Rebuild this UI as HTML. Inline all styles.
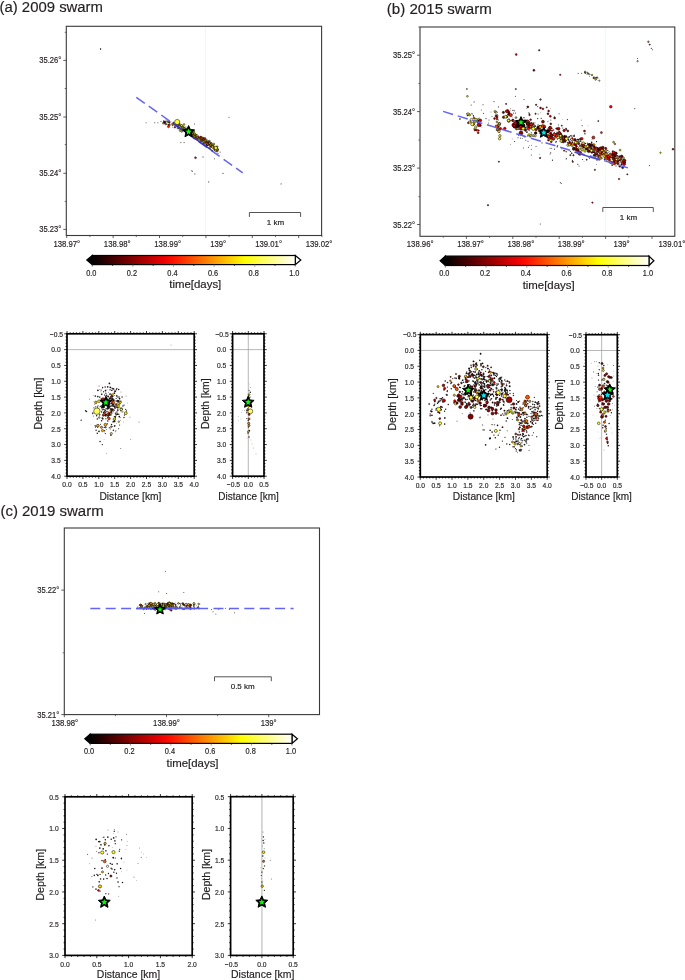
<!DOCTYPE html>
<html><head><meta charset="utf-8"><style>
html,body{margin:0;padding:0;background:#fff;}
svg{display:block;will-change:transform;}
text{font-family:"Liberation Sans",sans-serif;stroke:#231f20;stroke-width:0.18px;}
</style></head><body>
<svg width="685" height="980" viewBox="0 0 685 980" fill="#231f20">
<line x1="205.5" y1="26.3" x2="205.5" y2="235.5" stroke="#f1f6f6" stroke-width="1"/>
<line x1="605.6" y1="27" x2="605.6" y2="236.3" stroke="#f4f8f8" stroke-width="1"/>
<line x1="67" y1="349.62" x2="194.2" y2="349.62" stroke="#9a9a9a" stroke-width="0.7" />
<line x1="232.6" y1="349.62" x2="264" y2="349.62" stroke="#9a9a9a" stroke-width="0.7" />
<line x1="248.3" y1="333.8" x2="248.3" y2="476.2" stroke="#9a9a9a" stroke-width="0.7" />
<line x1="420.3" y1="350.42" x2="547.2" y2="350.42" stroke="#9a9a9a" stroke-width="0.7" />
<line x1="586" y1="350.51" x2="617.3" y2="350.51" stroke="#9a9a9a" stroke-width="0.7" />
<line x1="601.65" y1="334.7" x2="601.65" y2="477" stroke="#9a9a9a" stroke-width="0.7" />
<line x1="261.9" y1="796.7" x2="261.9" y2="955.4" stroke="#c8c8c8" stroke-width="1.4" />
<circle cx="167.08" cy="124.39" r="0.32" fill="#442"/>
<circle cx="163.68" cy="123.75" r="0.47" fill="#442"/>
<circle cx="165.53" cy="123.92" r="0.37" fill="#442"/>
<circle cx="168.66" cy="124.43" r="0.55" fill="#111"/>
<circle cx="176.75" cy="124.88" r="0.32" fill="#442"/>
<circle cx="169.07" cy="122.03" r="0.59" fill="#111"/>
<circle cx="170.42" cy="125.34" r="0.46" fill="#442"/>
<circle cx="166.90" cy="124.21" r="0.54" fill="#1a1a1a"/>
<circle cx="164.76" cy="121.14" r="0.33" fill="#555"/>
<circle cx="164.03" cy="121.39" r="0.32" fill="#1a1a1a"/>
<circle cx="170.86" cy="121.42" r="0.44" fill="#333"/>
<circle cx="168.25" cy="122.79" r="0.37" fill="#1a1a1a"/>
<circle cx="172.76" cy="125.07" r="0.46" fill="#222"/>
<circle cx="172.51" cy="127.12" r="0.39" fill="#111"/>
<circle cx="165.44" cy="119.88" r="0.35" fill="#333"/>
<circle cx="168.46" cy="124.86" r="0.59" fill="#111"/>
<circle cx="174.69" cy="122.57" r="0.39" fill="#555"/>
<circle cx="168.39" cy="121.89" r="0.45" fill="#888"/>
<circle cx="168.91" cy="125.12" r="0.69" fill="#ffa100" stroke="#000" stroke-width="0.5"/>
<circle cx="173.57" cy="122.9" r="0.76" fill="#b30000" stroke="#000" stroke-width="0.5"/>
<circle cx="167.4" cy="121.76" r="0.51" fill="#ffaf00" stroke="#000" stroke-width="0.5"/>
<circle cx="164.28" cy="123.1" r="0.52" fill="#ffaa00" stroke="#000" stroke-width="0.5"/>
<circle cx="167.05" cy="121.11" r="0.53" fill="#ffe300" stroke="#000" stroke-width="0.5"/>
<circle cx="174.89" cy="127.24" r="0.83" fill="#690000" stroke="#000" stroke-width="0.5"/>
<circle cx="169.3" cy="122.22" r="0.88" fill="#e30000" stroke="#000" stroke-width="0.5"/>
<circle cx="165.65" cy="124.33" r="0.59" fill="#ffe900" stroke="#000" stroke-width="0.5"/>
<circle cx="166.29" cy="123.89" r="0.65" fill="#ffff29" stroke="#000" stroke-width="0.5"/>
<circle cx="172.66" cy="124.98" r="0.71" fill="#fff400" stroke="#000" stroke-width="0.5"/>
<circle cx="163.24" cy="123.23" r="0.85" fill="#ffce00" stroke="#000" stroke-width="0.5"/>
<circle cx="168.97" cy="122.43" r="0.54" fill="#ffa100" stroke="#000" stroke-width="0.5"/>
<circle cx="163.89" cy="121.99" r="0.64" fill="#cc0000" stroke="#000" stroke-width="0.5"/>
<circle cx="164.9" cy="122.85" r="0.54" fill="#cf0000" stroke="#000" stroke-width="0.5"/>
<circle cx="175.4" cy="125.43" r="0.6" fill="#fd0000" stroke="#000" stroke-width="0.5"/>
<circle cx="164.86" cy="121.73" r="0.84" fill="#830000" stroke="#000" stroke-width="0.5"/>
<circle cx="169.63" cy="124.33" r="0.64" fill="#ff3d00" stroke="#000" stroke-width="0.5"/>
<circle cx="165.17" cy="122.55" r="0.51" fill="#8b0000" stroke="#000" stroke-width="0.5"/>
<circle cx="182.34" cy="127.43" r="0.46" fill="#555"/>
<circle cx="212.31" cy="145.93" r="0.51" fill="#222"/>
<circle cx="197.12" cy="138.29" r="0.37" fill="#442"/>
<circle cx="209.14" cy="143.17" r="0.40" fill="#1a1a1a"/>
<circle cx="201.42" cy="140.19" r="0.36" fill="#1a1a1a"/>
<circle cx="211.73" cy="142.63" r="0.52" fill="#1a1a1a"/>
<circle cx="185.74" cy="126.88" r="0.60" fill="#888"/>
<circle cx="187.67" cy="131.23" r="0.38" fill="#555"/>
<circle cx="202.26" cy="138.04" r="0.52" fill="#222"/>
<circle cx="214.86" cy="150.42" r="0.41" fill="#1a1a1a"/>
<circle cx="181.03" cy="125.39" r="0.44" fill="#442"/>
<circle cx="211.16" cy="145.66" r="0.44" fill="#555"/>
<circle cx="191.43" cy="131.16" r="0.34" fill="#333"/>
<circle cx="210.09" cy="141.92" r="0.53" fill="#333"/>
<circle cx="214.42" cy="144.89" r="0.33" fill="#555"/>
<circle cx="192.15" cy="134.88" r="0.42" fill="#111"/>
<circle cx="206.23" cy="142.83" r="0.35" fill="#333"/>
<circle cx="209.49" cy="145.19" r="0.34" fill="#888"/>
<circle cx="202.96" cy="136.02" r="0.35" fill="#442"/>
<circle cx="181.19" cy="127.86" r="0.30" fill="#555"/>
<circle cx="205.19" cy="137.43" r="0.43" fill="#888"/>
<circle cx="184.50" cy="128.44" r="0.56" fill="#111"/>
<circle cx="186.74" cy="130.15" r="0.48" fill="#222"/>
<circle cx="198.27" cy="138.86" r="0.55" fill="#111"/>
<circle cx="214.78" cy="146.29" r="0.48" fill="#442"/>
<circle cx="192.94" cy="135.93" r="0.58" fill="#442"/>
<circle cx="180.92" cy="128.28" r="0.56" fill="#888"/>
<circle cx="182.88" cy="130.00" r="0.30" fill="#888"/>
<circle cx="181.57" cy="129.02" r="0.34" fill="#111"/>
<circle cx="188.80" cy="133.79" r="0.46" fill="#442"/>
<circle cx="195.98" cy="136.77" r="0.32" fill="#1a1a1a"/>
<circle cx="189.33" cy="128.27" r="0.53" fill="#442"/>
<circle cx="193.26" cy="138.38" r="0.32" fill="#222"/>
<circle cx="201.42" cy="140.12" r="0.45" fill="#442"/>
<circle cx="184.54" cy="128.81" r="0.54" fill="#442"/>
<circle cx="214.57" cy="149.61" r="0.51" fill="#222"/>
<circle cx="214.32" cy="148.25" r="0.43" fill="#333"/>
<circle cx="181.46" cy="126.53" r="0.43" fill="#111"/>
<circle cx="204.71" cy="140.26" r="0.39" fill="#111"/>
<circle cx="213.43" cy="147.29" r="0.35" fill="#555"/>
<circle cx="203.45" cy="139.71" r="0.34" fill="#333"/>
<circle cx="184.75" cy="130.38" r="0.59" fill="#333"/>
<circle cx="212.52" cy="147.62" r="0.37" fill="#555"/>
<circle cx="193.07" cy="136.74" r="0.45" fill="#222"/>
<circle cx="193.92" cy="134.37" r="0.41" fill="#222"/>
<circle cx="198.98" cy="138.60" r="0.43" fill="#111"/>
<circle cx="192.83" cy="132.66" r="0.59" fill="#111"/>
<circle cx="217.45" cy="148.99" r="0.54" fill="#111"/>
<circle cx="179.78" cy="125.74" r="0.35" fill="#888"/>
<circle cx="179.65" cy="130.25" r="0.43" fill="#555"/>
<circle cx="210.42" cy="144.84" r="0.58" fill="#442"/>
<circle cx="196.30" cy="137.39" r="0.40" fill="#222"/>
<circle cx="178.75" cy="124.92" r="0.32" fill="#111"/>
<circle cx="203.46" cy="138.85" r="0.54" fill="#111"/>
<circle cx="201.43" cy="139.69" r="0.34" fill="#111"/>
<circle cx="189.60" cy="133.70" r="0.47" fill="#222"/>
<circle cx="200.85" cy="141.93" r="0.58" fill="#1a1a1a"/>
<circle cx="186.65" cy="131.25" r="0.35" fill="#222"/>
<circle cx="202.96" cy="139.12" r="0.43" fill="#555"/>
<circle cx="183.58" cy="128.36" r="0.40" fill="#111"/>
<circle cx="217.65" cy="149.55" r="0.83" fill="#de0000" stroke="#000" stroke-width="0.5"/>
<circle cx="186.29" cy="130.31" r="0.8" fill="#ffff37" stroke="#000" stroke-width="0.5"/>
<circle cx="204.82" cy="138.68" r="1.04" fill="#fff400" stroke="#000" stroke-width="0.5"/>
<circle cx="186.01" cy="129.24" r="0.69" fill="#ff8700" stroke="#000" stroke-width="0.5"/>
<circle cx="180.11" cy="130.46" r="0.98" fill="#ffff33" stroke="#000" stroke-width="0.5"/>
<circle cx="213.07" cy="146.24" r="0.79" fill="#ffff39" stroke="#000" stroke-width="0.5"/>
<circle cx="193.65" cy="130.99" r="0.87" fill="#ffe100" stroke="#000" stroke-width="0.5"/>
<circle cx="183.85" cy="128.62" r="0.72" fill="#ffff08" stroke="#000" stroke-width="0.5"/>
<circle cx="189.27" cy="133.29" r="0.62" fill="#ff4c00" stroke="#000" stroke-width="0.5"/>
<circle cx="183.74" cy="128.58" r="0.75" fill="#fffb00" stroke="#000" stroke-width="0.5"/>
<circle cx="203.54" cy="140.75" r="0.64" fill="#ff4300" stroke="#000" stroke-width="0.5"/>
<circle cx="199.57" cy="140.74" r="0.78" fill="#ffff33" stroke="#000" stroke-width="0.5"/>
<circle cx="178.37" cy="128.09" r="0.67" fill="#ff8d00" stroke="#000" stroke-width="0.5"/>
<circle cx="201.38" cy="138.68" r="0.94" fill="#ff6c00" stroke="#000" stroke-width="0.5"/>
<circle cx="188.19" cy="130.83" r="0.97" fill="#ff6e00" stroke="#000" stroke-width="0.5"/>
<circle cx="194.26" cy="134.56" r="0.92" fill="#ffff61" stroke="#000" stroke-width="0.5"/>
<circle cx="208.66" cy="141.49" r="0.61" fill="#ffff4f" stroke="#000" stroke-width="0.5"/>
<circle cx="206.35" cy="141.35" r="1.03" fill="#ffe600" stroke="#000" stroke-width="0.5"/>
<circle cx="178.79" cy="123.38" r="0.77" fill="#ffe200" stroke="#000" stroke-width="0.5"/>
<circle cx="177.99" cy="122.51" r="0.84" fill="#fff900" stroke="#000" stroke-width="0.5"/>
<circle cx="193.88" cy="137.81" r="1" fill="#ffff22" stroke="#000" stroke-width="0.5"/>
<circle cx="206.7" cy="144.03" r="0.81" fill="#ff9400" stroke="#000" stroke-width="0.5"/>
<circle cx="185.84" cy="130.02" r="0.89" fill="#ffff56" stroke="#000" stroke-width="0.5"/>
<circle cx="179.67" cy="125.21" r="1.01" fill="#ffe200" stroke="#000" stroke-width="0.5"/>
<circle cx="202.31" cy="140.58" r="0.75" fill="#ffff3e" stroke="#000" stroke-width="0.5"/>
<circle cx="201.29" cy="141.15" r="0.66" fill="#ffff1c" stroke="#000" stroke-width="0.5"/>
<circle cx="216.49" cy="149.38" r="0.82" fill="#ff5400" stroke="#000" stroke-width="0.5"/>
<circle cx="195.31" cy="136.3" r="0.95" fill="#e20000" stroke="#000" stroke-width="0.5"/>
<circle cx="188.49" cy="132.94" r="0.73" fill="#ffff1f" stroke="#000" stroke-width="0.5"/>
<circle cx="217.41" cy="149.96" r="1.05" fill="#ffff62" stroke="#000" stroke-width="0.5"/>
<circle cx="214.84" cy="148.13" r="0.94" fill="#ffff07" stroke="#000" stroke-width="0.5"/>
<circle cx="201.22" cy="139.59" r="0.88" fill="#ffe900" stroke="#000" stroke-width="0.5"/>
<circle cx="192.61" cy="131.22" r="0.78" fill="#ffff68" stroke="#000" stroke-width="0.5"/>
<circle cx="204.61" cy="141.41" r="0.78" fill="#ff6300" stroke="#000" stroke-width="0.5"/>
<circle cx="191.39" cy="134.26" r="0.75" fill="#ffff0d" stroke="#000" stroke-width="0.5"/>
<circle cx="215.09" cy="148.6" r="0.69" fill="#ffff45" stroke="#000" stroke-width="0.5"/>
<circle cx="186.07" cy="131.39" r="0.99" fill="#ffff64" stroke="#000" stroke-width="0.5"/>
<circle cx="207.49" cy="143.67" r="0.98" fill="#ffe200" stroke="#000" stroke-width="0.5"/>
<circle cx="204.04" cy="140.5" r="1.04" fill="#ffff00" stroke="#000" stroke-width="0.5"/>
<circle cx="208.74" cy="143.28" r="0.95" fill="#ffe000" stroke="#000" stroke-width="0.5"/>
<circle cx="209.02" cy="141.73" r="0.85" fill="#ffe500" stroke="#000" stroke-width="0.5"/>
<circle cx="214.46" cy="149.03" r="0.78" fill="#ffec00" stroke="#000" stroke-width="0.5"/>
<circle cx="213.89" cy="143.92" r="0.85" fill="#ffff10" stroke="#000" stroke-width="0.5"/>
<circle cx="187.71" cy="131.39" r="0.72" fill="#ff7e00" stroke="#000" stroke-width="0.5"/>
<circle cx="193.01" cy="134.44" r="0.9" fill="#ffff35" stroke="#000" stroke-width="0.5"/>
<circle cx="178.44" cy="127.09" r="0.83" fill="#ff7200" stroke="#000" stroke-width="0.5"/>
<circle cx="195.55" cy="134.69" r="0.79" fill="#fff700" stroke="#000" stroke-width="0.5"/>
<circle cx="182.43" cy="129.96" r="0.85" fill="#ffff09" stroke="#000" stroke-width="0.5"/>
<circle cx="209.96" cy="144.7" r="0.99" fill="#ffff46" stroke="#000" stroke-width="0.5"/>
<circle cx="184.7" cy="129.55" r="0.72" fill="#ff6c00" stroke="#000" stroke-width="0.5"/>
<circle cx="200.73" cy="137.65" r="0.84" fill="#ff9500" stroke="#000" stroke-width="0.5"/>
<circle cx="179.16" cy="127.56" r="1" fill="#ffff36" stroke="#000" stroke-width="0.5"/>
<circle cx="194.57" cy="134.3" r="1.04" fill="#ffff12" stroke="#000" stroke-width="0.5"/>
<circle cx="207.02" cy="145.22" r="0.96" fill="#db0000" stroke="#000" stroke-width="0.5"/>
<circle cx="177.78" cy="128" r="0.84" fill="#ffff16" stroke="#000" stroke-width="0.5"/>
<circle cx="209.5" cy="142.97" r="0.7" fill="#ffff6b" stroke="#000" stroke-width="0.5"/>
<circle cx="180.13" cy="127.5" r="0.98" fill="#ff3c00" stroke="#000" stroke-width="0.5"/>
<circle cx="209.49" cy="142.39" r="0.6" fill="#ffff29" stroke="#000" stroke-width="0.5"/>
<circle cx="177.93" cy="124.39" r="0.88" fill="#ffff14" stroke="#000" stroke-width="0.5"/>
<circle cx="209.64" cy="140.91" r="0.64" fill="#ffff66" stroke="#000" stroke-width="0.5"/>
<circle cx="184.13" cy="128.76" r="0.6" fill="#ffff6f" stroke="#000" stroke-width="0.5"/>
<circle cx="186.6" cy="132.91" r="0.74" fill="#ff4f00" stroke="#000" stroke-width="0.5"/>
<circle cx="198.25" cy="137.18" r="0.79" fill="#ffe300" stroke="#000" stroke-width="0.5"/>
<circle cx="184.2" cy="128.88" r="1" fill="#ffe500" stroke="#000" stroke-width="0.5"/>
<circle cx="186.1" cy="128.93" r="0.82" fill="#ffff42" stroke="#000" stroke-width="0.5"/>
<circle cx="190.94" cy="133.69" r="0.78" fill="#fffc00" stroke="#000" stroke-width="0.5"/>
<circle cx="210.83" cy="146.65" r="0.69" fill="#ff4900" stroke="#000" stroke-width="0.5"/>
<circle cx="195.24" cy="136.35" r="0.72" fill="#ff3f00" stroke="#000" stroke-width="0.5"/>
<circle cx="203.21" cy="138.22" r="0.82" fill="#af0000" stroke="#000" stroke-width="0.5"/>
<circle cx="201.83" cy="137.77" r="1.01" fill="#ffdf00" stroke="#000" stroke-width="0.5"/>
<circle cx="201.88" cy="137.81" r="0.68" fill="#ffff41" stroke="#000" stroke-width="0.5"/>
<circle cx="188.7" cy="132.83" r="0.65" fill="#ffef00" stroke="#000" stroke-width="0.5"/>
<circle cx="184.45" cy="128.14" r="0.81" fill="#ffff43" stroke="#000" stroke-width="0.5"/>
<circle cx="211.86" cy="144.37" r="1.04" fill="#ffe800" stroke="#000" stroke-width="0.5"/>
<circle cx="178.72" cy="126.93" r="1" fill="#ffff48" stroke="#000" stroke-width="0.5"/>
<circle cx="191.65" cy="134.21" r="0.95" fill="#ffff50" stroke="#000" stroke-width="0.5"/>
<circle cx="179.8" cy="126.05" r="0.84" fill="#ffff01" stroke="#000" stroke-width="0.5"/>
<circle cx="207.36" cy="142.15" r="0.81" fill="#fff700" stroke="#000" stroke-width="0.5"/>
<circle cx="202.77" cy="139.13" r="0.81" fill="#ff3a00" stroke="#000" stroke-width="0.5"/>
<circle cx="183.85" cy="129.53" r="0.63" fill="#ffff08" stroke="#000" stroke-width="0.5"/>
<circle cx="189.89" cy="132.84" r="0.94" fill="#ffff63" stroke="#000" stroke-width="0.5"/>
<circle cx="188.54" cy="131.5" r="0.92" fill="#ffff50" stroke="#000" stroke-width="0.5"/>
<circle cx="214.68" cy="149.89" r="0.65" fill="#ff6800" stroke="#000" stroke-width="0.5"/>
<circle cx="208.14" cy="144.56" r="0.96" fill="#fd0000" stroke="#000" stroke-width="0.5"/>
<circle cx="181.66" cy="127.25" r="1.02" fill="#ffff3d" stroke="#000" stroke-width="0.5"/>
<circle cx="182.35" cy="127.86" r="0.71" fill="#ff6800" stroke="#000" stroke-width="0.5"/>
<circle cx="209.54" cy="142.97" r="0.78" fill="#ffff0f" stroke="#000" stroke-width="0.5"/>
<circle cx="203.7" cy="139.87" r="0.82" fill="#ffee00" stroke="#000" stroke-width="0.5"/>
<circle cx="193.73" cy="135.19" r="0.88" fill="#ffff11" stroke="#000" stroke-width="0.5"/>
<circle cx="217.37" cy="149.45" r="1.04" fill="#ffeb00" stroke="#000" stroke-width="0.5"/>
<circle cx="195.01" cy="136.34" r="0.84" fill="#ff8a00" stroke="#000" stroke-width="0.5"/>
<circle cx="209.04" cy="143.41" r="0.73" fill="#fffa00" stroke="#000" stroke-width="0.5"/>
<circle cx="186.71" cy="130.41" r="0.68" fill="#fffb00" stroke="#000" stroke-width="0.5"/>
<circle cx="213.45" cy="148.24" r="0.68" fill="#fff800" stroke="#000" stroke-width="0.5"/>
<circle cx="187.22" cy="128.81" r="0.65" fill="#ffe100" stroke="#000" stroke-width="0.5"/>
<circle cx="176.34" cy="123.87" r="1" fill="#ffff16" stroke="#000" stroke-width="0.5"/>
<circle cx="191.38" cy="134.07" r="0.62" fill="#ffff54" stroke="#000" stroke-width="0.5"/>
<circle cx="184.47" cy="128.43" r="0.63" fill="#fff000" stroke="#000" stroke-width="0.5"/>
<circle cx="201.18" cy="139.61" r="0.6" fill="#ffff40" stroke="#000" stroke-width="0.5"/>
<circle cx="191.6" cy="131.42" r="0.62" fill="#ffe100" stroke="#000" stroke-width="0.5"/>
<circle cx="217.01" cy="151.11" r="1.01" fill="#ff9100" stroke="#000" stroke-width="0.5"/>
<circle cx="192.94" cy="134.83" r="0.77" fill="#ffe500" stroke="#000" stroke-width="0.5"/>
<circle cx="178.04" cy="123.62" r="0.78" fill="#ff7f00" stroke="#000" stroke-width="0.5"/>
<circle cx="182.47" cy="127.97" r="0.84" fill="#ffff0d" stroke="#000" stroke-width="0.5"/>
<circle cx="186.47" cy="132.43" r="0.79" fill="#ffff46" stroke="#000" stroke-width="0.5"/>
<circle cx="213.18" cy="146.42" r="0.79" fill="#ffff4a" stroke="#000" stroke-width="0.5"/>
<circle cx="210.07" cy="143.83" r="0.78" fill="#d60000" stroke="#000" stroke-width="0.5"/>
<circle cx="183.06" cy="127.19" r="0.65" fill="#ffff2b" stroke="#000" stroke-width="0.5"/>
<circle cx="191.27" cy="133.38" r="0.62" fill="#ffff50" stroke="#000" stroke-width="0.5"/>
<circle cx="192.99" cy="133.58" r="0.86" fill="#f50000" stroke="#000" stroke-width="0.5"/>
<circle cx="183.42" cy="128.03" r="0.68" fill="#ffff0b" stroke="#000" stroke-width="0.5"/>
<circle cx="207.35" cy="143.71" r="0.96" fill="#ff5500" stroke="#000" stroke-width="0.5"/>
<circle cx="209.84" cy="147.53" r="0.74" fill="#ffff34" stroke="#000" stroke-width="0.5"/>
<circle cx="179.25" cy="126.81" r="0.92" fill="#ffff5e" stroke="#000" stroke-width="0.5"/>
<circle cx="202.36" cy="141.22" r="0.88" fill="#ffff1a" stroke="#000" stroke-width="0.5"/>
<circle cx="200.43" cy="137.3" r="0.62" fill="#b90000" stroke="#000" stroke-width="0.5"/>
<circle cx="190.11" cy="134.77" r="0.97" fill="#ffff5d" stroke="#000" stroke-width="0.5"/>
<circle cx="210.05" cy="147.68" r="0.9" fill="#ffff01" stroke="#000" stroke-width="0.5"/>
<circle cx="193.54" cy="132.02" r="0.95" fill="#fffe00" stroke="#000" stroke-width="0.5"/>
<circle cx="186.14" cy="130.9" r="0.78" fill="#ffff1f" stroke="#000" stroke-width="0.5"/>
<circle cx="181.69" cy="131.56" r="0.81" fill="#ffff31" stroke="#000" stroke-width="0.5"/>
<circle cx="210.36" cy="144.95" r="0.98" fill="#ff6100" stroke="#000" stroke-width="0.5"/>
<circle cx="179.19" cy="125.09" r="0.96" fill="#ffff38" stroke="#000" stroke-width="0.5"/>
<circle cx="177.25" cy="125.8" r="0.66" fill="#ca0000" stroke="#000" stroke-width="0.5"/>
<circle cx="205.35" cy="143.87" r="1" fill="#ffff4c" stroke="#000" stroke-width="0.5"/>
<circle cx="176.59" cy="125.48" r="0.63" fill="#ffff3e" stroke="#000" stroke-width="0.5"/>
<circle cx="179.72" cy="128.24" r="0.73" fill="#ff8e00" stroke="#000" stroke-width="0.5"/>
<circle cx="203.86" cy="143.07" r="0.92" fill="#ffff54" stroke="#000" stroke-width="0.5"/>
<circle cx="201.65" cy="139.55" r="0.88" fill="#d80000" stroke="#000" stroke-width="0.5"/>
<circle cx="186.12" cy="131.39" r="1.03" fill="#ffff2d" stroke="#000" stroke-width="0.5"/>
<circle cx="201.82" cy="139.78" r="0.69" fill="#ffff34" stroke="#000" stroke-width="0.5"/>
<circle cx="187.09" cy="132.08" r="0.75" fill="#ffff4e" stroke="#000" stroke-width="0.5"/>
<circle cx="187.08" cy="130.78" r="0.99" fill="#d80000" stroke="#000" stroke-width="0.5"/>
<circle cx="198.1" cy="136.98" r="0.91" fill="#ff5000" stroke="#000" stroke-width="0.5"/>
<circle cx="197.87" cy="138.7" r="0.77" fill="#ffff09" stroke="#000" stroke-width="0.5"/>
<circle cx="182.94" cy="126.41" r="0.75" fill="#fff600" stroke="#000" stroke-width="0.5"/>
<circle cx="201.34" cy="140.52" r="0.83" fill="#ffff6a" stroke="#000" stroke-width="0.5"/>
<circle cx="212.69" cy="145.97" r="1.02" fill="#ff8700" stroke="#000" stroke-width="0.5"/>
<circle cx="207.29" cy="143.2" r="0.88" fill="#ffff08" stroke="#000" stroke-width="0.5"/>
<circle cx="177.5" cy="126.06" r="0.82" fill="#ffe100" stroke="#000" stroke-width="0.5"/>
<circle cx="178.77" cy="124.59" r="0.84" fill="#ffff10" stroke="#000" stroke-width="0.5"/>
<circle cx="188.87" cy="131.32" r="0.66" fill="#ffff54" stroke="#000" stroke-width="0.5"/>
<circle cx="181.55" cy="129.88" r="0.92" fill="#ffe300" stroke="#000" stroke-width="0.5"/>
<circle cx="181.98" cy="127.85" r="0.9" fill="#ffff51" stroke="#000" stroke-width="0.5"/>
<circle cx="215.54" cy="150.45" r="1" fill="#ffff2b" stroke="#000" stroke-width="0.5"/>
<circle cx="200.88" cy="140.01" r="0.83" fill="#ffee00" stroke="#000" stroke-width="0.5"/>
<circle cx="175.89" cy="124.22" r="0.68" fill="#ffff61" stroke="#000" stroke-width="0.5"/>
<circle cx="180.35" cy="126.76" r="0.88" fill="#fff200" stroke="#000" stroke-width="0.5"/>
<circle cx="194.24" cy="133.07" r="0.89" fill="#ffff31" stroke="#000" stroke-width="0.5"/>
<circle cx="197.46" cy="136.8" r="0.63" fill="#ffff6f" stroke="#000" stroke-width="0.5"/>
<circle cx="207.19" cy="141.21" r="0.77" fill="#ffff61" stroke="#000" stroke-width="0.5"/>
<circle cx="179.27" cy="126.23" r="0.89" fill="#ffff6f" stroke="#000" stroke-width="0.5"/>
<circle cx="187.18" cy="130.34" r="1" fill="#ff0b00" stroke="#000" stroke-width="0.5"/>
<circle cx="187.31" cy="130.3" r="0.62" fill="#ffff3b" stroke="#000" stroke-width="0.5"/>
<circle cx="203.36" cy="143.87" r="0.73" fill="#ff0600" stroke="#000" stroke-width="0.5"/>
<circle cx="180.41" cy="124.82" r="0.83" fill="#ffff60" stroke="#000" stroke-width="0.5"/>
<circle cx="211.25" cy="145.64" r="1.01" fill="#ffff0c" stroke="#000" stroke-width="0.5"/>
<circle cx="200.9" cy="139.91" r="0.77" fill="#ff9d00" stroke="#000" stroke-width="0.5"/>
<circle cx="216.81" cy="149.72" r="0.81" fill="#ffdd00" stroke="#000" stroke-width="0.5"/>
<circle cx="177.76" cy="123.61" r="1.03" fill="#ffff5d" stroke="#000" stroke-width="0.5"/>
<circle cx="209.79" cy="143.07" r="0.85" fill="#ffe000" stroke="#000" stroke-width="0.5"/>
<circle cx="180.18" cy="127.71" r="0.88" fill="#ffff6c" stroke="#000" stroke-width="0.5"/>
<circle cx="205.1" cy="142.42" r="0.89" fill="#ffe400" stroke="#000" stroke-width="0.5"/>
<circle cx="177.9" cy="125.3" r="0.99" fill="#ff4a00" stroke="#000" stroke-width="0.5"/>
<circle cx="216.99" cy="146.86" r="1" fill="#ff8500" stroke="#000" stroke-width="0.5"/>
<circle cx="192.32" cy="133.47" r="0.71" fill="#ffe000" stroke="#000" stroke-width="0.5"/>
<circle cx="214.98" cy="149.66" r="0.64" fill="#ff7c00" stroke="#000" stroke-width="0.5"/>
<circle cx="196.59" cy="135.26" r="0.66" fill="#ff7d00" stroke="#000" stroke-width="0.5"/>
<circle cx="188.62" cy="131.1" r="0.76" fill="#ae0000" stroke="#000" stroke-width="0.5"/>
<circle cx="207.5" cy="144.06" r="1.01" fill="#ff7800" stroke="#000" stroke-width="0.5"/>
<circle cx="203.35" cy="139.83" r="0.92" fill="#ff2300" stroke="#000" stroke-width="0.5"/>
<circle cx="195.61" cy="138.29" r="0.79" fill="#ff2800" stroke="#000" stroke-width="0.5"/>
<circle cx="206.74" cy="143.33" r="0.71" fill="#ffff1d" stroke="#000" stroke-width="0.5"/>
<circle cx="200.66" cy="137.09" r="0.9" fill="#ff1200" stroke="#000" stroke-width="0.5"/>
<circle cx="197.04" cy="135.75" r="0.99" fill="#ffff5f" stroke="#000" stroke-width="0.5"/>
<circle cx="204.92" cy="138.68" r="0.83" fill="#ff4200" stroke="#000" stroke-width="0.5"/>
<circle cx="210.9" cy="144.96" r="0.98" fill="#ffff18" stroke="#000" stroke-width="0.5"/>
<circle cx="211.45" cy="146.08" r="0.82" fill="#ff1000" stroke="#000" stroke-width="0.5"/>
<circle cx="195.37" cy="138.58" r="0.9" fill="#ffff2f" stroke="#000" stroke-width="0.5"/>
<circle cx="201.93" cy="138.19" r="0.72" fill="#ffff20" stroke="#000" stroke-width="0.5"/>
<circle cx="196.98" cy="138.78" r="0.98" fill="#ff2b00" stroke="#000" stroke-width="0.5"/>
<circle cx="206.82" cy="142.22" r="0.84" fill="#ff2a00" stroke="#000" stroke-width="0.5"/>
<circle cx="203.38" cy="141.55" r="0.82" fill="#ffff13" stroke="#000" stroke-width="0.5"/>
<circle cx="207.25" cy="141.49" r="0.7" fill="#ff1100" stroke="#000" stroke-width="0.5"/>
<circle cx="206.18" cy="141.49" r="0.71" fill="#ffff4b" stroke="#000" stroke-width="0.5"/>
<circle cx="206.24" cy="140.41" r="0.89" fill="#ffff3b" stroke="#000" stroke-width="0.5"/>
<circle cx="205.53" cy="141.05" r="0.98" fill="#ffff5f" stroke="#000" stroke-width="0.5"/>
<circle cx="211.52" cy="146.12" r="0.67" fill="#fff000" stroke="#000" stroke-width="0.5"/>
<circle cx="197.23" cy="137.58" r="0.72" fill="#ffe800" stroke="#000" stroke-width="0.5"/>
<circle cx="210.05" cy="145.38" r="0.71" fill="#ffff13" stroke="#000" stroke-width="0.5"/>
<circle cx="194.78" cy="136.36" r="0.69" fill="#fffb00" stroke="#000" stroke-width="0.5"/>
<circle cx="195.94" cy="134.77" r="0.7" fill="#ffdd00" stroke="#000" stroke-width="0.5"/>
<circle cx="198.5" cy="138.97" r="0.83" fill="#ffff4e" stroke="#000" stroke-width="0.5"/>
<circle cx="207.17" cy="140.79" r="0.86" fill="#ffff2f" stroke="#000" stroke-width="0.5"/>
<circle cx="204.87" cy="141.43" r="0.65" fill="#fff700" stroke="#000" stroke-width="0.5"/>
<circle cx="177.2" cy="122" r="2.6" fill="#ffff33" stroke="#000" stroke-width="0.5"/>
<circle cx="215.8" cy="148" r="1.7" fill="#fff800" stroke="#000" stroke-width="0.5"/>
<circle cx="212.5" cy="147" r="1.1" fill="#ffdc00" stroke="#000" stroke-width="0.5"/>
<circle cx="168.5" cy="126.6" r="1.1" fill="#ff1e00" stroke="#000" stroke-width="0.5"/>
<circle cx="172.5" cy="124" r="0.9" fill="#ff9900" stroke="#000" stroke-width="0.5"/>
<circle cx="195.5" cy="157.7" r="0.9" fill="#ff0300" stroke="#000" stroke-width="0.5"/>
<circle cx="100.6" cy="49" r="0.5" fill="#aa0000" stroke="#000" stroke-width="0.5"/>
<circle cx="200" cy="138" r="1" fill="#ff3300" stroke="#000" stroke-width="0.5"/>
<circle cx="206" cy="142" r="0.9" fill="#ff1100" stroke="#000" stroke-width="0.5"/>
<circle cx="181.5" cy="125.5" r="1" fill="#ffea00" stroke="#000" stroke-width="0.5"/>
<circle cx="184" cy="124.5" r="0.9" fill="#ffff00" stroke="#000" stroke-width="0.5"/>
<circle cx="146.10" cy="122.70" r="0.55" fill="#444"/>
<circle cx="154.70" cy="122.70" r="0.55" fill="#444"/>
<circle cx="157.90" cy="122.70" r="0.55" fill="#444"/>
<circle cx="229.00" cy="117.20" r="0.55" fill="#444"/>
<circle cx="194.50" cy="124.00" r="0.55" fill="#444"/>
<circle cx="180.90" cy="142.60" r="0.55" fill="#444"/>
<circle cx="184.10" cy="142.60" r="0.55" fill="#444"/>
<circle cx="203.00" cy="156.90" r="0.55" fill="#444"/>
<circle cx="191.70" cy="170.70" r="0.55" fill="#444"/>
<circle cx="194.90" cy="173.90" r="0.55" fill="#444"/>
<circle cx="208.70" cy="181.90" r="0.55" fill="#444"/>
<circle cx="223.00" cy="173.40" r="0.55" fill="#444"/>
<circle cx="220.10" cy="152.10" r="0.55" fill="#444"/>
<circle cx="214.40" cy="158.70" r="0.55" fill="#444"/>
<circle cx="281.10" cy="183.90" r="0.55" fill="#444"/>
<circle cx="192.40" cy="171.30" r="0.55" fill="#444"/>
<circle cx="161.00" cy="121.50" r="0.55" fill="#444"/>
<circle cx="163.50" cy="120.80" r="0.55" fill="#444"/>
<circle cx="216.50" cy="151.50" r="0.55" fill="#444"/>
<circle cx="218.00" cy="153.50" r="0.55" fill="#444"/>
<line x1="136.3" y1="97.3" x2="242.7" y2="172.8" stroke="#6464f5" stroke-width="1.5" stroke-dasharray="10.4 4.9" stroke-dashoffset="0"/>
<line x1="173.5" y1="123.6" x2="213" y2="151.2" stroke="#3030c8" stroke-width="1.4" />
<polygon points="188.6,125.6 190.31,129.44 194.5,129.88 191.37,132.7 192.24,136.82 188.6,134.71 184.96,136.82 185.83,132.7 182.7,129.88 186.89,129.44" fill="#000" stroke="#000" stroke-width="1" stroke-linejoin="miter"/>
<polygon points="188.6,128.58 189.49,130.57 191.67,130.8 190.04,132.27 190.5,134.41 188.6,133.32 186.7,134.41 187.16,132.27 185.53,130.8 187.71,130.57" fill="#00ff00"/>
<circle cx="477.21" cy="131.68" r="0.42" fill="#2a1010"/>
<circle cx="477.41" cy="125.85" r="0.43" fill="#2a1010"/>
<circle cx="479.74" cy="123.40" r="0.55" fill="#777"/>
<circle cx="478.45" cy="120.55" r="0.50" fill="#111"/>
<circle cx="481.05" cy="123.42" r="0.38" fill="#331111"/>
<circle cx="473.31" cy="116.51" r="0.49" fill="#111"/>
<circle cx="476.23" cy="130.24" r="0.51" fill="#2a1010"/>
<circle cx="477.87" cy="122.05" r="0.65" fill="#1a1a1a"/>
<circle cx="471.69" cy="113.25" r="0.43" fill="#2a1010"/>
<circle cx="466.98" cy="113.65" r="0.62" fill="#444"/>
<circle cx="477.17" cy="119.75" r="0.43" fill="#1a1a1a"/>
<circle cx="470.86" cy="120.81" r="0.64" fill="#1a1a1a"/>
<circle cx="473.39" cy="115.62" r="0.63" fill="#111"/>
<circle cx="478.95" cy="125.95" r="0.49" fill="#331111"/>
<circle cx="477.53" cy="129.92" r="0.39" fill="#444"/>
<circle cx="476.22" cy="130.01" r="0.59" fill="#2a1010"/>
<circle cx="476.39" cy="129.16" r="0.49" fill="#777"/>
<circle cx="479.61" cy="117.88" r="0.46" fill="#222"/>
<circle cx="481.73" cy="126.93" r="0.49" fill="#777"/>
<circle cx="477.55" cy="118.19" r="0.42" fill="#222"/>
<circle cx="471.13" cy="122.67" r="0.54" fill="#111"/>
<circle cx="476.55" cy="119.97" r="0.63" fill="#777"/>
<circle cx="472.16" cy="113.88" r="0.52" fill="#222"/>
<circle cx="479.30" cy="125.93" r="0.35" fill="#111"/>
<circle cx="469.36" cy="113.58" r="0.44" fill="#331111"/>
<circle cx="467.62" cy="115.14" r="0.74" fill="#a00000" stroke="#000" stroke-width="0.5"/>
<circle cx="480.26" cy="125.38" r="1.07" fill="#fd0000" stroke="#000" stroke-width="0.5"/>
<circle cx="478.61" cy="130.45" r="0.72" fill="#c00000" stroke="#000" stroke-width="0.5"/>
<circle cx="477.87" cy="121.65" r="1.13" fill="#920000" stroke="#000" stroke-width="0.5"/>
<circle cx="469.75" cy="115.07" r="0.9" fill="#fffb00" stroke="#000" stroke-width="0.5"/>
<circle cx="468.31" cy="122.81" r="0.9" fill="#f80000" stroke="#000" stroke-width="0.5"/>
<circle cx="473.49" cy="124.38" r="1" fill="#a50000" stroke="#000" stroke-width="0.5"/>
<circle cx="475.75" cy="127.02" r="1.16" fill="#ffff44" stroke="#000" stroke-width="0.5"/>
<circle cx="474.17" cy="122.66" r="1.14" fill="#ffff1f" stroke="#000" stroke-width="0.5"/>
<circle cx="476" cy="119.45" r="1.12" fill="#fffc00" stroke="#000" stroke-width="0.5"/>
<circle cx="474.41" cy="128.95" r="0.73" fill="#fff700" stroke="#000" stroke-width="0.5"/>
<circle cx="474.86" cy="130.19" r="0.78" fill="#aa0000" stroke="#000" stroke-width="0.5"/>
<circle cx="474.06" cy="117.98" r="0.9" fill="#ff7500" stroke="#000" stroke-width="0.5"/>
<circle cx="478.67" cy="119.28" r="0.79" fill="#ffff0c" stroke="#000" stroke-width="0.5"/>
<circle cx="472.3" cy="124.1" r="1.6" fill="#ffff33" stroke="#000" stroke-width="0.5"/>
<circle cx="471.6" cy="119.7" r="1.4" fill="#ffff1e" stroke="#000" stroke-width="0.5"/>
<circle cx="468" cy="113.9" r="1.2" fill="#ffff00" stroke="#000" stroke-width="0.5"/>
<circle cx="469.5" cy="122" r="1.1" fill="#ffff1e" stroke="#000" stroke-width="0.5"/>
<circle cx="474.5" cy="121.5" r="1" fill="#ffea00" stroke="#000" stroke-width="0.5"/>
<circle cx="478.9" cy="124.8" r="1.8" fill="#cb0000" stroke="#000" stroke-width="0.5"/>
<circle cx="480.4" cy="120.4" r="1.3" fill="#cb0000" stroke="#000" stroke-width="0.5"/>
<circle cx="476.5" cy="130" r="1" fill="#ed0000" stroke="#000" stroke-width="0.5"/>
<circle cx="478.2" cy="132.8" r="0.9" fill="#aa0000" stroke="#000" stroke-width="0.5"/>
<circle cx="466.9" cy="89" r="0.6" fill="#ffdc00" stroke="#000" stroke-width="0.5"/>
<circle cx="467.4" cy="96.3" r="0.9" fill="#ffff0a" stroke="#000" stroke-width="0.5"/>
<circle cx="459.9" cy="119" r="0.6" fill="#ffbb00" stroke="#000" stroke-width="0.5"/>
<circle cx="497.98" cy="125.72" r="0.54" fill="#111"/>
<circle cx="498.50" cy="119.99" r="0.47" fill="#333"/>
<circle cx="497.46" cy="117.85" r="0.30" fill="#1a1a1a"/>
<circle cx="501.07" cy="129.59" r="0.32" fill="#442"/>
<circle cx="499.54" cy="131.98" r="0.48" fill="#442"/>
<circle cx="497.14" cy="114.25" r="0.56" fill="#111"/>
<circle cx="498.07" cy="115.63" r="0.50" fill="#333"/>
<circle cx="497.88" cy="125.51" r="0.56" fill="#333"/>
<circle cx="497.92" cy="129.06" r="0.57" fill="#555"/>
<circle cx="495.49" cy="111.38" r="0.39" fill="#555"/>
<circle cx="497.32" cy="116.86" r="0.39" fill="#333"/>
<circle cx="494.69" cy="112.03" r="0.47" fill="#111"/>
<circle cx="497.83" cy="122.48" r="0.46" fill="#888"/>
<circle cx="495.85" cy="113.82" r="0.58" fill="#333"/>
<circle cx="497.29" cy="112.32" r="0.50" fill="#442"/>
<circle cx="495.85" cy="125.10" r="0.44" fill="#333"/>
<circle cx="499.06" cy="123.46" r="0.74" fill="#ff6d00" stroke="#000" stroke-width="0.5"/>
<circle cx="498.65" cy="125.4" r="1.03" fill="#fff200" stroke="#000" stroke-width="0.5"/>
<circle cx="496.71" cy="116.03" r="0.76" fill="#ff3600" stroke="#000" stroke-width="0.5"/>
<circle cx="499.54" cy="123.85" r="1.16" fill="#ff6000" stroke="#000" stroke-width="0.5"/>
<circle cx="498.46" cy="127.06" r="0.77" fill="#c30000" stroke="#000" stroke-width="0.5"/>
<circle cx="499.42" cy="123.6" r="1.15" fill="#ffab00" stroke="#000" stroke-width="0.5"/>
<circle cx="495.93" cy="111.74" r="0.73" fill="#ffe300" stroke="#000" stroke-width="0.5"/>
<circle cx="499.04" cy="125.12" r="1" fill="#fff000" stroke="#000" stroke-width="0.5"/>
<circle cx="498.04" cy="125.09" r="0.86" fill="#ffe600" stroke="#000" stroke-width="0.5"/>
<circle cx="496.84" cy="122" r="0.76" fill="#ffb500" stroke="#000" stroke-width="0.5"/>
<circle cx="497.56" cy="129.78" r="0.94" fill="#d20000" stroke="#000" stroke-width="0.5"/>
<circle cx="496.98" cy="117.26" r="0.84" fill="#e30000" stroke="#000" stroke-width="0.5"/>
<circle cx="500.04" cy="129.31" r="1" fill="#ffe600" stroke="#000" stroke-width="0.5"/>
<circle cx="495" cy="111.52" r="0.99" fill="#ffbc00" stroke="#000" stroke-width="0.5"/>
<circle cx="499.6" cy="138.7" r="1.2" fill="#ffff1e" stroke="#000" stroke-width="0.5"/>
<circle cx="499.9" cy="135.8" r="1.2" fill="#ffff0a" stroke="#000" stroke-width="0.5"/>
<circle cx="496.5" cy="126.5" r="1.4" fill="#ff4700" stroke="#000" stroke-width="0.5"/>
<circle cx="497.5" cy="129.5" r="1.3" fill="#ff5500" stroke="#000" stroke-width="0.5"/>
<circle cx="499" cy="131.5" r="1.2" fill="#ffea00" stroke="#000" stroke-width="0.5"/>
<circle cx="496" cy="116" r="1" fill="#cb0000" stroke="#000" stroke-width="0.5"/>
<circle cx="497" cy="119" r="1" fill="#ff3300" stroke="#000" stroke-width="0.5"/>
<circle cx="494.5" cy="118.5" r="0.9" fill="#950000" stroke="#000" stroke-width="0.5"/>
<circle cx="500.5" cy="128.5" r="1.1" fill="#cb0000" stroke="#000" stroke-width="0.5"/>
<circle cx="481.30" cy="110.00" r="0.55" fill="#555"/>
<circle cx="483.50" cy="113.30" r="0.60" fill="#444"/>
<circle cx="486.00" cy="118.50" r="0.65" fill="#555"/>
<circle cx="489.00" cy="120.00" r="0.62" fill="#555"/>
<circle cx="492.00" cy="116.50" r="0.52" fill="#555"/>
<circle cx="491.00" cy="112.00" r="0.49" fill="#444"/>
<circle cx="488.50" cy="123.00" r="0.52" fill="#444"/>
<circle cx="511.12" cy="120.41" r="0.52" fill="#222"/>
<circle cx="512.75" cy="119.57" r="0.51" fill="#777"/>
<circle cx="512.14" cy="114.16" r="0.38" fill="#331111"/>
<circle cx="507.85" cy="114.58" r="0.59" fill="#444"/>
<circle cx="509.07" cy="118.13" r="0.49" fill="#1a1a1a"/>
<circle cx="512.26" cy="117.04" r="0.35" fill="#2a1010"/>
<circle cx="507.6" cy="111.05" r="1.48" fill="#e30000" stroke="#000" stroke-width="0.5"/>
<circle cx="508.8" cy="120.76" r="1.53" fill="#8b0000" stroke="#000" stroke-width="0.5"/>
<circle cx="508.89" cy="112.27" r="1.12" fill="#a70000" stroke="#000" stroke-width="0.5"/>
<circle cx="506.63" cy="116.77" r="1.24" fill="#630000" stroke="#000" stroke-width="0.5"/>
<circle cx="506.74" cy="111.27" r="1.38" fill="#db0000" stroke="#000" stroke-width="0.5"/>
<circle cx="508.97" cy="114.14" r="1.31" fill="#550000" stroke="#000" stroke-width="0.5"/>
<circle cx="512.9" cy="120.39" r="1.29" fill="#710000" stroke="#000" stroke-width="0.5"/>
<circle cx="510.79" cy="115.11" r="1.57" fill="#ff2000" stroke="#000" stroke-width="0.5"/>
<circle cx="503.38" cy="112.41" r="1.11" fill="#570000" stroke="#000" stroke-width="0.5"/>
<circle cx="508.57" cy="120.45" r="1.27" fill="#ffff4f" stroke="#000" stroke-width="0.5"/>
<circle cx="503.64" cy="117.18" r="1.24" fill="#c70000" stroke="#000" stroke-width="0.5"/>
<circle cx="505.57" cy="116.77" r="1.38" fill="#ffff11" stroke="#000" stroke-width="0.5"/>
<circle cx="504.8" cy="128.5" r="1.3" fill="#cb0000" stroke="#000" stroke-width="0.5"/>
<circle cx="556.17" cy="141.43" r="0.66" fill="#1a1a1a"/>
<circle cx="555.51" cy="135.31" r="0.56" fill="#222"/>
<circle cx="615.99" cy="165.89" r="0.52" fill="#331111"/>
<circle cx="614.40" cy="158.89" r="0.78" fill="#444"/>
<circle cx="596.98" cy="149.65" r="0.77" fill="#2a1010"/>
<circle cx="518.82" cy="129.21" r="0.83" fill="#444"/>
<circle cx="595.58" cy="155.93" r="0.71" fill="#2a1010"/>
<circle cx="597.58" cy="154.04" r="0.59" fill="#111"/>
<circle cx="555.45" cy="136.96" r="0.63" fill="#2a1010"/>
<circle cx="539.77" cy="133.48" r="0.50" fill="#444"/>
<circle cx="613.58" cy="162.99" r="0.78" fill="#1a1a1a"/>
<circle cx="616.46" cy="161.00" r="0.80" fill="#444"/>
<circle cx="527.78" cy="135.92" r="0.66" fill="#111"/>
<circle cx="617.24" cy="158.78" r="0.53" fill="#222"/>
<circle cx="550.10" cy="133.37" r="0.58" fill="#111"/>
<circle cx="583.63" cy="147.35" r="0.52" fill="#444"/>
<circle cx="564.02" cy="140.00" r="0.81" fill="#2a1010"/>
<circle cx="611.13" cy="156.31" r="0.55" fill="#222"/>
<circle cx="576.44" cy="146.99" r="0.60" fill="#777"/>
<circle cx="533.51" cy="124.32" r="0.82" fill="#111"/>
<circle cx="530.90" cy="127.45" r="0.68" fill="#444"/>
<circle cx="614.16" cy="156.60" r="0.67" fill="#222"/>
<circle cx="527.38" cy="124.10" r="0.76" fill="#222"/>
<circle cx="562.65" cy="136.95" r="0.58" fill="#2a1010"/>
<circle cx="545.59" cy="134.33" r="0.81" fill="#111"/>
<circle cx="605.90" cy="156.93" r="0.72" fill="#2a1010"/>
<circle cx="604.12" cy="153.44" r="0.62" fill="#1a1a1a"/>
<circle cx="563.03" cy="139.81" r="0.60" fill="#222"/>
<circle cx="566.01" cy="128.50" r="0.82" fill="#1a1a1a"/>
<circle cx="544.07" cy="134.12" r="0.68" fill="#1a1a1a"/>
<circle cx="590.91" cy="155.88" r="0.57" fill="#111"/>
<circle cx="604.44" cy="159.32" r="0.77" fill="#1a1a1a"/>
<circle cx="538.08" cy="124.86" r="0.71" fill="#444"/>
<circle cx="583.86" cy="146.86" r="0.50" fill="#444"/>
<circle cx="594.64" cy="153.31" r="0.64" fill="#444"/>
<circle cx="617.45" cy="155.53" r="0.60" fill="#444"/>
<circle cx="610.46" cy="156.02" r="0.67" fill="#111"/>
<circle cx="559.99" cy="136.43" r="0.73" fill="#1a1a1a"/>
<circle cx="535.26" cy="126.20" r="0.79" fill="#222"/>
<circle cx="517.57" cy="123.24" r="0.80" fill="#222"/>
<circle cx="574.17" cy="136.28" r="0.66" fill="#331111"/>
<circle cx="521.68" cy="123.64" r="0.79" fill="#222"/>
<circle cx="600.02" cy="154.57" r="0.80" fill="#331111"/>
<circle cx="595.09" cy="158.15" r="0.83" fill="#2a1010"/>
<circle cx="563.19" cy="140.59" r="0.51" fill="#777"/>
<circle cx="570.39" cy="151.34" r="0.58" fill="#1a1a1a"/>
<circle cx="532.27" cy="129.01" r="0.61" fill="#331111"/>
<circle cx="604.41" cy="155.82" r="0.74" fill="#1a1a1a"/>
<circle cx="543.29" cy="130.89" r="0.79" fill="#444"/>
<circle cx="580.86" cy="137.70" r="0.54" fill="#777"/>
<circle cx="524.16" cy="125.06" r="0.56" fill="#222"/>
<circle cx="528.24" cy="121.91" r="0.60" fill="#111"/>
<circle cx="527.21" cy="126.70" r="0.81" fill="#331111"/>
<circle cx="579.73" cy="145.45" r="0.70" fill="#444"/>
<circle cx="559.17" cy="134.13" r="0.83" fill="#111"/>
<circle cx="619.56" cy="157.02" r="0.79" fill="#331111"/>
<circle cx="516.78" cy="127.40" r="0.84" fill="#111"/>
<circle cx="601.32" cy="150.86" r="0.62" fill="#2a1010"/>
<circle cx="606.95" cy="157.72" r="0.70" fill="#222"/>
<circle cx="604.58" cy="154.79" r="0.68" fill="#444"/>
<circle cx="618.34" cy="158.78" r="0.59" fill="#2a1010"/>
<circle cx="587.43" cy="149.04" r="0.57" fill="#222"/>
<circle cx="562.64" cy="137.32" r="0.68" fill="#111"/>
<circle cx="540.15" cy="126.05" r="0.85" fill="#2a1010"/>
<circle cx="584.13" cy="147.72" r="0.78" fill="#111"/>
<circle cx="517.37" cy="122.76" r="0.74" fill="#222"/>
<circle cx="585.20" cy="143.45" r="0.78" fill="#111"/>
<circle cx="583.53" cy="145.39" r="0.65" fill="#111"/>
<circle cx="544.74" cy="136.05" r="0.61" fill="#444"/>
<circle cx="530.10" cy="136.75" r="0.82" fill="#222"/>
<circle cx="522.25" cy="129.43" r="0.71" fill="#1a1a1a"/>
<circle cx="566.21" cy="129.63" r="0.82" fill="#331111"/>
<circle cx="546.63" cy="130.93" r="0.59" fill="#111"/>
<circle cx="597.06" cy="149.73" r="0.74" fill="#1a1a1a"/>
<circle cx="585.14" cy="150.67" r="0.57" fill="#444"/>
<circle cx="554.38" cy="137.09" r="0.67" fill="#777"/>
<circle cx="549.63" cy="130.35" r="0.58" fill="#1a1a1a"/>
<circle cx="537.64" cy="118.55" r="0.64" fill="#222"/>
<circle cx="532.75" cy="124.62" r="0.83" fill="#222"/>
<circle cx="577.60" cy="139.52" r="0.85" fill="#222"/>
<circle cx="519.64" cy="125.35" r="0.51" fill="#331111"/>
<circle cx="520.31" cy="128.31" r="0.52" fill="#2a1010"/>
<circle cx="608.21" cy="152.13" r="0.62" fill="#777"/>
<circle cx="525.53" cy="127.81" r="0.76" fill="#1a1a1a"/>
<circle cx="557.55" cy="145.99" r="0.73" fill="#1a1a1a"/>
<circle cx="591.65" cy="142.41" r="0.79" fill="#331111"/>
<circle cx="525.04" cy="120.84" r="0.80" fill="#777"/>
<circle cx="624.80" cy="162.18" r="0.72" fill="#444"/>
<circle cx="526.94" cy="132.15" r="0.80" fill="#111"/>
<circle cx="560.77" cy="134.51" r="0.64" fill="#331111"/>
<circle cx="530.68" cy="126.54" r="0.80" fill="#222"/>
<circle cx="612.39" cy="153.99" r="0.66" fill="#2a1010"/>
<circle cx="547.21" cy="129.19" r="0.62" fill="#222"/>
<circle cx="559.15" cy="132.03" r="0.61" fill="#777"/>
<circle cx="597.77" cy="149.66" r="0.85" fill="#2a1010"/>
<circle cx="563.47" cy="138.91" r="0.55" fill="#331111"/>
<circle cx="555.36" cy="137.93" r="0.58" fill="#777"/>
<circle cx="617.78" cy="155.93" r="0.79" fill="#222"/>
<circle cx="535.03" cy="135.47" r="0.65" fill="#111"/>
<circle cx="516.06" cy="124.18" r="0.60" fill="#331111"/>
<circle cx="596.98" cy="159.96" r="0.69" fill="#2a1010"/>
<circle cx="574.30" cy="135.21" r="0.64" fill="#222"/>
<circle cx="517.88" cy="124.19" r="0.74" fill="#2a1010"/>
<circle cx="620.26" cy="158.45" r="0.53" fill="#222"/>
<circle cx="571.85" cy="136.03" r="0.73" fill="#331111"/>
<circle cx="530.64" cy="128.81" r="0.64" fill="#777"/>
<circle cx="582.45" cy="149.15" r="0.85" fill="#222"/>
<circle cx="591.30" cy="148.48" r="0.63" fill="#222"/>
<circle cx="623.39" cy="160.34" r="0.79" fill="#331111"/>
<circle cx="533.99" cy="126.13" r="0.62" fill="#331111"/>
<circle cx="613.97" cy="154.96" r="0.65" fill="#1a1a1a"/>
<circle cx="572.37" cy="142.14" r="0.81" fill="#2a1010"/>
<circle cx="534.94" cy="125.73" r="0.72" fill="#331111"/>
<circle cx="526.38" cy="121.17" r="0.75" fill="#444"/>
<circle cx="561.05" cy="134.07" r="0.78" fill="#222"/>
<circle cx="596.53" cy="141.52" r="0.64" fill="#111"/>
<circle cx="580.73" cy="141.15" r="0.73" fill="#1a1a1a"/>
<circle cx="533.30" cy="128.52" r="0.80" fill="#331111"/>
<circle cx="573.61" cy="135.91" r="0.55" fill="#1a1a1a"/>
<circle cx="559.67" cy="137.92" r="0.77" fill="#111"/>
<circle cx="516.12" cy="126.19" r="0.53" fill="#331111"/>
<circle cx="570.61" cy="135.77" r="0.78" fill="#444"/>
<circle cx="514.31" cy="125.11" r="0.77" fill="#222"/>
<circle cx="529.82" cy="127.21" r="0.51" fill="#444"/>
<circle cx="524.10" cy="129.21" r="0.82" fill="#331111"/>
<circle cx="520.04" cy="127.28" r="0.51" fill="#1a1a1a"/>
<circle cx="611.08" cy="162.43" r="0.70" fill="#111"/>
<circle cx="564.16" cy="135.37" r="0.52" fill="#331111"/>
<circle cx="610.03" cy="154.04" r="0.61" fill="#777"/>
<circle cx="605.68" cy="152.48" r="0.84" fill="#2a1010"/>
<circle cx="620.66" cy="166.66" r="0.52" fill="#444"/>
<circle cx="558.01" cy="134.96" r="0.61" fill="#444"/>
<circle cx="569.43" cy="136.78" r="0.78" fill="#1a1a1a"/>
<circle cx="522.92" cy="127.66" r="0.50" fill="#222"/>
<circle cx="557.40" cy="138.96" r="0.63" fill="#222"/>
<circle cx="574.99" cy="138.70" r="0.52" fill="#111"/>
<circle cx="560.59" cy="139.29" r="0.82" fill="#331111"/>
<circle cx="541.18" cy="131.20" r="0.58" fill="#111"/>
<circle cx="544.40" cy="134.02" r="0.51" fill="#777"/>
<circle cx="531.37" cy="126.87" r="0.59" fill="#777"/>
<circle cx="602.53" cy="151.24" r="0.69" fill="#2a1010"/>
<circle cx="606.89" cy="155.82" r="0.62" fill="#444"/>
<circle cx="560.29" cy="134.00" r="0.72" fill="#331111"/>
<circle cx="536.08" cy="133.30" r="0.58" fill="#2a1010"/>
<circle cx="590.02" cy="146.46" r="0.83" fill="#222"/>
<circle cx="584.92" cy="133.80" r="0.69" fill="#2a1010"/>
<circle cx="580.43" cy="148.96" r="0.57" fill="#777"/>
<circle cx="598.10" cy="150.41" r="0.80" fill="#444"/>
<circle cx="600.76" cy="150.61" r="0.63" fill="#444"/>
<circle cx="594.07" cy="150.09" r="0.75" fill="#444"/>
<circle cx="533.53" cy="128.51" r="0.80" fill="#222"/>
<circle cx="534.67" cy="129.45" r="0.82" fill="#777"/>
<circle cx="570.51" cy="139.19" r="0.60" fill="#111"/>
<circle cx="593.24" cy="152.32" r="0.79" fill="#2a1010"/>
<circle cx="545.19" cy="132.90" r="0.64" fill="#2a1010"/>
<circle cx="598.18" cy="157.63" r="0.55" fill="#222"/>
<circle cx="534.98" cy="122.80" r="0.63" fill="#777"/>
<circle cx="589.11" cy="145.00" r="0.73" fill="#444"/>
<circle cx="564.76" cy="141.47" r="0.85" fill="#2a1010"/>
<circle cx="554.18" cy="132.36" r="0.54" fill="#331111"/>
<circle cx="596.66" cy="148.69" r="0.75" fill="#111"/>
<circle cx="560.59" cy="132.96" r="0.76" fill="#1a1a1a"/>
<circle cx="557.70" cy="132.61" r="0.51" fill="#222"/>
<circle cx="582.64" cy="150.24" r="0.58" fill="#2a1010"/>
<circle cx="594.74" cy="147.90" r="0.59" fill="#2a1010"/>
<circle cx="592.02" cy="139.82" r="0.54" fill="#777"/>
<circle cx="602.34" cy="148.36" r="0.60" fill="#111"/>
<circle cx="613.54" cy="152.02" r="0.84" fill="#444"/>
<circle cx="526.58" cy="123.20" r="0.78" fill="#1a1a1a"/>
<circle cx="602.70" cy="147.71" r="0.65" fill="#444"/>
<circle cx="555.85" cy="142.53" r="0.76" fill="#777"/>
<circle cx="539.65" cy="125.79" r="0.83" fill="#2a1010"/>
<circle cx="617.70" cy="158.99" r="0.74" fill="#444"/>
<circle cx="589.83" cy="151.14" r="0.68" fill="#444"/>
<circle cx="593.79" cy="144.39" r="0.65" fill="#331111"/>
<circle cx="608.00" cy="156.32" r="0.57" fill="#444"/>
<circle cx="607.78" cy="150.37" r="0.70" fill="#1a1a1a"/>
<circle cx="573.17" cy="147.29" r="0.69" fill="#1a1a1a"/>
<circle cx="621.51" cy="160.22" r="0.56" fill="#222"/>
<circle cx="559.94" cy="137.33" r="0.55" fill="#444"/>
<circle cx="567.40" cy="142.50" r="0.67" fill="#444"/>
<circle cx="542.22" cy="125.79" r="0.83" fill="#222"/>
<circle cx="592.16" cy="148.41" r="0.55" fill="#444"/>
<circle cx="530.20" cy="123.66" r="0.79" fill="#331111"/>
<circle cx="562.20" cy="135.54" r="0.83" fill="#444"/>
<circle cx="589.87" cy="144.05" r="0.77" fill="#777"/>
<circle cx="537.71" cy="126.38" r="0.74" fill="#111"/>
<circle cx="554.41" cy="134.70" r="0.60" fill="#1a1a1a"/>
<circle cx="525.72" cy="127.62" r="0.61" fill="#111"/>
<circle cx="533.13" cy="122.78" r="0.60" fill="#331111"/>
<circle cx="521.11" cy="127.21" r="0.50" fill="#777"/>
<circle cx="568.55" cy="139.35" r="0.76" fill="#222"/>
<circle cx="526.37" cy="122.71" r="0.67" fill="#2a1010"/>
<circle cx="568.56" cy="140.23" r="0.63" fill="#111"/>
<circle cx="587.37" cy="143.24" r="0.72" fill="#444"/>
<circle cx="586.99" cy="146.77" r="0.55" fill="#111"/>
<circle cx="515.44" cy="127.48" r="0.64" fill="#1a1a1a"/>
<circle cx="546.59" cy="133.93" r="0.80" fill="#444"/>
<circle cx="531.34" cy="132.78" r="0.77" fill="#777"/>
<circle cx="549.87" cy="129.63" r="0.73" fill="#222"/>
<circle cx="550.87" cy="130.28" r="0.63" fill="#331111"/>
<circle cx="615.64" cy="160.51" r="0.52" fill="#111"/>
<circle cx="578.48" cy="140.59" r="0.72" fill="#777"/>
<circle cx="625.43" cy="162.03" r="0.58" fill="#2a1010"/>
<circle cx="569.80" cy="140.71" r="0.56" fill="#222"/>
<circle cx="582.04" cy="143.14" r="0.58" fill="#1a1a1a"/>
<circle cx="564.35" cy="136.10" r="0.84" fill="#111"/>
<circle cx="621.61" cy="164.43" r="0.58" fill="#222"/>
<circle cx="513.97" cy="120.43" r="0.79" fill="#777"/>
<circle cx="607.77" cy="152.92" r="0.53" fill="#111"/>
<circle cx="571.80" cy="140.55" r="0.65" fill="#222"/>
<circle cx="518.61" cy="135.13" r="0.56" fill="#444"/>
<circle cx="532.09" cy="128.13" r="0.60" fill="#2a1010"/>
<circle cx="604.61" cy="151.43" r="0.66" fill="#331111"/>
<circle cx="551.93" cy="128.53" r="0.66" fill="#331111"/>
<circle cx="612.14" cy="165.04" r="0.84" fill="#331111"/>
<circle cx="523.95" cy="117.70" r="0.78" fill="#444"/>
<circle cx="590.58" cy="145.43" r="0.70" fill="#222"/>
<circle cx="568.78" cy="137.22" r="0.73" fill="#222"/>
<circle cx="612.56" cy="151.33" r="0.80" fill="#1a1a1a"/>
<circle cx="590.26" cy="146.95" r="0.66" fill="#111"/>
<circle cx="531.36" cy="122.73" r="0.83" fill="#222"/>
<circle cx="574.34" cy="139.12" r="0.70" fill="#2a1010"/>
<circle cx="542.95" cy="132.00" r="0.57" fill="#444"/>
<circle cx="524.35" cy="136.58" r="0.80" fill="#222"/>
<circle cx="585.81" cy="148.78" r="0.75" fill="#1a1a1a"/>
<circle cx="574.05" cy="147.55" r="0.58" fill="#331111"/>
<circle cx="592.15" cy="148.01" r="0.70" fill="#777"/>
<circle cx="562.76" cy="127.97" r="0.53" fill="#2a1010"/>
<circle cx="529.56" cy="122.09" r="0.79" fill="#111"/>
<circle cx="584.14" cy="145.56" r="0.84" fill="#331111"/>
<circle cx="524.63" cy="128.01" r="0.56" fill="#1a1a1a"/>
<circle cx="578.38" cy="139.59" r="0.77" fill="#1a1a1a"/>
<circle cx="556.97" cy="132.02" r="0.52" fill="#111"/>
<circle cx="515.26" cy="121.59" r="0.71" fill="#1a1a1a"/>
<circle cx="565.09" cy="139.73" r="0.82" fill="#111"/>
<circle cx="582.96" cy="146.78" r="0.81" fill="#331111"/>
<circle cx="526.53" cy="125.87" r="0.63" fill="#777"/>
<circle cx="553.62" cy="130.09" r="0.77" fill="#444"/>
<circle cx="514.38" cy="124.14" r="0.68" fill="#331111"/>
<circle cx="618.15" cy="163.13" r="0.75" fill="#111"/>
<circle cx="605.94" cy="152.07" r="0.61" fill="#331111"/>
<circle cx="525.72" cy="129.28" r="0.82" fill="#444"/>
<circle cx="542.16" cy="126.36" r="0.51" fill="#331111"/>
<circle cx="561.84" cy="142.06" r="0.78" fill="#2a1010"/>
<circle cx="525.80" cy="127.07" r="0.69" fill="#222"/>
<circle cx="612.26" cy="154.61" r="0.73" fill="#777"/>
<circle cx="529.29" cy="130.46" r="0.74" fill="#777"/>
<circle cx="545.12" cy="127.40" r="0.66" fill="#111"/>
<circle cx="551.59" cy="136.22" r="0.81" fill="#777"/>
<circle cx="605.79" cy="158.65" r="0.53" fill="#331111"/>
<circle cx="605.91" cy="152.67" r="0.67" fill="#1a1a1a"/>
<circle cx="592.78" cy="145.22" r="0.66" fill="#1a1a1a"/>
<circle cx="611.70" cy="155.69" r="0.62" fill="#1a1a1a"/>
<circle cx="549.35" cy="131.44" r="0.55" fill="#331111"/>
<circle cx="517.80" cy="126.70" r="0.66" fill="#331111"/>
<circle cx="565.40" cy="141.73" r="0.83" fill="#222"/>
<circle cx="514.25" cy="121.00" r="0.51" fill="#2a1010"/>
<circle cx="612.25" cy="155.38" r="0.71" fill="#444"/>
<circle cx="530.48" cy="125.55" r="0.60" fill="#331111"/>
<circle cx="624.99" cy="160.53" r="1.02" fill="#990000" stroke="#000" stroke-width="0.5"/>
<circle cx="529.69" cy="124.66" r="1.51" fill="#690000" stroke="#000" stroke-width="0.5"/>
<circle cx="564.15" cy="130.56" r="1.21" fill="#b20000" stroke="#000" stroke-width="0.5"/>
<circle cx="602.3" cy="153.45" r="0.83" fill="#c70000" stroke="#000" stroke-width="0.5"/>
<circle cx="550.53" cy="138.97" r="1.03" fill="#e50000" stroke="#000" stroke-width="0.5"/>
<circle cx="611.44" cy="156.23" r="1.33" fill="#ff2700" stroke="#000" stroke-width="0.5"/>
<circle cx="602.44" cy="149.98" r="1.15" fill="#ffff35" stroke="#000" stroke-width="0.5"/>
<circle cx="624.11" cy="163.99" r="1.5" fill="#f50000" stroke="#000" stroke-width="0.5"/>
<circle cx="557.95" cy="137.4" r="1.4" fill="#fffc00" stroke="#000" stroke-width="0.5"/>
<circle cx="529.93" cy="126.52" r="1.21" fill="#c70000" stroke="#000" stroke-width="0.5"/>
<circle cx="522.03" cy="123.16" r="0.87" fill="#fffc00" stroke="#000" stroke-width="0.5"/>
<circle cx="548.94" cy="130.07" r="1.57" fill="#ff1600" stroke="#000" stroke-width="0.5"/>
<circle cx="615.36" cy="161.76" r="1.45" fill="#670000" stroke="#000" stroke-width="0.5"/>
<circle cx="615.96" cy="153.22" r="1.26" fill="#540000" stroke="#000" stroke-width="0.5"/>
<circle cx="518.86" cy="123.46" r="1.1" fill="#ffc900" stroke="#000" stroke-width="0.5"/>
<circle cx="569.62" cy="141.93" r="0.75" fill="#570000" stroke="#000" stroke-width="0.5"/>
<circle cx="521.36" cy="126.89" r="1.43" fill="#a90000" stroke="#000" stroke-width="0.5"/>
<circle cx="513.69" cy="123.52" r="0.71" fill="#540000" stroke="#000" stroke-width="0.5"/>
<circle cx="548.66" cy="137.1" r="1.48" fill="#8d0000" stroke="#000" stroke-width="0.5"/>
<circle cx="582.02" cy="145.47" r="1.48" fill="#d40000" stroke="#000" stroke-width="0.5"/>
<circle cx="583.28" cy="143.28" r="1.4" fill="#ffdc00" stroke="#000" stroke-width="0.5"/>
<circle cx="618.32" cy="160.52" r="0.99" fill="#770000" stroke="#000" stroke-width="0.5"/>
<circle cx="560.85" cy="135.99" r="1.34" fill="#db0000" stroke="#000" stroke-width="0.5"/>
<circle cx="515.01" cy="125.34" r="1.46" fill="#7d0000" stroke="#000" stroke-width="0.5"/>
<circle cx="551.44" cy="137.29" r="1.31" fill="#db0000" stroke="#000" stroke-width="0.5"/>
<circle cx="623.84" cy="160.21" r="1.26" fill="#fc0000" stroke="#000" stroke-width="0.5"/>
<circle cx="516.89" cy="123.62" r="1.28" fill="#940000" stroke="#000" stroke-width="0.5"/>
<circle cx="593.97" cy="146.55" r="1.18" fill="#700000" stroke="#000" stroke-width="0.5"/>
<circle cx="576.95" cy="141.59" r="0.79" fill="#ff3000" stroke="#000" stroke-width="0.5"/>
<circle cx="531.21" cy="125.01" r="1.58" fill="#ffff06" stroke="#000" stroke-width="0.5"/>
<circle cx="527.73" cy="124.22" r="1.19" fill="#b00000" stroke="#000" stroke-width="0.5"/>
<circle cx="544.17" cy="126.52" r="1.51" fill="#ff2400" stroke="#000" stroke-width="0.5"/>
<circle cx="602.22" cy="149.43" r="1.18" fill="#a80000" stroke="#000" stroke-width="0.5"/>
<circle cx="563.18" cy="138.86" r="1.52" fill="#ffdb00" stroke="#000" stroke-width="0.5"/>
<circle cx="538.14" cy="127.4" r="1.41" fill="#a20000" stroke="#000" stroke-width="0.5"/>
<circle cx="514.38" cy="126.75" r="1.31" fill="#6d0000" stroke="#000" stroke-width="0.5"/>
<circle cx="558.47" cy="128.68" r="1.52" fill="#a20000" stroke="#000" stroke-width="0.5"/>
<circle cx="609.58" cy="156.8" r="1.34" fill="#7c0000" stroke="#000" stroke-width="0.5"/>
<circle cx="550.63" cy="133.1" r="1.08" fill="#bd0000" stroke="#000" stroke-width="0.5"/>
<circle cx="567.88" cy="145.21" r="1.13" fill="#ffff2b" stroke="#000" stroke-width="0.5"/>
<circle cx="620.32" cy="160.15" r="0.82" fill="#5c0000" stroke="#000" stroke-width="0.5"/>
<circle cx="513.17" cy="125.74" r="0.99" fill="#c60000" stroke="#000" stroke-width="0.5"/>
<circle cx="538.15" cy="127.37" r="0.75" fill="#ff2300" stroke="#000" stroke-width="0.5"/>
<circle cx="594.18" cy="155.37" r="1.1" fill="#620000" stroke="#000" stroke-width="0.5"/>
<circle cx="617.44" cy="161.3" r="1.32" fill="#db0000" stroke="#000" stroke-width="0.5"/>
<circle cx="614.79" cy="160.36" r="1.15" fill="#ad0000" stroke="#000" stroke-width="0.5"/>
<circle cx="565.45" cy="140.35" r="1.06" fill="#a00000" stroke="#000" stroke-width="0.5"/>
<circle cx="589.25" cy="145.22" r="1.51" fill="#6a0000" stroke="#000" stroke-width="0.5"/>
<circle cx="583.54" cy="147.3" r="0.71" fill="#9a0000" stroke="#000" stroke-width="0.5"/>
<circle cx="579" cy="141.83" r="0.74" fill="#ffa300" stroke="#000" stroke-width="0.5"/>
<circle cx="526.78" cy="121.46" r="1.56" fill="#fff200" stroke="#000" stroke-width="0.5"/>
<circle cx="513.19" cy="124.69" r="1.27" fill="#cb0000" stroke="#000" stroke-width="0.5"/>
<circle cx="571.97" cy="145.03" r="1.46" fill="#ffa600" stroke="#000" stroke-width="0.5"/>
<circle cx="619.66" cy="166.25" r="0.9" fill="#a70000" stroke="#000" stroke-width="0.5"/>
<circle cx="515.97" cy="117.59" r="0.94" fill="#ffba00" stroke="#000" stroke-width="0.5"/>
<circle cx="518.27" cy="126.9" r="0.94" fill="#560000" stroke="#000" stroke-width="0.5"/>
<circle cx="567.85" cy="130.91" r="0.95" fill="#830000" stroke="#000" stroke-width="0.5"/>
<circle cx="624.31" cy="162.6" r="1.08" fill="#800000" stroke="#000" stroke-width="0.5"/>
<circle cx="531.36" cy="124.74" r="1.38" fill="#ff1e00" stroke="#000" stroke-width="0.5"/>
<circle cx="614.58" cy="156.55" r="1.15" fill="#ffff17" stroke="#000" stroke-width="0.5"/>
<circle cx="596.19" cy="148.57" r="1.59" fill="#ff1000" stroke="#000" stroke-width="0.5"/>
<circle cx="523.28" cy="125.2" r="1.34" fill="#950000" stroke="#000" stroke-width="0.5"/>
<circle cx="590.76" cy="147.68" r="1.1" fill="#fa0000" stroke="#000" stroke-width="0.5"/>
<circle cx="580.4" cy="139.25" r="1.12" fill="#940000" stroke="#000" stroke-width="0.5"/>
<circle cx="556.47" cy="135.82" r="1.44" fill="#ff2500" stroke="#000" stroke-width="0.5"/>
<circle cx="551.29" cy="141.72" r="0.94" fill="#b60000" stroke="#000" stroke-width="0.5"/>
<circle cx="520.84" cy="128.86" r="1.42" fill="#c20000" stroke="#000" stroke-width="0.5"/>
<circle cx="599.62" cy="151.34" r="1.47" fill="#990000" stroke="#000" stroke-width="0.5"/>
<circle cx="575.66" cy="148.85" r="1.6" fill="#ae0000" stroke="#000" stroke-width="0.5"/>
<circle cx="554.76" cy="135" r="1.03" fill="#db0000" stroke="#000" stroke-width="0.5"/>
<circle cx="587.3" cy="148.94" r="0.86" fill="#ffff41" stroke="#000" stroke-width="0.5"/>
<circle cx="586.04" cy="148.99" r="1.03" fill="#f70000" stroke="#000" stroke-width="0.5"/>
<circle cx="560.6" cy="134.87" r="1.33" fill="#7e0000" stroke="#000" stroke-width="0.5"/>
<circle cx="589.13" cy="144.76" r="1.3" fill="#750000" stroke="#000" stroke-width="0.5"/>
<circle cx="564.29" cy="137.35" r="0.8" fill="#ab0000" stroke="#000" stroke-width="0.5"/>
<circle cx="533.47" cy="127.57" r="0.82" fill="#a20000" stroke="#000" stroke-width="0.5"/>
<circle cx="583.7" cy="145.44" r="1.17" fill="#e50000" stroke="#000" stroke-width="0.5"/>
<circle cx="575.41" cy="144.84" r="1.23" fill="#940000" stroke="#000" stroke-width="0.5"/>
<circle cx="616" cy="158.92" r="0.93" fill="#870000" stroke="#000" stroke-width="0.5"/>
<circle cx="573.42" cy="139.88" r="0.82" fill="#ffca00" stroke="#000" stroke-width="0.5"/>
<circle cx="601.14" cy="152.55" r="1.53" fill="#f20000" stroke="#000" stroke-width="0.5"/>
<circle cx="517.86" cy="125.03" r="1.09" fill="#710000" stroke="#000" stroke-width="0.5"/>
<circle cx="542.94" cy="121.69" r="1.46" fill="#9d0000" stroke="#000" stroke-width="0.5"/>
<circle cx="621.54" cy="164.19" r="0.76" fill="#ba0000" stroke="#000" stroke-width="0.5"/>
<circle cx="522.96" cy="122.32" r="1.1" fill="#840000" stroke="#000" stroke-width="0.5"/>
<circle cx="619.5" cy="156.62" r="0.8" fill="#c40000" stroke="#000" stroke-width="0.5"/>
<circle cx="593.97" cy="144.81" r="1.09" fill="#ffb600" stroke="#000" stroke-width="0.5"/>
<circle cx="520.87" cy="123.99" r="1.38" fill="#6e0000" stroke="#000" stroke-width="0.5"/>
<circle cx="536.08" cy="129.69" r="1.19" fill="#ffca00" stroke="#000" stroke-width="0.5"/>
<circle cx="552.02" cy="130.6" r="0.78" fill="#ff0700" stroke="#000" stroke-width="0.5"/>
<circle cx="514.41" cy="126.59" r="1.15" fill="#e10000" stroke="#000" stroke-width="0.5"/>
<circle cx="564.72" cy="138.92" r="1" fill="#ff0500" stroke="#000" stroke-width="0.5"/>
<circle cx="598.22" cy="149.23" r="1.46" fill="#830000" stroke="#000" stroke-width="0.5"/>
<circle cx="519.21" cy="123.1" r="0.87" fill="#ffb800" stroke="#000" stroke-width="0.5"/>
<circle cx="575.16" cy="139.9" r="1.17" fill="#800000" stroke="#000" stroke-width="0.5"/>
<circle cx="588.6" cy="146.4" r="1.5" fill="#eb0000" stroke="#000" stroke-width="0.5"/>
<circle cx="541.1" cy="133.13" r="1.04" fill="#930000" stroke="#000" stroke-width="0.5"/>
<circle cx="547.82" cy="133.55" r="1.29" fill="#ffff0e" stroke="#000" stroke-width="0.5"/>
<circle cx="592.71" cy="150.82" r="0.83" fill="#ffd300" stroke="#000" stroke-width="0.5"/>
<circle cx="565.78" cy="136.95" r="1.36" fill="#590000" stroke="#000" stroke-width="0.5"/>
<circle cx="621.62" cy="156.46" r="1.44" fill="#6c0000" stroke="#000" stroke-width="0.5"/>
<circle cx="563.15" cy="138.06" r="1.58" fill="#830000" stroke="#000" stroke-width="0.5"/>
<circle cx="594.51" cy="152.06" r="0.88" fill="#670000" stroke="#000" stroke-width="0.5"/>
<circle cx="609.1" cy="157.24" r="1.49" fill="#fe0000" stroke="#000" stroke-width="0.5"/>
<circle cx="514.45" cy="125.5" r="1.35" fill="#dc0000" stroke="#000" stroke-width="0.5"/>
<circle cx="538.96" cy="128.37" r="1.42" fill="#650000" stroke="#000" stroke-width="0.5"/>
<circle cx="602.84" cy="147.53" r="1.34" fill="#8a0000" stroke="#000" stroke-width="0.5"/>
<circle cx="536.28" cy="129.57" r="0.9" fill="#ff1500" stroke="#000" stroke-width="0.5"/>
<circle cx="563.55" cy="138.09" r="1.08" fill="#ff2b00" stroke="#000" stroke-width="0.5"/>
<circle cx="528.31" cy="128.59" r="1.38" fill="#ff1e00" stroke="#000" stroke-width="0.5"/>
<circle cx="591.89" cy="151.92" r="1.35" fill="#710000" stroke="#000" stroke-width="0.5"/>
<circle cx="574.87" cy="143.78" r="1.3" fill="#c80000" stroke="#000" stroke-width="0.5"/>
<circle cx="548.36" cy="140.15" r="0.84" fill="#a10000" stroke="#000" stroke-width="0.5"/>
<circle cx="591.36" cy="149.17" r="0.87" fill="#820000" stroke="#000" stroke-width="0.5"/>
<circle cx="517.25" cy="126.5" r="1.02" fill="#6b0000" stroke="#000" stroke-width="0.5"/>
<circle cx="587.83" cy="145.81" r="1.14" fill="#b10000" stroke="#000" stroke-width="0.5"/>
<circle cx="613.08" cy="157.4" r="1.52" fill="#730000" stroke="#000" stroke-width="0.5"/>
<circle cx="549.61" cy="127.69" r="0.88" fill="#af0000" stroke="#000" stroke-width="0.5"/>
<circle cx="600.41" cy="149.25" r="1.51" fill="#760000" stroke="#000" stroke-width="0.5"/>
<circle cx="578.92" cy="143.71" r="0.87" fill="#760000" stroke="#000" stroke-width="0.5"/>
<circle cx="533.07" cy="127.92" r="1.02" fill="#790000" stroke="#000" stroke-width="0.5"/>
<circle cx="553.4" cy="138.88" r="1.43" fill="#fa0000" stroke="#000" stroke-width="0.5"/>
<circle cx="595.98" cy="154.53" r="0.8" fill="#810000" stroke="#000" stroke-width="0.5"/>
<circle cx="516.5" cy="128.76" r="1.07" fill="#f60000" stroke="#000" stroke-width="0.5"/>
<circle cx="606.89" cy="156.08" r="0.77" fill="#ff1700" stroke="#000" stroke-width="0.5"/>
<circle cx="554.66" cy="133.61" r="0.7" fill="#b80000" stroke="#000" stroke-width="0.5"/>
<circle cx="548.52" cy="130.97" r="0.94" fill="#6e0000" stroke="#000" stroke-width="0.5"/>
<circle cx="531.05" cy="126.75" r="0.99" fill="#970000" stroke="#000" stroke-width="0.5"/>
<circle cx="517.24" cy="128.77" r="0.93" fill="#ffc900" stroke="#000" stroke-width="0.5"/>
<circle cx="573.64" cy="148.97" r="1.35" fill="#6e0000" stroke="#000" stroke-width="0.5"/>
<circle cx="524.22" cy="125.45" r="0.8" fill="#b20000" stroke="#000" stroke-width="0.5"/>
<circle cx="591.9" cy="150.14" r="0.78" fill="#b80000" stroke="#000" stroke-width="0.5"/>
<circle cx="622.68" cy="167.57" r="1.08" fill="#5f0000" stroke="#000" stroke-width="0.5"/>
<circle cx="576.56" cy="146.32" r="0.9" fill="#b00000" stroke="#000" stroke-width="0.5"/>
<circle cx="570.35" cy="143.64" r="1.44" fill="#d30000" stroke="#000" stroke-width="0.5"/>
<circle cx="551.33" cy="135.14" r="1.4" fill="#760000" stroke="#000" stroke-width="0.5"/>
<circle cx="522.62" cy="127" r="1.38" fill="#670000" stroke="#000" stroke-width="0.5"/>
<circle cx="548.02" cy="137.47" r="0.73" fill="#db0000" stroke="#000" stroke-width="0.5"/>
<circle cx="572.25" cy="138.37" r="0.85" fill="#ff1b00" stroke="#000" stroke-width="0.5"/>
<circle cx="535.63" cy="132.99" r="1.34" fill="#510000" stroke="#000" stroke-width="0.5"/>
<circle cx="612.93" cy="155.13" r="0.73" fill="#790000" stroke="#000" stroke-width="0.5"/>
<circle cx="521.25" cy="124.53" r="1.48" fill="#7e0000" stroke="#000" stroke-width="0.5"/>
<circle cx="560.48" cy="135.68" r="1.29" fill="#fffc00" stroke="#000" stroke-width="0.5"/>
<circle cx="605.76" cy="148.49" r="1.15" fill="#a60000" stroke="#000" stroke-width="0.5"/>
<circle cx="547.99" cy="132.32" r="0.75" fill="#b20000" stroke="#000" stroke-width="0.5"/>
<circle cx="589.42" cy="149.51" r="1.28" fill="#fff000" stroke="#000" stroke-width="0.5"/>
<circle cx="596.51" cy="153.53" r="1.23" fill="#9f0000" stroke="#000" stroke-width="0.5"/>
<circle cx="520.76" cy="126.58" r="1.38" fill="#e40000" stroke="#000" stroke-width="0.5"/>
<circle cx="581.9" cy="138.69" r="1.21" fill="#ff0700" stroke="#000" stroke-width="0.5"/>
<circle cx="617.44" cy="160.43" r="1.3" fill="#9e0000" stroke="#000" stroke-width="0.5"/>
<circle cx="600.64" cy="151.56" r="1.01" fill="#c50000" stroke="#000" stroke-width="0.5"/>
<circle cx="540.26" cy="126.97" r="1.3" fill="#ffe100" stroke="#000" stroke-width="0.5"/>
<circle cx="549.93" cy="127.43" r="0.97" fill="#c60000" stroke="#000" stroke-width="0.5"/>
<circle cx="613.07" cy="154.06" r="0.97" fill="#940000" stroke="#000" stroke-width="0.5"/>
<circle cx="522.65" cy="126.22" r="1.05" fill="#550000" stroke="#000" stroke-width="0.5"/>
<circle cx="551.09" cy="135.31" r="1.5" fill="#930000" stroke="#000" stroke-width="0.5"/>
<circle cx="541.14" cy="129.87" r="0.89" fill="#7f0000" stroke="#000" stroke-width="0.5"/>
<circle cx="614.66" cy="155.87" r="0.84" fill="#7c0000" stroke="#000" stroke-width="0.5"/>
<circle cx="604.24" cy="155.82" r="1.49" fill="#ffcd00" stroke="#000" stroke-width="0.5"/>
<circle cx="548.49" cy="136.49" r="1.25" fill="#ff2f00" stroke="#000" stroke-width="0.5"/>
<circle cx="559.27" cy="131.79" r="0.71" fill="#d60000" stroke="#000" stroke-width="0.5"/>
<circle cx="542.69" cy="125.94" r="1.36" fill="#ff3100" stroke="#000" stroke-width="0.5"/>
<circle cx="596.73" cy="148.68" r="1.38" fill="#620000" stroke="#000" stroke-width="0.5"/>
<circle cx="598.14" cy="151.18" r="1.16" fill="#720000" stroke="#000" stroke-width="0.5"/>
<circle cx="546.18" cy="134.93" r="0.97" fill="#ff1300" stroke="#000" stroke-width="0.5"/>
<circle cx="618.1" cy="160.31" r="1.29" fill="#a60000" stroke="#000" stroke-width="0.5"/>
<circle cx="515.29" cy="123.34" r="1.49" fill="#d80000" stroke="#000" stroke-width="0.5"/>
<circle cx="556.89" cy="133.64" r="0.84" fill="#890000" stroke="#000" stroke-width="0.5"/>
<circle cx="617.92" cy="163.69" r="1.13" fill="#c40000" stroke="#000" stroke-width="0.5"/>
<circle cx="543.83" cy="133.51" r="1.16" fill="#ffb600" stroke="#000" stroke-width="0.5"/>
<circle cx="577.56" cy="150.15" r="1.58" fill="#6f0000" stroke="#000" stroke-width="0.5"/>
<circle cx="598.7" cy="155.77" r="1.07" fill="#c50000" stroke="#000" stroke-width="0.5"/>
<circle cx="585.29" cy="146.82" r="1.14" fill="#ffd600" stroke="#000" stroke-width="0.5"/>
<circle cx="615.6" cy="155.74" r="1.15" fill="#920000" stroke="#000" stroke-width="0.5"/>
<circle cx="611.35" cy="162.75" r="0.88" fill="#d20000" stroke="#000" stroke-width="0.5"/>
<circle cx="550.23" cy="127.75" r="1.52" fill="#c80000" stroke="#000" stroke-width="0.5"/>
<circle cx="600.97" cy="151.74" r="1.02" fill="#e70000" stroke="#000" stroke-width="0.5"/>
<circle cx="614.94" cy="153.62" r="1.54" fill="#a50000" stroke="#000" stroke-width="0.5"/>
<circle cx="554.45" cy="135.05" r="0.99" fill="#fc0000" stroke="#000" stroke-width="0.5"/>
<circle cx="525.49" cy="130.26" r="1.15" fill="#650000" stroke="#000" stroke-width="0.5"/>
<circle cx="614.13" cy="155.87" r="0.74" fill="#930000" stroke="#000" stroke-width="0.5"/>
<circle cx="587.24" cy="148.95" r="0.77" fill="#a90000" stroke="#000" stroke-width="0.5"/>
<circle cx="559.36" cy="133.18" r="1.43" fill="#d80000" stroke="#000" stroke-width="0.5"/>
<circle cx="563.25" cy="141.56" r="1.33" fill="#9b0000" stroke="#000" stroke-width="0.5"/>
<circle cx="554.37" cy="134.59" r="1.58" fill="#ff2600" stroke="#000" stroke-width="0.5"/>
<circle cx="525.13" cy="121.27" r="1.45" fill="#ff2b00" stroke="#000" stroke-width="0.5"/>
<circle cx="533.33" cy="124.15" r="0.86" fill="#ff1800" stroke="#000" stroke-width="0.5"/>
<circle cx="527.69" cy="121.46" r="1.41" fill="#f40000" stroke="#000" stroke-width="0.5"/>
<circle cx="568.81" cy="143.28" r="1" fill="#ff1500" stroke="#000" stroke-width="0.5"/>
<circle cx="529.86" cy="126.67" r="1.53" fill="#6b0000" stroke="#000" stroke-width="0.5"/>
<circle cx="591.44" cy="145.03" r="1.53" fill="#510000" stroke="#000" stroke-width="0.5"/>
<circle cx="578.17" cy="143.6" r="0.89" fill="#ff1d00" stroke="#000" stroke-width="0.5"/>
<circle cx="588.7" cy="151.13" r="1.47" fill="#6c0000" stroke="#000" stroke-width="0.5"/>
<circle cx="608.62" cy="155.82" r="0.95" fill="#c80000" stroke="#000" stroke-width="0.5"/>
<circle cx="616.76" cy="161.07" r="1.04" fill="#a00000" stroke="#000" stroke-width="0.5"/>
<circle cx="613.5" cy="152.25" r="1.34" fill="#ff0a00" stroke="#000" stroke-width="0.5"/>
<circle cx="569.44" cy="144.65" r="1.25" fill="#ffcd00" stroke="#000" stroke-width="0.5"/>
<circle cx="556.46" cy="128.57" r="0.77" fill="#900000" stroke="#000" stroke-width="0.5"/>
<circle cx="527.77" cy="123.75" r="1.56" fill="#890000" stroke="#000" stroke-width="0.5"/>
<circle cx="600.62" cy="148.39" r="1.58" fill="#9a0000" stroke="#000" stroke-width="0.5"/>
<circle cx="608.50" cy="156.71" r="0.44" fill="#222"/>
<circle cx="601.14" cy="158.02" r="0.60" fill="#222"/>
<circle cx="620.02" cy="162.56" r="0.51" fill="#111"/>
<circle cx="600.91" cy="151.11" r="0.59" fill="#222"/>
<circle cx="613.53" cy="161.04" r="0.53" fill="#2a1010"/>
<circle cx="606.68" cy="160.00" r="0.61" fill="#111"/>
<circle cx="596.21" cy="156.60" r="0.39" fill="#2a1010"/>
<circle cx="624.04" cy="163.85" r="0.54" fill="#1a1a1a"/>
<circle cx="604.59" cy="151.42" r="0.47" fill="#222"/>
<circle cx="618.10" cy="162.22" r="0.57" fill="#777"/>
<circle cx="602.23" cy="158.08" r="0.56" fill="#222"/>
<circle cx="622.52" cy="161.01" r="0.57" fill="#111"/>
<circle cx="604.97" cy="155.52" r="0.60" fill="#444"/>
<circle cx="616.38" cy="159.34" r="0.43" fill="#222"/>
<circle cx="613.45" cy="158.18" r="0.44" fill="#222"/>
<circle cx="599.43" cy="154.39" r="0.62" fill="#777"/>
<circle cx="616.11" cy="161.91" r="0.45" fill="#777"/>
<circle cx="622.26" cy="162.31" r="0.49" fill="#777"/>
<circle cx="624.26" cy="163.30" r="0.51" fill="#222"/>
<circle cx="609.75" cy="151.77" r="0.43" fill="#111"/>
<circle cx="610.09" cy="161.94" r="1.24" fill="#ff8c00" stroke="#000" stroke-width="0.5"/>
<circle cx="600.32" cy="158.31" r="1.35" fill="#ffdd00" stroke="#000" stroke-width="0.5"/>
<circle cx="611.35" cy="156.31" r="1.26" fill="#ffbb00" stroke="#000" stroke-width="0.5"/>
<circle cx="600.34" cy="154.38" r="1.33" fill="#ff8a00" stroke="#000" stroke-width="0.5"/>
<circle cx="617.61" cy="158.26" r="1.23" fill="#ffcc00" stroke="#000" stroke-width="0.5"/>
<circle cx="614.21" cy="163.51" r="1.39" fill="#f20000" stroke="#000" stroke-width="0.5"/>
<circle cx="621.3" cy="158.91" r="0.87" fill="#ff4d00" stroke="#000" stroke-width="0.5"/>
<circle cx="615.69" cy="162.4" r="1.33" fill="#ff6300" stroke="#000" stroke-width="0.5"/>
<circle cx="616.89" cy="159.66" r="0.95" fill="#ffcf00" stroke="#000" stroke-width="0.5"/>
<circle cx="623.74" cy="161.96" r="0.83" fill="#fb0000" stroke="#000" stroke-width="0.5"/>
<circle cx="608.51" cy="156.62" r="1.37" fill="#ff1400" stroke="#000" stroke-width="0.5"/>
<circle cx="596.99" cy="150.58" r="1.12" fill="#e60000" stroke="#000" stroke-width="0.5"/>
<circle cx="596.24" cy="148.53" r="1.19" fill="#ff6300" stroke="#000" stroke-width="0.5"/>
<circle cx="613" cy="162.25" r="1.12" fill="#ff0200" stroke="#000" stroke-width="0.5"/>
<circle cx="613.07" cy="156.23" r="1.2" fill="#dd0000" stroke="#000" stroke-width="0.5"/>
<circle cx="599.81" cy="157.13" r="1.3" fill="#ff7500" stroke="#000" stroke-width="0.5"/>
<circle cx="616.8" cy="160.09" r="1.39" fill="#d30000" stroke="#000" stroke-width="0.5"/>
<circle cx="610.11" cy="160.2" r="0.85" fill="#ff8a00" stroke="#000" stroke-width="0.5"/>
<circle cx="602.49" cy="153.57" r="0.98" fill="#ff6500" stroke="#000" stroke-width="0.5"/>
<circle cx="604.38" cy="151.46" r="0.85" fill="#ff7200" stroke="#000" stroke-width="0.5"/>
<circle cx="594.67" cy="149.06" r="1.24" fill="#d70000" stroke="#000" stroke-width="0.5"/>
<circle cx="622.25" cy="162.42" r="0.83" fill="#e30000" stroke="#000" stroke-width="0.5"/>
<circle cx="601.92" cy="150.41" r="1.27" fill="#ffbd00" stroke="#000" stroke-width="0.5"/>
<circle cx="605.85" cy="150.92" r="0.9" fill="#fffd00" stroke="#000" stroke-width="0.5"/>
<circle cx="608.67" cy="159.21" r="1.25" fill="#e60000" stroke="#000" stroke-width="0.5"/>
<circle cx="610.67" cy="154.13" r="1.13" fill="#ff8200" stroke="#000" stroke-width="0.5"/>
<circle cx="601.4" cy="154.17" r="0.85" fill="#ff2200" stroke="#000" stroke-width="0.5"/>
<circle cx="597.78" cy="156.24" r="0.93" fill="#ff6f00" stroke="#000" stroke-width="0.5"/>
<circle cx="618.07" cy="159.37" r="1.19" fill="#ff7b00" stroke="#000" stroke-width="0.5"/>
<circle cx="621.46" cy="160.86" r="1.06" fill="#ff9200" stroke="#000" stroke-width="0.5"/>
<circle cx="612.93" cy="159.06" r="0.9" fill="#ffd700" stroke="#000" stroke-width="0.5"/>
<circle cx="606.12" cy="154.15" r="1.38" fill="#ff8800" stroke="#000" stroke-width="0.5"/>
<circle cx="613.88" cy="159.13" r="1.19" fill="#d70000" stroke="#000" stroke-width="0.5"/>
<circle cx="596.15" cy="149.22" r="1.03" fill="#ff7700" stroke="#000" stroke-width="0.5"/>
<circle cx="616.4" cy="159.67" r="1.11" fill="#ffff26" stroke="#000" stroke-width="0.5"/>
<circle cx="523.2" cy="128.5" r="1.5" fill="#ffff33" stroke="#000" stroke-width="0.5"/>
<circle cx="533.3" cy="128.7" r="1.7" fill="#ffff33" stroke="#000" stroke-width="0.5"/>
<circle cx="530.6" cy="126.7" r="1.2" fill="#ff5500" stroke="#000" stroke-width="0.5"/>
<circle cx="529" cy="134.8" r="1.1" fill="#ffff0a" stroke="#000" stroke-width="0.5"/>
<circle cx="531" cy="135.3" r="1.1" fill="#ffff0a" stroke="#000" stroke-width="0.5"/>
<circle cx="533.2" cy="135.6" r="1.1" fill="#ffff1e" stroke="#000" stroke-width="0.5"/>
<circle cx="535.2" cy="135.8" r="1.1" fill="#ffff0a" stroke="#000" stroke-width="0.5"/>
<circle cx="550.8" cy="140.3" r="1.2" fill="#ffff0a" stroke="#000" stroke-width="0.5"/>
<circle cx="521" cy="133.1" r="2" fill="#950000" stroke="#000" stroke-width="0.5"/>
<circle cx="561.1" cy="141" r="1.3" fill="#ffff1e" stroke="#000" stroke-width="0.5"/>
<circle cx="566.4" cy="138.7" r="1.5" fill="#ffff33" stroke="#000" stroke-width="0.5"/>
<circle cx="575.7" cy="142.5" r="1.3" fill="#ffff0a" stroke="#000" stroke-width="0.5"/>
<circle cx="579.8" cy="147.7" r="1.3" fill="#ffff1e" stroke="#000" stroke-width="0.5"/>
<circle cx="582.1" cy="149.8" r="1.2" fill="#ffff0a" stroke="#000" stroke-width="0.5"/>
<circle cx="585" cy="151" r="1.2" fill="#ffff0a" stroke="#000" stroke-width="0.5"/>
<circle cx="591.5" cy="150.6" r="1.3" fill="#ffff1e" stroke="#000" stroke-width="0.5"/>
<circle cx="587.4" cy="146.3" r="1.2" fill="#fff800" stroke="#000" stroke-width="0.5"/>
<circle cx="579.8" cy="153.3" r="2" fill="#7a0000" stroke="#000" stroke-width="0.5"/>
<circle cx="600" cy="152" r="1.4" fill="#ff5500" stroke="#000" stroke-width="0.5"/>
<circle cx="606" cy="158" r="1.4" fill="#ff4700" stroke="#000" stroke-width="0.5"/>
<circle cx="610" cy="155" r="1.3" fill="#ff6200" stroke="#000" stroke-width="0.5"/>
<circle cx="616" cy="162" r="1.2" fill="#ff5500" stroke="#000" stroke-width="0.5"/>
<circle cx="529.22" cy="113.47" r="0.56" fill="#1a1a1a"/>
<circle cx="547.27" cy="121.48" r="0.38" fill="#2a1010"/>
<circle cx="581.27" cy="120.10" r="0.43" fill="#111"/>
<circle cx="510.44" cy="110.09" r="0.38" fill="#331111"/>
<circle cx="528.91" cy="112.79" r="0.51" fill="#111"/>
<circle cx="587.88" cy="125.82" r="0.40" fill="#777"/>
<circle cx="526.28" cy="108.65" r="0.42" fill="#2a1010"/>
<circle cx="540.85" cy="112.86" r="0.43" fill="#2a1010"/>
<circle cx="548.70" cy="121.08" r="0.38" fill="#111"/>
<circle cx="510.77" cy="108.58" r="0.43" fill="#2a1010"/>
<circle cx="558.47" cy="124.89" r="0.64" fill="#777"/>
<circle cx="554.55" cy="116.25" r="0.44" fill="#111"/>
<circle cx="512.89" cy="110.37" r="0.63" fill="#2a1010"/>
<circle cx="514.30" cy="110.74" r="0.59" fill="#111"/>
<circle cx="550.75" cy="108.32" r="0.35" fill="#444"/>
<circle cx="582.10" cy="125.66" r="0.54" fill="#444"/>
<circle cx="562.47" cy="119.63" r="0.39" fill="#777"/>
<circle cx="567.36" cy="119.62" r="0.56" fill="#111"/>
<circle cx="561.81" cy="125.64" r="0.54" fill="#550000" stroke="#000" stroke-width="0.5"/>
<circle cx="546.71" cy="107.37" r="0.6" fill="#ff0800" stroke="#000" stroke-width="0.5"/>
<circle cx="550.32" cy="116.28" r="0.97" fill="#cb0000" stroke="#000" stroke-width="0.5"/>
<circle cx="535.57" cy="113.77" r="0.67" fill="#ce0000" stroke="#000" stroke-width="0.5"/>
<circle cx="540.52" cy="107.89" r="0.91" fill="#9b0000" stroke="#000" stroke-width="0.5"/>
<circle cx="529.5" cy="114.9" r="0.78" fill="#da0000" stroke="#000" stroke-width="0.5"/>
<circle cx="527.84" cy="106.89" r="0.98" fill="#620000" stroke="#000" stroke-width="0.5"/>
<circle cx="554.61" cy="117.95" r="0.94" fill="#6e0000" stroke="#000" stroke-width="0.5"/>
<circle cx="547.98" cy="113.81" r="0.94" fill="#ba0000" stroke="#000" stroke-width="0.5"/>
<circle cx="536.07" cy="146.40" r="0.64" fill="#777"/>
<circle cx="522.45" cy="138.64" r="0.46" fill="#222"/>
<circle cx="582.63" cy="159.52" r="0.50" fill="#111"/>
<circle cx="550.16" cy="153.99" r="0.51" fill="#444"/>
<circle cx="531.29" cy="149.19" r="0.51" fill="#444"/>
<circle cx="583.99" cy="161.24" r="0.37" fill="#444"/>
<circle cx="552.45" cy="160.20" r="0.59" fill="#111"/>
<circle cx="550.04" cy="148.24" r="0.58" fill="#444"/>
<circle cx="554.49" cy="149.14" r="0.65" fill="#444"/>
<circle cx="529.34" cy="145.58" r="0.36" fill="#1a1a1a"/>
<circle cx="589.61" cy="158.18" r="0.54" fill="#2a1010"/>
<circle cx="561.93" cy="148.80" r="0.56" fill="#2a1010"/>
<circle cx="572.38" cy="160.35" r="0.58" fill="#2a1010"/>
<circle cx="579.01" cy="166.08" r="0.54" fill="#444"/>
<circle cx="586.53" cy="159.35" r="0.40" fill="#111"/>
<circle cx="588.76" cy="157.20" r="0.41" fill="#111"/>
<circle cx="563.60" cy="150.84" r="0.52" fill="#111"/>
<circle cx="510.35" cy="144.28" r="0.43" fill="#444"/>
<circle cx="512.15" cy="138.97" r="0.38" fill="#1a1a1a"/>
<circle cx="523.38" cy="148.07" r="0.51" fill="#222"/>
<circle cx="539.58" cy="154.06" r="0.39" fill="#331111"/>
<circle cx="514.61" cy="141.54" r="0.56" fill="#2a1010"/>
<circle cx="550.69" cy="152.86" r="0.59" fill="#331111"/>
<circle cx="531.68" cy="145.31" r="0.48" fill="#331111"/>
<circle cx="574.61" cy="152.35" r="0.41" fill="#1a1a1a"/>
<circle cx="528.42" cy="147.20" r="0.55" fill="#222"/>
<circle cx="551.66" cy="148.20" r="0.56" fill="#444"/>
<circle cx="596.28" cy="164.60" r="0.44" fill="#222"/>
<circle cx="557.06" cy="147.03" r="0.58" fill="#222"/>
<circle cx="518.02" cy="137.77" r="0.50" fill="#1a1a1a"/>
<circle cx="571.72" cy="153.15" r="0.52" fill="#a20000" stroke="#000" stroke-width="0.5"/>
<circle cx="566.14" cy="151.74" r="0.43" fill="#ff0100" stroke="#000" stroke-width="0.5"/>
<circle cx="573.46" cy="155.26" r="0.71" fill="#ec0000" stroke="#000" stroke-width="0.5"/>
<circle cx="586.72" cy="159.78" r="0.54" fill="#630000" stroke="#000" stroke-width="0.5"/>
<circle cx="572.77" cy="161.77" r="0.69" fill="#c00000" stroke="#000" stroke-width="0.5"/>
<circle cx="570.33" cy="155.08" r="0.68" fill="#b50000" stroke="#000" stroke-width="0.5"/>
<circle cx="564.33" cy="150.63" r="0.5" fill="#b40000" stroke="#000" stroke-width="0.5"/>
<circle cx="594.87" cy="169.83" r="0.69" fill="#6d0000" stroke="#000" stroke-width="0.5"/>
<circle cx="587.12" cy="73.84" r="0.54" fill="#888"/>
<circle cx="591.61" cy="75.71" r="0.34" fill="#1a1a1a"/>
<circle cx="598.86" cy="78.67" r="0.45" fill="#888"/>
<circle cx="596.86" cy="78.64" r="0.38" fill="#333"/>
<circle cx="596.46" cy="79.37" r="0.51" fill="#888"/>
<circle cx="593.98" cy="76.79" r="0.55" fill="#555"/>
<circle cx="586.73" cy="74.63" r="0.43" fill="#888"/>
<circle cx="584.46" cy="72.07" r="0.54" fill="#222"/>
<circle cx="593.24" cy="77.79" r="0.57" fill="#222"/>
<circle cx="588.26" cy="73.34" r="0.58" fill="#222"/>
<circle cx="589.38" cy="76.49" r="0.41" fill="#333"/>
<circle cx="588.70" cy="74.52" r="0.50" fill="#888"/>
<circle cx="594.06" cy="77.37" r="0.57" fill="#888"/>
<circle cx="597.95" cy="80.16" r="0.32" fill="#555"/>
<circle cx="587.52" cy="72.66" r="0.5" fill="#ffeb00" stroke="#000" stroke-width="0.5"/>
<circle cx="589.66" cy="74.29" r="0.53" fill="#ffff04" stroke="#000" stroke-width="0.5"/>
<circle cx="585.21" cy="72.67" r="0.76" fill="#ffd200" stroke="#000" stroke-width="0.5"/>
<circle cx="595.58" cy="79.53" r="0.76" fill="#ffff35" stroke="#000" stroke-width="0.5"/>
<circle cx="597.07" cy="77.56" r="0.74" fill="#ff7100" stroke="#000" stroke-width="0.5"/>
<circle cx="592.11" cy="75.01" r="0.74" fill="#ffd700" stroke="#000" stroke-width="0.5"/>
<circle cx="585.32" cy="72.78" r="0.49" fill="#ff6d00" stroke="#000" stroke-width="0.5"/>
<circle cx="585.21" cy="71.64" r="0.62" fill="#ffff2a" stroke="#000" stroke-width="0.5"/>
<circle cx="593.75" cy="78.05" r="0.56" fill="#ffda00" stroke="#000" stroke-width="0.5"/>
<circle cx="593.74" cy="78.03" r="0.56" fill="#ffff26" stroke="#000" stroke-width="0.5"/>
<circle cx="595.88" cy="77.76" r="0.57" fill="#ff4e00" stroke="#000" stroke-width="0.5"/>
<circle cx="599.36" cy="80.66" r="0.61" fill="#ffff3e" stroke="#000" stroke-width="0.5"/>
<circle cx="587.99" cy="73.79" r="0.52" fill="#ffff38" stroke="#000" stroke-width="0.5"/>
<circle cx="594.05" cy="78.18" r="0.65" fill="#fff400" stroke="#000" stroke-width="0.5"/>
<circle cx="516.2" cy="54.5" r="0.9" fill="#d90000" stroke="#000" stroke-width="0.5"/>
<circle cx="539.2" cy="50.3" r="0.7" fill="#510000" stroke="#000" stroke-width="0.5"/>
<circle cx="533.9" cy="70.3" r="1" fill="#880000" stroke="#000" stroke-width="0.5"/>
<circle cx="515.8" cy="89" r="0.6" fill="#880000" stroke="#000" stroke-width="0.5"/>
<circle cx="540.5" cy="99.5" r="0.8" fill="#ed0000" stroke="#000" stroke-width="0.5"/>
<circle cx="536.1" cy="104.8" r="0.7" fill="#650000" stroke="#000" stroke-width="0.5"/>
<circle cx="506.1" cy="103.9" r="0.6" fill="#440000" stroke="#000" stroke-width="0.5"/>
<circle cx="560.2" cy="74.8" r="0.7" fill="#aa0000" stroke="#000" stroke-width="0.5"/>
<circle cx="648.4" cy="41.8" r="0.8" fill="#ff7700" stroke="#000" stroke-width="0.5"/>
<circle cx="649.7" cy="44.6" r="0.6" fill="#880000" stroke="#000" stroke-width="0.5"/>
<circle cx="637.6" cy="61.2" r="0.7" fill="#ffff1e" stroke="#000" stroke-width="0.5"/>
<circle cx="610.8" cy="106.7" r="1.3" fill="#f40000" stroke="#000" stroke-width="0.5"/>
<circle cx="593.4" cy="137.5" r="1.5" fill="#ff1e00" stroke="#000" stroke-width="0.5"/>
<circle cx="601.4" cy="132.6" r="1" fill="#ff3300" stroke="#000" stroke-width="0.5"/>
<circle cx="584.5" cy="131.1" r="1" fill="#cb0000" stroke="#000" stroke-width="0.5"/>
<circle cx="598.3" cy="121" r="0.6" fill="#aa0000" stroke="#000" stroke-width="0.5"/>
<circle cx="613.6" cy="142.2" r="0.9" fill="#ffdc00" stroke="#000" stroke-width="0.5"/>
<circle cx="615" cy="144" r="0.8" fill="#ff9900" stroke="#000" stroke-width="0.5"/>
<circle cx="620.1" cy="150.1" r="0.9" fill="#ffea00" stroke="#000" stroke-width="0.5"/>
<circle cx="623.6" cy="158" r="0.9" fill="#ffff0a" stroke="#000" stroke-width="0.5"/>
<circle cx="627.3" cy="174.3" r="0.6" fill="#880000" stroke="#000" stroke-width="0.5"/>
<circle cx="619.1" cy="179" r="0.8" fill="#ff5500" stroke="#000" stroke-width="0.5"/>
<circle cx="673" cy="149.2" r="0.9" fill="#cb0000" stroke="#000" stroke-width="0.5"/>
<circle cx="660.5" cy="152.7" r="0.7" fill="#ffea00" stroke="#000" stroke-width="0.5"/>
<circle cx="488" cy="205.2" r="0.7" fill="#aa0000" stroke="#000" stroke-width="0.5"/>
<circle cx="592.4" cy="202.6" r="0.7" fill="#aa0000" stroke="#000" stroke-width="0.5"/>
<circle cx="540.1" cy="158" r="0.7" fill="#aa0000" stroke="#000" stroke-width="0.5"/>
<circle cx="498.9" cy="161.7" r="0.6" fill="#650000" stroke="#000" stroke-width="0.5"/>
<circle cx="542.9" cy="108.8" r="0.9" fill="#cb0000" stroke="#000" stroke-width="0.5"/>
<circle cx="548.6" cy="111" r="0.9" fill="#cb0000" stroke="#000" stroke-width="0.5"/>
<circle cx="530.6" cy="119.7" r="0.9" fill="#cb0000" stroke="#000" stroke-width="0.5"/>
<circle cx="550.8" cy="123.8" r="0.9" fill="#880000" stroke="#000" stroke-width="0.5"/>
<circle cx="515.40" cy="96.30" r="0.55" fill="#333"/>
<circle cx="524.00" cy="99.50" r="0.55" fill="#333"/>
<circle cx="494.00" cy="101.60" r="0.55" fill="#333"/>
<circle cx="474.10" cy="101.90" r="0.55" fill="#333"/>
<circle cx="483.00" cy="104.80" r="0.55" fill="#333"/>
<circle cx="471.20" cy="105.00" r="0.55" fill="#333"/>
<circle cx="498.40" cy="106.90" r="0.55" fill="#333"/>
<circle cx="651.30" cy="48.40" r="0.55" fill="#333"/>
<circle cx="652.60" cy="49.80" r="0.55" fill="#333"/>
<circle cx="578.20" cy="73.30" r="0.55" fill="#333"/>
<circle cx="581.60" cy="73.30" r="0.55" fill="#333"/>
<circle cx="634.80" cy="108.60" r="0.55" fill="#333"/>
<circle cx="540.30" cy="224.00" r="0.55" fill="#333"/>
<circle cx="560.30" cy="182.50" r="0.55" fill="#333"/>
<circle cx="561.20" cy="183.50" r="0.55" fill="#333"/>
<circle cx="566.10" cy="159.00" r="0.55" fill="#333"/>
<circle cx="531.40" cy="155.00" r="0.55" fill="#333"/>
<circle cx="649.40" cy="165.60" r="0.55" fill="#333"/>
<circle cx="637.40" cy="58.50" r="0.55" fill="#333"/>
<circle cx="537.70" cy="106.60" r="0.55" fill="#333"/>
<circle cx="538.10" cy="114.00" r="0.55" fill="#333"/>
<circle cx="541.20" cy="118.40" r="0.55" fill="#333"/>
<circle cx="550.80" cy="120.00" r="0.55" fill="#333"/>
<circle cx="559.10" cy="113.80" r="0.55" fill="#333"/>
<circle cx="513.60" cy="113.10" r="0.55" fill="#333"/>
<circle cx="515.60" cy="113.10" r="0.55" fill="#333"/>
<circle cx="520.60" cy="138.10" r="0.55" fill="#333"/>
<circle cx="525.80" cy="140.30" r="0.55" fill="#333"/>
<circle cx="528.00" cy="141.20" r="0.55" fill="#333"/>
<circle cx="542.00" cy="142.90" r="0.55" fill="#333"/>
<circle cx="566.40" cy="158.50" r="0.55" fill="#333"/>
<circle cx="577.80" cy="164.40" r="0.55" fill="#333"/>
<line x1="443.1" y1="111.4" x2="627.9" y2="167.9" stroke="#6464f5" stroke-width="1.5" stroke-dasharray="10.4 4.9" stroke-dashoffset="0"/>
<line x1="575" y1="152.4" x2="600" y2="160" stroke="#4848d8" stroke-width="1.5" />
<polygon points="521,116.6 522.6,120.19 526.52,120.61 523.59,123.24 524.41,127.09 521,125.13 517.59,127.09 518.41,123.24 515.48,120.61 519.4,120.19" fill="#000" stroke="#000" stroke-width="1" stroke-linejoin="miter"/>
<polygon points="521,119.38 521.83,121.25 523.87,121.47 522.35,122.84 522.77,124.84 521,123.82 519.23,124.84 519.65,122.84 518.13,121.47 520.17,121.25" fill="#00ff00"/>
<polygon points="543.8,126.8 545.4,130.39 549.32,130.81 546.39,133.44 547.21,137.29 543.8,135.33 540.39,137.29 541.21,133.44 538.28,130.81 542.2,130.39" fill="#000" stroke="#000" stroke-width="1" stroke-linejoin="miter"/>
<polygon points="543.8,129.58 544.63,131.45 546.67,131.67 545.15,133.04 545.57,135.04 543.8,134.02 542.03,135.04 542.45,133.04 540.93,131.67 542.97,131.45" fill="#00e5ee"/>
<circle cx="199.92" cy="603.88" r="0.44" fill="#442"/>
<circle cx="186.91" cy="605.17" r="0.42" fill="#555"/>
<circle cx="175.43" cy="602.93" r="0.46" fill="#555"/>
<circle cx="164.88" cy="605.35" r="0.56" fill="#333"/>
<circle cx="150.51" cy="604.76" r="0.45" fill="#555"/>
<circle cx="198.29" cy="606.18" r="0.58" fill="#111"/>
<circle cx="179.44" cy="603.57" r="0.64" fill="#442"/>
<circle cx="193.80" cy="603.73" r="0.36" fill="#555"/>
<circle cx="172.19" cy="608.20" r="0.61" fill="#222"/>
<circle cx="169.30" cy="609.26" r="0.61" fill="#555"/>
<circle cx="169.67" cy="609.49" r="0.52" fill="#1a1a1a"/>
<circle cx="147.50" cy="605.79" r="0.36" fill="#1a1a1a"/>
<circle cx="175.33" cy="604.44" r="0.43" fill="#333"/>
<circle cx="151.42" cy="607.21" r="0.37" fill="#111"/>
<circle cx="148.26" cy="608.37" r="0.51" fill="#1a1a1a"/>
<circle cx="170.03" cy="603.82" r="0.53" fill="#1a1a1a"/>
<circle cx="198.51" cy="607.91" r="0.38" fill="#333"/>
<circle cx="182.15" cy="607.83" r="0.43" fill="#333"/>
<circle cx="196.54" cy="605.82" r="0.38" fill="#111"/>
<circle cx="193.66" cy="606.69" r="0.47" fill="#222"/>
<circle cx="166.52" cy="607.29" r="0.65" fill="#222"/>
<circle cx="163.31" cy="607.91" r="0.65" fill="#1a1a1a"/>
<circle cx="148.00" cy="605.58" r="0.54" fill="#222"/>
<circle cx="157.22" cy="607.26" r="0.48" fill="#1a1a1a"/>
<circle cx="149.97" cy="604.87" r="0.50" fill="#1a1a1a"/>
<circle cx="163.89" cy="608.80" r="0.58" fill="#442"/>
<circle cx="168.15" cy="609.59" r="0.49" fill="#1a1a1a"/>
<circle cx="167.25" cy="606.32" r="0.50" fill="#1a1a1a"/>
<circle cx="142.54" cy="607.76" r="0.64" fill="#333"/>
<circle cx="144.23" cy="608.01" r="0.45" fill="#555"/>
<circle cx="180.82" cy="605.44" r="0.40" fill="#442"/>
<circle cx="171.97" cy="602.81" r="0.59" fill="#333"/>
<circle cx="159.98" cy="607.22" r="0.63" fill="#333"/>
<circle cx="197.03" cy="607.15" r="0.40" fill="#555"/>
<circle cx="179.09" cy="608.01" r="0.63" fill="#1a1a1a"/>
<circle cx="176.85" cy="607.58" r="0.47" fill="#222"/>
<circle cx="174.58" cy="607.58" r="0.45" fill="#1a1a1a"/>
<circle cx="172.06" cy="605.52" r="0.40" fill="#111"/>
<circle cx="146.43" cy="609.28" r="0.64" fill="#442"/>
<circle cx="158.04" cy="606.10" r="0.50" fill="#222"/>
<circle cx="170.33" cy="602.65" r="0.51" fill="#222"/>
<circle cx="177.63" cy="606.08" r="0.45" fill="#333"/>
<circle cx="175.80" cy="606.74" r="0.61" fill="#111"/>
<circle cx="160.97" cy="605.41" r="0.46" fill="#555"/>
<circle cx="171.41" cy="604.57" r="0.45" fill="#333"/>
<circle cx="147.93" cy="607.67" r="0.36" fill="#1a1a1a"/>
<circle cx="151.00" cy="608.03" r="0.39" fill="#222"/>
<circle cx="152.14" cy="602.93" r="0.43" fill="#555"/>
<circle cx="185.92" cy="603.61" r="0.60" fill="#111"/>
<circle cx="184.38" cy="608.94" r="0.47" fill="#111"/>
<circle cx="177.03" cy="607.82" r="0.40" fill="#1a1a1a"/>
<circle cx="139.35" cy="607.81" r="0.54" fill="#111"/>
<circle cx="166.73" cy="603.30" r="0.41" fill="#222"/>
<circle cx="164.94" cy="605.43" r="0.43" fill="#1a1a1a"/>
<circle cx="167.95" cy="602.68" r="0.55" fill="#1a1a1a"/>
<circle cx="148.26" cy="609.20" r="0.59" fill="#555"/>
<circle cx="183.70" cy="602.94" r="0.51" fill="#555"/>
<circle cx="194.14" cy="608.37" r="0.51" fill="#442"/>
<circle cx="138.86" cy="605.79" r="0.36" fill="#555"/>
<circle cx="158.89" cy="605.47" r="0.63" fill="#111"/>
<circle cx="194.72" cy="606.71" r="0.39" fill="#1a1a1a"/>
<circle cx="180.68" cy="603.67" r="0.54" fill="#442"/>
<circle cx="187.73" cy="608.39" r="0.50" fill="#111"/>
<circle cx="190.36" cy="605.21" r="0.56" fill="#1a1a1a"/>
<circle cx="173.33" cy="607.96" r="0.47" fill="#333"/>
<circle cx="176.14" cy="604.87" r="0.46" fill="#222"/>
<circle cx="199.60" cy="604.08" r="0.55" fill="#442"/>
<circle cx="180.66" cy="604.89" r="0.58" fill="#222"/>
<circle cx="187.67" cy="605.03" r="0.52" fill="#442"/>
<circle cx="168.30" cy="604.56" r="0.63" fill="#111"/>
<circle cx="168.51" cy="608.71" r="0.36" fill="#333"/>
<circle cx="185.19" cy="606.80" r="0.62" fill="#442"/>
<circle cx="169.47" cy="607.79" r="0.35" fill="#442"/>
<circle cx="186.18" cy="603.27" r="0.43" fill="#111"/>
<circle cx="175.58" cy="605.77" r="0.61" fill="#222"/>
<circle cx="143.04" cy="605.87" r="0.46" fill="#111"/>
<circle cx="168.62" cy="607.91" r="0.41" fill="#555"/>
<circle cx="154.00" cy="608.37" r="0.41" fill="#442"/>
<circle cx="164.46" cy="606.79" r="0.59" fill="#222"/>
<circle cx="166.29" cy="608.98" r="0.47" fill="#555"/>
<circle cx="167.31" cy="603.39" r="0.57" fill="#1a1a1a"/>
<circle cx="188.30" cy="604.71" r="0.53" fill="#442"/>
<circle cx="159.80" cy="608.88" r="0.61" fill="#222"/>
<circle cx="167.63" cy="603.15" r="0.61" fill="#111"/>
<circle cx="151.36" cy="607.01" r="0.61" fill="#111"/>
<circle cx="183.21" cy="605.07" r="0.63" fill="#1a1a1a"/>
<circle cx="197.32" cy="607.34" r="0.58" fill="#555"/>
<circle cx="149.53" cy="606.25" r="0.45" fill="#1a1a1a"/>
<circle cx="194.20" cy="604.17" r="0.61" fill="#1a1a1a"/>
<circle cx="153.51" cy="609.34" r="0.42" fill="#442"/>
<circle cx="141.91" cy="605.37" r="0.54" fill="#333"/>
<circle cx="151.16" cy="605.62" r="0.49" fill="#222"/>
<circle cx="180.28" cy="608.09" r="0.42" fill="#333"/>
<circle cx="167.81" cy="606.48" r="0.41" fill="#222"/>
<circle cx="147.95" cy="607.63" r="0.52" fill="#333"/>
<circle cx="193.73" cy="606.02" r="0.63" fill="#442"/>
<circle cx="160.79" cy="606.66" r="0.58" fill="#442"/>
<circle cx="158.37" cy="605.07" r="0.38" fill="#333"/>
<circle cx="146.70" cy="606.87" r="0.64" fill="#333"/>
<circle cx="173.82" cy="603.84" r="0.58" fill="#222"/>
<circle cx="150.68" cy="603.43" r="0.44" fill="#555"/>
<circle cx="160.91" cy="608.33" r="0.63" fill="#555"/>
<circle cx="160.46" cy="609.62" r="0.54" fill="#442"/>
<circle cx="197.40" cy="607.49" r="0.40" fill="#1a1a1a"/>
<circle cx="175.50" cy="604.75" r="0.64" fill="#1a1a1a"/>
<circle cx="181.98" cy="606.90" r="0.48" fill="#1a1a1a"/>
<circle cx="172.30" cy="604.04" r="0.50" fill="#111"/>
<circle cx="184.70" cy="604.28" r="0.38" fill="#222"/>
<circle cx="180.05" cy="607.85" r="0.35" fill="#111"/>
<circle cx="155.39" cy="609.21" r="0.56" fill="#442"/>
<circle cx="163.78" cy="609.27" r="0.82" fill="#ff3400" stroke="#000" stroke-width="0.5"/>
<circle cx="150.57" cy="603.84" r="0.92" fill="#ffff26" stroke="#000" stroke-width="0.5"/>
<circle cx="154.58" cy="609.1" r="0.78" fill="#ffff2c" stroke="#000" stroke-width="0.5"/>
<circle cx="163.11" cy="607.73" r="0.58" fill="#ff9700" stroke="#000" stroke-width="0.5"/>
<circle cx="144.85" cy="608.1" r="0.67" fill="#ffd300" stroke="#000" stroke-width="0.5"/>
<circle cx="176.64" cy="607.4" r="0.62" fill="#ff6b00" stroke="#000" stroke-width="0.5"/>
<circle cx="160.26" cy="609.25" r="0.66" fill="#ffb900" stroke="#000" stroke-width="0.5"/>
<circle cx="147.26" cy="606.91" r="0.91" fill="#ffe400" stroke="#000" stroke-width="0.5"/>
<circle cx="173.61" cy="606.7" r="0.74" fill="#ffa800" stroke="#000" stroke-width="0.5"/>
<circle cx="141.6" cy="605.67" r="0.66" fill="#ff4b00" stroke="#000" stroke-width="0.5"/>
<circle cx="189.09" cy="604.31" r="0.59" fill="#ffd600" stroke="#000" stroke-width="0.5"/>
<circle cx="158.8" cy="608.24" r="0.65" fill="#ff8800" stroke="#000" stroke-width="0.5"/>
<circle cx="166.06" cy="606.27" r="0.97" fill="#ff4500" stroke="#000" stroke-width="0.5"/>
<circle cx="158.56" cy="603.17" r="0.84" fill="#ffcc00" stroke="#000" stroke-width="0.5"/>
<circle cx="169.75" cy="609.52" r="0.66" fill="#ffcb00" stroke="#000" stroke-width="0.5"/>
<circle cx="158.11" cy="609.32" r="0.87" fill="#ffba00" stroke="#000" stroke-width="0.5"/>
<circle cx="190.54" cy="607.36" r="0.62" fill="#ff3800" stroke="#000" stroke-width="0.5"/>
<circle cx="169.43" cy="605.02" r="0.6" fill="#ff7c00" stroke="#000" stroke-width="0.5"/>
<circle cx="169.66" cy="603.76" r="0.85" fill="#fff700" stroke="#000" stroke-width="0.5"/>
<circle cx="143.67" cy="609.27" r="0.55" fill="#ffd700" stroke="#000" stroke-width="0.5"/>
<circle cx="150.3" cy="603.16" r="0.86" fill="#aa0000" stroke="#000" stroke-width="0.5"/>
<circle cx="154.51" cy="607.53" r="0.65" fill="#fffa00" stroke="#000" stroke-width="0.5"/>
<circle cx="164.7" cy="603.67" r="0.58" fill="#ffff31" stroke="#000" stroke-width="0.5"/>
<circle cx="169.14" cy="606.16" r="0.64" fill="#ff6500" stroke="#000" stroke-width="0.5"/>
<circle cx="188.14" cy="604.69" r="0.97" fill="#ff6300" stroke="#000" stroke-width="0.5"/>
<circle cx="146.76" cy="606.13" r="0.61" fill="#ff7a00" stroke="#000" stroke-width="0.5"/>
<circle cx="140.8" cy="607.86" r="0.91" fill="#ffce00" stroke="#000" stroke-width="0.5"/>
<circle cx="141.33" cy="606.87" r="0.88" fill="#fffb00" stroke="#000" stroke-width="0.5"/>
<circle cx="160.74" cy="607.84" r="0.67" fill="#b40000" stroke="#000" stroke-width="0.5"/>
<circle cx="183.02" cy="608.99" r="0.84" fill="#ffff1b" stroke="#000" stroke-width="0.5"/>
<circle cx="182.44" cy="603.36" r="0.72" fill="#ff3300" stroke="#000" stroke-width="0.5"/>
<circle cx="140.62" cy="605.15" r="0.94" fill="#a80000" stroke="#000" stroke-width="0.5"/>
<circle cx="194.35" cy="608.4" r="0.94" fill="#ffff2d" stroke="#000" stroke-width="0.5"/>
<circle cx="173.08" cy="603.97" r="0.78" fill="#ffcf00" stroke="#000" stroke-width="0.5"/>
<circle cx="161.17" cy="606.33" r="0.81" fill="#ffc800" stroke="#000" stroke-width="0.5"/>
<circle cx="169.18" cy="606.28" r="0.74" fill="#ff4500" stroke="#000" stroke-width="0.5"/>
<circle cx="170.97" cy="604.57" r="0.9" fill="#ff8200" stroke="#000" stroke-width="0.5"/>
<circle cx="170.08" cy="604.37" r="0.97" fill="#ffd400" stroke="#000" stroke-width="0.5"/>
<circle cx="156" cy="605.52" r="0.87" fill="#ff6400" stroke="#000" stroke-width="0.5"/>
<circle cx="183.33" cy="604.1" r="0.75" fill="#ffcc00" stroke="#000" stroke-width="0.5"/>
<circle cx="160.29" cy="608.16" r="0.88" fill="#ffc300" stroke="#000" stroke-width="0.5"/>
<circle cx="186.63" cy="607.41" r="0.85" fill="#ff7900" stroke="#000" stroke-width="0.5"/>
<circle cx="154.91" cy="602.96" r="0.71" fill="#ffff2c" stroke="#000" stroke-width="0.5"/>
<circle cx="170.54" cy="607.53" r="0.98" fill="#ff4a00" stroke="#000" stroke-width="0.5"/>
<circle cx="158.89" cy="603.31" r="0.91" fill="#ff6400" stroke="#000" stroke-width="0.5"/>
<circle cx="160.89" cy="604.52" r="0.77" fill="#ff8e00" stroke="#000" stroke-width="0.5"/>
<circle cx="190.63" cy="609.01" r="0.75" fill="#ffcd00" stroke="#000" stroke-width="0.5"/>
<circle cx="198.4" cy="603.88" r="0.62" fill="#ffff24" stroke="#000" stroke-width="0.5"/>
<circle cx="190.87" cy="604.99" r="0.93" fill="#ff5e00" stroke="#000" stroke-width="0.5"/>
<circle cx="149.92" cy="608.3" r="0.72" fill="#ffff21" stroke="#000" stroke-width="0.5"/>
<circle cx="165.25" cy="605.48" r="0.82" fill="#ffa900" stroke="#000" stroke-width="0.5"/>
<circle cx="162.18" cy="605.34" r="0.55" fill="#ffff07" stroke="#000" stroke-width="0.5"/>
<circle cx="158.64" cy="607.6" r="0.83" fill="#ffa900" stroke="#000" stroke-width="0.5"/>
<circle cx="179.81" cy="607.08" r="0.68" fill="#ffff18" stroke="#000" stroke-width="0.5"/>
<circle cx="194.37" cy="604.25" r="0.81" fill="#ffce00" stroke="#000" stroke-width="0.5"/>
<circle cx="140.26" cy="604.94" r="0.84" fill="#ff6700" stroke="#000" stroke-width="0.5"/>
<circle cx="145.59" cy="604.1" r="0.69" fill="#ffd300" stroke="#000" stroke-width="0.5"/>
<circle cx="193.94" cy="603.37" r="0.99" fill="#ffff18" stroke="#000" stroke-width="0.5"/>
<circle cx="153.1" cy="606.9" r="0.72" fill="#ffff0d" stroke="#000" stroke-width="0.5"/>
<circle cx="188.25" cy="604.52" r="0.9" fill="#ffff30" stroke="#000" stroke-width="0.5"/>
<circle cx="141.37" cy="605.35" r="0.65" fill="#ff8200" stroke="#000" stroke-width="0.5"/>
<circle cx="190.21" cy="606.61" r="0.72" fill="#ff3d00" stroke="#000" stroke-width="0.5"/>
<circle cx="154.12" cy="608.15" r="0.75" fill="#910000" stroke="#000" stroke-width="0.5"/>
<circle cx="166.64" cy="604.09" r="0.55" fill="#ffb100" stroke="#000" stroke-width="0.5"/>
<circle cx="160.87" cy="605.74" r="0.78" fill="#fffc00" stroke="#000" stroke-width="0.5"/>
<circle cx="148.49" cy="606.33" r="0.77" fill="#ffff19" stroke="#000" stroke-width="0.5"/>
<circle cx="150.99" cy="609.08" r="0.71" fill="#fff100" stroke="#000" stroke-width="0.5"/>
<circle cx="172.93" cy="604.63" r="0.59" fill="#ad0000" stroke="#000" stroke-width="0.5"/>
<circle cx="145.09" cy="607.42" r="0.79" fill="#ffce00" stroke="#000" stroke-width="0.5"/>
<circle cx="190.39" cy="605.04" r="0.74" fill="#ac0000" stroke="#000" stroke-width="0.5"/>
<circle cx="162.93" cy="603.71" r="0.85" fill="#ff6000" stroke="#000" stroke-width="0.5"/>
<circle cx="163.17" cy="604.25" r="0.91" fill="#ffff14" stroke="#000" stroke-width="0.5"/>
<circle cx="161.25" cy="608" r="0.56" fill="#ffff2b" stroke="#000" stroke-width="0.5"/>
<circle cx="180.3" cy="607.57" r="0.77" fill="#ffbe00" stroke="#000" stroke-width="0.5"/>
<circle cx="148.73" cy="607.34" r="0.86" fill="#fff500" stroke="#000" stroke-width="0.5"/>
<circle cx="146.44" cy="607.1" r="0.63" fill="#ffcd00" stroke="#000" stroke-width="0.5"/>
<circle cx="172.14" cy="603.51" r="0.77" fill="#ff4000" stroke="#000" stroke-width="0.5"/>
<circle cx="157.14" cy="607.59" r="0.8" fill="#ff8200" stroke="#000" stroke-width="0.5"/>
<circle cx="173.43" cy="604.17" r="0.75" fill="#ff6c00" stroke="#000" stroke-width="0.5"/>
<circle cx="184.69" cy="605.23" r="0.75" fill="#db0000" stroke="#000" stroke-width="0.5"/>
<circle cx="178.48" cy="603.3" r="0.83" fill="#ffff26" stroke="#000" stroke-width="0.5"/>
<circle cx="198.27" cy="607.96" r="0.67" fill="#ff4500" stroke="#000" stroke-width="0.5"/>
<circle cx="189.33" cy="606.41" r="0.56" fill="#ff5f00" stroke="#000" stroke-width="0.5"/>
<circle cx="189.47" cy="607.66" r="0.79" fill="#ff4700" stroke="#000" stroke-width="0.5"/>
<circle cx="193.71" cy="605.04" r="0.56" fill="#ffae00" stroke="#000" stroke-width="0.5"/>
<circle cx="142.47" cy="607.18" r="0.6" fill="#ffca00" stroke="#000" stroke-width="0.5"/>
<circle cx="155.28" cy="609.4" r="0.96" fill="#ff9700" stroke="#000" stroke-width="0.5"/>
<circle cx="165.29" cy="608.47" r="0.68" fill="#da0000" stroke="#000" stroke-width="0.5"/>
<circle cx="183.39" cy="604.21" r="0.59" fill="#c00000" stroke="#000" stroke-width="0.5"/>
<circle cx="175.96" cy="608.96" r="0.61" fill="#ff6200" stroke="#000" stroke-width="0.5"/>
<circle cx="186.74" cy="605.92" r="0.64" fill="#a40000" stroke="#000" stroke-width="0.5"/>
<circle cx="184.18" cy="608.73" r="0.66" fill="#ff5b00" stroke="#000" stroke-width="0.5"/>
<circle cx="151.89" cy="604.13" r="0.98" fill="#ffe500" stroke="#000" stroke-width="0.5"/>
<circle cx="169.08" cy="602.7" r="0.89" fill="#ff8c00" stroke="#000" stroke-width="0.5"/>
<circle cx="160.13" cy="604.07" r="0.71" fill="#ff7600" stroke="#000" stroke-width="0.5"/>
<circle cx="160.18" cy="605.62" r="0.40" fill="#111"/>
<circle cx="162.16" cy="605.53" r="0.59" fill="#111"/>
<circle cx="167.61" cy="604.24" r="0.52" fill="#111"/>
<circle cx="155.91" cy="604.74" r="0.39" fill="#222"/>
<circle cx="159.31" cy="605.89" r="0.42" fill="#222"/>
<circle cx="172.22" cy="607.36" r="0.44" fill="#111"/>
<circle cx="164.56" cy="606.01" r="0.54" fill="#111"/>
<circle cx="169.02" cy="603.85" r="0.55" fill="#111"/>
<circle cx="171.59" cy="606.39" r="0.59" fill="#222"/>
<circle cx="173.03" cy="606.57" r="0.48" fill="#111"/>
<circle cx="152.68" cy="603.86" r="0.62" fill="#222"/>
<circle cx="154.64" cy="607.33" r="0.47" fill="#111"/>
<circle cx="150.99" cy="606.61" r="0.60" fill="#111"/>
<circle cx="162.25" cy="605.69" r="0.48" fill="#332"/>
<circle cx="162.58" cy="603.50" r="0.64" fill="#111"/>
<circle cx="161.33" cy="607.45" r="0.54" fill="#111"/>
<circle cx="164.14" cy="604.09" r="0.58" fill="#222"/>
<circle cx="166.91" cy="605.97" r="0.63" fill="#111"/>
<circle cx="167.45" cy="604.86" r="0.49" fill="#111"/>
<circle cx="177.43" cy="603.79" r="0.44" fill="#222"/>
<circle cx="164.52" cy="606.67" r="0.38" fill="#332"/>
<circle cx="174.11" cy="603.25" r="0.42" fill="#111"/>
<circle cx="155.67" cy="607.17" r="0.43" fill="#111"/>
<circle cx="155.51" cy="604.50" r="0.49" fill="#222"/>
<circle cx="155.28" cy="607.39" r="0.47" fill="#111"/>
<circle cx="173.90" cy="603.57" r="0.57" fill="#222"/>
<circle cx="168.91" cy="606.90" r="0.65" fill="#111"/>
<circle cx="158.52" cy="604.57" r="0.47" fill="#332"/>
<circle cx="175.93" cy="604.96" r="0.44" fill="#111"/>
<circle cx="166.56" cy="607.04" r="0.57" fill="#332"/>
<circle cx="161.11" cy="606.84" r="1.03" fill="#ffae00" stroke="#000" stroke-width="0.5"/>
<circle cx="160.19" cy="607.46" r="0.86" fill="#ffdd00" stroke="#000" stroke-width="0.5"/>
<circle cx="161.84" cy="605.87" r="0.8" fill="#ffff05" stroke="#000" stroke-width="0.5"/>
<circle cx="150.4" cy="604.84" r="1.05" fill="#ff3300" stroke="#000" stroke-width="0.5"/>
<circle cx="166.81" cy="606.16" r="1.04" fill="#ffa900" stroke="#000" stroke-width="0.5"/>
<circle cx="157.01" cy="606.56" r="0.99" fill="#ffe700" stroke="#000" stroke-width="0.5"/>
<circle cx="167.7" cy="606.29" r="0.71" fill="#ffc000" stroke="#000" stroke-width="0.5"/>
<circle cx="165.92" cy="604.68" r="0.75" fill="#ffbc00" stroke="#000" stroke-width="0.5"/>
<circle cx="171.72" cy="604.53" r="0.92" fill="#ff3a00" stroke="#000" stroke-width="0.5"/>
<circle cx="169.93" cy="603.34" r="1.07" fill="#fff100" stroke="#000" stroke-width="0.5"/>
<circle cx="159.06" cy="603.9" r="0.86" fill="#ffcb00" stroke="#000" stroke-width="0.5"/>
<circle cx="151.67" cy="605.61" r="0.82" fill="#ff4d00" stroke="#000" stroke-width="0.5"/>
<circle cx="161.06" cy="604.14" r="1.09" fill="#ffe800" stroke="#000" stroke-width="0.5"/>
<circle cx="172.98" cy="604.97" r="1" fill="#ffa600" stroke="#000" stroke-width="0.5"/>
<circle cx="149.27" cy="605.24" r="1.05" fill="#ffce00" stroke="#000" stroke-width="0.5"/>
<circle cx="170.88" cy="604.38" r="0.76" fill="#ffcd00" stroke="#000" stroke-width="0.5"/>
<circle cx="176.15" cy="607.49" r="0.8" fill="#ffcb00" stroke="#000" stroke-width="0.5"/>
<circle cx="149.02" cy="605.22" r="1.07" fill="#ffe000" stroke="#000" stroke-width="0.5"/>
<circle cx="169.31" cy="603.32" r="1.07" fill="#ffbd00" stroke="#000" stroke-width="0.5"/>
<circle cx="169.48" cy="603.1" r="0.85" fill="#ffd200" stroke="#000" stroke-width="0.5"/>
<circle cx="148.47" cy="603.76" r="0.79" fill="#ffa400" stroke="#000" stroke-width="0.5"/>
<circle cx="153.83" cy="605.59" r="0.75" fill="#ff4f00" stroke="#000" stroke-width="0.5"/>
<circle cx="155.56" cy="604.2" r="1.04" fill="#fff300" stroke="#000" stroke-width="0.5"/>
<circle cx="150.93" cy="607.72" r="0.86" fill="#ffff05" stroke="#000" stroke-width="0.5"/>
<circle cx="151.01" cy="603.32" r="0.98" fill="#fff100" stroke="#000" stroke-width="0.5"/>
<circle cx="156.33" cy="605.48" r="0.77" fill="#ffbb00" stroke="#000" stroke-width="0.5"/>
<circle cx="165.57" cy="604.5" r="0.81" fill="#ffa300" stroke="#000" stroke-width="0.5"/>
<circle cx="172.04" cy="605.48" r="0.79" fill="#ffd700" stroke="#000" stroke-width="0.5"/>
<circle cx="163.12" cy="606.6" r="0.85" fill="#ffff0a" stroke="#000" stroke-width="0.5"/>
<circle cx="156.21" cy="607.91" r="1.06" fill="#ff7300" stroke="#000" stroke-width="0.5"/>
<circle cx="155.72" cy="607.07" r="0.94" fill="#ffff1e" stroke="#000" stroke-width="0.5"/>
<circle cx="167.43" cy="607.05" r="0.92" fill="#ffff05" stroke="#000" stroke-width="0.5"/>
<circle cx="153.26" cy="604.3" r="0.95" fill="#ffd100" stroke="#000" stroke-width="0.5"/>
<circle cx="169.41" cy="603.48" r="0.96" fill="#ffd300" stroke="#000" stroke-width="0.5"/>
<circle cx="167.48" cy="606.44" r="0.72" fill="#ffff17" stroke="#000" stroke-width="0.5"/>
<circle cx="165.50" cy="571.20" r="0.50" fill="#444"/>
<circle cx="158.70" cy="591.70" r="0.50" fill="#444"/>
<circle cx="166.60" cy="593.60" r="0.50" fill="#444"/>
<circle cx="183.80" cy="592.40" r="0.50" fill="#444"/>
<circle cx="211.50" cy="609.60" r="0.50" fill="#444"/>
<circle cx="215.90" cy="614.00" r="0.50" fill="#444"/>
<circle cx="218.80" cy="609.60" r="0.50" fill="#444"/>
<circle cx="225.40" cy="608.20" r="0.50" fill="#444"/>
<circle cx="229.30" cy="609.60" r="0.50" fill="#444"/>
<circle cx="234.60" cy="612.80" r="0.50" fill="#444"/>
<circle cx="213.00" cy="611.80" r="0.50" fill="#444"/>
<circle cx="137.50" cy="607.00" r="0.50" fill="#444"/>
<circle cx="141.00" cy="606.50" r="0.50" fill="#444"/>
<circle cx="144.50" cy="613.50" r="0.50" fill="#444"/>
<circle cx="171.2" cy="610.3" r="0.9" fill="#cb0000" stroke="#000" stroke-width="0.5"/>
<line x1="90.3" y1="608.5" x2="293.6" y2="608.5" stroke="#6464f5" stroke-width="1.5" stroke-dasharray="10 5.4" stroke-dashoffset="0"/>
<line x1="136" y1="608.5" x2="200" y2="608.5" stroke="#5a5af0" stroke-width="1.5" />
<line x1="152" y1="608.5" x2="166" y2="608.5" stroke="#2828b0" stroke-width="1.6" />
<polygon points="160,603.9 161.55,607.37 165.33,607.77 162.5,610.31 163.29,614.03 160,612.13 156.71,614.03 157.5,610.31 154.67,607.77 158.45,607.37" fill="#000" stroke="#000" stroke-width="1" stroke-linejoin="miter"/>
<polygon points="160,606.59 160.8,608.39 162.77,608.6 161.3,609.92 161.71,611.86 160,610.87 158.29,611.86 158.7,609.92 157.23,608.6 159.2,608.39" fill="#00ff00"/>
<circle cx="106.26" cy="408.52" r="0.46" fill="#301010"/>
<circle cx="111.85" cy="411.45" r="0.47" fill="#301010"/>
<circle cx="106.40" cy="408.14" r="0.47" fill="#1a1a1a"/>
<circle cx="113.43" cy="406.13" r="0.57" fill="#301010"/>
<circle cx="114.07" cy="406.48" r="0.59" fill="#2a2a10"/>
<circle cx="105.32" cy="410.82" r="0.65" fill="#1a1a1a"/>
<circle cx="113.51" cy="411.70" r="0.40" fill="#1a1a1a"/>
<circle cx="114.27" cy="409.89" r="0.49" fill="#111"/>
<circle cx="108.39" cy="404.87" r="0.52" fill="#222"/>
<circle cx="101.31" cy="405.68" r="0.63" fill="#2a2a10"/>
<circle cx="103.52" cy="409.06" r="0.48" fill="#2a2a10"/>
<circle cx="112.58" cy="404.22" r="0.63" fill="#2a2a10"/>
<circle cx="101.59" cy="412.23" r="0.52" fill="#301010"/>
<circle cx="101.44" cy="408.83" r="0.41" fill="#111"/>
<circle cx="105.96" cy="415.86" r="0.62" fill="#111"/>
<circle cx="112.23" cy="410.68" r="0.54" fill="#301010"/>
<circle cx="112.95" cy="412.04" r="0.51" fill="#2a2a10"/>
<circle cx="102.47" cy="410.02" r="0.43" fill="#2a2a10"/>
<circle cx="102.57" cy="404.17" r="0.65" fill="#222"/>
<circle cx="109.59" cy="414.98" r="0.59" fill="#301010"/>
<circle cx="110.93" cy="403.62" r="0.50" fill="#301010"/>
<circle cx="101.63" cy="407.33" r="0.56" fill="#222"/>
<circle cx="110.60" cy="415.19" r="0.58" fill="#2a2a10"/>
<circle cx="107.19" cy="409.07" r="0.52" fill="#111"/>
<circle cx="111.02" cy="405.28" r="0.38" fill="#1a1a1a"/>
<circle cx="103.35" cy="405.72" r="0.55" fill="#1a1a1a"/>
<circle cx="107.13" cy="413.31" r="0.54" fill="#1a1a1a"/>
<circle cx="113.02" cy="403.75" r="0.48" fill="#111"/>
<circle cx="107.69" cy="408.36" r="0.64" fill="#2a2a10"/>
<circle cx="103.71" cy="404.80" r="0.37" fill="#2a2a10"/>
<circle cx="103.80" cy="406.96" r="0.50" fill="#2a2a10"/>
<circle cx="112.61" cy="408.61" r="0.42" fill="#111"/>
<circle cx="107.84" cy="409.41" r="0.46" fill="#111"/>
<circle cx="109.37" cy="410.55" r="0.35" fill="#2a2a10"/>
<circle cx="110.05" cy="408.32" r="0.64" fill="#2a2a10"/>
<circle cx="108.68" cy="407.88" r="0.50" fill="#2a2a10"/>
<circle cx="110.54" cy="409.47" r="0.48" fill="#301010"/>
<circle cx="109.57" cy="404.51" r="0.53" fill="#222"/>
<circle cx="110.64" cy="406.60" r="0.63" fill="#2a2a10"/>
<circle cx="114.32" cy="406.22" r="0.52" fill="#2a2a10"/>
<circle cx="101.66" cy="411.17" r="0.53" fill="#111"/>
<circle cx="105.31" cy="410.06" r="0.63" fill="#301010"/>
<circle cx="106.39" cy="414.53" r="0.59" fill="#111"/>
<circle cx="106.89" cy="414.48" r="0.54" fill="#301010"/>
<circle cx="107.65" cy="411.25" r="0.51" fill="#222"/>
<circle cx="105.13" cy="414.39" r="0.82" fill="#480000" stroke="#000" stroke-width="0.5"/>
<circle cx="110.37" cy="413.4" r="0.9" fill="#ff2800" stroke="#000" stroke-width="0.5"/>
<circle cx="111.28" cy="409.87" r="1.04" fill="#ff4c00" stroke="#000" stroke-width="0.5"/>
<circle cx="108.26" cy="408.01" r="0.94" fill="#5b0000" stroke="#000" stroke-width="0.5"/>
<circle cx="108.94" cy="413.06" r="1.17" fill="#ff2c00" stroke="#000" stroke-width="0.5"/>
<circle cx="107.89" cy="415.17" r="0.87" fill="#7a0000" stroke="#000" stroke-width="0.5"/>
<circle cx="108.77" cy="415.06" r="0.83" fill="#ff2000" stroke="#000" stroke-width="0.5"/>
<circle cx="102.14" cy="406.95" r="1.08" fill="#ff1d00" stroke="#000" stroke-width="0.5"/>
<circle cx="112.82" cy="409.59" r="0.86" fill="#b30000" stroke="#000" stroke-width="0.5"/>
<circle cx="103.47" cy="415.21" r="1.12" fill="#ff1100" stroke="#000" stroke-width="0.5"/>
<circle cx="95.42" cy="427.19" r="0.58" fill="#444"/>
<circle cx="110.26" cy="428.89" r="0.64" fill="#666"/>
<circle cx="96.53" cy="402.78" r="0.56" fill="#2a2a10"/>
<circle cx="115.95" cy="430.65" r="0.52" fill="#222"/>
<circle cx="120.20" cy="420.40" r="0.41" fill="#301010"/>
<circle cx="100.48" cy="424.28" r="0.55" fill="#111"/>
<circle cx="99.06" cy="407.86" r="0.35" fill="#222"/>
<circle cx="95.44" cy="406.84" r="0.58" fill="#2a2a10"/>
<circle cx="120.22" cy="417.70" r="0.48" fill="#111"/>
<circle cx="104.22" cy="431.95" r="0.40" fill="#111"/>
<circle cx="123.81" cy="411.85" r="0.39" fill="#2a2a10"/>
<circle cx="115.23" cy="431.69" r="0.47" fill="#2a2a10"/>
<circle cx="96.08" cy="411.67" r="0.41" fill="#301010"/>
<circle cx="119.60" cy="425.00" r="0.59" fill="#301010"/>
<circle cx="104.67" cy="430.73" r="0.61" fill="#111"/>
<circle cx="102.25" cy="406.85" r="0.57" fill="#1a1a1a"/>
<circle cx="107.29" cy="413.66" r="0.41" fill="#444"/>
<circle cx="119.84" cy="407.75" r="0.54" fill="#111"/>
<circle cx="124.88" cy="413.89" r="0.52" fill="#666"/>
<circle cx="106.97" cy="415.77" r="0.47" fill="#1a1a1a"/>
<circle cx="109.57" cy="427.28" r="0.40" fill="#2a2a10"/>
<circle cx="125.75" cy="409.40" r="0.54" fill="#301010"/>
<circle cx="114.28" cy="426.10" r="0.63" fill="#444"/>
<circle cx="97.46" cy="412.23" r="0.39" fill="#222"/>
<circle cx="107.61" cy="414.66" r="0.62" fill="#666"/>
<circle cx="124.42" cy="415.08" r="0.64" fill="#1a1a1a"/>
<circle cx="98.06" cy="405.67" r="0.50" fill="#111"/>
<circle cx="120.68" cy="410.72" r="0.60" fill="#1a1a1a"/>
<circle cx="116.43" cy="423.66" r="0.38" fill="#444"/>
<circle cx="105.13" cy="412.42" r="0.52" fill="#444"/>
<circle cx="104.79" cy="399.51" r="0.37" fill="#301010"/>
<circle cx="96.02" cy="426.47" r="0.58" fill="#2a2a10"/>
<circle cx="115.14" cy="418.96" r="0.54" fill="#1a1a1a"/>
<circle cx="111.00" cy="412.88" r="0.43" fill="#222"/>
<circle cx="93.30" cy="415.98" r="0.50" fill="#444"/>
<circle cx="93.88" cy="401.69" r="0.45" fill="#666"/>
<circle cx="94.75" cy="404.05" r="0.50" fill="#222"/>
<circle cx="107.46" cy="417.58" r="0.51" fill="#111"/>
<circle cx="117.62" cy="402.26" r="0.41" fill="#111"/>
<circle cx="105.31" cy="433.60" r="0.60" fill="#222"/>
<circle cx="104.65" cy="400.95" r="0.45" fill="#2a2a10"/>
<circle cx="99.85" cy="396.84" r="0.50" fill="#111"/>
<circle cx="122.14" cy="411.93" r="0.57" fill="#222"/>
<circle cx="107.60" cy="404.78" r="0.41" fill="#1a1a1a"/>
<circle cx="97.58" cy="427.03" r="0.63" fill="#222"/>
<circle cx="118.57" cy="400.64" r="0.56" fill="#666"/>
<circle cx="105.75" cy="418.60" r="0.41" fill="#222"/>
<circle cx="115.53" cy="417.36" r="0.54" fill="#111"/>
<circle cx="111.42" cy="411.12" r="0.54" fill="#222"/>
<circle cx="92.45" cy="413.67" r="0.61" fill="#666"/>
<circle cx="114.14" cy="410.62" r="0.50" fill="#301010"/>
<circle cx="116.65" cy="407.54" r="0.57" fill="#222"/>
<circle cx="111.64" cy="415.06" r="0.46" fill="#444"/>
<circle cx="126.50" cy="410.90" r="0.65" fill="#111"/>
<circle cx="112.14" cy="426.60" r="0.53" fill="#444"/>
<circle cx="105.59" cy="427.33" r="0.73" fill="#ff8200" stroke="#000" stroke-width="0.5"/>
<circle cx="111.26" cy="426.74" r="0.8" fill="#ff8100" stroke="#000" stroke-width="0.5"/>
<circle cx="99.63" cy="414.82" r="0.6" fill="#ff7600" stroke="#000" stroke-width="0.5"/>
<circle cx="118.75" cy="421.73" r="0.78" fill="#ffff00" stroke="#000" stroke-width="0.5"/>
<circle cx="99.21" cy="417.48" r="0.84" fill="#ffcf00" stroke="#000" stroke-width="0.5"/>
<circle cx="102.88" cy="409.4" r="0.64" fill="#ff7d00" stroke="#000" stroke-width="0.5"/>
<circle cx="102.82" cy="399.64" r="0.91" fill="#111"/>
<circle cx="108.12" cy="396.53" r="0.99" fill="#222"/>
<circle cx="116.19" cy="403.90" r="0.74" fill="#2a1a10"/>
<circle cx="117.82" cy="410.05" r="0.91" fill="#222"/>
<circle cx="108.00" cy="403.40" r="0.98" fill="#111"/>
<circle cx="114.62" cy="406.63" r="0.74" fill="#222"/>
<circle cx="111.85" cy="403.52" r="0.96" fill="#222"/>
<circle cx="111.00" cy="408.96" r="0.87" fill="#222"/>
<circle cx="114.71" cy="407.68" r="0.74" fill="#2a1a10"/>
<circle cx="112.79" cy="396.36" r="0.83" fill="#111"/>
<circle cx="110.05" cy="394.08" r="0.93" fill="#1a1a1a"/>
<circle cx="122.10" cy="396.93" r="0.70" fill="#222"/>
<circle cx="110.89" cy="401.17" r="0.97" fill="#1a1a1a"/>
<circle cx="108.14" cy="416.15" r="0.73" fill="#2a1a10"/>
<circle cx="112.12" cy="398.45" r="0.88" fill="#1a1a1a"/>
<circle cx="116.16" cy="401.05" r="0.83" fill="#2a1a10"/>
<circle cx="105.95" cy="408.81" r="0.66" fill="#222"/>
<circle cx="119.47" cy="398.61" r="0.83" fill="#1a1a1a"/>
<circle cx="116.08" cy="414.83" r="0.83" fill="#1a1a1a"/>
<circle cx="107.36" cy="406.67" r="0.73" fill="#222"/>
<circle cx="112.80" cy="399.77" r="0.99" fill="#222"/>
<circle cx="115.57" cy="413.23" r="0.82" fill="#1a1a1a"/>
<circle cx="105.61" cy="415.51" r="0.92" fill="#1a1a1a"/>
<circle cx="118.50" cy="401.04" r="0.99" fill="#111"/>
<circle cx="108.23" cy="407.74" r="0.87" fill="#222"/>
<circle cx="117.74" cy="400.72" r="0.91" fill="#111"/>
<circle cx="103.87" cy="400.73" r="0.93" fill="#2a1a10"/>
<circle cx="118.71" cy="389.60" r="0.76" fill="#111"/>
<circle cx="112.11" cy="405.91" r="0.72" fill="#222"/>
<circle cx="113.76" cy="400.29" r="0.99" fill="#111"/>
<circle cx="103.86" cy="407.20" r="0.90" fill="#111"/>
<circle cx="109.28" cy="402.88" r="0.97" fill="#2a1a10"/>
<circle cx="109.28" cy="414.97" r="0.74" fill="#111"/>
<circle cx="106.55" cy="395.26" r="0.83" fill="#222"/>
<circle cx="114.48" cy="420.96" r="0.91" fill="#1a1a1a"/>
<circle cx="111.54" cy="396.12" r="0.74" fill="#2a1a10"/>
<circle cx="102.66" cy="387.44" r="0.65" fill="#2a1a10"/>
<circle cx="118.15" cy="400.92" r="1.00" fill="#2a1a10"/>
<circle cx="102.70" cy="418.70" r="0.91" fill="#111"/>
<circle cx="106.42" cy="400.42" r="0.92" fill="#1a1a1a"/>
<circle cx="111.97" cy="409.87" r="0.93" fill="#1a1a1a"/>
<circle cx="109.66" cy="403.41" r="0.69" fill="#222"/>
<circle cx="112.70" cy="388.78" r="0.83" fill="#1a1a1a"/>
<circle cx="104.20" cy="409.56" r="0.66" fill="#222"/>
<circle cx="109.68" cy="404.67" r="0.67" fill="#1a1a1a"/>
<circle cx="114.65" cy="421.59" r="0.82" fill="#1a1a1a"/>
<circle cx="113.16" cy="404.36" r="0.91" fill="#1a1a1a"/>
<circle cx="104.50" cy="411.52" r="0.81" fill="#2a1a10"/>
<circle cx="117.70" cy="407.63" r="0.94" fill="#222"/>
<circle cx="115.19" cy="407.98" r="0.72" fill="#111"/>
<circle cx="109.55" cy="413.83" r="0.77" fill="#1a1a1a"/>
<circle cx="117.25" cy="414.17" r="0.88" fill="#111"/>
<circle cx="105.53" cy="390.56" r="0.85" fill="#1a1a1a"/>
<circle cx="110.42" cy="398.60" r="0.67" fill="#1a1a1a"/>
<circle cx="118.02" cy="396.97" r="0.79" fill="#2a1a10"/>
<circle cx="107.70" cy="403.53" r="0.86" fill="#2a1a10"/>
<circle cx="115.45" cy="416.72" r="0.79" fill="#2a1a10"/>
<circle cx="111.10" cy="405.84" r="0.66" fill="#111"/>
<circle cx="112.93" cy="405.51" r="0.90" fill="#2a1a10"/>
<circle cx="111.72" cy="395.89" r="0.97" fill="#1a1a1a"/>
<circle cx="97.36" cy="407.07" r="0.74" fill="#2a1a10"/>
<circle cx="105.87" cy="400.26" r="0.72" fill="#222"/>
<circle cx="111.11" cy="412.08" r="0.99" fill="#2a1a10"/>
<circle cx="101.31" cy="399.04" r="0.90" fill="#2a1a10"/>
<circle cx="112.07" cy="399.42" r="0.96" fill="#1a1a1a"/>
<circle cx="103.65" cy="412.64" r="0.80" fill="#1a1a1a"/>
<circle cx="115.08" cy="391.27" r="1.00" fill="#1a1a1a"/>
<circle cx="109.78" cy="398.80" r="0.96" fill="#111"/>
<circle cx="111.69" cy="390.38" r="0.71" fill="#222"/>
<circle cx="114.41" cy="416.61" r="0.67" fill="#111"/>
<circle cx="100.88" cy="391.75" r="0.54" fill="#999"/>
<circle cx="101.23" cy="393.85" r="0.40" fill="#301010"/>
<circle cx="111.93" cy="388.08" r="0.64" fill="#301010"/>
<circle cx="104.62" cy="394.20" r="0.43" fill="#222"/>
<circle cx="105.62" cy="395.82" r="0.41" fill="#aaa"/>
<circle cx="102.30" cy="388.69" r="0.39" fill="#2a2a10"/>
<circle cx="116.85" cy="388.43" r="0.60" fill="#301010"/>
<circle cx="108.50" cy="392.65" r="0.47" fill="#666"/>
<circle cx="115.73" cy="391.34" r="0.43" fill="#222"/>
<circle cx="111.33" cy="394.36" r="0.39" fill="#666"/>
<circle cx="104.89" cy="395.43" r="0.57" fill="#222"/>
<circle cx="99.79" cy="389.64" r="0.41" fill="#301010"/>
<circle cx="112.30" cy="390.58" r="0.42" fill="#301010"/>
<circle cx="119.44" cy="397.02" r="0.55" fill="#111"/>
<circle cx="116.15" cy="398.39" r="0.55" fill="#1a1a1a"/>
<circle cx="112.72" cy="398.12" r="0.37" fill="#aaa"/>
<circle cx="110.71" cy="393.62" r="0.59" fill="#888"/>
<circle cx="105.72" cy="387.41" r="0.41" fill="#aaa"/>
<circle cx="114.72" cy="395.55" r="0.43" fill="#301010"/>
<circle cx="113.86" cy="389.28" r="0.58" fill="#1a1a1a"/>
<circle cx="113.92" cy="390.90" r="0.41" fill="#777"/>
<circle cx="106.83" cy="389.77" r="0.54" fill="#999"/>
<circle cx="109.41" cy="383.41" r="0.86" fill="#111"/>
<circle cx="105.13" cy="386.92" r="0.71" fill="#301010"/>
<circle cx="107.69" cy="386.93" r="0.82" fill="#301010"/>
<circle cx="110.28" cy="387.33" r="0.85" fill="#111"/>
<circle cx="113.69" cy="388.70" r="0.61" fill="#111"/>
<circle cx="116.47" cy="389.68" r="0.69" fill="#111"/>
<circle cx="97.90" cy="390.29" r="0.87" fill="#1a1a1a"/>
<circle cx="101.13" cy="390.08" r="0.65" fill="#2a2a10"/>
<circle cx="103.60" cy="391.74" r="0.64" fill="#2a2a10"/>
<circle cx="110.08" cy="389.79" r="0.67" fill="#222"/>
<circle cx="105.88" cy="393.25" r="0.70" fill="#2a2a10"/>
<circle cx="101.72" cy="394.35" r="0.83" fill="#301010"/>
<circle cx="114.33" cy="393.18" r="0.86" fill="#301010"/>
<circle cx="116.75" cy="395.86" r="0.86" fill="#222"/>
<circle cx="119.72" cy="398.81" r="0.63" fill="#1a1a1a"/>
<circle cx="95.32" cy="395.98" r="0.84" fill="#222"/>
<circle cx="97.79" cy="396.59" r="0.83" fill="#111"/>
<circle cx="99.72" cy="397.31" r="0.65" fill="#2a2a10"/>
<circle cx="120.88" cy="401.19" r="0.70" fill="#222"/>
<circle cx="122.93" cy="406.06" r="0.69" fill="#111"/>
<circle cx="124.01" cy="405.12" r="0.72" fill="#222"/>
<circle cx="123.96" cy="417.53" r="0.71" fill="#222"/>
<circle cx="119.28" cy="416.54" r="0.86" fill="#111"/>
<circle cx="97.32" cy="418.89" r="0.73" fill="#111"/>
<circle cx="102.29" cy="418.12" r="0.77" fill="#301010"/>
<circle cx="101.61" cy="420.65" r="0.76" fill="#1a1a1a"/>
<circle cx="105.95" cy="418.86" r="0.64" fill="#2a2a10"/>
<circle cx="107.78" cy="420.98" r="0.81" fill="#1a1a1a"/>
<circle cx="107.43" cy="423.81" r="0.67" fill="#1a1a1a"/>
<circle cx="95.13" cy="425.63" r="0.64" fill="#301010"/>
<circle cx="96.11" cy="430.16" r="0.77" fill="#2a2a10"/>
<circle cx="98.99" cy="431.30" r="0.85" fill="#1a1a1a"/>
<circle cx="97.31" cy="433.28" r="0.82" fill="#2a2a10"/>
<circle cx="111.55" cy="424.42" r="0.73" fill="#1a1a1a"/>
<circle cx="113.41" cy="430.27" r="0.77" fill="#301010"/>
<circle cx="110.90" cy="435.29" r="0.81" fill="#2a2a10"/>
<circle cx="118.63" cy="428.73" r="0.60" fill="#2a2a10"/>
<circle cx="100.03" cy="441.49" r="0.71" fill="#111"/>
<circle cx="102.29" cy="444.53" r="0.64" fill="#111"/>
<circle cx="81.15" cy="420.24" r="0.67" fill="#2a2a10"/>
<circle cx="86.49" cy="411.47" r="0.76" fill="#301010"/>
<circle cx="85.56" cy="410.65" r="0.76" fill="#301010"/>
<circle cx="107.91" cy="399.29" r="0.89" fill="#1a1a1a"/>
<circle cx="110.20" cy="397.75" r="0.64" fill="#222"/>
<circle cx="112.63" cy="398.53" r="0.88" fill="#1a1a1a"/>
<circle cx="100.28" cy="406.33" r="0.67" fill="#111"/>
<circle cx="93.94" cy="407.87" r="0.60" fill="#2a2a10"/>
<circle cx="92.88" cy="413.10" r="0.77" fill="#301010"/>
<circle cx="96.64" cy="415.66" r="0.77" fill="#1a1a1a"/>
<circle cx="116.98" cy="411.98" r="0.69" fill="#111"/>
<circle cx="118.76" cy="414.27" r="0.70" fill="#301010"/>
<circle cx="113.23" cy="421.71" r="0.84" fill="#2a2a10"/>
<circle cx="104.22" cy="427.34" r="0.71" fill="#301010"/>
<circle cx="109.29" cy="427.77" r="0.60" fill="#222"/>
<circle cx="114.75" cy="425.93" r="0.83" fill="#222"/>
<circle cx="127.40" cy="403.00" r="0.47" fill="#888"/>
<circle cx="89.60" cy="399.10" r="0.56" fill="#777"/>
<circle cx="93.30" cy="395.40" r="0.44" fill="#666"/>
<circle cx="106.40" cy="429.60" r="0.52" fill="#666"/>
<circle cx="123.50" cy="422.10" r="0.49" fill="#888"/>
<circle cx="130.00" cy="417.20" r="0.60" fill="#aaa"/>
<circle cx="91.00" cy="424.10" r="0.42" fill="#888"/>
<circle cx="104.10" cy="439.20" r="0.44" fill="#999"/>
<circle cx="130.70" cy="439.20" r="0.51" fill="#888"/>
<circle cx="106.30" cy="453.30" r="0.45" fill="#666"/>
<circle cx="120.90" cy="448.70" r="0.42" fill="#aaa"/>
<circle cx="130.50" cy="439.60" r="0.45" fill="#aaa"/>
<circle cx="139.00" cy="422.00" r="0.53" fill="#666"/>
<circle cx="171.00" cy="344.90" r="0.52" fill="#999"/>
<circle cx="120.60" cy="448.50" r="0.58" fill="#888"/>
<circle cx="99.00" cy="386.00" r="0.58" fill="#666"/>
<circle cx="121.00" cy="392.00" r="0.47" fill="#666"/>
<circle cx="126.00" cy="396.00" r="0.59" fill="#888"/>
<circle cx="96.9" cy="411.2" r="3.2" fill="#ffff5b" stroke="#000" stroke-width="0.5"/>
<circle cx="103" cy="399.2" r="1.4" fill="#ff1100" stroke="#000" stroke-width="0.5"/>
<circle cx="99" cy="401.2" r="1.3" fill="#ffff1e" stroke="#000" stroke-width="0.5"/>
<circle cx="95.9" cy="402.3" r="1.2" fill="#ffcf00" stroke="#000" stroke-width="0.5"/>
<circle cx="113.3" cy="402.7" r="1.4" fill="#ff5500" stroke="#000" stroke-width="0.5"/>
<circle cx="111.7" cy="401" r="1.2" fill="#ff5500" stroke="#000" stroke-width="0.5"/>
<circle cx="115.9" cy="405.3" r="1.3" fill="#ff5500" stroke="#000" stroke-width="0.5"/>
<circle cx="118.9" cy="403.7" r="1.2" fill="#ffea00" stroke="#000" stroke-width="0.5"/>
<circle cx="120.2" cy="402.3" r="1.1" fill="#ffdc00" stroke="#000" stroke-width="0.5"/>
<circle cx="118.2" cy="406" r="1.2" fill="#ffff0a" stroke="#000" stroke-width="0.5"/>
<circle cx="121.5" cy="408.9" r="1.2" fill="#fff800" stroke="#000" stroke-width="0.5"/>
<circle cx="112.3" cy="394.8" r="1" fill="#ffc100" stroke="#000" stroke-width="0.5"/>
<circle cx="111" cy="397.1" r="1" fill="#ff3300" stroke="#000" stroke-width="0.5"/>
<circle cx="105.4" cy="411.6" r="1.1" fill="#ff5500" stroke="#000" stroke-width="0.5"/>
<circle cx="104.1" cy="414.5" r="1.1" fill="#ff5500" stroke="#000" stroke-width="0.5"/>
<circle cx="109" cy="418.5" r="1.3" fill="#ff4700" stroke="#000" stroke-width="0.5"/>
<circle cx="114.3" cy="419.1" r="1.2" fill="#ffea00" stroke="#000" stroke-width="0.5"/>
<circle cx="111" cy="413.5" r="1" fill="#ffc100" stroke="#000" stroke-width="0.5"/>
<circle cx="121.2" cy="409.6" r="1.2" fill="#fff800" stroke="#000" stroke-width="0.5"/>
<circle cx="125.8" cy="413.2" r="1.4" fill="#fff800" stroke="#000" stroke-width="0.5"/>
<circle cx="97.9" cy="425.7" r="1.4" fill="#ff9900" stroke="#000" stroke-width="0.5"/>
<circle cx="101.5" cy="427.3" r="1.1" fill="#ff9900" stroke="#000" stroke-width="0.5"/>
<circle cx="105.4" cy="424.7" r="1.4" fill="#ffa600" stroke="#000" stroke-width="0.5"/>
<circle cx="102.5" cy="430.6" r="1.1" fill="#ffb400" stroke="#000" stroke-width="0.5"/>
<circle cx="111.3" cy="433.6" r="1.1" fill="#ffdc00" stroke="#000" stroke-width="0.5"/>
<polygon points="105.9,396.2 107.61,400.04 111.8,400.48 108.67,403.3 109.54,407.42 105.9,405.31 102.26,407.42 103.13,403.3 100,400.48 104.19,400.04" fill="#000" stroke="#000" stroke-width="1" stroke-linejoin="miter"/>
<polygon points="105.9,399.18 106.79,401.17 108.97,401.4 107.34,402.87 107.8,405.01 105.9,403.92 104,405.01 104.46,402.87 102.83,401.4 105.01,401.17" fill="#00ff00"/>
<circle cx="249.10" cy="390.30" r="0.55" fill="#111"/>
<circle cx="250.30" cy="392.30" r="0.70" fill="#1a1a1a"/>
<circle cx="249.90" cy="397.20" r="0.69" fill="#301010"/>
<circle cx="246.80" cy="410.70" r="0.71" fill="#111"/>
<circle cx="246.80" cy="412.80" r="0.70" fill="#222"/>
<circle cx="246.80" cy="418.50" r="0.57" fill="#222"/>
<circle cx="248.20" cy="420.50" r="0.64" fill="#1a1a1a"/>
<circle cx="248.50" cy="427.00" r="0.79" fill="#2a2a10"/>
<circle cx="249.50" cy="430.50" r="0.66" fill="#1a1a1a"/>
<circle cx="248.00" cy="433.00" r="0.79" fill="#301010"/>
<circle cx="249.00" cy="437.00" r="0.75" fill="#301010"/>
<circle cx="248.60" cy="395.00" r="0.64" fill="#2a2a10"/>
<circle cx="250.30" cy="387.40" r="0.50" fill="#888"/>
<circle cx="242.30" cy="410.30" r="0.46" fill="#aaa"/>
<circle cx="244.60" cy="410.30" r="0.49" fill="#777"/>
<circle cx="241.70" cy="412.30" r="0.41" fill="#666"/>
<circle cx="238.40" cy="416.40" r="0.48" fill="#aaa"/>
<circle cx="238.40" cy="420.30" r="0.41" fill="#999"/>
<circle cx="240.90" cy="418.90" r="0.45" fill="#999"/>
<circle cx="249.50" cy="384.00" r="0.46" fill="#aaa"/>
<circle cx="252.00" cy="444.00" r="0.44" fill="#777"/>
<circle cx="253.50" cy="448.00" r="0.40" fill="#666"/>
<circle cx="256.00" cy="454.00" r="0.52" fill="#aaa"/>
<circle cx="251.00" cy="440.00" r="0.42" fill="#888"/>
<circle cx="247.00" cy="438.00" r="0.47" fill="#aaa"/>
<circle cx="250.3" cy="411.3" r="2.45" fill="#ffff5b" stroke="#000" stroke-width="0.5"/>
<circle cx="249.1" cy="394.6" r="0.9" fill="#ffc100" stroke="#000" stroke-width="0.5"/>
<circle cx="248.7" cy="406.2" r="1" fill="#ffc100" stroke="#000" stroke-width="0.5"/>
<circle cx="247.8" cy="409.5" r="1" fill="#ff5500" stroke="#000" stroke-width="0.5"/>
<circle cx="249.1" cy="414.4" r="1" fill="#cb0000" stroke="#000" stroke-width="0.5"/>
<circle cx="249.1" cy="418.9" r="1" fill="#ff5500" stroke="#000" stroke-width="0.5"/>
<circle cx="248.7" cy="423.4" r="1.1" fill="#ff7700" stroke="#000" stroke-width="0.5"/>
<circle cx="249" cy="425.5" r="1" fill="#ff9900" stroke="#000" stroke-width="0.5"/>
<circle cx="248.5" cy="431.5" r="0.9" fill="#ffa600" stroke="#000" stroke-width="0.5"/>
<polygon points="248.2,396.1 249.91,399.94 254.1,400.38 250.97,403.2 251.84,407.32 248.2,405.21 244.56,407.32 245.43,403.2 242.3,400.38 246.49,399.94" fill="#000" stroke="#000" stroke-width="1" stroke-linejoin="miter"/>
<polygon points="248.2,399.08 249.09,401.07 251.27,401.3 249.64,402.77 250.1,404.91 248.2,403.82 246.3,404.91 246.76,402.77 245.13,401.3 247.31,401.07" fill="#00ff00"/>
<circle cx="493.57" cy="372.34" r="0.66" fill="#111"/>
<circle cx="473.73" cy="361.48" r="0.76" fill="#111"/>
<circle cx="473.37" cy="361.38" r="0.80" fill="#111"/>
<circle cx="476.38" cy="364.42" r="0.77" fill="#111"/>
<circle cx="471.04" cy="365.33" r="0.76" fill="#2a1010"/>
<circle cx="469.25" cy="368.78" r="0.76" fill="#222"/>
<circle cx="469.36" cy="370.45" r="0.83" fill="#1a1a1a"/>
<circle cx="487.64" cy="365.77" r="0.94" fill="#222"/>
<circle cx="487.94" cy="368.53" r="0.75" fill="#111"/>
<circle cx="469.05" cy="368.40" r="0.91" fill="#111"/>
<circle cx="476.51" cy="363.12" r="0.82" fill="#333"/>
<circle cx="473.58" cy="366.24" r="0.89" fill="#551111"/>
<circle cx="478.53" cy="373.14" r="0.75" fill="#333"/>
<circle cx="473.29" cy="371.68" r="0.72" fill="#111"/>
<circle cx="475.80" cy="366.67" r="0.86" fill="#333"/>
<circle cx="481.00" cy="365.64" r="0.80" fill="#2a1010"/>
<circle cx="479.81" cy="360.38" r="0.78" fill="#333"/>
<circle cx="470.04" cy="370.58" r="0.72" fill="#1a1a1a"/>
<circle cx="485.84" cy="367.59" r="0.69" fill="#551111"/>
<circle cx="494.88" cy="373.18" r="0.93" fill="#333"/>
<circle cx="485.51" cy="371.32" r="0.64" fill="#551111"/>
<circle cx="496.77" cy="373.64" r="0.89" fill="#333"/>
<circle cx="480.03" cy="373.87" r="0.92" fill="#333"/>
<circle cx="489.54" cy="369.80" r="0.65" fill="#111"/>
<circle cx="471.05" cy="371.67" r="0.85" fill="#222"/>
<circle cx="476.01" cy="363.74" r="0.92" fill="#2a1010"/>
<circle cx="480.98" cy="364.02" r="0.91" fill="#111"/>
<circle cx="468.16" cy="373.69" r="0.92" fill="#551111"/>
<circle cx="491.14" cy="367.34" r="0.90" fill="#551111"/>
<circle cx="489.23" cy="371.33" r="0.88" fill="#551111"/>
<circle cx="478.46" cy="372.29" r="0.79" fill="#333"/>
<circle cx="482.52" cy="363.28" r="0.90" fill="#111"/>
<circle cx="487.96" cy="368.51" r="0.84" fill="#2a1010"/>
<circle cx="479.28" cy="370.80" r="0.88" fill="#2a1010"/>
<circle cx="471.29" cy="367.41" r="0.82" fill="#333"/>
<circle cx="476.39" cy="364.78" r="0.95" fill="#111"/>
<circle cx="477.07" cy="369.31" r="0.78" fill="#551111"/>
<circle cx="481.88" cy="369.83" r="0.78" fill="#551111"/>
<circle cx="472.48" cy="373.73" r="0.67" fill="#222"/>
<circle cx="488.48" cy="372.43" r="0.71" fill="#551111"/>
<circle cx="476.84" cy="365.43" r="0.69" fill="#ffda00" stroke="#000" stroke-width="0.5"/>
<circle cx="483.32" cy="366.81" r="0.95" fill="#a60000" stroke="#000" stroke-width="0.5"/>
<circle cx="470.01" cy="372.4" r="0.81" fill="#850000" stroke="#000" stroke-width="0.5"/>
<circle cx="473.65" cy="364.84" r="0.86" fill="#890000" stroke="#000" stroke-width="0.5"/>
<circle cx="506.04" cy="390.19" r="0.90" fill="#111"/>
<circle cx="484.08" cy="390.79" r="0.92" fill="#2a1010"/>
<circle cx="490.56" cy="394.62" r="0.88" fill="#2a1010"/>
<circle cx="475.05" cy="372.02" r="0.94" fill="#551111"/>
<circle cx="493.98" cy="374.87" r="0.95" fill="#333"/>
<circle cx="490.22" cy="377.11" r="0.61" fill="#222"/>
<circle cx="464.34" cy="393.15" r="0.73" fill="#551111"/>
<circle cx="466.67" cy="372.10" r="0.69" fill="#111"/>
<circle cx="469.69" cy="384.74" r="0.65" fill="#2a1010"/>
<circle cx="499.54" cy="400.79" r="0.77" fill="#111"/>
<circle cx="489.82" cy="375.13" r="0.77" fill="#333"/>
<circle cx="466.68" cy="403.98" r="0.91" fill="#111"/>
<circle cx="505.03" cy="389.69" r="0.95" fill="#111"/>
<circle cx="472.61" cy="396.11" r="0.84" fill="#333"/>
<circle cx="487.32" cy="403.55" r="0.79" fill="#333"/>
<circle cx="464.94" cy="385.50" r="0.67" fill="#551111"/>
<circle cx="466.26" cy="387.80" r="0.64" fill="#222"/>
<circle cx="468.15" cy="386.89" r="0.64" fill="#551111"/>
<circle cx="483.57" cy="378.35" r="0.90" fill="#111"/>
<circle cx="489.29" cy="396.85" r="0.78" fill="#551111"/>
<circle cx="492.18" cy="410.69" r="0.77" fill="#111"/>
<circle cx="466.75" cy="379.21" r="0.74" fill="#222"/>
<circle cx="474.21" cy="406.57" r="0.83" fill="#111"/>
<circle cx="491.05" cy="394.41" r="0.94" fill="#551111"/>
<circle cx="460.18" cy="402.14" r="0.68" fill="#2a1010"/>
<circle cx="475.46" cy="400.49" r="0.80" fill="#2a1010"/>
<circle cx="484.09" cy="404.75" r="0.95" fill="#551111"/>
<circle cx="491.44" cy="407.48" r="0.88" fill="#111"/>
<circle cx="467.25" cy="394.17" r="0.75" fill="#111"/>
<circle cx="478.40" cy="390.31" r="0.86" fill="#111"/>
<circle cx="481.44" cy="388.65" r="0.85" fill="#333"/>
<circle cx="478.73" cy="400.79" r="0.85" fill="#551111"/>
<circle cx="481.77" cy="408.68" r="0.76" fill="#1a1a1a"/>
<circle cx="482.03" cy="397.49" r="0.66" fill="#551111"/>
<circle cx="472.03" cy="376.10" r="0.77" fill="#111"/>
<circle cx="501.85" cy="389.13" r="0.94" fill="#222"/>
<circle cx="482.00" cy="392.67" r="0.74" fill="#111"/>
<circle cx="479.85" cy="396.41" r="0.63" fill="#1a1a1a"/>
<circle cx="470.63" cy="385.72" r="0.71" fill="#333"/>
<circle cx="477.43" cy="395.59" r="0.89" fill="#111"/>
<circle cx="462.90" cy="380.04" r="0.73" fill="#222"/>
<circle cx="473.20" cy="377.10" r="0.80" fill="#2a1010"/>
<circle cx="485.93" cy="409.57" r="0.82" fill="#2a1010"/>
<circle cx="499.48" cy="381.20" r="0.84" fill="#333"/>
<circle cx="505.80" cy="392.84" r="0.80" fill="#111"/>
<circle cx="502.80" cy="384.03" r="0.75" fill="#222"/>
<circle cx="475.18" cy="382.75" r="0.91" fill="#111"/>
<circle cx="481.19" cy="378.95" r="0.86" fill="#2a1010"/>
<circle cx="497.38" cy="374.93" r="0.75" fill="#551111"/>
<circle cx="491.88" cy="381.97" r="0.62" fill="#551111"/>
<circle cx="502.27" cy="385.92" r="0.88" fill="#222"/>
<circle cx="475.16" cy="405.23" r="0.92" fill="#111"/>
<circle cx="501.48" cy="394.38" r="0.90" fill="#111"/>
<circle cx="467.67" cy="382.38" r="0.60" fill="#222"/>
<circle cx="493.63" cy="391.85" r="0.81" fill="#551111"/>
<circle cx="461.53" cy="383.36" r="0.90" fill="#1a1a1a"/>
<circle cx="468.49" cy="377.34" r="0.78" fill="#2a1010"/>
<circle cx="496.93" cy="385.44" r="0.70" fill="#111"/>
<circle cx="459.58" cy="387.16" r="0.76" fill="#1a1a1a"/>
<circle cx="496.54" cy="406.07" r="0.64" fill="#111"/>
<circle cx="502.21" cy="389.58" r="0.64" fill="#222"/>
<circle cx="472.84" cy="386.77" r="0.66" fill="#111"/>
<circle cx="460.94" cy="401.27" r="0.75" fill="#111"/>
<circle cx="467.61" cy="406.22" r="0.68" fill="#111"/>
<circle cx="472.82" cy="397.45" r="0.87" fill="#2a1010"/>
<circle cx="474.45" cy="399.95" r="0.61" fill="#2a1010"/>
<circle cx="462.50" cy="391.83" r="0.77" fill="#333"/>
<circle cx="479.20" cy="384.77" r="0.89" fill="#333"/>
<circle cx="460.47" cy="387.61" r="0.72" fill="#111"/>
<circle cx="469.70" cy="396.83" r="0.94" fill="#1a1a1a"/>
<circle cx="497.18" cy="401.72" r="0.77" fill="#111"/>
<circle cx="487.15" cy="376.62" r="0.68" fill="#111"/>
<circle cx="495.95" cy="398.92" r="0.94" fill="#111"/>
<circle cx="469.74" cy="405.80" r="0.64" fill="#551111"/>
<circle cx="473.49" cy="381.32" r="0.94" fill="#551111"/>
<circle cx="487.92" cy="402.07" r="0.78" fill="#111"/>
<circle cx="471.01" cy="400.55" r="0.73" fill="#222"/>
<circle cx="486.21" cy="381.31" r="0.80" fill="#551111"/>
<circle cx="459.01" cy="398.45" r="0.76" fill="#222"/>
<circle cx="465.42" cy="394.70" r="0.71" fill="#222"/>
<circle cx="501.20" cy="382.18" r="0.79" fill="#222"/>
<circle cx="498.68" cy="390.22" r="0.82" fill="#1a1a1a"/>
<circle cx="476.03" cy="403.72" r="0.68" fill="#1a1a1a"/>
<circle cx="469.19" cy="404.64" r="0.92" fill="#1a1a1a"/>
<circle cx="468.90" cy="374.78" r="0.82" fill="#111"/>
<circle cx="471.59" cy="396.06" r="0.69" fill="#1a1a1a"/>
<circle cx="464.33" cy="386.23" r="0.88" fill="#333"/>
<circle cx="479.92" cy="402.65" r="0.64" fill="#2a1010"/>
<circle cx="469.34" cy="373.23" r="0.82" fill="#2a1010"/>
<circle cx="481.43" cy="390.91" r="0.85" fill="#222"/>
<circle cx="480.38" cy="392.18" r="0.70" fill="#222"/>
<circle cx="476.44" cy="384.55" r="0.94" fill="#111"/>
<circle cx="488.42" cy="391.86" r="0.77" fill="#111"/>
<circle cx="495.65" cy="375.40" r="0.61" fill="#333"/>
<circle cx="475.81" cy="375.97" r="0.82" fill="#111"/>
<circle cx="499.44" cy="395.47" r="0.62" fill="#111"/>
<circle cx="491.29" cy="375.48" r="0.87" fill="#111"/>
<circle cx="492.75" cy="408.06" r="0.90" fill="#333"/>
<circle cx="477.43" cy="398.30" r="0.66" fill="#2a1010"/>
<circle cx="492.64" cy="372.29" r="0.62" fill="#2a1010"/>
<circle cx="500.00" cy="402.27" r="0.75" fill="#111"/>
<circle cx="487.63" cy="384.78" r="0.86" fill="#111"/>
<circle cx="502.75" cy="399.72" r="0.91" fill="#551111"/>
<circle cx="489.61" cy="407.28" r="0.87" fill="#111"/>
<circle cx="496.88" cy="394.69" r="0.73" fill="#1a1a1a"/>
<circle cx="481.58" cy="375.17" r="0.85" fill="#111"/>
<circle cx="496.97" cy="404.53" r="0.86" fill="#111"/>
<circle cx="481.61" cy="384.73" r="0.83" fill="#333"/>
<circle cx="467.55" cy="393.99" r="0.92" fill="#1a1a1a"/>
<circle cx="493.17" cy="380.91" r="0.66" fill="#222"/>
<circle cx="474.90" cy="386.78" r="0.87" fill="#222"/>
<circle cx="496.14" cy="383.92" r="0.63" fill="#222"/>
<circle cx="505.41" cy="388.71" r="0.88" fill="#111"/>
<circle cx="483.13" cy="379.14" r="0.84" fill="#111"/>
<circle cx="490.48" cy="383.42" r="0.64" fill="#551111"/>
<circle cx="482.58" cy="399.69" r="0.77" fill="#222"/>
<circle cx="505.29" cy="397.58" r="0.84" fill="#222"/>
<circle cx="503.21" cy="397.50" r="0.66" fill="#551111"/>
<circle cx="468.59" cy="389.11" r="0.64" fill="#111"/>
<circle cx="487.46" cy="400.92" r="0.69" fill="#551111"/>
<circle cx="498.25" cy="404.53" r="0.90" fill="#111"/>
<circle cx="469.24" cy="388.02" r="0.73" fill="#111"/>
<circle cx="495.71" cy="394.29" r="0.69" fill="#222"/>
<circle cx="484.36" cy="406.31" r="0.62" fill="#1a1a1a"/>
<circle cx="459.21" cy="398.16" r="0.89" fill="#551111"/>
<circle cx="490.85" cy="385.30" r="0.93" fill="#333"/>
<circle cx="482.75" cy="376.07" r="0.73" fill="#111"/>
<circle cx="484.10" cy="376.76" r="0.76" fill="#111"/>
<circle cx="474.92" cy="382.77" r="0.93" fill="#111"/>
<circle cx="493.44" cy="395.44" r="0.69" fill="#333"/>
<circle cx="505.46" cy="397.20" r="0.74" fill="#222"/>
<circle cx="472.14" cy="386.42" r="0.88" fill="#1a1a1a"/>
<circle cx="502.55" cy="384.74" r="0.60" fill="#551111"/>
<circle cx="484.95" cy="400.42" r="0.80" fill="#222"/>
<circle cx="474.92" cy="390.44" r="0.94" fill="#111"/>
<circle cx="485.99" cy="380.10" r="0.71" fill="#2a1010"/>
<circle cx="494.42" cy="378.14" r="0.87" fill="#1a1a1a"/>
<circle cx="498.95" cy="402.83" r="0.93" fill="#333"/>
<circle cx="465.77" cy="390.21" r="0.91" fill="#333"/>
<circle cx="497.10" cy="393.75" r="0.90" fill="#111"/>
<circle cx="472.92" cy="405.49" r="0.87" fill="#1a1a1a"/>
<circle cx="481.03" cy="392.99" r="0.62" fill="#222"/>
<circle cx="473.04" cy="375.01" r="0.93" fill="#1a1a1a"/>
<circle cx="502.17" cy="393.34" r="0.89" fill="#2a1010"/>
<circle cx="470.42" cy="392.49" r="0.77" fill="#111"/>
<circle cx="466.70" cy="392.65" r="0.63" fill="#222"/>
<circle cx="478.47" cy="374.30" r="0.93" fill="#111"/>
<circle cx="500.57" cy="399.48" r="0.94" fill="#2a1010"/>
<circle cx="463.60" cy="382.15" r="0.75" fill="#551111"/>
<circle cx="480.08" cy="399.79" r="0.71" fill="#551111"/>
<circle cx="483.08" cy="382.95" r="0.93" fill="#111"/>
<circle cx="492.59" cy="402.46" r="0.92" fill="#111"/>
<circle cx="493.51" cy="373.54" r="0.84" fill="#1a1a1a"/>
<circle cx="483.90" cy="376.70" r="0.91" fill="#222"/>
<circle cx="477.40" cy="399.62" r="0.70" fill="#222"/>
<circle cx="486.36" cy="385.81" r="0.82" fill="#222"/>
<circle cx="477.94" cy="383.54" r="0.77" fill="#1a1a1a"/>
<circle cx="465.56" cy="379.15" r="0.83" fill="#1a1a1a"/>
<circle cx="468.16" cy="404.83" r="0.88" fill="#551111"/>
<circle cx="465.51" cy="377.63" r="0.84" fill="#2a1010"/>
<circle cx="495.30" cy="375.27" r="0.63" fill="#222"/>
<circle cx="478.29" cy="395.70" r="0.83" fill="#222"/>
<circle cx="494.47" cy="405.10" r="0.77" fill="#1a1a1a"/>
<circle cx="476.78" cy="374.44" r="0.92" fill="#1a1a1a"/>
<circle cx="475.35" cy="392.00" r="0.69" fill="#111"/>
<circle cx="501.96" cy="381.27" r="0.73" fill="#551111"/>
<circle cx="479.70" cy="378.49" r="0.75" fill="#551111"/>
<circle cx="501.44" cy="396.02" r="0.82" fill="#222"/>
<circle cx="463.17" cy="394.66" r="0.83" fill="#222"/>
<circle cx="470.29" cy="376.75" r="0.90" fill="#2a1010"/>
<circle cx="486.27" cy="401.93" r="0.89" fill="#333"/>
<circle cx="470.39" cy="404.40" r="0.67" fill="#333"/>
<circle cx="464.11" cy="402.03" r="0.62" fill="#111"/>
<circle cx="481.31" cy="392.40" r="0.89" fill="#111"/>
<circle cx="475.58" cy="391.99" r="0.67" fill="#111"/>
<circle cx="468.07" cy="396.72" r="0.61" fill="#111"/>
<circle cx="506.99" cy="393.17" r="0.73" fill="#2a1010"/>
<circle cx="480.59" cy="408.68" r="0.74" fill="#2a1010"/>
<circle cx="484.66" cy="387.07" r="0.85" fill="#1a1a1a"/>
<circle cx="496.18" cy="397.65" r="0.87" fill="#2a1010"/>
<circle cx="458.81" cy="398.02" r="0.79" fill="#111"/>
<circle cx="494.24" cy="378.34" r="0.80" fill="#111"/>
<circle cx="476.22" cy="404.49" r="0.68" fill="#2a1010"/>
<circle cx="461.86" cy="393.86" r="0.75" fill="#111"/>
<circle cx="481.42" cy="405.46" r="0.61" fill="#551111"/>
<circle cx="462.35" cy="402.94" r="0.81" fill="#222"/>
<circle cx="467.39" cy="399.36" r="0.66" fill="#333"/>
<circle cx="481.04" cy="375.23" r="0.75" fill="#2a1010"/>
<circle cx="471.36" cy="398.64" r="0.74" fill="#2a1010"/>
<circle cx="498.91" cy="401.78" r="0.81" fill="#1a1a1a"/>
<circle cx="481.66" cy="374.43" r="0.64" fill="#111"/>
<circle cx="473.59" cy="404.06" r="0.84" fill="#551111"/>
<circle cx="488.34" cy="394.77" r="0.93" fill="#1a1a1a"/>
<circle cx="497.37" cy="397.53" r="0.79" fill="#551111"/>
<circle cx="468.52" cy="395.60" r="0.79" fill="#111"/>
<circle cx="467.70" cy="377.23" r="0.86" fill="#333"/>
<circle cx="504.14" cy="402.80" r="0.61" fill="#1a1a1a"/>
<circle cx="505.33" cy="391.79" r="0.79" fill="#222"/>
<circle cx="465.72" cy="379.17" r="0.85" fill="#551111"/>
<circle cx="492.00" cy="408.22" r="0.87" fill="#2a1010"/>
<circle cx="481.18" cy="386.53" r="0.81" fill="#2a1010"/>
<circle cx="484.04" cy="406.32" r="0.90" fill="#111"/>
<circle cx="474.85" cy="390.21" r="0.67" fill="#111"/>
<circle cx="500.63" cy="379.28" r="0.72" fill="#2a1010"/>
<circle cx="477.58" cy="404.33" r="0.77" fill="#111"/>
<circle cx="477.82" cy="380.72" r="0.77" fill="#333"/>
<circle cx="480.46" cy="405.45" r="0.86" fill="#551111"/>
<circle cx="470.98" cy="393.29" r="0.94" fill="#111"/>
<circle cx="490.61" cy="407.79" r="0.71" fill="#333"/>
<circle cx="471.93" cy="407.28" r="0.76" fill="#111"/>
<circle cx="490.37" cy="372.40" r="0.81" fill="#551111"/>
<circle cx="484.52" cy="384.07" r="0.86" fill="#2a1010"/>
<circle cx="465.42" cy="402.32" r="0.78" fill="#222"/>
<circle cx="465.65" cy="399.45" r="0.88" fill="#111"/>
<circle cx="483.55" cy="373.48" r="0.94" fill="#551111"/>
<circle cx="501.37" cy="393.83" r="0.86" fill="#551111"/>
<circle cx="483.46" cy="374.67" r="0.88" fill="#1a1a1a"/>
<circle cx="480.66" cy="392.69" r="0.83" fill="#111"/>
<circle cx="480.84" cy="403.21" r="0.60" fill="#333"/>
<circle cx="466.45" cy="373.36" r="0.87" fill="#111"/>
<circle cx="466.07" cy="382.29" r="0.84" fill="#111"/>
<circle cx="474.59" cy="375.29" r="0.76" fill="#1a1a1a"/>
<circle cx="479.07" cy="376.35" r="0.87" fill="#2a1010"/>
<circle cx="499.86" cy="378.68" r="0.92" fill="#111"/>
<circle cx="485.38" cy="392.55" r="0.66" fill="#1a1a1a"/>
<circle cx="462.42" cy="400.12" r="0.72" fill="#111"/>
<circle cx="472.87" cy="401.94" r="0.80" fill="#551111"/>
<circle cx="474.83" cy="386.04" r="0.70" fill="#1a1a1a"/>
<circle cx="488.87" cy="381.30" r="0.84" fill="#222"/>
<circle cx="486.81" cy="409.28" r="0.69" fill="#111"/>
<circle cx="471.64" cy="401.33" r="0.71" fill="#940000" stroke="#000" stroke-width="0.5"/>
<circle cx="493.17" cy="384.83" r="0.99" fill="#ad0000" stroke="#000" stroke-width="0.5"/>
<circle cx="459.79" cy="391.9" r="0.86" fill="#710000" stroke="#000" stroke-width="0.5"/>
<circle cx="466.72" cy="381.03" r="1.24" fill="#bd0000" stroke="#000" stroke-width="0.5"/>
<circle cx="494.24" cy="382.49" r="1.03" fill="#c30000" stroke="#000" stroke-width="0.5"/>
<circle cx="488.81" cy="376.39" r="1.01" fill="#a30000" stroke="#000" stroke-width="0.5"/>
<circle cx="471.05" cy="407.48" r="1.07" fill="#b50000" stroke="#000" stroke-width="0.5"/>
<circle cx="502" cy="383.87" r="1.13" fill="#ff2600" stroke="#000" stroke-width="0.5"/>
<circle cx="468.91" cy="403.27" r="1.11" fill="#bf0000" stroke="#000" stroke-width="0.5"/>
<circle cx="505.85" cy="394.36" r="1.14" fill="#f40000" stroke="#000" stroke-width="0.5"/>
<circle cx="481.94" cy="391.81" r="0.83" fill="#b80000" stroke="#000" stroke-width="0.5"/>
<circle cx="500" cy="399.2" r="1.11" fill="#970000" stroke="#000" stroke-width="0.5"/>
<circle cx="490.65" cy="372.29" r="0.97" fill="#ffbb00" stroke="#000" stroke-width="0.5"/>
<circle cx="480.31" cy="375.02" r="0.85" fill="#cf0000" stroke="#000" stroke-width="0.5"/>
<circle cx="497.54" cy="403.12" r="1.22" fill="#c30000" stroke="#000" stroke-width="0.5"/>
<circle cx="475.33" cy="389.56" r="1.27" fill="#a40000" stroke="#000" stroke-width="0.5"/>
<circle cx="469.76" cy="376.12" r="1.19" fill="#c60000" stroke="#000" stroke-width="0.5"/>
<circle cx="491.27" cy="379.48" r="1.13" fill="#920000" stroke="#000" stroke-width="0.5"/>
<circle cx="496.94" cy="394.65" r="1.11" fill="#610000" stroke="#000" stroke-width="0.5"/>
<circle cx="472.91" cy="400.86" r="1.04" fill="#6f0000" stroke="#000" stroke-width="0.5"/>
<circle cx="480.7" cy="372.56" r="0.73" fill="#610000" stroke="#000" stroke-width="0.5"/>
<circle cx="494.96" cy="402.99" r="0.89" fill="#cb0000" stroke="#000" stroke-width="0.5"/>
<circle cx="488.09" cy="387.1" r="1.29" fill="#c60000" stroke="#000" stroke-width="0.5"/>
<circle cx="472.12" cy="388.44" r="0.89" fill="#bd0000" stroke="#000" stroke-width="0.5"/>
<circle cx="491.83" cy="379.1" r="1.29" fill="#ff0000" stroke="#000" stroke-width="0.5"/>
<circle cx="487.1" cy="402.65" r="1.17" fill="#d20000" stroke="#000" stroke-width="0.5"/>
<circle cx="480.88" cy="382.48" r="1.06" fill="#890000" stroke="#000" stroke-width="0.5"/>
<circle cx="483.97" cy="394.94" r="1.23" fill="#730000" stroke="#000" stroke-width="0.5"/>
<circle cx="465.59" cy="376.39" r="1.21" fill="#ffae00" stroke="#000" stroke-width="0.5"/>
<circle cx="474.73" cy="407.26" r="1.22" fill="#ffff64" stroke="#000" stroke-width="0.5"/>
<circle cx="471.79" cy="374.59" r="0.85" fill="#530000" stroke="#000" stroke-width="0.5"/>
<circle cx="469.19" cy="390.44" r="1.11" fill="#600000" stroke="#000" stroke-width="0.5"/>
<circle cx="473.17" cy="375.54" r="0.77" fill="#b30000" stroke="#000" stroke-width="0.5"/>
<circle cx="497.83" cy="404.9" r="1.09" fill="#b50000" stroke="#000" stroke-width="0.5"/>
<circle cx="503.59" cy="401.41" r="0.73" fill="#a00000" stroke="#000" stroke-width="0.5"/>
<circle cx="463.59" cy="397.98" r="1.1" fill="#8b0000" stroke="#000" stroke-width="0.5"/>
<circle cx="467.02" cy="405.98" r="1.08" fill="#ff0c00" stroke="#000" stroke-width="0.5"/>
<circle cx="496.53" cy="392.08" r="1.05" fill="#ae0000" stroke="#000" stroke-width="0.5"/>
<circle cx="484.13" cy="383.78" r="0.78" fill="#111"/>
<circle cx="481.56" cy="386.96" r="0.83" fill="#551111"/>
<circle cx="490.46" cy="381.86" r="0.78" fill="#2a1010"/>
<circle cx="490.11" cy="377.72" r="0.92" fill="#333"/>
<circle cx="481.55" cy="376.19" r="0.60" fill="#111"/>
<circle cx="489.12" cy="379.35" r="0.69" fill="#1a1a1a"/>
<circle cx="475.73" cy="382.02" r="0.94" fill="#222"/>
<circle cx="478.62" cy="395.60" r="0.92" fill="#111"/>
<circle cx="492.19" cy="384.19" r="0.89" fill="#2a1010"/>
<circle cx="476.88" cy="380.04" r="0.88" fill="#222"/>
<circle cx="480.91" cy="386.14" r="0.87" fill="#222"/>
<circle cx="492.06" cy="380.92" r="0.73" fill="#111"/>
<circle cx="467.92" cy="384.86" r="0.92" fill="#333"/>
<circle cx="482.19" cy="379.69" r="0.83" fill="#222"/>
<circle cx="473.67" cy="384.91" r="0.60" fill="#1a1a1a"/>
<circle cx="475.99" cy="383.39" r="0.84" fill="#111"/>
<circle cx="487.54" cy="396.62" r="0.82" fill="#333"/>
<circle cx="491.40" cy="398.75" r="0.86" fill="#111"/>
<circle cx="474.49" cy="378.07" r="0.90" fill="#333"/>
<circle cx="468.76" cy="381.27" r="0.66" fill="#551111"/>
<circle cx="468.98" cy="380.28" r="0.62" fill="#333"/>
<circle cx="470.78" cy="386.68" r="0.88" fill="#111"/>
<circle cx="484.70" cy="379.53" r="0.86" fill="#111"/>
<circle cx="478.81" cy="395.29" r="0.88" fill="#333"/>
<circle cx="489.91" cy="380.34" r="0.85" fill="#111"/>
<circle cx="486.11" cy="396.44" r="0.66" fill="#2a1010"/>
<circle cx="490.44" cy="395.15" r="0.67" fill="#111"/>
<circle cx="482.13" cy="386.13" r="0.76" fill="#111"/>
<circle cx="478.28" cy="390.53" r="0.83" fill="#333"/>
<circle cx="491.27" cy="388.82" r="0.95" fill="#111"/>
<circle cx="472.40" cy="389.89" r="0.67" fill="#551111"/>
<circle cx="479.40" cy="382.19" r="0.71" fill="#333"/>
<circle cx="473.33" cy="395.00" r="0.68" fill="#2a1010"/>
<circle cx="470.27" cy="390.44" r="0.86" fill="#551111"/>
<circle cx="496.60" cy="388.67" r="0.92" fill="#333"/>
<circle cx="486.72" cy="394.29" r="0.72" fill="#111"/>
<circle cx="494.76" cy="384.52" r="0.65" fill="#2a1010"/>
<circle cx="485.37" cy="397.08" r="0.65" fill="#111"/>
<circle cx="485.75" cy="392.73" r="0.67" fill="#111"/>
<circle cx="475.02" cy="397.77" r="0.87" fill="#2a1010"/>
<circle cx="474.66" cy="389.63" r="0.87" fill="#333"/>
<circle cx="476.14" cy="377.55" r="0.94" fill="#1a1a1a"/>
<circle cx="484.16" cy="378.07" r="0.75" fill="#333"/>
<circle cx="496.54" cy="392.57" r="0.92" fill="#333"/>
<circle cx="477.65" cy="381.85" r="0.65" fill="#111"/>
<circle cx="472.16" cy="386.68" r="0.86" fill="#551111"/>
<circle cx="476.19" cy="390.73" r="0.78" fill="#111"/>
<circle cx="483.68" cy="381.37" r="0.67" fill="#111"/>
<circle cx="469.14" cy="389.40" r="0.73" fill="#551111"/>
<circle cx="467.63" cy="381.05" r="0.63" fill="#2a1010"/>
<circle cx="484.76" cy="376.75" r="0.74" fill="#111"/>
<circle cx="484.35" cy="386.02" r="0.94" fill="#333"/>
<circle cx="466.84" cy="389.11" r="0.85" fill="#1a1a1a"/>
<circle cx="483.91" cy="386.60" r="0.80" fill="#111"/>
<circle cx="469.59" cy="398.91" r="0.80" fill="#1a1a1a"/>
<circle cx="493.62" cy="396.62" r="0.73" fill="#333"/>
<circle cx="490.84" cy="382.83" r="0.68" fill="#2a1010"/>
<circle cx="472.55" cy="380.90" r="0.72" fill="#333"/>
<circle cx="486.58" cy="399.57" r="0.61" fill="#111"/>
<circle cx="492.55" cy="394.15" r="0.87" fill="#111"/>
<circle cx="479.48" cy="390.68" r="0.75" fill="#2a1010"/>
<circle cx="477.86" cy="382.06" r="0.67" fill="#1a1a1a"/>
<circle cx="480.97" cy="387.71" r="0.76" fill="#111"/>
<circle cx="473.97" cy="391.96" r="0.87" fill="#222"/>
<circle cx="478.31" cy="400.51" r="0.80" fill="#551111"/>
<circle cx="481.25" cy="382.82" r="0.80" fill="#1a1a1a"/>
<circle cx="474.90" cy="396.59" r="0.65" fill="#551111"/>
<circle cx="483.89" cy="391.78" r="0.67" fill="#551111"/>
<circle cx="492.60" cy="385.37" r="0.86" fill="#222"/>
<circle cx="487.20" cy="395.46" r="0.79" fill="#111"/>
<circle cx="485.99" cy="394.63" r="0.63" fill="#222"/>
<circle cx="490.30" cy="399.90" r="0.73" fill="#551111"/>
<circle cx="486.64" cy="382.39" r="0.68" fill="#333"/>
<circle cx="477.04" cy="398.23" r="0.79" fill="#551111"/>
<circle cx="485.79" cy="389.63" r="0.75" fill="#111"/>
<circle cx="489.76" cy="387.39" r="0.77" fill="#111"/>
<circle cx="493.01" cy="389.77" r="0.77" fill="#551111"/>
<circle cx="496.42" cy="387.72" r="0.89" fill="#333"/>
<circle cx="482.71" cy="388.69" r="0.93" fill="#333"/>
<circle cx="479.80" cy="389.89" r="0.64" fill="#551111"/>
<circle cx="478.14" cy="393.04" r="1.11" fill="#ffe300" stroke="#000" stroke-width="0.5"/>
<circle cx="475.29" cy="386.28" r="0.89" fill="#ff1c00" stroke="#000" stroke-width="0.5"/>
<circle cx="476.75" cy="392.78" r="0.96" fill="#ffa700" stroke="#000" stroke-width="0.5"/>
<circle cx="489.08" cy="385.14" r="0.9" fill="#af0000" stroke="#000" stroke-width="0.5"/>
<circle cx="474.38" cy="398.45" r="1.18" fill="#670000" stroke="#000" stroke-width="0.5"/>
<circle cx="481.08" cy="387.74" r="1.22" fill="#5d0000" stroke="#000" stroke-width="0.5"/>
<circle cx="470.56" cy="396.22" r="1.28" fill="#ce0000" stroke="#000" stroke-width="0.5"/>
<circle cx="471.17" cy="388.55" r="1.15" fill="#ffcc00" stroke="#000" stroke-width="0.5"/>
<circle cx="487.01" cy="380.97" r="0.81" fill="#700000" stroke="#000" stroke-width="0.5"/>
<circle cx="475.33" cy="385.56" r="1.07" fill="#d20000" stroke="#000" stroke-width="0.5"/>
<circle cx="490.07" cy="390.34" r="0.92" fill="#7d0000" stroke="#000" stroke-width="0.5"/>
<circle cx="471.16" cy="391.85" r="0.94" fill="#520000" stroke="#000" stroke-width="0.5"/>
<circle cx="498.02" cy="383.91" r="0.72" fill="#1a1a1a"/>
<circle cx="507.13" cy="390.46" r="0.89" fill="#222"/>
<circle cx="500.58" cy="389.63" r="0.68" fill="#1a1a1a"/>
<circle cx="510.01" cy="393.46" r="0.70" fill="#333"/>
<circle cx="499.13" cy="380.06" r="0.65" fill="#222"/>
<circle cx="501.78" cy="390.72" r="0.90" fill="#111"/>
<circle cx="509.66" cy="386.29" r="0.92" fill="#111"/>
<circle cx="503.14" cy="392.87" r="0.61" fill="#111"/>
<circle cx="500.88" cy="377.73" r="0.94" fill="#222"/>
<circle cx="513.32" cy="393.49" r="0.62" fill="#333"/>
<circle cx="505.97" cy="381.35" r="0.68" fill="#551111"/>
<circle cx="507.54" cy="394.70" r="0.84" fill="#222"/>
<circle cx="501.75" cy="394.26" r="0.88" fill="#333"/>
<circle cx="509.60" cy="382.60" r="0.78" fill="#551111"/>
<circle cx="507.40" cy="381.06" r="0.85" fill="#111"/>
<circle cx="508.92" cy="381.53" r="0.81" fill="#333"/>
<circle cx="501.71" cy="380.60" r="0.84" fill="#111"/>
<circle cx="502.65" cy="385.58" r="0.77" fill="#551111"/>
<circle cx="509.87" cy="390.55" r="0.74" fill="#2a1010"/>
<circle cx="509.15" cy="383.07" r="0.61" fill="#222"/>
<circle cx="507.46" cy="391.99" r="0.70" fill="#111"/>
<circle cx="506.57" cy="384.10" r="0.61" fill="#111"/>
<circle cx="508.38" cy="394.73" r="0.65" fill="#111"/>
<circle cx="504.73" cy="379.96" r="0.80" fill="#333"/>
<circle cx="501.75" cy="377.10" r="0.70" fill="#333"/>
<circle cx="504.71" cy="390.70" r="0.93" fill="#1a1a1a"/>
<circle cx="504.84" cy="387.51" r="0.77" fill="#111"/>
<circle cx="504.03" cy="384.00" r="0.77" fill="#1a1a1a"/>
<circle cx="497.99" cy="384.18" r="0.67" fill="#1a1a1a"/>
<circle cx="501.28" cy="386.72" r="0.73" fill="#111"/>
<circle cx="500.05" cy="377.76" r="0.76" fill="#1a1a1a"/>
<circle cx="506.52" cy="385.62" r="0.95" fill="#333"/>
<circle cx="496.47" cy="376.47" r="0.71" fill="#111"/>
<circle cx="498.56" cy="379.09" r="0.76" fill="#333"/>
<circle cx="513.41" cy="395.51" r="0.75" fill="#333"/>
<circle cx="462.48" cy="380.38" r="0.65" fill="#111"/>
<circle cx="443.99" cy="389.84" r="0.84" fill="#551111"/>
<circle cx="447.20" cy="391.46" r="0.71" fill="#1a1a1a"/>
<circle cx="454.89" cy="378.05" r="0.72" fill="#551111"/>
<circle cx="459.41" cy="378.65" r="0.88" fill="#111"/>
<circle cx="450.62" cy="376.84" r="0.85" fill="#551111"/>
<circle cx="451.26" cy="388.81" r="0.74" fill="#222"/>
<circle cx="457.28" cy="388.43" r="0.73" fill="#1a1a1a"/>
<circle cx="456.91" cy="388.20" r="0.92" fill="#333"/>
<circle cx="452.76" cy="378.53" r="0.60" fill="#2a1010"/>
<circle cx="447.44" cy="387.09" r="0.65" fill="#111"/>
<circle cx="447.38" cy="390.50" r="0.61" fill="#1a1a1a"/>
<circle cx="459.06" cy="377.47" r="0.88" fill="#111"/>
<circle cx="451.47" cy="382.36" r="0.88" fill="#222"/>
<circle cx="447.53" cy="382.53" r="0.84" fill="#333"/>
<circle cx="451.48" cy="382.86" r="0.67" fill="#333"/>
<circle cx="456.17" cy="378.30" r="0.91" fill="#333"/>
<circle cx="458.66" cy="378.39" r="0.72" fill="#222"/>
<circle cx="461.43" cy="382.55" r="0.86" fill="#1a1a1a"/>
<circle cx="461.39" cy="382.59" r="0.95" fill="#333"/>
<circle cx="450.77" cy="383.61" r="0.67" fill="#2a1010"/>
<circle cx="445.22" cy="380.99" r="0.78" fill="#1a1a1a"/>
<circle cx="450.29" cy="380.7" r="0.74" fill="#ff8800" stroke="#000" stroke-width="0.5"/>
<circle cx="454.78" cy="386.81" r="0.99" fill="#af0000" stroke="#000" stroke-width="0.5"/>
<circle cx="444.68" cy="388.42" r="1.11" fill="#c50000" stroke="#000" stroke-width="0.5"/>
<circle cx="458.4" cy="384.61" r="0.89" fill="#970000" stroke="#000" stroke-width="0.5"/>
<circle cx="459.36" cy="376.35" r="1.15" fill="#710000" stroke="#000" stroke-width="0.5"/>
<circle cx="456" cy="374.02" r="0.65" fill="#ff5c00" stroke="#000" stroke-width="0.5"/>
<circle cx="439.67" cy="425.85" r="0.65" fill="#551111"/>
<circle cx="436.02" cy="409.97" r="0.68" fill="#1a1a1a"/>
<circle cx="430.61" cy="411.09" r="0.78" fill="#333"/>
<circle cx="441.45" cy="398.67" r="0.60" fill="#1a1a1a"/>
<circle cx="442.78" cy="402.12" r="0.62" fill="#111"/>
<circle cx="434.83" cy="401.45" r="0.86" fill="#1a1a1a"/>
<circle cx="441.52" cy="399.07" r="0.80" fill="#111"/>
<circle cx="439.58" cy="412.88" r="0.84" fill="#2a1010"/>
<circle cx="442.17" cy="407.26" r="0.78" fill="#222"/>
<circle cx="440.94" cy="406.66" r="0.92" fill="#222"/>
<circle cx="441.09" cy="406.84" r="0.80" fill="#551111"/>
<circle cx="445.72" cy="409.29" r="0.67" fill="#111"/>
<circle cx="433.28" cy="393.34" r="0.64" fill="#1a1a1a"/>
<circle cx="434.66" cy="423.16" r="0.84" fill="#222"/>
<circle cx="434.07" cy="405.43" r="0.82" fill="#1a1a1a"/>
<circle cx="444.53" cy="411.26" r="0.70" fill="#222"/>
<circle cx="440.17" cy="418.06" r="0.65" fill="#111"/>
<circle cx="434.72" cy="404.08" r="0.70" fill="#111"/>
<circle cx="442.50" cy="397.78" r="0.74" fill="#111"/>
<circle cx="437.52" cy="403.36" r="0.78" fill="#222"/>
<circle cx="444.65" cy="424.11" r="0.80" fill="#2a1010"/>
<circle cx="448.24" cy="404.41" r="0.75" fill="#222"/>
<circle cx="446.93" cy="394.99" r="0.92" fill="#333"/>
<circle cx="431.94" cy="409.19" r="0.70" fill="#2a1010"/>
<circle cx="440.52" cy="400.77" r="0.82" fill="#333"/>
<circle cx="431.94" cy="415.27" r="0.84" fill="#111"/>
<circle cx="438.15" cy="412.17" r="0.93" fill="#551111"/>
<circle cx="436.27" cy="408.46" r="0.67" fill="#222"/>
<circle cx="441.13" cy="409.64" r="0.87" fill="#2a1010"/>
<circle cx="432.10" cy="422.42" r="0.71" fill="#222"/>
<circle cx="440.16" cy="398.79" r="0.82" fill="#222"/>
<circle cx="444.82" cy="417.97" r="0.86" fill="#1a1a1a"/>
<circle cx="438.42" cy="402.23" r="0.86" fill="#333"/>
<circle cx="433.24" cy="423.33" r="0.92" fill="#2a1010"/>
<circle cx="446.45" cy="394.63" r="0.81" fill="#333"/>
<circle cx="430.14" cy="413.98" r="0.67" fill="#551111"/>
<circle cx="440.32" cy="408.22" r="0.89" fill="#333"/>
<circle cx="430.13" cy="415.65" r="0.76" fill="#111"/>
<circle cx="439.41" cy="413.01" r="0.61" fill="#551111"/>
<circle cx="431.97" cy="421.31" r="0.63" fill="#111"/>
<circle cx="439.69" cy="418.65" r="0.87" fill="#e00000" stroke="#000" stroke-width="0.5"/>
<circle cx="429.17" cy="404" r="0.58" fill="#730000" stroke="#000" stroke-width="0.5"/>
<circle cx="431.66" cy="411.45" r="0.73" fill="#530000" stroke="#000" stroke-width="0.5"/>
<circle cx="439.09" cy="401.13" r="0.55" fill="#690000" stroke="#000" stroke-width="0.5"/>
<circle cx="436.42" cy="398" r="0.73" fill="#c40000" stroke="#000" stroke-width="0.5"/>
<circle cx="454.93" cy="402.4" r="1.38" fill="#be0000" stroke="#000" stroke-width="0.5"/>
<circle cx="455.62" cy="403.53" r="1.45" fill="#ffff3f" stroke="#000" stroke-width="0.5"/>
<circle cx="458.8" cy="400.19" r="1.42" fill="#700000" stroke="#000" stroke-width="0.5"/>
<circle cx="454.35" cy="395.27" r="1.07" fill="#ffcd00" stroke="#000" stroke-width="0.5"/>
<circle cx="461.6" cy="398.94" r="1.05" fill="#750000" stroke="#000" stroke-width="0.5"/>
<circle cx="460.55" cy="396.54" r="1.42" fill="#c90000" stroke="#000" stroke-width="0.5"/>
<circle cx="460.14" cy="407.1" r="1.47" fill="#a60000" stroke="#000" stroke-width="0.5"/>
<circle cx="462.01" cy="402.48" r="1.01" fill="#ff1a00" stroke="#000" stroke-width="0.5"/>
<circle cx="454.74" cy="400.71" r="1.05" fill="#f60000" stroke="#000" stroke-width="0.5"/>
<circle cx="458.71" cy="394.92" r="1.21" fill="#bb0000" stroke="#000" stroke-width="0.5"/>
<circle cx="538.08" cy="408.41" r="0.61" fill="#333"/>
<circle cx="531.59" cy="426.42" r="0.66" fill="#551111"/>
<circle cx="521.51" cy="414.33" r="0.88" fill="#551111"/>
<circle cx="516.55" cy="403.89" r="0.86" fill="#1a1a1a"/>
<circle cx="538.29" cy="416.98" r="0.76" fill="#2a1010"/>
<circle cx="527.60" cy="426.26" r="0.72" fill="#551111"/>
<circle cx="533.53" cy="415.50" r="0.98" fill="#111"/>
<circle cx="534.23" cy="414.82" r="0.62" fill="#111"/>
<circle cx="514.87" cy="411.35" r="0.66" fill="#1a1a1a"/>
<circle cx="524.76" cy="423.11" r="0.63" fill="#2a1010"/>
<circle cx="528.47" cy="427.58" r="0.97" fill="#2a1010"/>
<circle cx="537.94" cy="415.38" r="0.90" fill="#333"/>
<circle cx="517.16" cy="418.11" r="0.68" fill="#551111"/>
<circle cx="526.33" cy="402.23" r="0.66" fill="#333"/>
<circle cx="535.63" cy="412.72" r="0.93" fill="#222"/>
<circle cx="532.79" cy="401.43" r="0.75" fill="#333"/>
<circle cx="531.73" cy="426.63" r="0.82" fill="#2a1010"/>
<circle cx="516.67" cy="420.07" r="0.69" fill="#333"/>
<circle cx="516.89" cy="417.31" r="0.86" fill="#111"/>
<circle cx="534.59" cy="414.04" r="0.76" fill="#551111"/>
<circle cx="519.00" cy="412.83" r="0.93" fill="#2a1010"/>
<circle cx="532.36" cy="422.49" r="0.76" fill="#551111"/>
<circle cx="515.43" cy="412.86" r="0.81" fill="#222"/>
<circle cx="530.73" cy="421.63" r="0.89" fill="#222"/>
<circle cx="534.51" cy="404.71" r="0.73" fill="#111"/>
<circle cx="521.00" cy="409.08" r="1.00" fill="#2a1010"/>
<circle cx="527.66" cy="423.58" r="1.00" fill="#2a1010"/>
<circle cx="535.43" cy="416.11" r="0.88" fill="#222"/>
<circle cx="528.99" cy="416.29" r="0.65" fill="#1a1a1a"/>
<circle cx="515.97" cy="411.12" r="0.74" fill="#1a1a1a"/>
<circle cx="532.76" cy="404.24" r="0.78" fill="#1a1a1a"/>
<circle cx="518.71" cy="409.12" r="0.85" fill="#333"/>
<circle cx="526.46" cy="414.34" r="0.94" fill="#111"/>
<circle cx="537.56" cy="411.35" r="0.77" fill="#2a1010"/>
<circle cx="533.29" cy="411.06" r="0.66" fill="#551111"/>
<circle cx="538.56" cy="418.77" r="0.66" fill="#2a1010"/>
<circle cx="539.62" cy="406.09" r="0.88" fill="#551111"/>
<circle cx="537.79" cy="420.33" r="0.91" fill="#333"/>
<circle cx="539.81" cy="415.89" r="0.99" fill="#333"/>
<circle cx="535.11" cy="409.75" r="0.78" fill="#2a1010"/>
<circle cx="521.07" cy="425.42" r="0.65" fill="#111"/>
<circle cx="519.85" cy="414.10" r="0.66" fill="#111"/>
<circle cx="535.69" cy="423.29" r="0.79" fill="#333"/>
<circle cx="535.54" cy="414.83" r="0.87" fill="#111"/>
<circle cx="526.79" cy="426.29" r="0.91" fill="#2a1010"/>
<circle cx="536.95" cy="402.93" r="0.84" fill="#222"/>
<circle cx="523.31" cy="413.05" r="0.96" fill="#111"/>
<circle cx="534.59" cy="407.06" r="0.73" fill="#2a1010"/>
<circle cx="528.52" cy="407.98" r="0.70" fill="#2a1010"/>
<circle cx="532.10" cy="416.20" r="0.76" fill="#222"/>
<circle cx="530.65" cy="426.92" r="0.78" fill="#111"/>
<circle cx="533.27" cy="424.41" r="0.63" fill="#111"/>
<circle cx="523.09" cy="407.77" r="0.66" fill="#111"/>
<circle cx="524.93" cy="405.52" r="0.60" fill="#222"/>
<circle cx="518.07" cy="415.67" r="0.69" fill="#551111"/>
<circle cx="534.89" cy="412.55" r="0.67" fill="#2a1010"/>
<circle cx="533.13" cy="407.26" r="0.74" fill="#2a1010"/>
<circle cx="533.23" cy="421.05" r="0.71" fill="#333"/>
<circle cx="527.62" cy="400.62" r="0.74" fill="#2a1010"/>
<circle cx="517.22" cy="419.44" r="0.66" fill="#1a1a1a"/>
<circle cx="538.47" cy="401.75" r="0.82" fill="#2a1010"/>
<circle cx="519.25" cy="422.56" r="0.68" fill="#333"/>
<circle cx="519.40" cy="424.47" r="0.84" fill="#551111"/>
<circle cx="523.43" cy="412.46" r="0.83" fill="#333"/>
<circle cx="529.34" cy="425.49" r="0.66" fill="#1a1a1a"/>
<circle cx="532.14" cy="420.09" r="0.86" fill="#2a1010"/>
<circle cx="535.26" cy="402.18" r="0.86" fill="#1a1a1a"/>
<circle cx="526.83" cy="401.05" r="0.80" fill="#222"/>
<circle cx="521.27" cy="419.98" r="0.88" fill="#222"/>
<circle cx="525.17" cy="400.90" r="0.92" fill="#1a1a1a"/>
<circle cx="532.09" cy="411.71" r="0.78" fill="#551111"/>
<circle cx="534.20" cy="412.33" r="0.95" fill="#551111"/>
<circle cx="537.45" cy="413.65" r="0.82" fill="#1a1a1a"/>
<circle cx="524.82" cy="414.47" r="0.62" fill="#551111"/>
<circle cx="518.15" cy="402.03" r="0.96" fill="#2a1010"/>
<circle cx="524.31" cy="412.50" r="0.72" fill="#111"/>
<circle cx="525.91" cy="423.07" r="0.90" fill="#111"/>
<circle cx="520.02" cy="407.16" r="0.75" fill="#222"/>
<circle cx="538.31" cy="408.99" r="0.64" fill="#111"/>
<circle cx="530.85" cy="406.47" r="0.74" fill="#222"/>
<circle cx="524.15" cy="420.30" r="0.64" fill="#1a1a1a"/>
<circle cx="515.86" cy="409.38" r="0.93" fill="#222"/>
<circle cx="534.33" cy="420.22" r="0.64" fill="#551111"/>
<circle cx="531.50" cy="418.88" r="0.65" fill="#222"/>
<circle cx="532.05" cy="408.44" r="0.62" fill="#1a1a1a"/>
<circle cx="523.34" cy="415.03" r="0.76" fill="#1a1a1a"/>
<circle cx="520.34" cy="416.98" r="0.95" fill="#222"/>
<circle cx="523.04" cy="412.53" r="0.75" fill="#551111"/>
<circle cx="533.71" cy="418.54" r="0.86" fill="#222"/>
<circle cx="528.64" cy="406.82" r="0.97" fill="#1a1a1a"/>
<circle cx="527.74" cy="403.79" r="0.75" fill="#111"/>
<circle cx="528.88" cy="426.00" r="0.88" fill="#551111"/>
<circle cx="520.01" cy="410.47" r="0.65" fill="#111"/>
<circle cx="536.46" cy="417.57" r="0.86" fill="#1a1a1a"/>
<circle cx="525.72" cy="405.76" r="0.88" fill="#1a1a1a"/>
<circle cx="532.33" cy="423.36" r="0.88" fill="#222"/>
<circle cx="524.97" cy="418.64" r="0.84" fill="#1a1a1a"/>
<circle cx="536.43" cy="416.24" r="0.79" fill="#551111"/>
<circle cx="517.60" cy="412.73" r="0.99" fill="#222"/>
<circle cx="530.42" cy="409.27" r="0.84" fill="#222"/>
<circle cx="525.09" cy="402.33" r="0.61" fill="#551111"/>
<circle cx="526.88" cy="417.24" r="0.72" fill="#111"/>
<circle cx="533.35" cy="412.91" r="0.90" fill="#222"/>
<circle cx="522.69" cy="412.72" r="0.83" fill="#111"/>
<circle cx="534.08" cy="407.65" r="0.70" fill="#222"/>
<circle cx="516.53" cy="407.58" r="0.64" fill="#1a1a1a"/>
<circle cx="520.28" cy="423.14" r="0.87" fill="#1a1a1a"/>
<circle cx="521.44" cy="420.60" r="0.93" fill="#551111"/>
<circle cx="534.41" cy="418.34" r="0.62" fill="#222"/>
<circle cx="531.07" cy="416.52" r="0.77" fill="#551111"/>
<circle cx="522.82" cy="421.42" r="0.84" fill="#333"/>
<circle cx="516.25" cy="412.56" r="0.61" fill="#111"/>
<circle cx="524.94" cy="421.22" r="0.65" fill="#2a1010"/>
<circle cx="526.46" cy="422.72" r="0.77" fill="#111"/>
<circle cx="518.49" cy="416.44" r="0.81" fill="#333"/>
<circle cx="531.03" cy="413.62" r="0.61" fill="#1a1a1a"/>
<circle cx="537.56" cy="404.35" r="0.89" fill="#222"/>
<circle cx="518.51" cy="401.73" r="0.69" fill="#551111"/>
<circle cx="539.58" cy="411.71" r="0.79" fill="#333"/>
<circle cx="536.14" cy="420.22" r="0.74" fill="#333"/>
<circle cx="537.96" cy="403.21" r="0.77" fill="#ff3800" stroke="#000" stroke-width="0.5"/>
<circle cx="525.88" cy="404.81" r="1.13" fill="#ff6900" stroke="#000" stroke-width="0.5"/>
<circle cx="529.74" cy="401.36" r="1.13" fill="#ff8400" stroke="#000" stroke-width="0.5"/>
<circle cx="536.09" cy="418" r="1.2" fill="#ff3e00" stroke="#000" stroke-width="0.5"/>
<circle cx="531.98" cy="417.34" r="1.01" fill="#ff8200" stroke="#000" stroke-width="0.5"/>
<circle cx="524.16" cy="403.06" r="1.27" fill="#ff8000" stroke="#000" stroke-width="0.5"/>
<circle cx="540.61" cy="411.66" r="0.79" fill="#ff5300" stroke="#000" stroke-width="0.5"/>
<circle cx="524.46" cy="421.8" r="0.85" fill="#ffb900" stroke="#000" stroke-width="0.5"/>
<circle cx="521.67" cy="423.06" r="0.84" fill="#ff3c00" stroke="#000" stroke-width="0.5"/>
<circle cx="525.05" cy="412.62" r="0.85" fill="#ff8400" stroke="#000" stroke-width="0.5"/>
<circle cx="538.97" cy="403.61" r="0.72" fill="#ff6f00" stroke="#000" stroke-width="0.5"/>
<circle cx="528.77" cy="426.86" r="1.29" fill="#ff3b00" stroke="#000" stroke-width="0.5"/>
<circle cx="524.84" cy="400.89" r="0.94" fill="#ff4100" stroke="#000" stroke-width="0.5"/>
<circle cx="519" cy="414.62" r="1.24" fill="#ff2a00" stroke="#000" stroke-width="0.5"/>
<circle cx="525.66" cy="405.64" r="1.19" fill="#ff4e00" stroke="#000" stroke-width="0.5"/>
<circle cx="537.7" cy="407.61" r="0.97" fill="#ffc100" stroke="#000" stroke-width="0.5"/>
<circle cx="521.87" cy="442.86" r="0.72" fill="#333"/>
<circle cx="517.86" cy="434.68" r="0.85" fill="#222"/>
<circle cx="525.99" cy="440.90" r="0.84" fill="#222"/>
<circle cx="519.83" cy="444.40" r="0.76" fill="#222"/>
<circle cx="521.54" cy="438.48" r="0.85" fill="#111"/>
<circle cx="522.20" cy="440.74" r="0.79" fill="#333"/>
<circle cx="518.98" cy="434.94" r="0.75" fill="#551111"/>
<circle cx="514.77" cy="442.31" r="0.78" fill="#111"/>
<circle cx="526.47" cy="439.35" r="0.86" fill="#222"/>
<circle cx="520.02" cy="450.74" r="0.89" fill="#333"/>
<circle cx="522.29" cy="428.68" r="0.80" fill="#111"/>
<circle cx="526.76" cy="432.09" r="0.83" fill="#551111"/>
<circle cx="516.21" cy="441.48" r="0.87" fill="#111"/>
<circle cx="523.18" cy="434.07" r="0.89" fill="#111"/>
<circle cx="526.30" cy="430.63" r="0.62" fill="#111"/>
<circle cx="528.48" cy="435.07" r="0.63" fill="#1a1a1a"/>
<circle cx="526.00" cy="435.56" r="0.81" fill="#111"/>
<circle cx="519.39" cy="431.99" r="0.71" fill="#551111"/>
<circle cx="524.66" cy="429.61" r="0.94" fill="#2a1010"/>
<circle cx="513.49" cy="439.04" r="0.77" fill="#111"/>
<circle cx="526.11" cy="441.98" r="0.73" fill="#333"/>
<circle cx="524.53" cy="444.59" r="0.88" fill="#1a1a1a"/>
<circle cx="519.55" cy="450.10" r="0.95" fill="#1a1a1a"/>
<circle cx="520.82" cy="439.81" r="0.66" fill="#222"/>
<circle cx="523.46" cy="436.61" r="0.85" fill="#1a1a1a"/>
<circle cx="518.81" cy="438.55" r="0.65" fill="#111"/>
<circle cx="529.02" cy="435.53" r="0.70" fill="#222"/>
<circle cx="518.14" cy="440.07" r="0.65" fill="#222"/>
<circle cx="516.05" cy="436.84" r="0.93" fill="#111"/>
<circle cx="524.31" cy="440.19" r="0.73" fill="#333"/>
<circle cx="519.91" cy="427.42" r="0.82" fill="#111"/>
<circle cx="514.06" cy="446.81" r="0.87" fill="#222"/>
<circle cx="523.12" cy="434.32" r="0.76" fill="#111"/>
<circle cx="522.38" cy="435.57" r="0.69" fill="#111"/>
<circle cx="524.21" cy="426.80" r="0.89" fill="#1a1a1a"/>
<circle cx="522.31" cy="446.22" r="0.61" fill="#333"/>
<circle cx="519.28" cy="437.36" r="0.63" fill="#1a1a1a"/>
<circle cx="524.05" cy="431.62" r="0.70" fill="#111"/>
<circle cx="513.09" cy="436.99" r="0.89" fill="#1a1a1a"/>
<circle cx="515.88" cy="439.01" r="0.78" fill="#333"/>
<circle cx="522.10" cy="431.50" r="0.69" fill="#333"/>
<circle cx="520.34" cy="434.69" r="0.88" fill="#222"/>
<circle cx="522.56" cy="433.68" r="0.64" fill="#333"/>
<circle cx="524.67" cy="436.30" r="0.76" fill="#333"/>
<circle cx="517.74" cy="441.22" r="0.68" fill="#222"/>
<circle cx="524.98" cy="428.45" r="0.96" fill="#ffdc00" stroke="#000" stroke-width="0.5"/>
<circle cx="520.91" cy="449.65" r="0.75" fill="#b30000" stroke="#000" stroke-width="0.5"/>
<circle cx="519.02" cy="429.05" r="0.89" fill="#ff4900" stroke="#000" stroke-width="0.5"/>
<circle cx="515.77" cy="433.92" r="0.99" fill="#ff2a00" stroke="#000" stroke-width="0.5"/>
<circle cx="517.68" cy="443.97" r="0.88" fill="#ff4b00" stroke="#000" stroke-width="0.5"/>
<circle cx="527.81" cy="439.11" r="0.82" fill="#ff6800" stroke="#000" stroke-width="0.5"/>
<circle cx="512.33" cy="413.96" r="0.53" fill="#999"/>
<circle cx="535.89" cy="407.65" r="0.69" fill="#111"/>
<circle cx="521.74" cy="409.04" r="0.64" fill="#551111"/>
<circle cx="529.09" cy="450.32" r="0.50" fill="#111"/>
<circle cx="518.79" cy="442.00" r="0.61" fill="#551111"/>
<circle cx="542.65" cy="415.81" r="0.59" fill="#333"/>
<circle cx="516.37" cy="449.63" r="0.51" fill="#2a1010"/>
<circle cx="506.22" cy="420.98" r="0.68" fill="#111"/>
<circle cx="519.60" cy="401.18" r="0.60" fill="#333"/>
<circle cx="534.33" cy="397.28" r="0.64" fill="#111"/>
<circle cx="506.83" cy="443.96" r="0.67" fill="#111"/>
<circle cx="533.45" cy="432.70" r="0.57" fill="#111"/>
<circle cx="517.36" cy="452.34" r="0.47" fill="#111"/>
<circle cx="507.28" cy="430.71" r="0.69" fill="#999"/>
<circle cx="541.55" cy="415.43" r="0.69" fill="#111"/>
<circle cx="515.97" cy="441.07" r="0.68" fill="#222"/>
<circle cx="536.63" cy="414.90" r="0.70" fill="#333"/>
<circle cx="522.92" cy="404.21" r="0.52" fill="#2a1010"/>
<circle cx="515.45" cy="448.67" r="0.65" fill="#551111"/>
<circle cx="509.72" cy="444.52" r="0.69" fill="#111"/>
<circle cx="516.21" cy="451.14" r="0.56" fill="#333"/>
<circle cx="532.03" cy="411.82" r="0.64" fill="#2a1010"/>
<circle cx="516.44" cy="400.53" r="0.50" fill="#2a1010"/>
<circle cx="521.07" cy="450.82" r="0.68" fill="#333"/>
<circle cx="526.71" cy="443.08" r="0.60" fill="#111"/>
<circle cx="512.31" cy="419.58" r="0.50" fill="#333"/>
<circle cx="529.75" cy="426.94" r="0.50" fill="#777"/>
<circle cx="519.71" cy="427.15" r="0.55" fill="#111"/>
<circle cx="511.72" cy="407.81" r="0.56" fill="#999"/>
<circle cx="512.64" cy="446.74" r="0.53" fill="#551111"/>
<circle cx="536.74" cy="436.67" r="0.64" fill="#222"/>
<circle cx="528.98" cy="445.18" r="0.53" fill="#551111"/>
<circle cx="527.60" cy="414.64" r="0.61" fill="#333"/>
<circle cx="532.21" cy="435.18" r="0.55" fill="#551111"/>
<circle cx="519.07" cy="408.19" r="0.47" fill="#999"/>
<circle cx="513" cy="413" r="1.2" fill="#ffff0a" stroke="#000" stroke-width="0.5"/>
<circle cx="511" cy="410.5" r="1.1" fill="#fff800" stroke="#000" stroke-width="0.5"/>
<circle cx="513.5" cy="404" r="1.3" fill="#950000" stroke="#000" stroke-width="0.5"/>
<circle cx="514" cy="408" r="1.2" fill="#880000" stroke="#000" stroke-width="0.5"/>
<circle cx="523.5" cy="426" r="1.1" fill="#ffbb00" stroke="#000" stroke-width="0.5"/>
<circle cx="519.5" cy="443.5" r="1" fill="#ffea00" stroke="#000" stroke-width="0.5"/>
<circle cx="521" cy="446" r="1" fill="#ffdc00" stroke="#000" stroke-width="0.5"/>
<circle cx="500.48" cy="409.27" r="0.70" fill="#111"/>
<circle cx="504.46" cy="410.66" r="0.94" fill="#2a1010"/>
<circle cx="511.77" cy="413.02" r="0.60" fill="#222"/>
<circle cx="509.77" cy="412.36" r="0.78" fill="#1a1a1a"/>
<circle cx="501.15" cy="415.13" r="0.65" fill="#111"/>
<circle cx="503.41" cy="404.65" r="0.75" fill="#2a1010"/>
<circle cx="511.07" cy="407.86" r="0.78" fill="#1a1a1a"/>
<circle cx="507.48" cy="410.88" r="0.88" fill="#333"/>
<circle cx="507.46" cy="418.14" r="0.87" fill="#111"/>
<circle cx="508.96" cy="409.93" r="0.68" fill="#111"/>
<circle cx="507.97" cy="411.17" r="0.86" fill="#333"/>
<circle cx="511.17" cy="404.81" r="0.74" fill="#222"/>
<circle cx="503.81" cy="415.13" r="0.69" fill="#222"/>
<circle cx="503.82" cy="405.35" r="0.68" fill="#111"/>
<circle cx="506.34" cy="413.96" r="0.65" fill="#111"/>
<circle cx="501.19" cy="408.29" r="0.91" fill="#2a1010"/>
<circle cx="504.96" cy="412.92" r="0.66" fill="#333"/>
<circle cx="502.61" cy="413.86" r="0.62" fill="#2a1010"/>
<circle cx="498.19" cy="435.14" r="0.70" fill="#111"/>
<circle cx="493.92" cy="435.17" r="0.86" fill="#888"/>
<circle cx="494.42" cy="424.85" r="0.82" fill="#888"/>
<circle cx="499.28" cy="433.00" r="0.62" fill="#888"/>
<circle cx="499.98" cy="430.33" r="0.77" fill="#222"/>
<circle cx="495.87" cy="449.03" r="0.89" fill="#999"/>
<circle cx="499.49" cy="447.25" r="0.66" fill="#1a1a1a"/>
<circle cx="490.14" cy="430.26" r="0.80" fill="#111"/>
<circle cx="502.40" cy="441.07" r="0.62" fill="#1a1a1a"/>
<circle cx="495.32" cy="437.65" r="0.74" fill="#111"/>
<circle cx="498.52" cy="413.68" r="0.62" fill="#999"/>
<circle cx="497.56" cy="425.41" r="0.80" fill="#2a1010"/>
<circle cx="492.12" cy="431.99" r="0.84" fill="#551111"/>
<circle cx="492.03" cy="424.62" r="0.68" fill="#551111"/>
<circle cx="502.50" cy="427.21" r="0.91" fill="#551111"/>
<circle cx="488.00" cy="415.00" r="0.74" fill="#999"/>
<circle cx="500.93" cy="415.29" r="0.70" fill="#551111"/>
<circle cx="493.00" cy="418.99" r="0.68" fill="#999"/>
<circle cx="504.97" cy="437.27" r="0.62" fill="#2a1010"/>
<circle cx="489.63" cy="438.72" r="0.82" fill="#333"/>
<circle cx="485.62" cy="444.89" r="0.83" fill="#2a1010"/>
<circle cx="490.09" cy="438.29" r="0.94" fill="#111"/>
<circle cx="473.87" cy="410.83" r="0.92" fill="#555"/>
<circle cx="470.23" cy="413.04" r="0.72" fill="#777"/>
<circle cx="484.09" cy="429.85" r="0.92" fill="#777"/>
<circle cx="470.19" cy="417.52" r="0.88" fill="#555"/>
<circle cx="482.56" cy="424.93" r="0.70" fill="#777"/>
<circle cx="482.93" cy="429.90" r="0.68" fill="#555"/>
<circle cx="457.08" cy="421.23" r="0.70" fill="#999"/>
<circle cx="479.61" cy="417.60" r="0.86" fill="#999"/>
<circle cx="480.31" cy="417.37" r="0.78" fill="#777"/>
<circle cx="462.26" cy="413.60" r="0.72" fill="#999"/>
<circle cx="485.5" cy="405.5" r="1.4" fill="#880000" stroke="#000" stroke-width="0.5"/>
<circle cx="489" cy="407.5" r="1.4" fill="#880000" stroke="#000" stroke-width="0.5"/>
<circle cx="492.5" cy="409" r="1.4" fill="#950000" stroke="#000" stroke-width="0.5"/>
<circle cx="496" cy="410" r="1.3" fill="#950000" stroke="#000" stroke-width="0.5"/>
<circle cx="480" cy="403" r="1.3" fill="#880000" stroke="#000" stroke-width="0.5"/>
<circle cx="458" cy="396" r="1.3" fill="#880000" stroke="#000" stroke-width="0.5"/>
<circle cx="460" cy="400" r="1.3" fill="#880000" stroke="#000" stroke-width="0.5"/>
<circle cx="457" cy="403" r="1.2" fill="#950000" stroke="#000" stroke-width="0.5"/>
<circle cx="470.6" cy="416.6" r="2.6" fill="#880000" stroke="#000" stroke-width="0.5"/>
<circle cx="509.1" cy="399.8" r="3" fill="#aa0000" stroke="#000" stroke-width="0.5"/>
<circle cx="438.7" cy="409.3" r="2.1" fill="#ffff33" stroke="#000" stroke-width="0.5"/>
<circle cx="440.1" cy="423.3" r="1.5" fill="#ffff1e" stroke="#000" stroke-width="0.5"/>
<circle cx="443.8" cy="400.6" r="1.7" fill="#be0000" stroke="#000" stroke-width="0.5"/>
<circle cx="443.5" cy="385.4" r="1.3" fill="#cb0000" stroke="#000" stroke-width="0.5"/>
<circle cx="471" cy="397.5" r="1.8" fill="#ffff28" stroke="#000" stroke-width="0.5"/>
<circle cx="476.9" cy="396.9" r="1.9" fill="#ffff33" stroke="#000" stroke-width="0.5"/>
<circle cx="498.2" cy="392.6" r="2" fill="#ffff33" stroke="#000" stroke-width="0.5"/>
<circle cx="504.7" cy="396" r="1.7" fill="#ffff1e" stroke="#000" stroke-width="0.5"/>
<circle cx="508.1" cy="412" r="1.3" fill="#ffff0a" stroke="#000" stroke-width="0.5"/>
<circle cx="506" cy="414" r="1.1" fill="#ffea00" stroke="#000" stroke-width="0.5"/>
<circle cx="527.5" cy="397.2" r="2" fill="#ff5500" stroke="#000" stroke-width="0.5"/>
<circle cx="495.8" cy="430.9" r="1.5" fill="#ffff33" stroke="#000" stroke-width="0.5"/>
<circle cx="454.2" cy="386" r="1.5" fill="#ff5500" stroke="#000" stroke-width="0.5"/>
<circle cx="456.8" cy="389.2" r="1.5" fill="#ff6200" stroke="#000" stroke-width="0.5"/>
<circle cx="438" cy="386.6" r="1" fill="#ffdc00" stroke="#000" stroke-width="0.5"/>
<circle cx="476" cy="369" r="1.3" fill="#ffff1e" stroke="#000" stroke-width="0.5"/>
<circle cx="478" cy="378.5" r="1.2" fill="#ffff1e" stroke="#000" stroke-width="0.5"/>
<circle cx="489.5" cy="381" r="1.2" fill="#ffff0a" stroke="#000" stroke-width="0.5"/>
<circle cx="478" cy="401" r="1.2" fill="#ff7700" stroke="#000" stroke-width="0.5"/>
<circle cx="488.5" cy="410.5" r="1.5" fill="#950000" stroke="#000" stroke-width="0.5"/>
<circle cx="492.5" cy="413.5" r="1.5" fill="#950000" stroke="#000" stroke-width="0.5"/>
<circle cx="496" cy="413" r="1.4" fill="#950000" stroke="#000" stroke-width="0.5"/>
<circle cx="484.5" cy="406" r="1.3" fill="#950000" stroke="#000" stroke-width="0.5"/>
<circle cx="521.5" cy="409.5" r="1.4" fill="#ff7700" stroke="#000" stroke-width="0.5"/>
<circle cx="526.5" cy="421" r="1.4" fill="#ff7700" stroke="#000" stroke-width="0.5"/>
<circle cx="536" cy="414" r="1.4" fill="#ff7700" stroke="#000" stroke-width="0.5"/>
<circle cx="524" cy="426.5" r="1.2" fill="#ed0000" stroke="#000" stroke-width="0.5"/>
<circle cx="523" cy="430" r="1.2" fill="#ed0000" stroke="#000" stroke-width="0.5"/>
<circle cx="515" cy="444" r="1.1" fill="#ffff00" stroke="#000" stroke-width="0.5"/>
<circle cx="512.5" cy="442" r="1" fill="#ffbb00" stroke="#000" stroke-width="0.5"/>
<circle cx="527" cy="428" r="1.1" fill="#ff1100" stroke="#000" stroke-width="0.5"/>
<circle cx="518" cy="420" r="1" fill="#ffdc00" stroke="#000" stroke-width="0.5"/>
<circle cx="434.6" cy="400" r="1" fill="#cb0000" stroke="#000" stroke-width="0.5"/>
<circle cx="480.6" cy="353.8" r="0.7" fill="#440000" stroke="#000" stroke-width="0.5"/>
<circle cx="466" cy="407" r="1.6" fill="#950000" stroke="#000" stroke-width="0.5"/>
<circle cx="462" cy="404" r="1.4" fill="#880000" stroke="#000" stroke-width="0.5"/>
<polygon points="468.2,384.3 469.86,388.02 473.91,388.45 470.88,391.17 471.73,395.15 468.2,393.12 464.67,395.15 465.52,391.17 462.49,388.45 466.54,388.02" fill="#000" stroke="#000" stroke-width="1" stroke-linejoin="miter"/>
<polygon points="468.2,387.18 469.06,389.11 471.17,389.34 469.59,390.75 470.03,392.82 468.2,391.77 466.37,392.82 466.81,390.75 465.23,389.34 467.34,389.11" fill="#00ff00"/>
<polygon points="483.8,389.5 485.46,393.22 489.51,393.65 486.48,396.37 487.33,400.35 483.8,398.32 480.27,400.35 481.12,396.37 478.09,393.65 482.14,393.22" fill="#000" stroke="#000" stroke-width="1" stroke-linejoin="miter"/>
<polygon points="483.8,392.38 484.66,394.31 486.77,394.54 485.19,395.95 485.63,398.02 483.8,396.97 481.97,398.02 482.41,395.95 480.83,394.54 482.94,394.31" fill="#00e5ee"/>
<circle cx="599.29" cy="362.70" r="0.71" fill="#331111"/>
<circle cx="603.77" cy="365.56" r="0.79" fill="#1a1a1a"/>
<circle cx="599.23" cy="369.71" r="0.63" fill="#111"/>
<circle cx="598.34" cy="373.39" r="0.75" fill="#111"/>
<circle cx="598.51" cy="375.34" r="0.76" fill="#331111"/>
<circle cx="601.97" cy="380.04" r="0.73" fill="#222"/>
<circle cx="598.53" cy="380.12" r="0.70" fill="#222"/>
<circle cx="604.56" cy="383.66" r="0.81" fill="#222"/>
<circle cx="606.18" cy="385.08" r="0.61" fill="#2a1010"/>
<circle cx="602.26" cy="403.04" r="0.78" fill="#331111"/>
<circle cx="603.74" cy="408.15" r="0.68" fill="#1a1a1a"/>
<circle cx="603.93" cy="413.86" r="0.80" fill="#222"/>
<circle cx="605.38" cy="420.14" r="0.65" fill="#331111"/>
<circle cx="603.06" cy="425.16" r="0.75" fill="#2a1010"/>
<circle cx="609.12" cy="423.48" r="0.75" fill="#331111"/>
<circle cx="602.72" cy="427.78" r="0.79" fill="#331111"/>
<circle cx="606.19" cy="428.78" r="0.77" fill="#331111"/>
<circle cx="604.94" cy="431.67" r="0.79" fill="#1a1a1a"/>
<circle cx="606.47" cy="434.15" r="0.70" fill="#222"/>
<circle cx="607.04" cy="437.25" r="0.68" fill="#111"/>
<circle cx="607.14" cy="439.73" r="0.72" fill="#111"/>
<circle cx="607.67" cy="443.15" r="0.79" fill="#2a1010"/>
<circle cx="608.26" cy="445.85" r="0.77" fill="#331111"/>
<circle cx="606.03" cy="388.17" r="0.72" fill="#1a1a1a"/>
<circle cx="611.24" cy="392.07" r="0.69" fill="#2a1010"/>
<circle cx="611.79" cy="398.81" r="0.82" fill="#2a1010"/>
<circle cx="597.59" cy="404.30" r="0.76" fill="#1a1a1a"/>
<circle cx="600.16" cy="411.95" r="0.82" fill="#2a1010"/>
<circle cx="610.55" cy="409.98" r="0.67" fill="#1a1a1a"/>
<circle cx="611.39" cy="412.76" r="0.70" fill="#2a1010"/>
<circle cx="607.70" cy="364.20" r="0.45" fill="#999"/>
<circle cx="591.30" cy="363.30" r="0.48" fill="#999"/>
<circle cx="594.60" cy="361.60" r="0.53" fill="#999"/>
<circle cx="596.50" cy="361.60" r="0.54" fill="#999"/>
<circle cx="593.50" cy="371.90" r="0.58" fill="#777"/>
<circle cx="596.30" cy="373.40" r="0.45" fill="#777"/>
<circle cx="595.20" cy="386.40" r="0.49" fill="#777"/>
<circle cx="597.20" cy="391.80" r="0.53" fill="#666"/>
<circle cx="613.40" cy="365.50" r="0.60" fill="#666"/>
<circle cx="613.80" cy="371.20" r="0.43" fill="#aaa"/>
<circle cx="613.80" cy="376.00" r="0.50" fill="#888"/>
<circle cx="613.20" cy="381.30" r="0.53" fill="#aaa"/>
<circle cx="597.00" cy="391.80" r="0.48" fill="#999"/>
<circle cx="596.80" cy="408.40" r="0.52" fill="#999"/>
<circle cx="614.30" cy="405.30" r="0.44" fill="#aaa"/>
<circle cx="612.50" cy="409.70" r="0.47" fill="#777"/>
<circle cx="610.30" cy="415.40" r="0.52" fill="#999"/>
<circle cx="594.60" cy="406.20" r="0.58" fill="#888"/>
<circle cx="601.50" cy="357.00" r="0.48" fill="#aaa"/>
<circle cx="598.00" cy="366.00" r="0.47" fill="#888"/>
<circle cx="592.00" cy="378.00" r="0.59" fill="#999"/>
<circle cx="594.00" cy="395.00" r="0.50" fill="#999"/>
<circle cx="593.00" cy="415.00" r="0.48" fill="#999"/>
<circle cx="611.00" cy="428.00" r="0.42" fill="#999"/>
<circle cx="612.00" cy="433.00" r="0.48" fill="#aaa"/>
<circle cx="598.00" cy="432.00" r="0.43" fill="#aaa"/>
<circle cx="600.00" cy="438.00" r="0.53" fill="#aaa"/>
<circle cx="604.00" cy="450.00" r="0.51" fill="#999"/>
<circle cx="596.00" cy="396.00" r="0.50" fill="#aaa"/>
<circle cx="615.00" cy="388.00" r="0.48" fill="#777"/>
<circle cx="590.00" cy="400.00" r="0.45" fill="#aaa"/>
<circle cx="612.42" cy="403.40" r="0.46" fill="#2a1010"/>
<circle cx="602.49" cy="392.75" r="0.59" fill="#111"/>
<circle cx="601.47" cy="404.32" r="0.49" fill="#1a1a1a"/>
<circle cx="605.59" cy="406.54" r="0.43" fill="#222"/>
<circle cx="601.19" cy="387.95" r="0.59" fill="#111"/>
<circle cx="609.86" cy="403.91" r="0.47" fill="#222"/>
<circle cx="597.86" cy="387.15" r="0.61" fill="#331111"/>
<circle cx="600.37" cy="410.79" r="0.59" fill="#331111"/>
<circle cx="600.61" cy="409.42" r="0.47" fill="#2a1010"/>
<circle cx="605.33" cy="411.47" r="0.46" fill="#222"/>
<circle cx="601.36" cy="390.80" r="0.61" fill="#2a1010"/>
<circle cx="607.12" cy="385.64" r="0.63" fill="#331111"/>
<circle cx="602.27" cy="413.89" r="0.54" fill="#111"/>
<circle cx="599.31" cy="408.32" r="0.59" fill="#111"/>
<circle cx="602.49" cy="416.68" r="0.35" fill="#1a1a1a"/>
<circle cx="598.41" cy="401.99" r="0.48" fill="#111"/>
<circle cx="603.90" cy="385.81" r="0.52" fill="#331111"/>
<circle cx="603.50" cy="409.92" r="0.42" fill="#222"/>
<circle cx="599.21" cy="394.55" r="0.53" fill="#2a1010"/>
<circle cx="603.16" cy="407.98" r="0.36" fill="#111"/>
<circle cx="610.74" cy="410.22" r="0.47" fill="#111"/>
<circle cx="605.01" cy="407.86" r="0.44" fill="#1a1a1a"/>
<circle cx="598.37" cy="386.85" r="0.44" fill="#331111"/>
<circle cx="601.34" cy="394.46" r="0.60" fill="#222"/>
<circle cx="602.32" cy="404.87" r="0.38" fill="#331111"/>
<circle cx="610.87" cy="397.85" r="0.43" fill="#331111"/>
<circle cx="604.11" cy="393.52" r="0.54" fill="#111"/>
<circle cx="604.28" cy="403.78" r="0.46" fill="#222"/>
<circle cx="611.14" cy="398.89" r="0.63" fill="#331111"/>
<circle cx="608.96" cy="395.62" r="0.53" fill="#222"/>
<circle cx="608.4" cy="386.86" r="1.29" fill="#a10000" stroke="#000" stroke-width="0.5"/>
<circle cx="610.65" cy="387.1" r="0.99" fill="#ff2b00" stroke="#000" stroke-width="0.5"/>
<circle cx="597.87" cy="405.44" r="1.19" fill="#b40000" stroke="#000" stroke-width="0.5"/>
<circle cx="606.72" cy="399.34" r="0.97" fill="#ffff61" stroke="#000" stroke-width="0.5"/>
<circle cx="602.08" cy="409.38" r="1.14" fill="#dd0000" stroke="#000" stroke-width="0.5"/>
<circle cx="600.72" cy="412.18" r="0.92" fill="#c10000" stroke="#000" stroke-width="0.5"/>
<circle cx="598.56" cy="396.55" r="1.17" fill="#bf0000" stroke="#000" stroke-width="0.5"/>
<circle cx="608.17" cy="409.79" r="1.01" fill="#c50000" stroke="#000" stroke-width="0.5"/>
<circle cx="598.67" cy="398.58" r="1.12" fill="#ff0e00" stroke="#000" stroke-width="0.5"/>
<circle cx="607.61" cy="389.85" r="1.13" fill="#ff1a00" stroke="#000" stroke-width="0.5"/>
<circle cx="604.5" cy="392.14" r="1" fill="#5c0000" stroke="#000" stroke-width="0.5"/>
<circle cx="599.25" cy="397.07" r="0.96" fill="#a10000" stroke="#000" stroke-width="0.5"/>
<circle cx="601.88" cy="388.65" r="1.07" fill="#6d0000" stroke="#000" stroke-width="0.5"/>
<circle cx="611.95" cy="392.47" r="1.07" fill="#9d0000" stroke="#000" stroke-width="0.5"/>
<circle cx="602" cy="363.5" r="1.1" fill="#880000" stroke="#000" stroke-width="0.5"/>
<circle cx="603.3" cy="370.5" r="1" fill="#fff800" stroke="#000" stroke-width="0.5"/>
<circle cx="603.1" cy="368.1" r="0.9" fill="#ffa600" stroke="#000" stroke-width="0.5"/>
<circle cx="604.9" cy="375.4" r="1.1" fill="#950000" stroke="#000" stroke-width="0.5"/>
<circle cx="606.6" cy="373.8" r="1.1" fill="#950000" stroke="#000" stroke-width="0.5"/>
<circle cx="608.6" cy="376.7" r="1.1" fill="#880000" stroke="#000" stroke-width="0.5"/>
<circle cx="609.9" cy="377.3" r="1.1" fill="#880000" stroke="#000" stroke-width="0.5"/>
<circle cx="611.4" cy="377.6" r="1" fill="#880000" stroke="#000" stroke-width="0.5"/>
<circle cx="603.8" cy="379.3" r="1.2" fill="#ffcf00" stroke="#000" stroke-width="0.5"/>
<circle cx="607.3" cy="381.7" r="1.1" fill="#880000" stroke="#000" stroke-width="0.5"/>
<circle cx="608.1" cy="382.2" r="1.1" fill="#880000" stroke="#000" stroke-width="0.5"/>
<circle cx="599.6" cy="385.2" r="1.1" fill="#880000" stroke="#000" stroke-width="0.5"/>
<circle cx="603.1" cy="386.1" r="1.3" fill="#ff4700" stroke="#000" stroke-width="0.5"/>
<circle cx="599.8" cy="389.2" r="1.3" fill="#ff3300" stroke="#000" stroke-width="0.5"/>
<circle cx="600.5" cy="397.4" r="1.6" fill="#ff3900" stroke="#000" stroke-width="0.5"/>
<circle cx="599.6" cy="400.5" r="1.3" fill="#950000" stroke="#000" stroke-width="0.5"/>
<circle cx="602.5" cy="399.6" r="1.3" fill="#880000" stroke="#000" stroke-width="0.5"/>
<circle cx="606.4" cy="401" r="1.4" fill="#880000" stroke="#000" stroke-width="0.5"/>
<circle cx="609.5" cy="400.7" r="1.2" fill="#880000" stroke="#000" stroke-width="0.5"/>
<circle cx="603.3" cy="404" r="1.3" fill="#950000" stroke="#000" stroke-width="0.5"/>
<circle cx="608.6" cy="404" r="1.3" fill="#880000" stroke="#000" stroke-width="0.5"/>
<circle cx="605.1" cy="407.3" r="1.3" fill="#950000" stroke="#000" stroke-width="0.5"/>
<circle cx="607.3" cy="407.3" r="1.3" fill="#880000" stroke="#000" stroke-width="0.5"/>
<circle cx="602" cy="416.7" r="1.5" fill="#880000" stroke="#000" stroke-width="0.5"/>
<circle cx="606" cy="416.3" r="1.1" fill="#950000" stroke="#000" stroke-width="0.5"/>
<circle cx="608.1" cy="399.4" r="1.1" fill="#ff5500" stroke="#000" stroke-width="0.5"/>
<circle cx="613.4" cy="396.4" r="1" fill="#ff3300" stroke="#000" stroke-width="0.5"/>
<circle cx="608.1" cy="411" r="1.2" fill="#ff5500" stroke="#000" stroke-width="0.5"/>
<circle cx="602.5" cy="415.4" r="1" fill="#ff3300" stroke="#000" stroke-width="0.5"/>
<circle cx="604.4" cy="422.2" r="1.1" fill="#ff5500" stroke="#000" stroke-width="0.5"/>
<circle cx="601.6" cy="409.3" r="1.6" fill="#ffff0a" stroke="#000" stroke-width="0.5"/>
<circle cx="604.9" cy="412.1" r="1.2" fill="#fff800" stroke="#000" stroke-width="0.5"/>
<circle cx="598.7" cy="423.3" r="1.3" fill="#ffff1e" stroke="#000" stroke-width="0.5"/>
<circle cx="605.4" cy="430.9" r="1.1" fill="#fff800" stroke="#000" stroke-width="0.5"/>
<circle cx="605.5" cy="426.5" r="1" fill="#950000" stroke="#000" stroke-width="0.5"/>
<circle cx="606.5" cy="438.5" r="1" fill="#cb0000" stroke="#000" stroke-width="0.5"/>
<circle cx="607.5" cy="442" r="0.9" fill="#ed0000" stroke="#000" stroke-width="0.5"/>
<polygon points="609.7,383.8 611.36,387.52 615.41,387.95 612.38,390.67 613.23,394.65 609.7,392.62 606.17,394.65 607.02,390.67 603.99,387.95 608.04,387.52" fill="#000" stroke="#000" stroke-width="1" stroke-linejoin="miter"/>
<polygon points="609.7,386.68 610.56,388.61 612.67,388.84 611.09,390.25 611.53,392.32 609.7,391.27 607.87,392.32 608.31,390.25 606.73,388.84 608.84,388.61" fill="#00ff00"/>
<polygon points="607.5,389 609.16,392.72 613.21,393.15 610.18,395.87 611.03,399.85 607.5,397.82 603.97,399.85 604.82,395.87 601.79,393.15 605.84,392.72" fill="#000" stroke="#000" stroke-width="1" stroke-linejoin="miter"/>
<polygon points="607.5,391.88 608.36,393.81 610.47,394.04 608.89,395.45 609.33,397.52 607.5,396.47 605.67,397.52 606.11,395.45 604.53,394.04 606.64,393.81" fill="#00e5ee"/>
<circle cx="114.23" cy="831.30" r="0.69" fill="#1a1a1a"/>
<circle cx="96.15" cy="839.32" r="0.84" fill="#111"/>
<circle cx="98.56" cy="841.68" r="0.65" fill="#111"/>
<circle cx="99.77" cy="841.63" r="0.82" fill="#1a1a1a"/>
<circle cx="103.85" cy="837.25" r="0.65" fill="#111"/>
<circle cx="105.32" cy="839.84" r="0.77" fill="#111"/>
<circle cx="107.87" cy="837.15" r="0.80" fill="#1a1a1a"/>
<circle cx="111.19" cy="839.34" r="0.77" fill="#1a1a1a"/>
<circle cx="113.68" cy="837.92" r="0.84" fill="#2a2a10"/>
<circle cx="116.02" cy="836.84" r="0.63" fill="#2a2a10"/>
<circle cx="121.56" cy="839.83" r="0.68" fill="#2a2a10"/>
<circle cx="104.68" cy="844.88" r="0.81" fill="#1a1a1a"/>
<circle cx="114.89" cy="840.91" r="0.79" fill="#2a2a10"/>
<circle cx="115.29" cy="843.64" r="0.65" fill="#111"/>
<circle cx="99.80" cy="848.08" r="0.84" fill="#1a1a1a"/>
<circle cx="105.92" cy="850.85" r="0.79" fill="#222"/>
<circle cx="98.97" cy="852.72" r="0.71" fill="#2a2a10"/>
<circle cx="107.34" cy="854.12" r="0.71" fill="#1a1a1a"/>
<circle cx="119.70" cy="849.28" r="0.64" fill="#2a2a10"/>
<circle cx="119.30" cy="851.16" r="0.69" fill="#1a1a1a"/>
<circle cx="113.25" cy="857.60" r="0.81" fill="#1a1a1a"/>
<circle cx="115.36" cy="858.00" r="0.62" fill="#111"/>
<circle cx="121.39" cy="858.25" r="0.69" fill="#111"/>
<circle cx="105.37" cy="859.62" r="0.65" fill="#1a1a1a"/>
<circle cx="101.98" cy="860.47" r="0.75" fill="#222"/>
<circle cx="113.26" cy="857.71" r="0.79" fill="#111"/>
<circle cx="121.42" cy="858.78" r="0.72" fill="#1a1a1a"/>
<circle cx="110.35" cy="863.61" r="0.76" fill="#222"/>
<circle cx="112.15" cy="864.24" r="0.84" fill="#222"/>
<circle cx="117.13" cy="863.87" r="0.79" fill="#1a1a1a"/>
<circle cx="94.77" cy="868.54" r="0.80" fill="#1a1a1a"/>
<circle cx="102.02" cy="868.10" r="0.84" fill="#222"/>
<circle cx="111.16" cy="868.20" r="0.73" fill="#2a2a10"/>
<circle cx="112.00" cy="869.06" r="0.79" fill="#1a1a1a"/>
<circle cx="114.67" cy="869.74" r="0.82" fill="#111"/>
<circle cx="120.64" cy="868.47" r="0.76" fill="#111"/>
<circle cx="96.85" cy="874.38" r="0.61" fill="#111"/>
<circle cx="97.85" cy="875.43" r="0.83" fill="#111"/>
<circle cx="94.33" cy="875.36" r="0.81" fill="#222"/>
<circle cx="100.08" cy="874.42" r="0.65" fill="#2a2a10"/>
<circle cx="105.65" cy="874.93" r="0.70" fill="#1a1a1a"/>
<circle cx="108.45" cy="873.56" r="0.70" fill="#111"/>
<circle cx="113.83" cy="872.27" r="0.71" fill="#1a1a1a"/>
<circle cx="116.45" cy="873.24" r="0.67" fill="#111"/>
<circle cx="100.52" cy="878.94" r="0.81" fill="#1a1a1a"/>
<circle cx="103.64" cy="879.11" r="0.78" fill="#1a1a1a"/>
<circle cx="107.04" cy="878.52" r="0.81" fill="#1a1a1a"/>
<circle cx="117.01" cy="878.07" r="0.70" fill="#222"/>
<circle cx="99.18" cy="881.85" r="0.81" fill="#1a1a1a"/>
<circle cx="118.08" cy="882.00" r="0.82" fill="#111"/>
<circle cx="122.52" cy="882.40" r="0.76" fill="#1a1a1a"/>
<circle cx="92.86" cy="886.90" r="0.66" fill="#222"/>
<circle cx="119.03" cy="886.68" r="0.66" fill="#1a1a1a"/>
<circle cx="95.99" cy="889.14" r="0.77" fill="#222"/>
<circle cx="98.28" cy="890.45" r="0.67" fill="#2a2a10"/>
<circle cx="100.04" cy="891.21" r="0.66" fill="#222"/>
<circle cx="105.83" cy="893.66" r="0.66" fill="#222"/>
<circle cx="108.65" cy="893.95" r="0.62" fill="#2a2a10"/>
<circle cx="100.93" cy="844.82" r="0.82" fill="#111"/>
<circle cx="108.91" cy="845.74" r="0.76" fill="#111"/>
<circle cx="103.22" cy="848.87" r="0.84" fill="#1a1a1a"/>
<circle cx="114.40" cy="829.50" r="0.55" fill="#888"/>
<circle cx="113.80" cy="833.50" r="0.43" fill="#888"/>
<circle cx="102.90" cy="837.50" r="0.46" fill="#777"/>
<circle cx="126.60" cy="834.50" r="0.53" fill="#888"/>
<circle cx="112.60" cy="847.60" r="0.43" fill="#777"/>
<circle cx="125.90" cy="849.10" r="0.45" fill="#777"/>
<circle cx="127.00" cy="845.50" r="0.45" fill="#555"/>
<circle cx="127.30" cy="841.20" r="0.46" fill="#888"/>
<circle cx="87.60" cy="854.30" r="0.58" fill="#555"/>
<circle cx="96.70" cy="851.40" r="0.54" fill="#888"/>
<circle cx="96.00" cy="846.30" r="0.46" fill="#555"/>
<circle cx="121.50" cy="871.80" r="0.48" fill="#999"/>
<circle cx="118.60" cy="896.20" r="0.56" fill="#999"/>
<circle cx="89.50" cy="863.60" r="0.44" fill="#555"/>
<circle cx="91.90" cy="876.50" r="0.53" fill="#555"/>
<circle cx="133.90" cy="876.90" r="0.41" fill="#777"/>
<circle cx="139.60" cy="848.00" r="0.47" fill="#555"/>
<circle cx="141.30" cy="852.10" r="0.41" fill="#777"/>
<circle cx="143.60" cy="853.90" r="0.48" fill="#999"/>
<circle cx="146.60" cy="857.40" r="0.40" fill="#777"/>
<circle cx="141.30" cy="857.40" r="0.53" fill="#777"/>
<circle cx="138.00" cy="863.40" r="0.52" fill="#777"/>
<circle cx="134.00" cy="877.20" r="0.51" fill="#999"/>
<circle cx="136.60" cy="880.70" r="0.41" fill="#777"/>
<circle cx="126.70" cy="834.00" r="0.44" fill="#888"/>
<circle cx="95.50" cy="920.00" r="0.50" fill="#777"/>
<circle cx="108.00" cy="830.00" r="0.47" fill="#555"/>
<circle cx="118.00" cy="832.00" r="0.47" fill="#777"/>
<circle cx="124.00" cy="862.00" r="0.45" fill="#777"/>
<circle cx="127.00" cy="870.00" r="0.46" fill="#999"/>
<circle cx="92.00" cy="858.00" r="0.52" fill="#555"/>
<circle cx="102.2" cy="852.5" r="1.6" fill="#ffff0a" stroke="#000" stroke-width="0.5"/>
<circle cx="113.5" cy="852.1" r="1.6" fill="#ffff0a" stroke="#000" stroke-width="0.5"/>
<circle cx="104.7" cy="861.4" r="1.4" fill="#ff6200" stroke="#000" stroke-width="0.5"/>
<circle cx="100" cy="886.4" r="1.6" fill="#ffcf00" stroke="#000" stroke-width="0.5"/>
<circle cx="105.1" cy="843.4" r="1.2" fill="#ffa600" stroke="#000" stroke-width="0.5"/>
<circle cx="102.5" cy="871.9" r="1" fill="#ffc100" stroke="#000" stroke-width="0.5"/>
<circle cx="107.5" cy="866.3" r="1.1" fill="#ffffe0" stroke="#000" stroke-width="0.5"/>
<circle cx="110.9" cy="876" r="1.1" fill="#950000" stroke="#000" stroke-width="0.5"/>
<circle cx="98.5" cy="890.4" r="0.9" fill="#cb0000" stroke="#000" stroke-width="0.5"/>
<polygon points="104.3,896 106.04,899.9 110.29,900.35 107.12,903.21 108,907.4 104.3,905.26 100.6,907.4 101.48,903.21 98.31,900.35 102.56,899.9" fill="#000" stroke="#000" stroke-width="1" stroke-linejoin="miter"/>
<polygon points="104.3,899.02 105.21,901.05 107.42,901.29 105.76,902.78 106.23,904.95 104.3,903.84 102.37,904.95 102.84,902.78 101.18,901.29 103.39,901.05" fill="#00ff00"/>
<circle cx="263.40" cy="836.90" r="0.72" fill="#111"/>
<circle cx="263.80" cy="843.00" r="0.69" fill="#111"/>
<circle cx="264.50" cy="865.90" r="0.67" fill="#2a2a10"/>
<circle cx="263.40" cy="868.60" r="0.68" fill="#2a2a10"/>
<circle cx="261.90" cy="872.10" r="0.72" fill="#111"/>
<circle cx="261.30" cy="875.50" r="0.60" fill="#222"/>
<circle cx="261.90" cy="882.00" r="0.70" fill="#2a2a10"/>
<circle cx="264.40" cy="890.40" r="0.62" fill="#2a2a10"/>
<circle cx="263.20" cy="840.50" r="0.73" fill="#2a2a10"/>
<circle cx="262.80" cy="856.00" r="0.71" fill="#111"/>
<circle cx="264.90" cy="839.20" r="0.47" fill="#888"/>
<circle cx="264.20" cy="848.70" r="0.50" fill="#666"/>
<circle cx="260.70" cy="867.80" r="0.49" fill="#999"/>
<circle cx="261.50" cy="878.60" r="0.46" fill="#666"/>
<circle cx="270.30" cy="860.30" r="0.52" fill="#666"/>
<circle cx="271.40" cy="878.90" r="0.50" fill="#666"/>
<circle cx="263.00" cy="832.00" r="0.50" fill="#666"/>
<circle cx="262.50" cy="846.00" r="0.50" fill="#888"/>
<circle cx="265.00" cy="858.00" r="0.53" fill="#999"/>
<circle cx="262.00" cy="884.00" r="0.53" fill="#666"/>
<circle cx="263.6" cy="852.2" r="1.3" fill="#ffea00" stroke="#000" stroke-width="0.5"/>
<circle cx="263.6" cy="861.3" r="1.1" fill="#ff5500" stroke="#000" stroke-width="0.5"/>
<circle cx="262.2" cy="886.2" r="1.2" fill="#ffc100" stroke="#000" stroke-width="0.5"/>
<polygon points="261.8,895.9 263.54,899.8 267.79,900.25 264.62,903.11 265.5,907.3 261.8,905.16 258.1,907.3 258.98,903.11 255.81,900.25 260.06,899.8" fill="#000" stroke="#000" stroke-width="1" stroke-linejoin="miter"/>
<polygon points="261.8,898.92 262.71,900.95 264.92,901.19 263.26,902.68 263.73,904.85 261.8,903.74 259.87,904.85 260.34,902.68 258.68,901.19 260.89,900.95" fill="#00ff00"/>
<text x="-0.5" y="11.9" font-size="15.5" textLength="103.5" lengthAdjust="spacingAndGlyphs">(a) 2009 swarm</text>
<text x="386.8" y="13.9" font-size="15.5" textLength="105" lengthAdjust="spacingAndGlyphs">(b) 2015 swarm</text>
<text x="0.4" y="515.6" font-size="15.5" textLength="103.3" lengthAdjust="spacingAndGlyphs">(c) 2019 swarm</text>
<rect x="66.3" y="26.3" width="255.3" height="209.2" fill="none" stroke="#3a3a3a" stroke-width="1.1"/>
<line x1="63.3" y1="60.4" x2="66.3" y2="60.4" stroke="#3a3a3a" stroke-width="0.8" />
<line x1="63.3" y1="117" x2="66.3" y2="117" stroke="#3a3a3a" stroke-width="0.8" />
<line x1="63.3" y1="173.3" x2="66.3" y2="173.3" stroke="#3a3a3a" stroke-width="0.8" />
<line x1="63.3" y1="229.4" x2="66.3" y2="229.4" stroke="#3a3a3a" stroke-width="0.8" />
<line x1="64.7" y1="32.3" x2="66.3" y2="32.3" stroke="#3a3a3a" stroke-width="0.7" />
<line x1="64.7" y1="88.5" x2="66.3" y2="88.5" stroke="#3a3a3a" stroke-width="0.7" />
<line x1="64.7" y1="144.6" x2="66.3" y2="144.6" stroke="#3a3a3a" stroke-width="0.7" />
<line x1="64.7" y1="201.4" x2="66.3" y2="201.4" stroke="#3a3a3a" stroke-width="0.7" />
<text x="61.3" y="63.4" font-size="8.8" text-anchor="end" textLength="21.97" lengthAdjust="spacingAndGlyphs">35.26°</text>
<text x="61.3" y="120" font-size="8.8" text-anchor="end" textLength="21.97" lengthAdjust="spacingAndGlyphs">35.25°</text>
<text x="61.3" y="176.3" font-size="8.8" text-anchor="end" textLength="21.97" lengthAdjust="spacingAndGlyphs">35.24°</text>
<text x="61.3" y="232.4" font-size="8.8" text-anchor="end" textLength="21.97" lengthAdjust="spacingAndGlyphs">35.23°</text>
<line x1="66.7" y1="235.5" x2="66.7" y2="238.1" stroke="#3a3a3a" stroke-width="0.8" />
<line x1="113.1" y1="235.5" x2="113.1" y2="238.1" stroke="#3a3a3a" stroke-width="0.8" />
<line x1="159.5" y1="235.5" x2="159.5" y2="238.1" stroke="#3a3a3a" stroke-width="0.8" />
<line x1="205.9" y1="235.5" x2="205.9" y2="238.1" stroke="#3a3a3a" stroke-width="0.8" />
<line x1="252.3" y1="235.5" x2="252.3" y2="238.1" stroke="#3a3a3a" stroke-width="0.8" />
<line x1="298.7" y1="235.5" x2="298.7" y2="238.1" stroke="#3a3a3a" stroke-width="0.8" />
<line x1="89.9" y1="235.5" x2="89.9" y2="237.1" stroke="#3a3a3a" stroke-width="0.7" />
<line x1="136.3" y1="235.5" x2="136.3" y2="237.1" stroke="#3a3a3a" stroke-width="0.7" />
<line x1="182.7" y1="235.5" x2="182.7" y2="237.1" stroke="#3a3a3a" stroke-width="0.7" />
<line x1="229.1" y1="235.5" x2="229.1" y2="237.1" stroke="#3a3a3a" stroke-width="0.7" />
<line x1="275.5" y1="235.5" x2="275.5" y2="237.1" stroke="#3a3a3a" stroke-width="0.7" />
<line x1="321.9" y1="235.5" x2="321.9" y2="237.1" stroke="#3a3a3a" stroke-width="0.7" />
<text x="66.8" y="246.6" font-size="8.8" text-anchor="middle" textLength="26.78" lengthAdjust="spacingAndGlyphs">138.97°</text>
<text x="117.25" y="246.6" font-size="8.8" text-anchor="middle" textLength="26.78" lengthAdjust="spacingAndGlyphs">138.98°</text>
<text x="167.7" y="246.6" font-size="8.8" text-anchor="middle" textLength="26.78" lengthAdjust="spacingAndGlyphs">138.99°</text>
<text x="218.15" y="246.6" font-size="8.8" text-anchor="middle" textLength="16.02" lengthAdjust="spacingAndGlyphs">139°</text>
<text x="268.6" y="246.6" font-size="8.8" text-anchor="middle" textLength="26.78" lengthAdjust="spacingAndGlyphs">139.01°</text>
<text x="319.05" y="246.6" font-size="8.8" text-anchor="middle" textLength="26.78" lengthAdjust="spacingAndGlyphs">139.02°</text>
<polyline points="249.4,216.9 249.4,212.5 300.6,212.5 300.6,216.9" fill="none" stroke="#555" stroke-width="1"/>
<text x="275.4" y="224.5" font-size="8" text-anchor="middle">1 km</text>
<defs><linearGradient id="ga" x1="0" x2="1" y1="0" y2="0"><stop offset="0.00" stop-color="#000000"/><stop offset="0.05" stop-color="#220000"/><stop offset="0.10" stop-color="#440000"/><stop offset="0.15" stop-color="#650000"/><stop offset="0.20" stop-color="#880000"/><stop offset="0.25" stop-color="#aa0000"/><stop offset="0.30" stop-color="#cb0000"/><stop offset="0.35" stop-color="#ed0000"/><stop offset="0.40" stop-color="#ff1100"/><stop offset="0.45" stop-color="#ff3300"/><stop offset="0.50" stop-color="#ff5500"/><stop offset="0.55" stop-color="#ff7700"/><stop offset="0.60" stop-color="#ff9900"/><stop offset="0.65" stop-color="#ffbb00"/><stop offset="0.70" stop-color="#ffdc00"/><stop offset="0.75" stop-color="#ffff00"/><stop offset="0.80" stop-color="#ffff33"/><stop offset="0.85" stop-color="#ffff65"/><stop offset="0.90" stop-color="#ffff99"/><stop offset="0.95" stop-color="#ffffcb"/><stop offset="1.00" stop-color="#ffffff"/></linearGradient></defs>
<polygon points="92.3,255.5 86.8,260.05 92.3,264.6" fill="#000" stroke="#000" stroke-width="1.2" stroke-linejoin="miter"/>
<polygon points="295.3,255.5 300.8,260.05 295.3,264.6" fill="#fff" stroke="#000" stroke-width="1.2" stroke-linejoin="miter"/>
<rect x="92.3" y="255.5" width="203" height="9.1" fill="url(#ga)" stroke="#000" stroke-width="1.2"/>
<line x1="92.3" y1="264.6" x2="92.3" y2="266.8" stroke="#777" stroke-width="0.7" />
<line x1="112.6" y1="264.6" x2="112.6" y2="266" stroke="#000" stroke-width="0.7" />
<line x1="132.9" y1="264.6" x2="132.9" y2="266.8" stroke="#777" stroke-width="0.7" />
<line x1="153.2" y1="264.6" x2="153.2" y2="266" stroke="#000" stroke-width="0.7" />
<line x1="173.5" y1="264.6" x2="173.5" y2="266.8" stroke="#777" stroke-width="0.7" />
<line x1="193.8" y1="264.6" x2="193.8" y2="266" stroke="#000" stroke-width="0.7" />
<line x1="214.1" y1="264.6" x2="214.1" y2="266.8" stroke="#777" stroke-width="0.7" />
<line x1="234.4" y1="264.6" x2="234.4" y2="266" stroke="#000" stroke-width="0.7" />
<line x1="254.7" y1="264.6" x2="254.7" y2="266.8" stroke="#777" stroke-width="0.7" />
<line x1="275" y1="264.6" x2="275" y2="266" stroke="#000" stroke-width="0.7" />
<line x1="295.3" y1="264.6" x2="295.3" y2="266.8" stroke="#777" stroke-width="0.7" />
<text x="91.3" y="275.5" font-size="8.4" text-anchor="middle" textLength="10.28" lengthAdjust="spacingAndGlyphs">0.0</text>
<text x="131.9" y="275.5" font-size="8.4" text-anchor="middle" textLength="10.28" lengthAdjust="spacingAndGlyphs">0.2</text>
<text x="172.5" y="275.5" font-size="8.4" text-anchor="middle" textLength="10.28" lengthAdjust="spacingAndGlyphs">0.4</text>
<text x="213.1" y="275.5" font-size="8.4" text-anchor="middle" textLength="10.28" lengthAdjust="spacingAndGlyphs">0.6</text>
<text x="253.7" y="275.5" font-size="8.4" text-anchor="middle" textLength="10.28" lengthAdjust="spacingAndGlyphs">0.8</text>
<text x="294.3" y="275.5" font-size="8.4" text-anchor="middle" textLength="10.28" lengthAdjust="spacingAndGlyphs">1.0</text>
<text x="195.3" y="288.4" font-size="11" text-anchor="middle" textLength="52" lengthAdjust="spacingAndGlyphs">time[days]</text>
<rect x="420" y="27" width="254.8" height="209.3" fill="none" stroke="#3a3a3a" stroke-width="1.1"/>
<line x1="417" y1="55.2" x2="420" y2="55.2" stroke="#3a3a3a" stroke-width="0.8" />
<line x1="417" y1="111.6" x2="420" y2="111.6" stroke="#3a3a3a" stroke-width="0.8" />
<line x1="417" y1="168.1" x2="420" y2="168.1" stroke="#3a3a3a" stroke-width="0.8" />
<line x1="417" y1="224.5" x2="420" y2="224.5" stroke="#3a3a3a" stroke-width="0.8" />
<line x1="418.4" y1="27" x2="420" y2="27" stroke="#3a3a3a" stroke-width="0.7" />
<line x1="418.4" y1="83.5" x2="420" y2="83.5" stroke="#3a3a3a" stroke-width="0.7" />
<line x1="418.4" y1="140.1" x2="420" y2="140.1" stroke="#3a3a3a" stroke-width="0.7" />
<line x1="418.4" y1="196.7" x2="420" y2="196.7" stroke="#3a3a3a" stroke-width="0.7" />
<text x="415" y="58.2" font-size="8.8" text-anchor="end" textLength="21.97" lengthAdjust="spacingAndGlyphs">35.25°</text>
<text x="415" y="114.6" font-size="8.8" text-anchor="end" textLength="21.97" lengthAdjust="spacingAndGlyphs">35.24°</text>
<text x="415" y="171.1" font-size="8.8" text-anchor="end" textLength="21.97" lengthAdjust="spacingAndGlyphs">35.23°</text>
<text x="415" y="227.5" font-size="8.8" text-anchor="end" textLength="21.97" lengthAdjust="spacingAndGlyphs">35.22°</text>
<line x1="466.4" y1="236.3" x2="466.4" y2="238.9" stroke="#3a3a3a" stroke-width="0.8" />
<line x1="512.8" y1="236.3" x2="512.8" y2="238.9" stroke="#3a3a3a" stroke-width="0.8" />
<line x1="559.2" y1="236.3" x2="559.2" y2="238.9" stroke="#3a3a3a" stroke-width="0.8" />
<line x1="605.6" y1="236.3" x2="605.6" y2="238.9" stroke="#3a3a3a" stroke-width="0.8" />
<line x1="652" y1="236.3" x2="652" y2="238.9" stroke="#3a3a3a" stroke-width="0.8" />
<line x1="443.2" y1="236.3" x2="443.2" y2="237.9" stroke="#3a3a3a" stroke-width="0.7" />
<line x1="489.6" y1="236.3" x2="489.6" y2="237.9" stroke="#3a3a3a" stroke-width="0.7" />
<line x1="536" y1="236.3" x2="536" y2="237.9" stroke="#3a3a3a" stroke-width="0.7" />
<line x1="582.4" y1="236.3" x2="582.4" y2="237.9" stroke="#3a3a3a" stroke-width="0.7" />
<line x1="628.8" y1="236.3" x2="628.8" y2="237.9" stroke="#3a3a3a" stroke-width="0.7" />
<text x="420.2" y="247.1" font-size="8.8" text-anchor="middle" textLength="26.78" lengthAdjust="spacingAndGlyphs">138.96°</text>
<text x="470.55" y="247.1" font-size="8.8" text-anchor="middle" textLength="26.78" lengthAdjust="spacingAndGlyphs">138.97°</text>
<text x="520.9" y="247.1" font-size="8.8" text-anchor="middle" textLength="26.78" lengthAdjust="spacingAndGlyphs">138.98°</text>
<text x="571.25" y="247.1" font-size="8.8" text-anchor="middle" textLength="26.78" lengthAdjust="spacingAndGlyphs">138.99°</text>
<text x="621.6" y="247.1" font-size="8.8" text-anchor="middle" textLength="16.02" lengthAdjust="spacingAndGlyphs">139°</text>
<text x="671.95" y="247.1" font-size="8.8" text-anchor="middle" textLength="26.78" lengthAdjust="spacingAndGlyphs">139.01°</text>
<polyline points="602.8,211.9 602.8,207.5 653.3,207.5 653.3,211.9" fill="none" stroke="#555" stroke-width="1"/>
<text x="628.5" y="219.5" font-size="8" text-anchor="middle">1 km</text>
<defs><linearGradient id="gb" x1="0" x2="1" y1="0" y2="0"><stop offset="0.00" stop-color="#000000"/><stop offset="0.05" stop-color="#220000"/><stop offset="0.10" stop-color="#440000"/><stop offset="0.15" stop-color="#650000"/><stop offset="0.20" stop-color="#880000"/><stop offset="0.25" stop-color="#aa0000"/><stop offset="0.30" stop-color="#cb0000"/><stop offset="0.35" stop-color="#ed0000"/><stop offset="0.40" stop-color="#ff1100"/><stop offset="0.45" stop-color="#ff3300"/><stop offset="0.50" stop-color="#ff5500"/><stop offset="0.55" stop-color="#ff7700"/><stop offset="0.60" stop-color="#ff9900"/><stop offset="0.65" stop-color="#ffbb00"/><stop offset="0.70" stop-color="#ffdc00"/><stop offset="0.75" stop-color="#ffff00"/><stop offset="0.80" stop-color="#ffff33"/><stop offset="0.85" stop-color="#ffff65"/><stop offset="0.90" stop-color="#ffff99"/><stop offset="0.95" stop-color="#ffffcb"/><stop offset="1.00" stop-color="#ffffff"/></linearGradient></defs>
<polygon points="445.3,256.1 440.1,260.8 445.3,265.5" fill="#000" stroke="#000" stroke-width="1.2" stroke-linejoin="miter"/>
<polygon points="649,256.1 653.9,260.8 649,265.5" fill="#fff" stroke="#000" stroke-width="1.2" stroke-linejoin="miter"/>
<rect x="445.3" y="256.1" width="203.7" height="9.4" fill="url(#gb)" stroke="#000" stroke-width="1.2"/>
<line x1="445.3" y1="265.5" x2="445.3" y2="267.7" stroke="#777" stroke-width="0.7" />
<line x1="465.67" y1="265.5" x2="465.67" y2="266.9" stroke="#000" stroke-width="0.7" />
<line x1="486.04" y1="265.5" x2="486.04" y2="267.7" stroke="#777" stroke-width="0.7" />
<line x1="506.41" y1="265.5" x2="506.41" y2="266.9" stroke="#000" stroke-width="0.7" />
<line x1="526.78" y1="265.5" x2="526.78" y2="267.7" stroke="#777" stroke-width="0.7" />
<line x1="547.15" y1="265.5" x2="547.15" y2="266.9" stroke="#000" stroke-width="0.7" />
<line x1="567.52" y1="265.5" x2="567.52" y2="267.7" stroke="#777" stroke-width="0.7" />
<line x1="587.89" y1="265.5" x2="587.89" y2="266.9" stroke="#000" stroke-width="0.7" />
<line x1="608.26" y1="265.5" x2="608.26" y2="267.7" stroke="#777" stroke-width="0.7" />
<line x1="628.63" y1="265.5" x2="628.63" y2="266.9" stroke="#000" stroke-width="0.7" />
<line x1="649" y1="265.5" x2="649" y2="267.7" stroke="#777" stroke-width="0.7" />
<text x="444.3" y="276.4" font-size="8.4" text-anchor="middle" textLength="10.28" lengthAdjust="spacingAndGlyphs">0.0</text>
<text x="485.04" y="276.4" font-size="8.4" text-anchor="middle" textLength="10.28" lengthAdjust="spacingAndGlyphs">0.2</text>
<text x="525.78" y="276.4" font-size="8.4" text-anchor="middle" textLength="10.28" lengthAdjust="spacingAndGlyphs">0.4</text>
<text x="566.52" y="276.4" font-size="8.4" text-anchor="middle" textLength="10.28" lengthAdjust="spacingAndGlyphs">0.6</text>
<text x="607.26" y="276.4" font-size="8.4" text-anchor="middle" textLength="10.28" lengthAdjust="spacingAndGlyphs">0.8</text>
<text x="648" y="276.4" font-size="8.4" text-anchor="middle" textLength="10.28" lengthAdjust="spacingAndGlyphs">1.0</text>
<text x="548.65" y="289.3" font-size="11" text-anchor="middle" textLength="52" lengthAdjust="spacingAndGlyphs">time[days]</text>
<rect x="64.3" y="528" width="255.2" height="186.6" fill="none" stroke="#3a3a3a" stroke-width="1.1"/>
<line x1="61.3" y1="590.1" x2="64.3" y2="590.1" stroke="#3a3a3a" stroke-width="0.8" />
<line x1="61.3" y1="714.6" x2="64.3" y2="714.6" stroke="#3a3a3a" stroke-width="0.8" />
<line x1="62.7" y1="652.8" x2="64.3" y2="652.8" stroke="#3a3a3a" stroke-width="0.7" />
<text x="59.2" y="593.1" font-size="8.8" text-anchor="end" textLength="21.97" lengthAdjust="spacingAndGlyphs">35.22°</text>
<text x="59.2" y="717.6" font-size="8.8" text-anchor="end" textLength="21.97" lengthAdjust="spacingAndGlyphs">35.21°</text>
<line x1="64.3" y1="714.6" x2="64.3" y2="717.2" stroke="#3a3a3a" stroke-width="0.8" />
<line x1="166.5" y1="714.6" x2="166.5" y2="717.2" stroke="#3a3a3a" stroke-width="0.8" />
<line x1="268.7" y1="714.6" x2="268.7" y2="717.2" stroke="#3a3a3a" stroke-width="0.8" />
<line x1="115.4" y1="714.6" x2="115.4" y2="716.2" stroke="#3a3a3a" stroke-width="0.7" />
<line x1="217.6" y1="714.6" x2="217.6" y2="716.2" stroke="#3a3a3a" stroke-width="0.7" />
<text x="64.8" y="725.6" font-size="8.8" text-anchor="middle" textLength="26.78" lengthAdjust="spacingAndGlyphs">138.98°</text>
<text x="166.5" y="725.6" font-size="8.8" text-anchor="middle" textLength="26.78" lengthAdjust="spacingAndGlyphs">138.99°</text>
<text x="268.7" y="725.6" font-size="8.8" text-anchor="middle" textLength="16.02" lengthAdjust="spacingAndGlyphs">139°</text>
<polyline points="214.5,681.2 214.5,676.8 271.3,676.8 271.3,681.2" fill="none" stroke="#555" stroke-width="1"/>
<text x="242.7" y="688.6" font-size="8" text-anchor="middle">0.5 km</text>
<defs><linearGradient id="gc" x1="0" x2="1" y1="0" y2="0"><stop offset="0.00" stop-color="#000000"/><stop offset="0.05" stop-color="#220000"/><stop offset="0.10" stop-color="#440000"/><stop offset="0.15" stop-color="#650000"/><stop offset="0.20" stop-color="#880000"/><stop offset="0.25" stop-color="#aa0000"/><stop offset="0.30" stop-color="#cb0000"/><stop offset="0.35" stop-color="#ed0000"/><stop offset="0.40" stop-color="#ff1100"/><stop offset="0.45" stop-color="#ff3300"/><stop offset="0.50" stop-color="#ff5500"/><stop offset="0.55" stop-color="#ff7700"/><stop offset="0.60" stop-color="#ff9900"/><stop offset="0.65" stop-color="#ffbb00"/><stop offset="0.70" stop-color="#ffdc00"/><stop offset="0.75" stop-color="#ffff00"/><stop offset="0.80" stop-color="#ffff33"/><stop offset="0.85" stop-color="#ffff65"/><stop offset="0.90" stop-color="#ffff99"/><stop offset="0.95" stop-color="#ffffcb"/><stop offset="1.00" stop-color="#ffffff"/></linearGradient></defs>
<polygon points="90.1,734.2 84.8,738.8 90.1,743.4" fill="#000" stroke="#000" stroke-width="1.2" stroke-linejoin="miter"/>
<polygon points="292,734.2 297.4,738.8 292,743.4" fill="#fff" stroke="#000" stroke-width="1.2" stroke-linejoin="miter"/>
<rect x="90.1" y="734.2" width="201.9" height="9.2" fill="url(#gc)" stroke="#000" stroke-width="1.2"/>
<line x1="90.1" y1="743.4" x2="90.1" y2="745.6" stroke="#777" stroke-width="0.7" />
<line x1="110.29" y1="743.4" x2="110.29" y2="744.8" stroke="#000" stroke-width="0.7" />
<line x1="130.48" y1="743.4" x2="130.48" y2="745.6" stroke="#777" stroke-width="0.7" />
<line x1="150.67" y1="743.4" x2="150.67" y2="744.8" stroke="#000" stroke-width="0.7" />
<line x1="170.86" y1="743.4" x2="170.86" y2="745.6" stroke="#777" stroke-width="0.7" />
<line x1="191.05" y1="743.4" x2="191.05" y2="744.8" stroke="#000" stroke-width="0.7" />
<line x1="211.24" y1="743.4" x2="211.24" y2="745.6" stroke="#777" stroke-width="0.7" />
<line x1="231.43" y1="743.4" x2="231.43" y2="744.8" stroke="#000" stroke-width="0.7" />
<line x1="251.62" y1="743.4" x2="251.62" y2="745.6" stroke="#777" stroke-width="0.7" />
<line x1="271.81" y1="743.4" x2="271.81" y2="744.8" stroke="#000" stroke-width="0.7" />
<line x1="292" y1="743.4" x2="292" y2="745.6" stroke="#777" stroke-width="0.7" />
<text x="89.1" y="754.3" font-size="8.4" text-anchor="middle" textLength="10.28" lengthAdjust="spacingAndGlyphs">0.0</text>
<text x="129.48" y="754.3" font-size="8.4" text-anchor="middle" textLength="10.28" lengthAdjust="spacingAndGlyphs">0.2</text>
<text x="169.86" y="754.3" font-size="8.4" text-anchor="middle" textLength="10.28" lengthAdjust="spacingAndGlyphs">0.4</text>
<text x="210.24" y="754.3" font-size="8.4" text-anchor="middle" textLength="10.28" lengthAdjust="spacingAndGlyphs">0.6</text>
<text x="250.62" y="754.3" font-size="8.4" text-anchor="middle" textLength="10.28" lengthAdjust="spacingAndGlyphs">0.8</text>
<text x="291" y="754.3" font-size="8.4" text-anchor="middle" textLength="10.28" lengthAdjust="spacingAndGlyphs">1.0</text>
<text x="192.55" y="767.2" font-size="11" text-anchor="middle" textLength="52" lengthAdjust="spacingAndGlyphs">time[days]</text>
<line x1="67" y1="333.8" x2="67" y2="331" stroke="#222" stroke-width="0.9" />
<line x1="67" y1="476.2" x2="67" y2="479" stroke="#222" stroke-width="0.9" />
<line x1="70.18" y1="333.8" x2="70.18" y2="332.4" stroke="#000" stroke-width="0.9" />
<line x1="70.18" y1="476.2" x2="70.18" y2="477.6" stroke="#000" stroke-width="0.9" />
<line x1="73.36" y1="333.8" x2="73.36" y2="332.4" stroke="#000" stroke-width="0.9" />
<line x1="73.36" y1="476.2" x2="73.36" y2="477.6" stroke="#000" stroke-width="0.9" />
<line x1="76.54" y1="333.8" x2="76.54" y2="332.4" stroke="#000" stroke-width="0.9" />
<line x1="76.54" y1="476.2" x2="76.54" y2="477.6" stroke="#000" stroke-width="0.9" />
<line x1="79.72" y1="333.8" x2="79.72" y2="332.4" stroke="#000" stroke-width="0.9" />
<line x1="79.72" y1="476.2" x2="79.72" y2="477.6" stroke="#000" stroke-width="0.9" />
<line x1="82.9" y1="333.8" x2="82.9" y2="331" stroke="#222" stroke-width="0.9" />
<line x1="82.9" y1="476.2" x2="82.9" y2="479" stroke="#222" stroke-width="0.9" />
<line x1="86.08" y1="333.8" x2="86.08" y2="332.4" stroke="#000" stroke-width="0.9" />
<line x1="86.08" y1="476.2" x2="86.08" y2="477.6" stroke="#000" stroke-width="0.9" />
<line x1="89.26" y1="333.8" x2="89.26" y2="332.4" stroke="#000" stroke-width="0.9" />
<line x1="89.26" y1="476.2" x2="89.26" y2="477.6" stroke="#000" stroke-width="0.9" />
<line x1="92.44" y1="333.8" x2="92.44" y2="332.4" stroke="#000" stroke-width="0.9" />
<line x1="92.44" y1="476.2" x2="92.44" y2="477.6" stroke="#000" stroke-width="0.9" />
<line x1="95.62" y1="333.8" x2="95.62" y2="332.4" stroke="#000" stroke-width="0.9" />
<line x1="95.62" y1="476.2" x2="95.62" y2="477.6" stroke="#000" stroke-width="0.9" />
<line x1="98.8" y1="333.8" x2="98.8" y2="331" stroke="#222" stroke-width="0.9" />
<line x1="98.8" y1="476.2" x2="98.8" y2="479" stroke="#222" stroke-width="0.9" />
<line x1="101.98" y1="333.8" x2="101.98" y2="332.4" stroke="#000" stroke-width="0.9" />
<line x1="101.98" y1="476.2" x2="101.98" y2="477.6" stroke="#000" stroke-width="0.9" />
<line x1="105.16" y1="333.8" x2="105.16" y2="332.4" stroke="#000" stroke-width="0.9" />
<line x1="105.16" y1="476.2" x2="105.16" y2="477.6" stroke="#000" stroke-width="0.9" />
<line x1="108.34" y1="333.8" x2="108.34" y2="332.4" stroke="#000" stroke-width="0.9" />
<line x1="108.34" y1="476.2" x2="108.34" y2="477.6" stroke="#000" stroke-width="0.9" />
<line x1="111.52" y1="333.8" x2="111.52" y2="332.4" stroke="#000" stroke-width="0.9" />
<line x1="111.52" y1="476.2" x2="111.52" y2="477.6" stroke="#000" stroke-width="0.9" />
<line x1="114.7" y1="333.8" x2="114.7" y2="331" stroke="#222" stroke-width="0.9" />
<line x1="114.7" y1="476.2" x2="114.7" y2="479" stroke="#222" stroke-width="0.9" />
<line x1="117.88" y1="333.8" x2="117.88" y2="332.4" stroke="#000" stroke-width="0.9" />
<line x1="117.88" y1="476.2" x2="117.88" y2="477.6" stroke="#000" stroke-width="0.9" />
<line x1="121.06" y1="333.8" x2="121.06" y2="332.4" stroke="#000" stroke-width="0.9" />
<line x1="121.06" y1="476.2" x2="121.06" y2="477.6" stroke="#000" stroke-width="0.9" />
<line x1="124.24" y1="333.8" x2="124.24" y2="332.4" stroke="#000" stroke-width="0.9" />
<line x1="124.24" y1="476.2" x2="124.24" y2="477.6" stroke="#000" stroke-width="0.9" />
<line x1="127.42" y1="333.8" x2="127.42" y2="332.4" stroke="#000" stroke-width="0.9" />
<line x1="127.42" y1="476.2" x2="127.42" y2="477.6" stroke="#000" stroke-width="0.9" />
<line x1="130.6" y1="333.8" x2="130.6" y2="331" stroke="#222" stroke-width="0.9" />
<line x1="130.6" y1="476.2" x2="130.6" y2="479" stroke="#222" stroke-width="0.9" />
<line x1="133.78" y1="333.8" x2="133.78" y2="332.4" stroke="#000" stroke-width="0.9" />
<line x1="133.78" y1="476.2" x2="133.78" y2="477.6" stroke="#000" stroke-width="0.9" />
<line x1="136.96" y1="333.8" x2="136.96" y2="332.4" stroke="#000" stroke-width="0.9" />
<line x1="136.96" y1="476.2" x2="136.96" y2="477.6" stroke="#000" stroke-width="0.9" />
<line x1="140.14" y1="333.8" x2="140.14" y2="332.4" stroke="#000" stroke-width="0.9" />
<line x1="140.14" y1="476.2" x2="140.14" y2="477.6" stroke="#000" stroke-width="0.9" />
<line x1="143.32" y1="333.8" x2="143.32" y2="332.4" stroke="#000" stroke-width="0.9" />
<line x1="143.32" y1="476.2" x2="143.32" y2="477.6" stroke="#000" stroke-width="0.9" />
<line x1="146.5" y1="333.8" x2="146.5" y2="331" stroke="#222" stroke-width="0.9" />
<line x1="146.5" y1="476.2" x2="146.5" y2="479" stroke="#222" stroke-width="0.9" />
<line x1="149.68" y1="333.8" x2="149.68" y2="332.4" stroke="#000" stroke-width="0.9" />
<line x1="149.68" y1="476.2" x2="149.68" y2="477.6" stroke="#000" stroke-width="0.9" />
<line x1="152.86" y1="333.8" x2="152.86" y2="332.4" stroke="#000" stroke-width="0.9" />
<line x1="152.86" y1="476.2" x2="152.86" y2="477.6" stroke="#000" stroke-width="0.9" />
<line x1="156.04" y1="333.8" x2="156.04" y2="332.4" stroke="#000" stroke-width="0.9" />
<line x1="156.04" y1="476.2" x2="156.04" y2="477.6" stroke="#000" stroke-width="0.9" />
<line x1="159.22" y1="333.8" x2="159.22" y2="332.4" stroke="#000" stroke-width="0.9" />
<line x1="159.22" y1="476.2" x2="159.22" y2="477.6" stroke="#000" stroke-width="0.9" />
<line x1="162.4" y1="333.8" x2="162.4" y2="331" stroke="#222" stroke-width="0.9" />
<line x1="162.4" y1="476.2" x2="162.4" y2="479" stroke="#222" stroke-width="0.9" />
<line x1="165.58" y1="333.8" x2="165.58" y2="332.4" stroke="#000" stroke-width="0.9" />
<line x1="165.58" y1="476.2" x2="165.58" y2="477.6" stroke="#000" stroke-width="0.9" />
<line x1="168.76" y1="333.8" x2="168.76" y2="332.4" stroke="#000" stroke-width="0.9" />
<line x1="168.76" y1="476.2" x2="168.76" y2="477.6" stroke="#000" stroke-width="0.9" />
<line x1="171.94" y1="333.8" x2="171.94" y2="332.4" stroke="#000" stroke-width="0.9" />
<line x1="171.94" y1="476.2" x2="171.94" y2="477.6" stroke="#000" stroke-width="0.9" />
<line x1="175.12" y1="333.8" x2="175.12" y2="332.4" stroke="#000" stroke-width="0.9" />
<line x1="175.12" y1="476.2" x2="175.12" y2="477.6" stroke="#000" stroke-width="0.9" />
<line x1="178.3" y1="333.8" x2="178.3" y2="331" stroke="#222" stroke-width="0.9" />
<line x1="178.3" y1="476.2" x2="178.3" y2="479" stroke="#222" stroke-width="0.9" />
<line x1="181.48" y1="333.8" x2="181.48" y2="332.4" stroke="#000" stroke-width="0.9" />
<line x1="181.48" y1="476.2" x2="181.48" y2="477.6" stroke="#000" stroke-width="0.9" />
<line x1="184.66" y1="333.8" x2="184.66" y2="332.4" stroke="#000" stroke-width="0.9" />
<line x1="184.66" y1="476.2" x2="184.66" y2="477.6" stroke="#000" stroke-width="0.9" />
<line x1="187.84" y1="333.8" x2="187.84" y2="332.4" stroke="#000" stroke-width="0.9" />
<line x1="187.84" y1="476.2" x2="187.84" y2="477.6" stroke="#000" stroke-width="0.9" />
<line x1="191.02" y1="333.8" x2="191.02" y2="332.4" stroke="#000" stroke-width="0.9" />
<line x1="191.02" y1="476.2" x2="191.02" y2="477.6" stroke="#000" stroke-width="0.9" />
<line x1="194.2" y1="333.8" x2="194.2" y2="331" stroke="#222" stroke-width="0.9" />
<line x1="194.2" y1="476.2" x2="194.2" y2="479" stroke="#222" stroke-width="0.9" />
<line x1="67" y1="333.8" x2="64.2" y2="333.8" stroke="#222" stroke-width="0.9" />
<line x1="194.2" y1="333.8" x2="197" y2="333.8" stroke="#222" stroke-width="0.9" />
<line x1="67" y1="336.96" x2="65.6" y2="336.96" stroke="#000" stroke-width="0.9" />
<line x1="194.2" y1="336.96" x2="195.6" y2="336.96" stroke="#000" stroke-width="0.9" />
<line x1="67" y1="340.13" x2="65.6" y2="340.13" stroke="#000" stroke-width="0.9" />
<line x1="194.2" y1="340.13" x2="195.6" y2="340.13" stroke="#000" stroke-width="0.9" />
<line x1="67" y1="343.29" x2="65.6" y2="343.29" stroke="#000" stroke-width="0.9" />
<line x1="194.2" y1="343.29" x2="195.6" y2="343.29" stroke="#000" stroke-width="0.9" />
<line x1="67" y1="346.46" x2="65.6" y2="346.46" stroke="#000" stroke-width="0.9" />
<line x1="194.2" y1="346.46" x2="195.6" y2="346.46" stroke="#000" stroke-width="0.9" />
<line x1="67" y1="349.62" x2="64.2" y2="349.62" stroke="#222" stroke-width="0.9" />
<line x1="194.2" y1="349.62" x2="197" y2="349.62" stroke="#222" stroke-width="0.9" />
<line x1="67" y1="352.79" x2="65.6" y2="352.79" stroke="#000" stroke-width="0.9" />
<line x1="194.2" y1="352.79" x2="195.6" y2="352.79" stroke="#000" stroke-width="0.9" />
<line x1="67" y1="355.95" x2="65.6" y2="355.95" stroke="#000" stroke-width="0.9" />
<line x1="194.2" y1="355.95" x2="195.6" y2="355.95" stroke="#000" stroke-width="0.9" />
<line x1="67" y1="359.12" x2="65.6" y2="359.12" stroke="#000" stroke-width="0.9" />
<line x1="194.2" y1="359.12" x2="195.6" y2="359.12" stroke="#000" stroke-width="0.9" />
<line x1="67" y1="362.28" x2="65.6" y2="362.28" stroke="#000" stroke-width="0.9" />
<line x1="194.2" y1="362.28" x2="195.6" y2="362.28" stroke="#000" stroke-width="0.9" />
<line x1="67" y1="365.44" x2="64.2" y2="365.44" stroke="#222" stroke-width="0.9" />
<line x1="194.2" y1="365.44" x2="197" y2="365.44" stroke="#222" stroke-width="0.9" />
<line x1="67" y1="368.61" x2="65.6" y2="368.61" stroke="#000" stroke-width="0.9" />
<line x1="194.2" y1="368.61" x2="195.6" y2="368.61" stroke="#000" stroke-width="0.9" />
<line x1="67" y1="371.77" x2="65.6" y2="371.77" stroke="#000" stroke-width="0.9" />
<line x1="194.2" y1="371.77" x2="195.6" y2="371.77" stroke="#000" stroke-width="0.9" />
<line x1="67" y1="374.94" x2="65.6" y2="374.94" stroke="#000" stroke-width="0.9" />
<line x1="194.2" y1="374.94" x2="195.6" y2="374.94" stroke="#000" stroke-width="0.9" />
<line x1="67" y1="378.1" x2="65.6" y2="378.1" stroke="#000" stroke-width="0.9" />
<line x1="194.2" y1="378.1" x2="195.6" y2="378.1" stroke="#000" stroke-width="0.9" />
<line x1="67" y1="381.27" x2="64.2" y2="381.27" stroke="#222" stroke-width="0.9" />
<line x1="194.2" y1="381.27" x2="197" y2="381.27" stroke="#222" stroke-width="0.9" />
<line x1="67" y1="384.43" x2="65.6" y2="384.43" stroke="#000" stroke-width="0.9" />
<line x1="194.2" y1="384.43" x2="195.6" y2="384.43" stroke="#000" stroke-width="0.9" />
<line x1="67" y1="387.6" x2="65.6" y2="387.6" stroke="#000" stroke-width="0.9" />
<line x1="194.2" y1="387.6" x2="195.6" y2="387.6" stroke="#000" stroke-width="0.9" />
<line x1="67" y1="390.76" x2="65.6" y2="390.76" stroke="#000" stroke-width="0.9" />
<line x1="194.2" y1="390.76" x2="195.6" y2="390.76" stroke="#000" stroke-width="0.9" />
<line x1="67" y1="393.92" x2="65.6" y2="393.92" stroke="#000" stroke-width="0.9" />
<line x1="194.2" y1="393.92" x2="195.6" y2="393.92" stroke="#000" stroke-width="0.9" />
<line x1="67" y1="397.09" x2="64.2" y2="397.09" stroke="#222" stroke-width="0.9" />
<line x1="194.2" y1="397.09" x2="197" y2="397.09" stroke="#222" stroke-width="0.9" />
<line x1="67" y1="400.25" x2="65.6" y2="400.25" stroke="#000" stroke-width="0.9" />
<line x1="194.2" y1="400.25" x2="195.6" y2="400.25" stroke="#000" stroke-width="0.9" />
<line x1="67" y1="403.42" x2="65.6" y2="403.42" stroke="#000" stroke-width="0.9" />
<line x1="194.2" y1="403.42" x2="195.6" y2="403.42" stroke="#000" stroke-width="0.9" />
<line x1="67" y1="406.58" x2="65.6" y2="406.58" stroke="#000" stroke-width="0.9" />
<line x1="194.2" y1="406.58" x2="195.6" y2="406.58" stroke="#000" stroke-width="0.9" />
<line x1="67" y1="409.75" x2="65.6" y2="409.75" stroke="#000" stroke-width="0.9" />
<line x1="194.2" y1="409.75" x2="195.6" y2="409.75" stroke="#000" stroke-width="0.9" />
<line x1="67" y1="412.91" x2="64.2" y2="412.91" stroke="#222" stroke-width="0.9" />
<line x1="194.2" y1="412.91" x2="197" y2="412.91" stroke="#222" stroke-width="0.9" />
<line x1="67" y1="416.08" x2="65.6" y2="416.08" stroke="#000" stroke-width="0.9" />
<line x1="194.2" y1="416.08" x2="195.6" y2="416.08" stroke="#000" stroke-width="0.9" />
<line x1="67" y1="419.24" x2="65.6" y2="419.24" stroke="#000" stroke-width="0.9" />
<line x1="194.2" y1="419.24" x2="195.6" y2="419.24" stroke="#000" stroke-width="0.9" />
<line x1="67" y1="422.4" x2="65.6" y2="422.4" stroke="#000" stroke-width="0.9" />
<line x1="194.2" y1="422.4" x2="195.6" y2="422.4" stroke="#000" stroke-width="0.9" />
<line x1="67" y1="425.57" x2="65.6" y2="425.57" stroke="#000" stroke-width="0.9" />
<line x1="194.2" y1="425.57" x2="195.6" y2="425.57" stroke="#000" stroke-width="0.9" />
<line x1="67" y1="428.73" x2="64.2" y2="428.73" stroke="#222" stroke-width="0.9" />
<line x1="194.2" y1="428.73" x2="197" y2="428.73" stroke="#222" stroke-width="0.9" />
<line x1="67" y1="431.9" x2="65.6" y2="431.9" stroke="#000" stroke-width="0.9" />
<line x1="194.2" y1="431.9" x2="195.6" y2="431.9" stroke="#000" stroke-width="0.9" />
<line x1="67" y1="435.06" x2="65.6" y2="435.06" stroke="#000" stroke-width="0.9" />
<line x1="194.2" y1="435.06" x2="195.6" y2="435.06" stroke="#000" stroke-width="0.9" />
<line x1="67" y1="438.23" x2="65.6" y2="438.23" stroke="#000" stroke-width="0.9" />
<line x1="194.2" y1="438.23" x2="195.6" y2="438.23" stroke="#000" stroke-width="0.9" />
<line x1="67" y1="441.39" x2="65.6" y2="441.39" stroke="#000" stroke-width="0.9" />
<line x1="194.2" y1="441.39" x2="195.6" y2="441.39" stroke="#000" stroke-width="0.9" />
<line x1="67" y1="444.56" x2="64.2" y2="444.56" stroke="#222" stroke-width="0.9" />
<line x1="194.2" y1="444.56" x2="197" y2="444.56" stroke="#222" stroke-width="0.9" />
<line x1="67" y1="447.72" x2="65.6" y2="447.72" stroke="#000" stroke-width="0.9" />
<line x1="194.2" y1="447.72" x2="195.6" y2="447.72" stroke="#000" stroke-width="0.9" />
<line x1="67" y1="450.88" x2="65.6" y2="450.88" stroke="#000" stroke-width="0.9" />
<line x1="194.2" y1="450.88" x2="195.6" y2="450.88" stroke="#000" stroke-width="0.9" />
<line x1="67" y1="454.05" x2="65.6" y2="454.05" stroke="#000" stroke-width="0.9" />
<line x1="194.2" y1="454.05" x2="195.6" y2="454.05" stroke="#000" stroke-width="0.9" />
<line x1="67" y1="457.21" x2="65.6" y2="457.21" stroke="#000" stroke-width="0.9" />
<line x1="194.2" y1="457.21" x2="195.6" y2="457.21" stroke="#000" stroke-width="0.9" />
<line x1="67" y1="460.38" x2="64.2" y2="460.38" stroke="#222" stroke-width="0.9" />
<line x1="194.2" y1="460.38" x2="197" y2="460.38" stroke="#222" stroke-width="0.9" />
<line x1="67" y1="463.54" x2="65.6" y2="463.54" stroke="#000" stroke-width="0.9" />
<line x1="194.2" y1="463.54" x2="195.6" y2="463.54" stroke="#000" stroke-width="0.9" />
<line x1="67" y1="466.71" x2="65.6" y2="466.71" stroke="#000" stroke-width="0.9" />
<line x1="194.2" y1="466.71" x2="195.6" y2="466.71" stroke="#000" stroke-width="0.9" />
<line x1="67" y1="469.87" x2="65.6" y2="469.87" stroke="#000" stroke-width="0.9" />
<line x1="194.2" y1="469.87" x2="195.6" y2="469.87" stroke="#000" stroke-width="0.9" />
<line x1="67" y1="473.04" x2="65.6" y2="473.04" stroke="#000" stroke-width="0.9" />
<line x1="194.2" y1="473.04" x2="195.6" y2="473.04" stroke="#000" stroke-width="0.9" />
<line x1="67" y1="476.2" x2="64.2" y2="476.2" stroke="#222" stroke-width="0.9" />
<line x1="194.2" y1="476.2" x2="197" y2="476.2" stroke="#222" stroke-width="0.9" />
<rect x="67" y="333.8" width="127.2" height="142.4" fill="none" stroke="#000" stroke-width="1.7"/>
<line x1="232.6" y1="333.8" x2="232.6" y2="331" stroke="#222" stroke-width="0.9" />
<line x1="232.6" y1="476.2" x2="232.6" y2="479" stroke="#222" stroke-width="0.9" />
<line x1="235.74" y1="333.8" x2="235.74" y2="332.4" stroke="#000" stroke-width="0.9" />
<line x1="235.74" y1="476.2" x2="235.74" y2="477.6" stroke="#000" stroke-width="0.9" />
<line x1="238.88" y1="333.8" x2="238.88" y2="332.4" stroke="#000" stroke-width="0.9" />
<line x1="238.88" y1="476.2" x2="238.88" y2="477.6" stroke="#000" stroke-width="0.9" />
<line x1="242.02" y1="333.8" x2="242.02" y2="332.4" stroke="#000" stroke-width="0.9" />
<line x1="242.02" y1="476.2" x2="242.02" y2="477.6" stroke="#000" stroke-width="0.9" />
<line x1="245.16" y1="333.8" x2="245.16" y2="332.4" stroke="#000" stroke-width="0.9" />
<line x1="245.16" y1="476.2" x2="245.16" y2="477.6" stroke="#000" stroke-width="0.9" />
<line x1="248.3" y1="333.8" x2="248.3" y2="331" stroke="#222" stroke-width="0.9" />
<line x1="248.3" y1="476.2" x2="248.3" y2="479" stroke="#222" stroke-width="0.9" />
<line x1="251.44" y1="333.8" x2="251.44" y2="332.4" stroke="#000" stroke-width="0.9" />
<line x1="251.44" y1="476.2" x2="251.44" y2="477.6" stroke="#000" stroke-width="0.9" />
<line x1="254.58" y1="333.8" x2="254.58" y2="332.4" stroke="#000" stroke-width="0.9" />
<line x1="254.58" y1="476.2" x2="254.58" y2="477.6" stroke="#000" stroke-width="0.9" />
<line x1="257.72" y1="333.8" x2="257.72" y2="332.4" stroke="#000" stroke-width="0.9" />
<line x1="257.72" y1="476.2" x2="257.72" y2="477.6" stroke="#000" stroke-width="0.9" />
<line x1="260.86" y1="333.8" x2="260.86" y2="332.4" stroke="#000" stroke-width="0.9" />
<line x1="260.86" y1="476.2" x2="260.86" y2="477.6" stroke="#000" stroke-width="0.9" />
<line x1="264" y1="333.8" x2="264" y2="331" stroke="#222" stroke-width="0.9" />
<line x1="264" y1="476.2" x2="264" y2="479" stroke="#222" stroke-width="0.9" />
<line x1="232.6" y1="333.8" x2="229.8" y2="333.8" stroke="#222" stroke-width="0.9" />
<line x1="264" y1="333.8" x2="266.8" y2="333.8" stroke="#222" stroke-width="0.9" />
<line x1="232.6" y1="336.96" x2="231.2" y2="336.96" stroke="#000" stroke-width="0.9" />
<line x1="264" y1="336.96" x2="265.4" y2="336.96" stroke="#000" stroke-width="0.9" />
<line x1="232.6" y1="340.13" x2="231.2" y2="340.13" stroke="#000" stroke-width="0.9" />
<line x1="264" y1="340.13" x2="265.4" y2="340.13" stroke="#000" stroke-width="0.9" />
<line x1="232.6" y1="343.29" x2="231.2" y2="343.29" stroke="#000" stroke-width="0.9" />
<line x1="264" y1="343.29" x2="265.4" y2="343.29" stroke="#000" stroke-width="0.9" />
<line x1="232.6" y1="346.46" x2="231.2" y2="346.46" stroke="#000" stroke-width="0.9" />
<line x1="264" y1="346.46" x2="265.4" y2="346.46" stroke="#000" stroke-width="0.9" />
<line x1="232.6" y1="349.62" x2="229.8" y2="349.62" stroke="#222" stroke-width="0.9" />
<line x1="264" y1="349.62" x2="266.8" y2="349.62" stroke="#222" stroke-width="0.9" />
<line x1="232.6" y1="352.79" x2="231.2" y2="352.79" stroke="#000" stroke-width="0.9" />
<line x1="264" y1="352.79" x2="265.4" y2="352.79" stroke="#000" stroke-width="0.9" />
<line x1="232.6" y1="355.95" x2="231.2" y2="355.95" stroke="#000" stroke-width="0.9" />
<line x1="264" y1="355.95" x2="265.4" y2="355.95" stroke="#000" stroke-width="0.9" />
<line x1="232.6" y1="359.12" x2="231.2" y2="359.12" stroke="#000" stroke-width="0.9" />
<line x1="264" y1="359.12" x2="265.4" y2="359.12" stroke="#000" stroke-width="0.9" />
<line x1="232.6" y1="362.28" x2="231.2" y2="362.28" stroke="#000" stroke-width="0.9" />
<line x1="264" y1="362.28" x2="265.4" y2="362.28" stroke="#000" stroke-width="0.9" />
<line x1="232.6" y1="365.44" x2="229.8" y2="365.44" stroke="#222" stroke-width="0.9" />
<line x1="264" y1="365.44" x2="266.8" y2="365.44" stroke="#222" stroke-width="0.9" />
<line x1="232.6" y1="368.61" x2="231.2" y2="368.61" stroke="#000" stroke-width="0.9" />
<line x1="264" y1="368.61" x2="265.4" y2="368.61" stroke="#000" stroke-width="0.9" />
<line x1="232.6" y1="371.77" x2="231.2" y2="371.77" stroke="#000" stroke-width="0.9" />
<line x1="264" y1="371.77" x2="265.4" y2="371.77" stroke="#000" stroke-width="0.9" />
<line x1="232.6" y1="374.94" x2="231.2" y2="374.94" stroke="#000" stroke-width="0.9" />
<line x1="264" y1="374.94" x2="265.4" y2="374.94" stroke="#000" stroke-width="0.9" />
<line x1="232.6" y1="378.1" x2="231.2" y2="378.1" stroke="#000" stroke-width="0.9" />
<line x1="264" y1="378.1" x2="265.4" y2="378.1" stroke="#000" stroke-width="0.9" />
<line x1="232.6" y1="381.27" x2="229.8" y2="381.27" stroke="#222" stroke-width="0.9" />
<line x1="264" y1="381.27" x2="266.8" y2="381.27" stroke="#222" stroke-width="0.9" />
<line x1="232.6" y1="384.43" x2="231.2" y2="384.43" stroke="#000" stroke-width="0.9" />
<line x1="264" y1="384.43" x2="265.4" y2="384.43" stroke="#000" stroke-width="0.9" />
<line x1="232.6" y1="387.6" x2="231.2" y2="387.6" stroke="#000" stroke-width="0.9" />
<line x1="264" y1="387.6" x2="265.4" y2="387.6" stroke="#000" stroke-width="0.9" />
<line x1="232.6" y1="390.76" x2="231.2" y2="390.76" stroke="#000" stroke-width="0.9" />
<line x1="264" y1="390.76" x2="265.4" y2="390.76" stroke="#000" stroke-width="0.9" />
<line x1="232.6" y1="393.92" x2="231.2" y2="393.92" stroke="#000" stroke-width="0.9" />
<line x1="264" y1="393.92" x2="265.4" y2="393.92" stroke="#000" stroke-width="0.9" />
<line x1="232.6" y1="397.09" x2="229.8" y2="397.09" stroke="#222" stroke-width="0.9" />
<line x1="264" y1="397.09" x2="266.8" y2="397.09" stroke="#222" stroke-width="0.9" />
<line x1="232.6" y1="400.25" x2="231.2" y2="400.25" stroke="#000" stroke-width="0.9" />
<line x1="264" y1="400.25" x2="265.4" y2="400.25" stroke="#000" stroke-width="0.9" />
<line x1="232.6" y1="403.42" x2="231.2" y2="403.42" stroke="#000" stroke-width="0.9" />
<line x1="264" y1="403.42" x2="265.4" y2="403.42" stroke="#000" stroke-width="0.9" />
<line x1="232.6" y1="406.58" x2="231.2" y2="406.58" stroke="#000" stroke-width="0.9" />
<line x1="264" y1="406.58" x2="265.4" y2="406.58" stroke="#000" stroke-width="0.9" />
<line x1="232.6" y1="409.75" x2="231.2" y2="409.75" stroke="#000" stroke-width="0.9" />
<line x1="264" y1="409.75" x2="265.4" y2="409.75" stroke="#000" stroke-width="0.9" />
<line x1="232.6" y1="412.91" x2="229.8" y2="412.91" stroke="#222" stroke-width="0.9" />
<line x1="264" y1="412.91" x2="266.8" y2="412.91" stroke="#222" stroke-width="0.9" />
<line x1="232.6" y1="416.08" x2="231.2" y2="416.08" stroke="#000" stroke-width="0.9" />
<line x1="264" y1="416.08" x2="265.4" y2="416.08" stroke="#000" stroke-width="0.9" />
<line x1="232.6" y1="419.24" x2="231.2" y2="419.24" stroke="#000" stroke-width="0.9" />
<line x1="264" y1="419.24" x2="265.4" y2="419.24" stroke="#000" stroke-width="0.9" />
<line x1="232.6" y1="422.4" x2="231.2" y2="422.4" stroke="#000" stroke-width="0.9" />
<line x1="264" y1="422.4" x2="265.4" y2="422.4" stroke="#000" stroke-width="0.9" />
<line x1="232.6" y1="425.57" x2="231.2" y2="425.57" stroke="#000" stroke-width="0.9" />
<line x1="264" y1="425.57" x2="265.4" y2="425.57" stroke="#000" stroke-width="0.9" />
<line x1="232.6" y1="428.73" x2="229.8" y2="428.73" stroke="#222" stroke-width="0.9" />
<line x1="264" y1="428.73" x2="266.8" y2="428.73" stroke="#222" stroke-width="0.9" />
<line x1="232.6" y1="431.9" x2="231.2" y2="431.9" stroke="#000" stroke-width="0.9" />
<line x1="264" y1="431.9" x2="265.4" y2="431.9" stroke="#000" stroke-width="0.9" />
<line x1="232.6" y1="435.06" x2="231.2" y2="435.06" stroke="#000" stroke-width="0.9" />
<line x1="264" y1="435.06" x2="265.4" y2="435.06" stroke="#000" stroke-width="0.9" />
<line x1="232.6" y1="438.23" x2="231.2" y2="438.23" stroke="#000" stroke-width="0.9" />
<line x1="264" y1="438.23" x2="265.4" y2="438.23" stroke="#000" stroke-width="0.9" />
<line x1="232.6" y1="441.39" x2="231.2" y2="441.39" stroke="#000" stroke-width="0.9" />
<line x1="264" y1="441.39" x2="265.4" y2="441.39" stroke="#000" stroke-width="0.9" />
<line x1="232.6" y1="444.56" x2="229.8" y2="444.56" stroke="#222" stroke-width="0.9" />
<line x1="264" y1="444.56" x2="266.8" y2="444.56" stroke="#222" stroke-width="0.9" />
<line x1="232.6" y1="447.72" x2="231.2" y2="447.72" stroke="#000" stroke-width="0.9" />
<line x1="264" y1="447.72" x2="265.4" y2="447.72" stroke="#000" stroke-width="0.9" />
<line x1="232.6" y1="450.88" x2="231.2" y2="450.88" stroke="#000" stroke-width="0.9" />
<line x1="264" y1="450.88" x2="265.4" y2="450.88" stroke="#000" stroke-width="0.9" />
<line x1="232.6" y1="454.05" x2="231.2" y2="454.05" stroke="#000" stroke-width="0.9" />
<line x1="264" y1="454.05" x2="265.4" y2="454.05" stroke="#000" stroke-width="0.9" />
<line x1="232.6" y1="457.21" x2="231.2" y2="457.21" stroke="#000" stroke-width="0.9" />
<line x1="264" y1="457.21" x2="265.4" y2="457.21" stroke="#000" stroke-width="0.9" />
<line x1="232.6" y1="460.38" x2="229.8" y2="460.38" stroke="#222" stroke-width="0.9" />
<line x1="264" y1="460.38" x2="266.8" y2="460.38" stroke="#222" stroke-width="0.9" />
<line x1="232.6" y1="463.54" x2="231.2" y2="463.54" stroke="#000" stroke-width="0.9" />
<line x1="264" y1="463.54" x2="265.4" y2="463.54" stroke="#000" stroke-width="0.9" />
<line x1="232.6" y1="466.71" x2="231.2" y2="466.71" stroke="#000" stroke-width="0.9" />
<line x1="264" y1="466.71" x2="265.4" y2="466.71" stroke="#000" stroke-width="0.9" />
<line x1="232.6" y1="469.87" x2="231.2" y2="469.87" stroke="#000" stroke-width="0.9" />
<line x1="264" y1="469.87" x2="265.4" y2="469.87" stroke="#000" stroke-width="0.9" />
<line x1="232.6" y1="473.04" x2="231.2" y2="473.04" stroke="#000" stroke-width="0.9" />
<line x1="264" y1="473.04" x2="265.4" y2="473.04" stroke="#000" stroke-width="0.9" />
<line x1="232.6" y1="476.2" x2="229.8" y2="476.2" stroke="#222" stroke-width="0.9" />
<line x1="264" y1="476.2" x2="266.8" y2="476.2" stroke="#222" stroke-width="0.9" />
<rect x="232.6" y="333.8" width="31.4" height="142.4" fill="none" stroke="#000" stroke-width="1.7"/>
<line x1="420.3" y1="334.6" x2="420.3" y2="331.8" stroke="#222" stroke-width="0.9" />
<line x1="420.3" y1="477" x2="420.3" y2="479.8" stroke="#222" stroke-width="0.9" />
<line x1="423.47" y1="334.6" x2="423.47" y2="333.2" stroke="#000" stroke-width="0.9" />
<line x1="423.47" y1="477" x2="423.47" y2="478.4" stroke="#000" stroke-width="0.9" />
<line x1="426.65" y1="334.6" x2="426.65" y2="333.2" stroke="#000" stroke-width="0.9" />
<line x1="426.65" y1="477" x2="426.65" y2="478.4" stroke="#000" stroke-width="0.9" />
<line x1="429.82" y1="334.6" x2="429.82" y2="333.2" stroke="#000" stroke-width="0.9" />
<line x1="429.82" y1="477" x2="429.82" y2="478.4" stroke="#000" stroke-width="0.9" />
<line x1="432.99" y1="334.6" x2="432.99" y2="333.2" stroke="#000" stroke-width="0.9" />
<line x1="432.99" y1="477" x2="432.99" y2="478.4" stroke="#000" stroke-width="0.9" />
<line x1="436.16" y1="334.6" x2="436.16" y2="331.8" stroke="#222" stroke-width="0.9" />
<line x1="436.16" y1="477" x2="436.16" y2="479.8" stroke="#222" stroke-width="0.9" />
<line x1="439.34" y1="334.6" x2="439.34" y2="333.2" stroke="#000" stroke-width="0.9" />
<line x1="439.34" y1="477" x2="439.34" y2="478.4" stroke="#000" stroke-width="0.9" />
<line x1="442.51" y1="334.6" x2="442.51" y2="333.2" stroke="#000" stroke-width="0.9" />
<line x1="442.51" y1="477" x2="442.51" y2="478.4" stroke="#000" stroke-width="0.9" />
<line x1="445.68" y1="334.6" x2="445.68" y2="333.2" stroke="#000" stroke-width="0.9" />
<line x1="445.68" y1="477" x2="445.68" y2="478.4" stroke="#000" stroke-width="0.9" />
<line x1="448.85" y1="334.6" x2="448.85" y2="333.2" stroke="#000" stroke-width="0.9" />
<line x1="448.85" y1="477" x2="448.85" y2="478.4" stroke="#000" stroke-width="0.9" />
<line x1="452.03" y1="334.6" x2="452.03" y2="331.8" stroke="#222" stroke-width="0.9" />
<line x1="452.03" y1="477" x2="452.03" y2="479.8" stroke="#222" stroke-width="0.9" />
<line x1="455.2" y1="334.6" x2="455.2" y2="333.2" stroke="#000" stroke-width="0.9" />
<line x1="455.2" y1="477" x2="455.2" y2="478.4" stroke="#000" stroke-width="0.9" />
<line x1="458.37" y1="334.6" x2="458.37" y2="333.2" stroke="#000" stroke-width="0.9" />
<line x1="458.37" y1="477" x2="458.37" y2="478.4" stroke="#000" stroke-width="0.9" />
<line x1="461.54" y1="334.6" x2="461.54" y2="333.2" stroke="#000" stroke-width="0.9" />
<line x1="461.54" y1="477" x2="461.54" y2="478.4" stroke="#000" stroke-width="0.9" />
<line x1="464.72" y1="334.6" x2="464.72" y2="333.2" stroke="#000" stroke-width="0.9" />
<line x1="464.72" y1="477" x2="464.72" y2="478.4" stroke="#000" stroke-width="0.9" />
<line x1="467.89" y1="334.6" x2="467.89" y2="331.8" stroke="#222" stroke-width="0.9" />
<line x1="467.89" y1="477" x2="467.89" y2="479.8" stroke="#222" stroke-width="0.9" />
<line x1="471.06" y1="334.6" x2="471.06" y2="333.2" stroke="#000" stroke-width="0.9" />
<line x1="471.06" y1="477" x2="471.06" y2="478.4" stroke="#000" stroke-width="0.9" />
<line x1="474.23" y1="334.6" x2="474.23" y2="333.2" stroke="#000" stroke-width="0.9" />
<line x1="474.23" y1="477" x2="474.23" y2="478.4" stroke="#000" stroke-width="0.9" />
<line x1="477.41" y1="334.6" x2="477.41" y2="333.2" stroke="#000" stroke-width="0.9" />
<line x1="477.41" y1="477" x2="477.41" y2="478.4" stroke="#000" stroke-width="0.9" />
<line x1="480.58" y1="334.6" x2="480.58" y2="333.2" stroke="#000" stroke-width="0.9" />
<line x1="480.58" y1="477" x2="480.58" y2="478.4" stroke="#000" stroke-width="0.9" />
<line x1="483.75" y1="334.6" x2="483.75" y2="331.8" stroke="#222" stroke-width="0.9" />
<line x1="483.75" y1="477" x2="483.75" y2="479.8" stroke="#222" stroke-width="0.9" />
<line x1="486.92" y1="334.6" x2="486.92" y2="333.2" stroke="#000" stroke-width="0.9" />
<line x1="486.92" y1="477" x2="486.92" y2="478.4" stroke="#000" stroke-width="0.9" />
<line x1="490.1" y1="334.6" x2="490.1" y2="333.2" stroke="#000" stroke-width="0.9" />
<line x1="490.1" y1="477" x2="490.1" y2="478.4" stroke="#000" stroke-width="0.9" />
<line x1="493.27" y1="334.6" x2="493.27" y2="333.2" stroke="#000" stroke-width="0.9" />
<line x1="493.27" y1="477" x2="493.27" y2="478.4" stroke="#000" stroke-width="0.9" />
<line x1="496.44" y1="334.6" x2="496.44" y2="333.2" stroke="#000" stroke-width="0.9" />
<line x1="496.44" y1="477" x2="496.44" y2="478.4" stroke="#000" stroke-width="0.9" />
<line x1="499.61" y1="334.6" x2="499.61" y2="331.8" stroke="#222" stroke-width="0.9" />
<line x1="499.61" y1="477" x2="499.61" y2="479.8" stroke="#222" stroke-width="0.9" />
<line x1="502.79" y1="334.6" x2="502.79" y2="333.2" stroke="#000" stroke-width="0.9" />
<line x1="502.79" y1="477" x2="502.79" y2="478.4" stroke="#000" stroke-width="0.9" />
<line x1="505.96" y1="334.6" x2="505.96" y2="333.2" stroke="#000" stroke-width="0.9" />
<line x1="505.96" y1="477" x2="505.96" y2="478.4" stroke="#000" stroke-width="0.9" />
<line x1="509.13" y1="334.6" x2="509.13" y2="333.2" stroke="#000" stroke-width="0.9" />
<line x1="509.13" y1="477" x2="509.13" y2="478.4" stroke="#000" stroke-width="0.9" />
<line x1="512.3" y1="334.6" x2="512.3" y2="333.2" stroke="#000" stroke-width="0.9" />
<line x1="512.3" y1="477" x2="512.3" y2="478.4" stroke="#000" stroke-width="0.9" />
<line x1="515.48" y1="334.6" x2="515.48" y2="331.8" stroke="#222" stroke-width="0.9" />
<line x1="515.48" y1="477" x2="515.48" y2="479.8" stroke="#222" stroke-width="0.9" />
<line x1="518.65" y1="334.6" x2="518.65" y2="333.2" stroke="#000" stroke-width="0.9" />
<line x1="518.65" y1="477" x2="518.65" y2="478.4" stroke="#000" stroke-width="0.9" />
<line x1="521.82" y1="334.6" x2="521.82" y2="333.2" stroke="#000" stroke-width="0.9" />
<line x1="521.82" y1="477" x2="521.82" y2="478.4" stroke="#000" stroke-width="0.9" />
<line x1="524.99" y1="334.6" x2="524.99" y2="333.2" stroke="#000" stroke-width="0.9" />
<line x1="524.99" y1="477" x2="524.99" y2="478.4" stroke="#000" stroke-width="0.9" />
<line x1="528.17" y1="334.6" x2="528.17" y2="333.2" stroke="#000" stroke-width="0.9" />
<line x1="528.17" y1="477" x2="528.17" y2="478.4" stroke="#000" stroke-width="0.9" />
<line x1="531.34" y1="334.6" x2="531.34" y2="331.8" stroke="#222" stroke-width="0.9" />
<line x1="531.34" y1="477" x2="531.34" y2="479.8" stroke="#222" stroke-width="0.9" />
<line x1="534.51" y1="334.6" x2="534.51" y2="333.2" stroke="#000" stroke-width="0.9" />
<line x1="534.51" y1="477" x2="534.51" y2="478.4" stroke="#000" stroke-width="0.9" />
<line x1="537.68" y1="334.6" x2="537.68" y2="333.2" stroke="#000" stroke-width="0.9" />
<line x1="537.68" y1="477" x2="537.68" y2="478.4" stroke="#000" stroke-width="0.9" />
<line x1="540.86" y1="334.6" x2="540.86" y2="333.2" stroke="#000" stroke-width="0.9" />
<line x1="540.86" y1="477" x2="540.86" y2="478.4" stroke="#000" stroke-width="0.9" />
<line x1="544.03" y1="334.6" x2="544.03" y2="333.2" stroke="#000" stroke-width="0.9" />
<line x1="544.03" y1="477" x2="544.03" y2="478.4" stroke="#000" stroke-width="0.9" />
<line x1="547.2" y1="334.6" x2="547.2" y2="331.8" stroke="#222" stroke-width="0.9" />
<line x1="547.2" y1="477" x2="547.2" y2="479.8" stroke="#222" stroke-width="0.9" />
<line x1="420.3" y1="334.6" x2="417.5" y2="334.6" stroke="#222" stroke-width="0.9" />
<line x1="547.2" y1="334.6" x2="550" y2="334.6" stroke="#222" stroke-width="0.9" />
<line x1="420.3" y1="337.76" x2="418.9" y2="337.76" stroke="#000" stroke-width="0.9" />
<line x1="547.2" y1="337.76" x2="548.6" y2="337.76" stroke="#000" stroke-width="0.9" />
<line x1="420.3" y1="340.93" x2="418.9" y2="340.93" stroke="#000" stroke-width="0.9" />
<line x1="547.2" y1="340.93" x2="548.6" y2="340.93" stroke="#000" stroke-width="0.9" />
<line x1="420.3" y1="344.09" x2="418.9" y2="344.09" stroke="#000" stroke-width="0.9" />
<line x1="547.2" y1="344.09" x2="548.6" y2="344.09" stroke="#000" stroke-width="0.9" />
<line x1="420.3" y1="347.26" x2="418.9" y2="347.26" stroke="#000" stroke-width="0.9" />
<line x1="547.2" y1="347.26" x2="548.6" y2="347.26" stroke="#000" stroke-width="0.9" />
<line x1="420.3" y1="350.42" x2="417.5" y2="350.42" stroke="#222" stroke-width="0.9" />
<line x1="547.2" y1="350.42" x2="550" y2="350.42" stroke="#222" stroke-width="0.9" />
<line x1="420.3" y1="353.59" x2="418.9" y2="353.59" stroke="#000" stroke-width="0.9" />
<line x1="547.2" y1="353.59" x2="548.6" y2="353.59" stroke="#000" stroke-width="0.9" />
<line x1="420.3" y1="356.75" x2="418.9" y2="356.75" stroke="#000" stroke-width="0.9" />
<line x1="547.2" y1="356.75" x2="548.6" y2="356.75" stroke="#000" stroke-width="0.9" />
<line x1="420.3" y1="359.92" x2="418.9" y2="359.92" stroke="#000" stroke-width="0.9" />
<line x1="547.2" y1="359.92" x2="548.6" y2="359.92" stroke="#000" stroke-width="0.9" />
<line x1="420.3" y1="363.08" x2="418.9" y2="363.08" stroke="#000" stroke-width="0.9" />
<line x1="547.2" y1="363.08" x2="548.6" y2="363.08" stroke="#000" stroke-width="0.9" />
<line x1="420.3" y1="366.24" x2="417.5" y2="366.24" stroke="#222" stroke-width="0.9" />
<line x1="547.2" y1="366.24" x2="550" y2="366.24" stroke="#222" stroke-width="0.9" />
<line x1="420.3" y1="369.41" x2="418.9" y2="369.41" stroke="#000" stroke-width="0.9" />
<line x1="547.2" y1="369.41" x2="548.6" y2="369.41" stroke="#000" stroke-width="0.9" />
<line x1="420.3" y1="372.57" x2="418.9" y2="372.57" stroke="#000" stroke-width="0.9" />
<line x1="547.2" y1="372.57" x2="548.6" y2="372.57" stroke="#000" stroke-width="0.9" />
<line x1="420.3" y1="375.74" x2="418.9" y2="375.74" stroke="#000" stroke-width="0.9" />
<line x1="547.2" y1="375.74" x2="548.6" y2="375.74" stroke="#000" stroke-width="0.9" />
<line x1="420.3" y1="378.9" x2="418.9" y2="378.9" stroke="#000" stroke-width="0.9" />
<line x1="547.2" y1="378.9" x2="548.6" y2="378.9" stroke="#000" stroke-width="0.9" />
<line x1="420.3" y1="382.07" x2="417.5" y2="382.07" stroke="#222" stroke-width="0.9" />
<line x1="547.2" y1="382.07" x2="550" y2="382.07" stroke="#222" stroke-width="0.9" />
<line x1="420.3" y1="385.23" x2="418.9" y2="385.23" stroke="#000" stroke-width="0.9" />
<line x1="547.2" y1="385.23" x2="548.6" y2="385.23" stroke="#000" stroke-width="0.9" />
<line x1="420.3" y1="388.4" x2="418.9" y2="388.4" stroke="#000" stroke-width="0.9" />
<line x1="547.2" y1="388.4" x2="548.6" y2="388.4" stroke="#000" stroke-width="0.9" />
<line x1="420.3" y1="391.56" x2="418.9" y2="391.56" stroke="#000" stroke-width="0.9" />
<line x1="547.2" y1="391.56" x2="548.6" y2="391.56" stroke="#000" stroke-width="0.9" />
<line x1="420.3" y1="394.72" x2="418.9" y2="394.72" stroke="#000" stroke-width="0.9" />
<line x1="547.2" y1="394.72" x2="548.6" y2="394.72" stroke="#000" stroke-width="0.9" />
<line x1="420.3" y1="397.89" x2="417.5" y2="397.89" stroke="#222" stroke-width="0.9" />
<line x1="547.2" y1="397.89" x2="550" y2="397.89" stroke="#222" stroke-width="0.9" />
<line x1="420.3" y1="401.05" x2="418.9" y2="401.05" stroke="#000" stroke-width="0.9" />
<line x1="547.2" y1="401.05" x2="548.6" y2="401.05" stroke="#000" stroke-width="0.9" />
<line x1="420.3" y1="404.22" x2="418.9" y2="404.22" stroke="#000" stroke-width="0.9" />
<line x1="547.2" y1="404.22" x2="548.6" y2="404.22" stroke="#000" stroke-width="0.9" />
<line x1="420.3" y1="407.38" x2="418.9" y2="407.38" stroke="#000" stroke-width="0.9" />
<line x1="547.2" y1="407.38" x2="548.6" y2="407.38" stroke="#000" stroke-width="0.9" />
<line x1="420.3" y1="410.55" x2="418.9" y2="410.55" stroke="#000" stroke-width="0.9" />
<line x1="547.2" y1="410.55" x2="548.6" y2="410.55" stroke="#000" stroke-width="0.9" />
<line x1="420.3" y1="413.71" x2="417.5" y2="413.71" stroke="#222" stroke-width="0.9" />
<line x1="547.2" y1="413.71" x2="550" y2="413.71" stroke="#222" stroke-width="0.9" />
<line x1="420.3" y1="416.88" x2="418.9" y2="416.88" stroke="#000" stroke-width="0.9" />
<line x1="547.2" y1="416.88" x2="548.6" y2="416.88" stroke="#000" stroke-width="0.9" />
<line x1="420.3" y1="420.04" x2="418.9" y2="420.04" stroke="#000" stroke-width="0.9" />
<line x1="547.2" y1="420.04" x2="548.6" y2="420.04" stroke="#000" stroke-width="0.9" />
<line x1="420.3" y1="423.2" x2="418.9" y2="423.2" stroke="#000" stroke-width="0.9" />
<line x1="547.2" y1="423.2" x2="548.6" y2="423.2" stroke="#000" stroke-width="0.9" />
<line x1="420.3" y1="426.37" x2="418.9" y2="426.37" stroke="#000" stroke-width="0.9" />
<line x1="547.2" y1="426.37" x2="548.6" y2="426.37" stroke="#000" stroke-width="0.9" />
<line x1="420.3" y1="429.53" x2="417.5" y2="429.53" stroke="#222" stroke-width="0.9" />
<line x1="547.2" y1="429.53" x2="550" y2="429.53" stroke="#222" stroke-width="0.9" />
<line x1="420.3" y1="432.7" x2="418.9" y2="432.7" stroke="#000" stroke-width="0.9" />
<line x1="547.2" y1="432.7" x2="548.6" y2="432.7" stroke="#000" stroke-width="0.9" />
<line x1="420.3" y1="435.86" x2="418.9" y2="435.86" stroke="#000" stroke-width="0.9" />
<line x1="547.2" y1="435.86" x2="548.6" y2="435.86" stroke="#000" stroke-width="0.9" />
<line x1="420.3" y1="439.03" x2="418.9" y2="439.03" stroke="#000" stroke-width="0.9" />
<line x1="547.2" y1="439.03" x2="548.6" y2="439.03" stroke="#000" stroke-width="0.9" />
<line x1="420.3" y1="442.19" x2="418.9" y2="442.19" stroke="#000" stroke-width="0.9" />
<line x1="547.2" y1="442.19" x2="548.6" y2="442.19" stroke="#000" stroke-width="0.9" />
<line x1="420.3" y1="445.36" x2="417.5" y2="445.36" stroke="#222" stroke-width="0.9" />
<line x1="547.2" y1="445.36" x2="550" y2="445.36" stroke="#222" stroke-width="0.9" />
<line x1="420.3" y1="448.52" x2="418.9" y2="448.52" stroke="#000" stroke-width="0.9" />
<line x1="547.2" y1="448.52" x2="548.6" y2="448.52" stroke="#000" stroke-width="0.9" />
<line x1="420.3" y1="451.68" x2="418.9" y2="451.68" stroke="#000" stroke-width="0.9" />
<line x1="547.2" y1="451.68" x2="548.6" y2="451.68" stroke="#000" stroke-width="0.9" />
<line x1="420.3" y1="454.85" x2="418.9" y2="454.85" stroke="#000" stroke-width="0.9" />
<line x1="547.2" y1="454.85" x2="548.6" y2="454.85" stroke="#000" stroke-width="0.9" />
<line x1="420.3" y1="458.01" x2="418.9" y2="458.01" stroke="#000" stroke-width="0.9" />
<line x1="547.2" y1="458.01" x2="548.6" y2="458.01" stroke="#000" stroke-width="0.9" />
<line x1="420.3" y1="461.18" x2="417.5" y2="461.18" stroke="#222" stroke-width="0.9" />
<line x1="547.2" y1="461.18" x2="550" y2="461.18" stroke="#222" stroke-width="0.9" />
<line x1="420.3" y1="464.34" x2="418.9" y2="464.34" stroke="#000" stroke-width="0.9" />
<line x1="547.2" y1="464.34" x2="548.6" y2="464.34" stroke="#000" stroke-width="0.9" />
<line x1="420.3" y1="467.51" x2="418.9" y2="467.51" stroke="#000" stroke-width="0.9" />
<line x1="547.2" y1="467.51" x2="548.6" y2="467.51" stroke="#000" stroke-width="0.9" />
<line x1="420.3" y1="470.67" x2="418.9" y2="470.67" stroke="#000" stroke-width="0.9" />
<line x1="547.2" y1="470.67" x2="548.6" y2="470.67" stroke="#000" stroke-width="0.9" />
<line x1="420.3" y1="473.84" x2="418.9" y2="473.84" stroke="#000" stroke-width="0.9" />
<line x1="547.2" y1="473.84" x2="548.6" y2="473.84" stroke="#000" stroke-width="0.9" />
<line x1="420.3" y1="477" x2="417.5" y2="477" stroke="#222" stroke-width="0.9" />
<line x1="547.2" y1="477" x2="550" y2="477" stroke="#222" stroke-width="0.9" />
<rect x="420.3" y="334.6" width="126.9" height="142.4" fill="none" stroke="#000" stroke-width="1.7"/>
<line x1="586" y1="334.7" x2="586" y2="331.9" stroke="#222" stroke-width="0.9" />
<line x1="586" y1="477" x2="586" y2="479.8" stroke="#222" stroke-width="0.9" />
<line x1="589.13" y1="334.7" x2="589.13" y2="333.3" stroke="#000" stroke-width="0.9" />
<line x1="589.13" y1="477" x2="589.13" y2="478.4" stroke="#000" stroke-width="0.9" />
<line x1="592.26" y1="334.7" x2="592.26" y2="333.3" stroke="#000" stroke-width="0.9" />
<line x1="592.26" y1="477" x2="592.26" y2="478.4" stroke="#000" stroke-width="0.9" />
<line x1="595.39" y1="334.7" x2="595.39" y2="333.3" stroke="#000" stroke-width="0.9" />
<line x1="595.39" y1="477" x2="595.39" y2="478.4" stroke="#000" stroke-width="0.9" />
<line x1="598.52" y1="334.7" x2="598.52" y2="333.3" stroke="#000" stroke-width="0.9" />
<line x1="598.52" y1="477" x2="598.52" y2="478.4" stroke="#000" stroke-width="0.9" />
<line x1="601.65" y1="334.7" x2="601.65" y2="331.9" stroke="#222" stroke-width="0.9" />
<line x1="601.65" y1="477" x2="601.65" y2="479.8" stroke="#222" stroke-width="0.9" />
<line x1="604.78" y1="334.7" x2="604.78" y2="333.3" stroke="#000" stroke-width="0.9" />
<line x1="604.78" y1="477" x2="604.78" y2="478.4" stroke="#000" stroke-width="0.9" />
<line x1="607.91" y1="334.7" x2="607.91" y2="333.3" stroke="#000" stroke-width="0.9" />
<line x1="607.91" y1="477" x2="607.91" y2="478.4" stroke="#000" stroke-width="0.9" />
<line x1="611.04" y1="334.7" x2="611.04" y2="333.3" stroke="#000" stroke-width="0.9" />
<line x1="611.04" y1="477" x2="611.04" y2="478.4" stroke="#000" stroke-width="0.9" />
<line x1="614.17" y1="334.7" x2="614.17" y2="333.3" stroke="#000" stroke-width="0.9" />
<line x1="614.17" y1="477" x2="614.17" y2="478.4" stroke="#000" stroke-width="0.9" />
<line x1="617.3" y1="334.7" x2="617.3" y2="331.9" stroke="#222" stroke-width="0.9" />
<line x1="617.3" y1="477" x2="617.3" y2="479.8" stroke="#222" stroke-width="0.9" />
<line x1="586" y1="334.7" x2="583.2" y2="334.7" stroke="#222" stroke-width="0.9" />
<line x1="617.3" y1="334.7" x2="620.1" y2="334.7" stroke="#222" stroke-width="0.9" />
<line x1="586" y1="337.86" x2="584.6" y2="337.86" stroke="#000" stroke-width="0.9" />
<line x1="617.3" y1="337.86" x2="618.7" y2="337.86" stroke="#000" stroke-width="0.9" />
<line x1="586" y1="341.02" x2="584.6" y2="341.02" stroke="#000" stroke-width="0.9" />
<line x1="617.3" y1="341.02" x2="618.7" y2="341.02" stroke="#000" stroke-width="0.9" />
<line x1="586" y1="344.19" x2="584.6" y2="344.19" stroke="#000" stroke-width="0.9" />
<line x1="617.3" y1="344.19" x2="618.7" y2="344.19" stroke="#000" stroke-width="0.9" />
<line x1="586" y1="347.35" x2="584.6" y2="347.35" stroke="#000" stroke-width="0.9" />
<line x1="617.3" y1="347.35" x2="618.7" y2="347.35" stroke="#000" stroke-width="0.9" />
<line x1="586" y1="350.51" x2="583.2" y2="350.51" stroke="#222" stroke-width="0.9" />
<line x1="617.3" y1="350.51" x2="620.1" y2="350.51" stroke="#222" stroke-width="0.9" />
<line x1="586" y1="353.67" x2="584.6" y2="353.67" stroke="#000" stroke-width="0.9" />
<line x1="617.3" y1="353.67" x2="618.7" y2="353.67" stroke="#000" stroke-width="0.9" />
<line x1="586" y1="356.84" x2="584.6" y2="356.84" stroke="#000" stroke-width="0.9" />
<line x1="617.3" y1="356.84" x2="618.7" y2="356.84" stroke="#000" stroke-width="0.9" />
<line x1="586" y1="360" x2="584.6" y2="360" stroke="#000" stroke-width="0.9" />
<line x1="617.3" y1="360" x2="618.7" y2="360" stroke="#000" stroke-width="0.9" />
<line x1="586" y1="363.16" x2="584.6" y2="363.16" stroke="#000" stroke-width="0.9" />
<line x1="617.3" y1="363.16" x2="618.7" y2="363.16" stroke="#000" stroke-width="0.9" />
<line x1="586" y1="366.32" x2="583.2" y2="366.32" stroke="#222" stroke-width="0.9" />
<line x1="617.3" y1="366.32" x2="620.1" y2="366.32" stroke="#222" stroke-width="0.9" />
<line x1="586" y1="369.48" x2="584.6" y2="369.48" stroke="#000" stroke-width="0.9" />
<line x1="617.3" y1="369.48" x2="618.7" y2="369.48" stroke="#000" stroke-width="0.9" />
<line x1="586" y1="372.65" x2="584.6" y2="372.65" stroke="#000" stroke-width="0.9" />
<line x1="617.3" y1="372.65" x2="618.7" y2="372.65" stroke="#000" stroke-width="0.9" />
<line x1="586" y1="375.81" x2="584.6" y2="375.81" stroke="#000" stroke-width="0.9" />
<line x1="617.3" y1="375.81" x2="618.7" y2="375.81" stroke="#000" stroke-width="0.9" />
<line x1="586" y1="378.97" x2="584.6" y2="378.97" stroke="#000" stroke-width="0.9" />
<line x1="617.3" y1="378.97" x2="618.7" y2="378.97" stroke="#000" stroke-width="0.9" />
<line x1="586" y1="382.13" x2="583.2" y2="382.13" stroke="#222" stroke-width="0.9" />
<line x1="617.3" y1="382.13" x2="620.1" y2="382.13" stroke="#222" stroke-width="0.9" />
<line x1="586" y1="385.3" x2="584.6" y2="385.3" stroke="#000" stroke-width="0.9" />
<line x1="617.3" y1="385.3" x2="618.7" y2="385.3" stroke="#000" stroke-width="0.9" />
<line x1="586" y1="388.46" x2="584.6" y2="388.46" stroke="#000" stroke-width="0.9" />
<line x1="617.3" y1="388.46" x2="618.7" y2="388.46" stroke="#000" stroke-width="0.9" />
<line x1="586" y1="391.62" x2="584.6" y2="391.62" stroke="#000" stroke-width="0.9" />
<line x1="617.3" y1="391.62" x2="618.7" y2="391.62" stroke="#000" stroke-width="0.9" />
<line x1="586" y1="394.78" x2="584.6" y2="394.78" stroke="#000" stroke-width="0.9" />
<line x1="617.3" y1="394.78" x2="618.7" y2="394.78" stroke="#000" stroke-width="0.9" />
<line x1="586" y1="397.94" x2="583.2" y2="397.94" stroke="#222" stroke-width="0.9" />
<line x1="617.3" y1="397.94" x2="620.1" y2="397.94" stroke="#222" stroke-width="0.9" />
<line x1="586" y1="401.11" x2="584.6" y2="401.11" stroke="#000" stroke-width="0.9" />
<line x1="617.3" y1="401.11" x2="618.7" y2="401.11" stroke="#000" stroke-width="0.9" />
<line x1="586" y1="404.27" x2="584.6" y2="404.27" stroke="#000" stroke-width="0.9" />
<line x1="617.3" y1="404.27" x2="618.7" y2="404.27" stroke="#000" stroke-width="0.9" />
<line x1="586" y1="407.43" x2="584.6" y2="407.43" stroke="#000" stroke-width="0.9" />
<line x1="617.3" y1="407.43" x2="618.7" y2="407.43" stroke="#000" stroke-width="0.9" />
<line x1="586" y1="410.59" x2="584.6" y2="410.59" stroke="#000" stroke-width="0.9" />
<line x1="617.3" y1="410.59" x2="618.7" y2="410.59" stroke="#000" stroke-width="0.9" />
<line x1="586" y1="413.76" x2="583.2" y2="413.76" stroke="#222" stroke-width="0.9" />
<line x1="617.3" y1="413.76" x2="620.1" y2="413.76" stroke="#222" stroke-width="0.9" />
<line x1="586" y1="416.92" x2="584.6" y2="416.92" stroke="#000" stroke-width="0.9" />
<line x1="617.3" y1="416.92" x2="618.7" y2="416.92" stroke="#000" stroke-width="0.9" />
<line x1="586" y1="420.08" x2="584.6" y2="420.08" stroke="#000" stroke-width="0.9" />
<line x1="617.3" y1="420.08" x2="618.7" y2="420.08" stroke="#000" stroke-width="0.9" />
<line x1="586" y1="423.24" x2="584.6" y2="423.24" stroke="#000" stroke-width="0.9" />
<line x1="617.3" y1="423.24" x2="618.7" y2="423.24" stroke="#000" stroke-width="0.9" />
<line x1="586" y1="426.4" x2="584.6" y2="426.4" stroke="#000" stroke-width="0.9" />
<line x1="617.3" y1="426.4" x2="618.7" y2="426.4" stroke="#000" stroke-width="0.9" />
<line x1="586" y1="429.57" x2="583.2" y2="429.57" stroke="#222" stroke-width="0.9" />
<line x1="617.3" y1="429.57" x2="620.1" y2="429.57" stroke="#222" stroke-width="0.9" />
<line x1="586" y1="432.73" x2="584.6" y2="432.73" stroke="#000" stroke-width="0.9" />
<line x1="617.3" y1="432.73" x2="618.7" y2="432.73" stroke="#000" stroke-width="0.9" />
<line x1="586" y1="435.89" x2="584.6" y2="435.89" stroke="#000" stroke-width="0.9" />
<line x1="617.3" y1="435.89" x2="618.7" y2="435.89" stroke="#000" stroke-width="0.9" />
<line x1="586" y1="439.05" x2="584.6" y2="439.05" stroke="#000" stroke-width="0.9" />
<line x1="617.3" y1="439.05" x2="618.7" y2="439.05" stroke="#000" stroke-width="0.9" />
<line x1="586" y1="442.22" x2="584.6" y2="442.22" stroke="#000" stroke-width="0.9" />
<line x1="617.3" y1="442.22" x2="618.7" y2="442.22" stroke="#000" stroke-width="0.9" />
<line x1="586" y1="445.38" x2="583.2" y2="445.38" stroke="#222" stroke-width="0.9" />
<line x1="617.3" y1="445.38" x2="620.1" y2="445.38" stroke="#222" stroke-width="0.9" />
<line x1="586" y1="448.54" x2="584.6" y2="448.54" stroke="#000" stroke-width="0.9" />
<line x1="617.3" y1="448.54" x2="618.7" y2="448.54" stroke="#000" stroke-width="0.9" />
<line x1="586" y1="451.7" x2="584.6" y2="451.7" stroke="#000" stroke-width="0.9" />
<line x1="617.3" y1="451.7" x2="618.7" y2="451.7" stroke="#000" stroke-width="0.9" />
<line x1="586" y1="454.86" x2="584.6" y2="454.86" stroke="#000" stroke-width="0.9" />
<line x1="617.3" y1="454.86" x2="618.7" y2="454.86" stroke="#000" stroke-width="0.9" />
<line x1="586" y1="458.03" x2="584.6" y2="458.03" stroke="#000" stroke-width="0.9" />
<line x1="617.3" y1="458.03" x2="618.7" y2="458.03" stroke="#000" stroke-width="0.9" />
<line x1="586" y1="461.19" x2="583.2" y2="461.19" stroke="#222" stroke-width="0.9" />
<line x1="617.3" y1="461.19" x2="620.1" y2="461.19" stroke="#222" stroke-width="0.9" />
<line x1="586" y1="464.35" x2="584.6" y2="464.35" stroke="#000" stroke-width="0.9" />
<line x1="617.3" y1="464.35" x2="618.7" y2="464.35" stroke="#000" stroke-width="0.9" />
<line x1="586" y1="467.51" x2="584.6" y2="467.51" stroke="#000" stroke-width="0.9" />
<line x1="617.3" y1="467.51" x2="618.7" y2="467.51" stroke="#000" stroke-width="0.9" />
<line x1="586" y1="470.68" x2="584.6" y2="470.68" stroke="#000" stroke-width="0.9" />
<line x1="617.3" y1="470.68" x2="618.7" y2="470.68" stroke="#000" stroke-width="0.9" />
<line x1="586" y1="473.84" x2="584.6" y2="473.84" stroke="#000" stroke-width="0.9" />
<line x1="617.3" y1="473.84" x2="618.7" y2="473.84" stroke="#000" stroke-width="0.9" />
<line x1="586" y1="477" x2="583.2" y2="477" stroke="#222" stroke-width="0.9" />
<line x1="617.3" y1="477" x2="620.1" y2="477" stroke="#222" stroke-width="0.9" />
<rect x="586" y="334.7" width="31.3" height="142.3" fill="none" stroke="#000" stroke-width="1.7"/>
<line x1="65" y1="796.8" x2="65" y2="794" stroke="#222" stroke-width="0.9" />
<line x1="65" y1="955.4" x2="65" y2="958.2" stroke="#222" stroke-width="0.9" />
<line x1="71.36" y1="796.8" x2="71.36" y2="795.4" stroke="#000" stroke-width="0.9" />
<line x1="71.36" y1="955.4" x2="71.36" y2="956.8" stroke="#000" stroke-width="0.9" />
<line x1="77.72" y1="796.8" x2="77.72" y2="795.4" stroke="#000" stroke-width="0.9" />
<line x1="77.72" y1="955.4" x2="77.72" y2="956.8" stroke="#000" stroke-width="0.9" />
<line x1="84.08" y1="796.8" x2="84.08" y2="795.4" stroke="#000" stroke-width="0.9" />
<line x1="84.08" y1="955.4" x2="84.08" y2="956.8" stroke="#000" stroke-width="0.9" />
<line x1="90.44" y1="796.8" x2="90.44" y2="795.4" stroke="#000" stroke-width="0.9" />
<line x1="90.44" y1="955.4" x2="90.44" y2="956.8" stroke="#000" stroke-width="0.9" />
<line x1="96.8" y1="796.8" x2="96.8" y2="794" stroke="#222" stroke-width="0.9" />
<line x1="96.8" y1="955.4" x2="96.8" y2="958.2" stroke="#222" stroke-width="0.9" />
<line x1="103.16" y1="796.8" x2="103.16" y2="795.4" stroke="#000" stroke-width="0.9" />
<line x1="103.16" y1="955.4" x2="103.16" y2="956.8" stroke="#000" stroke-width="0.9" />
<line x1="109.52" y1="796.8" x2="109.52" y2="795.4" stroke="#000" stroke-width="0.9" />
<line x1="109.52" y1="955.4" x2="109.52" y2="956.8" stroke="#000" stroke-width="0.9" />
<line x1="115.88" y1="796.8" x2="115.88" y2="795.4" stroke="#000" stroke-width="0.9" />
<line x1="115.88" y1="955.4" x2="115.88" y2="956.8" stroke="#000" stroke-width="0.9" />
<line x1="122.24" y1="796.8" x2="122.24" y2="795.4" stroke="#000" stroke-width="0.9" />
<line x1="122.24" y1="955.4" x2="122.24" y2="956.8" stroke="#000" stroke-width="0.9" />
<line x1="128.6" y1="796.8" x2="128.6" y2="794" stroke="#222" stroke-width="0.9" />
<line x1="128.6" y1="955.4" x2="128.6" y2="958.2" stroke="#222" stroke-width="0.9" />
<line x1="134.96" y1="796.8" x2="134.96" y2="795.4" stroke="#000" stroke-width="0.9" />
<line x1="134.96" y1="955.4" x2="134.96" y2="956.8" stroke="#000" stroke-width="0.9" />
<line x1="141.32" y1="796.8" x2="141.32" y2="795.4" stroke="#000" stroke-width="0.9" />
<line x1="141.32" y1="955.4" x2="141.32" y2="956.8" stroke="#000" stroke-width="0.9" />
<line x1="147.68" y1="796.8" x2="147.68" y2="795.4" stroke="#000" stroke-width="0.9" />
<line x1="147.68" y1="955.4" x2="147.68" y2="956.8" stroke="#000" stroke-width="0.9" />
<line x1="154.04" y1="796.8" x2="154.04" y2="795.4" stroke="#000" stroke-width="0.9" />
<line x1="154.04" y1="955.4" x2="154.04" y2="956.8" stroke="#000" stroke-width="0.9" />
<line x1="160.4" y1="796.8" x2="160.4" y2="794" stroke="#222" stroke-width="0.9" />
<line x1="160.4" y1="955.4" x2="160.4" y2="958.2" stroke="#222" stroke-width="0.9" />
<line x1="166.76" y1="796.8" x2="166.76" y2="795.4" stroke="#000" stroke-width="0.9" />
<line x1="166.76" y1="955.4" x2="166.76" y2="956.8" stroke="#000" stroke-width="0.9" />
<line x1="173.12" y1="796.8" x2="173.12" y2="795.4" stroke="#000" stroke-width="0.9" />
<line x1="173.12" y1="955.4" x2="173.12" y2="956.8" stroke="#000" stroke-width="0.9" />
<line x1="179.48" y1="796.8" x2="179.48" y2="795.4" stroke="#000" stroke-width="0.9" />
<line x1="179.48" y1="955.4" x2="179.48" y2="956.8" stroke="#000" stroke-width="0.9" />
<line x1="185.84" y1="796.8" x2="185.84" y2="795.4" stroke="#000" stroke-width="0.9" />
<line x1="185.84" y1="955.4" x2="185.84" y2="956.8" stroke="#000" stroke-width="0.9" />
<line x1="192.2" y1="796.8" x2="192.2" y2="794" stroke="#222" stroke-width="0.9" />
<line x1="192.2" y1="955.4" x2="192.2" y2="958.2" stroke="#222" stroke-width="0.9" />
<line x1="65" y1="796.8" x2="62.2" y2="796.8" stroke="#222" stroke-width="0.9" />
<line x1="192.2" y1="796.8" x2="195" y2="796.8" stroke="#222" stroke-width="0.9" />
<line x1="65" y1="803.14" x2="63.6" y2="803.14" stroke="#000" stroke-width="0.9" />
<line x1="192.2" y1="803.14" x2="193.6" y2="803.14" stroke="#000" stroke-width="0.9" />
<line x1="65" y1="809.49" x2="63.6" y2="809.49" stroke="#000" stroke-width="0.9" />
<line x1="192.2" y1="809.49" x2="193.6" y2="809.49" stroke="#000" stroke-width="0.9" />
<line x1="65" y1="815.83" x2="63.6" y2="815.83" stroke="#000" stroke-width="0.9" />
<line x1="192.2" y1="815.83" x2="193.6" y2="815.83" stroke="#000" stroke-width="0.9" />
<line x1="65" y1="822.18" x2="63.6" y2="822.18" stroke="#000" stroke-width="0.9" />
<line x1="192.2" y1="822.18" x2="193.6" y2="822.18" stroke="#000" stroke-width="0.9" />
<line x1="65" y1="828.52" x2="62.2" y2="828.52" stroke="#222" stroke-width="0.9" />
<line x1="192.2" y1="828.52" x2="195" y2="828.52" stroke="#222" stroke-width="0.9" />
<line x1="65" y1="834.86" x2="63.6" y2="834.86" stroke="#000" stroke-width="0.9" />
<line x1="192.2" y1="834.86" x2="193.6" y2="834.86" stroke="#000" stroke-width="0.9" />
<line x1="65" y1="841.21" x2="63.6" y2="841.21" stroke="#000" stroke-width="0.9" />
<line x1="192.2" y1="841.21" x2="193.6" y2="841.21" stroke="#000" stroke-width="0.9" />
<line x1="65" y1="847.55" x2="63.6" y2="847.55" stroke="#000" stroke-width="0.9" />
<line x1="192.2" y1="847.55" x2="193.6" y2="847.55" stroke="#000" stroke-width="0.9" />
<line x1="65" y1="853.9" x2="63.6" y2="853.9" stroke="#000" stroke-width="0.9" />
<line x1="192.2" y1="853.9" x2="193.6" y2="853.9" stroke="#000" stroke-width="0.9" />
<line x1="65" y1="860.24" x2="62.2" y2="860.24" stroke="#222" stroke-width="0.9" />
<line x1="192.2" y1="860.24" x2="195" y2="860.24" stroke="#222" stroke-width="0.9" />
<line x1="65" y1="866.58" x2="63.6" y2="866.58" stroke="#000" stroke-width="0.9" />
<line x1="192.2" y1="866.58" x2="193.6" y2="866.58" stroke="#000" stroke-width="0.9" />
<line x1="65" y1="872.93" x2="63.6" y2="872.93" stroke="#000" stroke-width="0.9" />
<line x1="192.2" y1="872.93" x2="193.6" y2="872.93" stroke="#000" stroke-width="0.9" />
<line x1="65" y1="879.27" x2="63.6" y2="879.27" stroke="#000" stroke-width="0.9" />
<line x1="192.2" y1="879.27" x2="193.6" y2="879.27" stroke="#000" stroke-width="0.9" />
<line x1="65" y1="885.62" x2="63.6" y2="885.62" stroke="#000" stroke-width="0.9" />
<line x1="192.2" y1="885.62" x2="193.6" y2="885.62" stroke="#000" stroke-width="0.9" />
<line x1="65" y1="891.96" x2="62.2" y2="891.96" stroke="#222" stroke-width="0.9" />
<line x1="192.2" y1="891.96" x2="195" y2="891.96" stroke="#222" stroke-width="0.9" />
<line x1="65" y1="898.3" x2="63.6" y2="898.3" stroke="#000" stroke-width="0.9" />
<line x1="192.2" y1="898.3" x2="193.6" y2="898.3" stroke="#000" stroke-width="0.9" />
<line x1="65" y1="904.65" x2="63.6" y2="904.65" stroke="#000" stroke-width="0.9" />
<line x1="192.2" y1="904.65" x2="193.6" y2="904.65" stroke="#000" stroke-width="0.9" />
<line x1="65" y1="910.99" x2="63.6" y2="910.99" stroke="#000" stroke-width="0.9" />
<line x1="192.2" y1="910.99" x2="193.6" y2="910.99" stroke="#000" stroke-width="0.9" />
<line x1="65" y1="917.34" x2="63.6" y2="917.34" stroke="#000" stroke-width="0.9" />
<line x1="192.2" y1="917.34" x2="193.6" y2="917.34" stroke="#000" stroke-width="0.9" />
<line x1="65" y1="923.68" x2="62.2" y2="923.68" stroke="#222" stroke-width="0.9" />
<line x1="192.2" y1="923.68" x2="195" y2="923.68" stroke="#222" stroke-width="0.9" />
<line x1="65" y1="930.02" x2="63.6" y2="930.02" stroke="#000" stroke-width="0.9" />
<line x1="192.2" y1="930.02" x2="193.6" y2="930.02" stroke="#000" stroke-width="0.9" />
<line x1="65" y1="936.37" x2="63.6" y2="936.37" stroke="#000" stroke-width="0.9" />
<line x1="192.2" y1="936.37" x2="193.6" y2="936.37" stroke="#000" stroke-width="0.9" />
<line x1="65" y1="942.71" x2="63.6" y2="942.71" stroke="#000" stroke-width="0.9" />
<line x1="192.2" y1="942.71" x2="193.6" y2="942.71" stroke="#000" stroke-width="0.9" />
<line x1="65" y1="949.06" x2="63.6" y2="949.06" stroke="#000" stroke-width="0.9" />
<line x1="192.2" y1="949.06" x2="193.6" y2="949.06" stroke="#000" stroke-width="0.9" />
<line x1="65" y1="955.4" x2="62.2" y2="955.4" stroke="#222" stroke-width="0.9" />
<line x1="192.2" y1="955.4" x2="195" y2="955.4" stroke="#222" stroke-width="0.9" />
<rect x="65" y="796.8" width="127.2" height="158.6" fill="none" stroke="#000" stroke-width="1.7"/>
<line x1="230.6" y1="796.7" x2="230.6" y2="793.9" stroke="#222" stroke-width="0.9" />
<line x1="230.6" y1="955.4" x2="230.6" y2="958.2" stroke="#222" stroke-width="0.9" />
<line x1="236.86" y1="796.7" x2="236.86" y2="795.3" stroke="#000" stroke-width="0.9" />
<line x1="236.86" y1="955.4" x2="236.86" y2="956.8" stroke="#000" stroke-width="0.9" />
<line x1="243.12" y1="796.7" x2="243.12" y2="795.3" stroke="#000" stroke-width="0.9" />
<line x1="243.12" y1="955.4" x2="243.12" y2="956.8" stroke="#000" stroke-width="0.9" />
<line x1="249.38" y1="796.7" x2="249.38" y2="795.3" stroke="#000" stroke-width="0.9" />
<line x1="249.38" y1="955.4" x2="249.38" y2="956.8" stroke="#000" stroke-width="0.9" />
<line x1="255.64" y1="796.7" x2="255.64" y2="795.3" stroke="#000" stroke-width="0.9" />
<line x1="255.64" y1="955.4" x2="255.64" y2="956.8" stroke="#000" stroke-width="0.9" />
<line x1="261.9" y1="796.7" x2="261.9" y2="793.9" stroke="#222" stroke-width="0.9" />
<line x1="261.9" y1="955.4" x2="261.9" y2="958.2" stroke="#222" stroke-width="0.9" />
<line x1="268.16" y1="796.7" x2="268.16" y2="795.3" stroke="#000" stroke-width="0.9" />
<line x1="268.16" y1="955.4" x2="268.16" y2="956.8" stroke="#000" stroke-width="0.9" />
<line x1="274.42" y1="796.7" x2="274.42" y2="795.3" stroke="#000" stroke-width="0.9" />
<line x1="274.42" y1="955.4" x2="274.42" y2="956.8" stroke="#000" stroke-width="0.9" />
<line x1="280.68" y1="796.7" x2="280.68" y2="795.3" stroke="#000" stroke-width="0.9" />
<line x1="280.68" y1="955.4" x2="280.68" y2="956.8" stroke="#000" stroke-width="0.9" />
<line x1="286.94" y1="796.7" x2="286.94" y2="795.3" stroke="#000" stroke-width="0.9" />
<line x1="286.94" y1="955.4" x2="286.94" y2="956.8" stroke="#000" stroke-width="0.9" />
<line x1="293.2" y1="796.7" x2="293.2" y2="793.9" stroke="#222" stroke-width="0.9" />
<line x1="293.2" y1="955.4" x2="293.2" y2="958.2" stroke="#222" stroke-width="0.9" />
<line x1="230.6" y1="796.7" x2="227.8" y2="796.7" stroke="#222" stroke-width="0.9" />
<line x1="293.2" y1="796.7" x2="296" y2="796.7" stroke="#222" stroke-width="0.9" />
<line x1="230.6" y1="803.05" x2="229.2" y2="803.05" stroke="#000" stroke-width="0.9" />
<line x1="293.2" y1="803.05" x2="294.6" y2="803.05" stroke="#000" stroke-width="0.9" />
<line x1="230.6" y1="809.4" x2="229.2" y2="809.4" stroke="#000" stroke-width="0.9" />
<line x1="293.2" y1="809.4" x2="294.6" y2="809.4" stroke="#000" stroke-width="0.9" />
<line x1="230.6" y1="815.74" x2="229.2" y2="815.74" stroke="#000" stroke-width="0.9" />
<line x1="293.2" y1="815.74" x2="294.6" y2="815.74" stroke="#000" stroke-width="0.9" />
<line x1="230.6" y1="822.09" x2="229.2" y2="822.09" stroke="#000" stroke-width="0.9" />
<line x1="293.2" y1="822.09" x2="294.6" y2="822.09" stroke="#000" stroke-width="0.9" />
<line x1="230.6" y1="828.44" x2="227.8" y2="828.44" stroke="#222" stroke-width="0.9" />
<line x1="293.2" y1="828.44" x2="296" y2="828.44" stroke="#222" stroke-width="0.9" />
<line x1="230.6" y1="834.79" x2="229.2" y2="834.79" stroke="#000" stroke-width="0.9" />
<line x1="293.2" y1="834.79" x2="294.6" y2="834.79" stroke="#000" stroke-width="0.9" />
<line x1="230.6" y1="841.14" x2="229.2" y2="841.14" stroke="#000" stroke-width="0.9" />
<line x1="293.2" y1="841.14" x2="294.6" y2="841.14" stroke="#000" stroke-width="0.9" />
<line x1="230.6" y1="847.48" x2="229.2" y2="847.48" stroke="#000" stroke-width="0.9" />
<line x1="293.2" y1="847.48" x2="294.6" y2="847.48" stroke="#000" stroke-width="0.9" />
<line x1="230.6" y1="853.83" x2="229.2" y2="853.83" stroke="#000" stroke-width="0.9" />
<line x1="293.2" y1="853.83" x2="294.6" y2="853.83" stroke="#000" stroke-width="0.9" />
<line x1="230.6" y1="860.18" x2="227.8" y2="860.18" stroke="#222" stroke-width="0.9" />
<line x1="293.2" y1="860.18" x2="296" y2="860.18" stroke="#222" stroke-width="0.9" />
<line x1="230.6" y1="866.53" x2="229.2" y2="866.53" stroke="#000" stroke-width="0.9" />
<line x1="293.2" y1="866.53" x2="294.6" y2="866.53" stroke="#000" stroke-width="0.9" />
<line x1="230.6" y1="872.88" x2="229.2" y2="872.88" stroke="#000" stroke-width="0.9" />
<line x1="293.2" y1="872.88" x2="294.6" y2="872.88" stroke="#000" stroke-width="0.9" />
<line x1="230.6" y1="879.22" x2="229.2" y2="879.22" stroke="#000" stroke-width="0.9" />
<line x1="293.2" y1="879.22" x2="294.6" y2="879.22" stroke="#000" stroke-width="0.9" />
<line x1="230.6" y1="885.57" x2="229.2" y2="885.57" stroke="#000" stroke-width="0.9" />
<line x1="293.2" y1="885.57" x2="294.6" y2="885.57" stroke="#000" stroke-width="0.9" />
<line x1="230.6" y1="891.92" x2="227.8" y2="891.92" stroke="#222" stroke-width="0.9" />
<line x1="293.2" y1="891.92" x2="296" y2="891.92" stroke="#222" stroke-width="0.9" />
<line x1="230.6" y1="898.27" x2="229.2" y2="898.27" stroke="#000" stroke-width="0.9" />
<line x1="293.2" y1="898.27" x2="294.6" y2="898.27" stroke="#000" stroke-width="0.9" />
<line x1="230.6" y1="904.62" x2="229.2" y2="904.62" stroke="#000" stroke-width="0.9" />
<line x1="293.2" y1="904.62" x2="294.6" y2="904.62" stroke="#000" stroke-width="0.9" />
<line x1="230.6" y1="910.96" x2="229.2" y2="910.96" stroke="#000" stroke-width="0.9" />
<line x1="293.2" y1="910.96" x2="294.6" y2="910.96" stroke="#000" stroke-width="0.9" />
<line x1="230.6" y1="917.31" x2="229.2" y2="917.31" stroke="#000" stroke-width="0.9" />
<line x1="293.2" y1="917.31" x2="294.6" y2="917.31" stroke="#000" stroke-width="0.9" />
<line x1="230.6" y1="923.66" x2="227.8" y2="923.66" stroke="#222" stroke-width="0.9" />
<line x1="293.2" y1="923.66" x2="296" y2="923.66" stroke="#222" stroke-width="0.9" />
<line x1="230.6" y1="930.01" x2="229.2" y2="930.01" stroke="#000" stroke-width="0.9" />
<line x1="293.2" y1="930.01" x2="294.6" y2="930.01" stroke="#000" stroke-width="0.9" />
<line x1="230.6" y1="936.36" x2="229.2" y2="936.36" stroke="#000" stroke-width="0.9" />
<line x1="293.2" y1="936.36" x2="294.6" y2="936.36" stroke="#000" stroke-width="0.9" />
<line x1="230.6" y1="942.7" x2="229.2" y2="942.7" stroke="#000" stroke-width="0.9" />
<line x1="293.2" y1="942.7" x2="294.6" y2="942.7" stroke="#000" stroke-width="0.9" />
<line x1="230.6" y1="949.05" x2="229.2" y2="949.05" stroke="#000" stroke-width="0.9" />
<line x1="293.2" y1="949.05" x2="294.6" y2="949.05" stroke="#000" stroke-width="0.9" />
<line x1="230.6" y1="955.4" x2="227.8" y2="955.4" stroke="#222" stroke-width="0.9" />
<line x1="293.2" y1="955.4" x2="296" y2="955.4" stroke="#222" stroke-width="0.9" />
<rect x="230.6" y="796.7" width="62.6" height="158.7" fill="none" stroke="#000" stroke-width="1.7"/>
<text x="63.1" y="336.65" font-size="7.9" text-anchor="end" textLength="13.26" lengthAdjust="spacingAndGlyphs">−0.5</text>
<text x="60.7" y="352.47" font-size="7.9" text-anchor="end" textLength="9.33" lengthAdjust="spacingAndGlyphs">0.0</text>
<text x="60.7" y="368.29" font-size="7.9" text-anchor="end" textLength="9.33" lengthAdjust="spacingAndGlyphs">0.5</text>
<text x="60.7" y="384.12" font-size="7.9" text-anchor="end" textLength="9.33" lengthAdjust="spacingAndGlyphs">1.0</text>
<text x="60.7" y="399.94" font-size="7.9" text-anchor="end" textLength="9.33" lengthAdjust="spacingAndGlyphs">1.5</text>
<text x="60.7" y="415.76" font-size="7.9" text-anchor="end" textLength="9.33" lengthAdjust="spacingAndGlyphs">2.0</text>
<text x="60.7" y="431.58" font-size="7.9" text-anchor="end" textLength="9.33" lengthAdjust="spacingAndGlyphs">2.5</text>
<text x="60.7" y="447.41" font-size="7.9" text-anchor="end" textLength="9.33" lengthAdjust="spacingAndGlyphs">3.0</text>
<text x="60.7" y="463.23" font-size="7.9" text-anchor="end" textLength="9.33" lengthAdjust="spacingAndGlyphs">3.5</text>
<text x="60.7" y="479.05" font-size="7.9" text-anchor="end" textLength="9.33" lengthAdjust="spacingAndGlyphs">4.0</text>
<text x="67" y="487.3" font-size="7.9" text-anchor="middle" textLength="9.33" lengthAdjust="spacingAndGlyphs">0.0</text>
<text x="82.9" y="487.3" font-size="7.9" text-anchor="middle" textLength="9.33" lengthAdjust="spacingAndGlyphs">0.5</text>
<text x="98.8" y="487.3" font-size="7.9" text-anchor="middle" textLength="9.33" lengthAdjust="spacingAndGlyphs">1.0</text>
<text x="114.7" y="487.3" font-size="7.9" text-anchor="middle" textLength="9.33" lengthAdjust="spacingAndGlyphs">1.5</text>
<text x="130.6" y="487.3" font-size="7.9" text-anchor="middle" textLength="9.33" lengthAdjust="spacingAndGlyphs">2.0</text>
<text x="146.5" y="487.3" font-size="7.9" text-anchor="middle" textLength="9.33" lengthAdjust="spacingAndGlyphs">2.5</text>
<text x="162.4" y="487.3" font-size="7.9" text-anchor="middle" textLength="9.33" lengthAdjust="spacingAndGlyphs">3.0</text>
<text x="178.3" y="487.3" font-size="7.9" text-anchor="middle" textLength="9.33" lengthAdjust="spacingAndGlyphs">3.5</text>
<text x="194.2" y="487.3" font-size="7.9" text-anchor="middle" textLength="9.33" lengthAdjust="spacingAndGlyphs">4.0</text>
<text x="228.7" y="336.65" font-size="7.9" text-anchor="end" textLength="13.26" lengthAdjust="spacingAndGlyphs">−0.5</text>
<text x="226.3" y="352.47" font-size="7.9" text-anchor="end" textLength="9.33" lengthAdjust="spacingAndGlyphs">0.0</text>
<text x="226.3" y="368.29" font-size="7.9" text-anchor="end" textLength="9.33" lengthAdjust="spacingAndGlyphs">0.5</text>
<text x="226.3" y="384.12" font-size="7.9" text-anchor="end" textLength="9.33" lengthAdjust="spacingAndGlyphs">1.0</text>
<text x="226.3" y="399.94" font-size="7.9" text-anchor="end" textLength="9.33" lengthAdjust="spacingAndGlyphs">1.5</text>
<text x="226.3" y="415.76" font-size="7.9" text-anchor="end" textLength="9.33" lengthAdjust="spacingAndGlyphs">2.0</text>
<text x="226.3" y="431.58" font-size="7.9" text-anchor="end" textLength="9.33" lengthAdjust="spacingAndGlyphs">2.5</text>
<text x="226.3" y="447.41" font-size="7.9" text-anchor="end" textLength="9.33" lengthAdjust="spacingAndGlyphs">3.0</text>
<text x="226.3" y="463.23" font-size="7.9" text-anchor="end" textLength="9.33" lengthAdjust="spacingAndGlyphs">3.5</text>
<text x="226.3" y="479.05" font-size="7.9" text-anchor="end" textLength="9.33" lengthAdjust="spacingAndGlyphs">4.0</text>
<text x="233.4" y="487.3" font-size="7.9" text-anchor="middle" textLength="13.26" lengthAdjust="spacingAndGlyphs">−0.5</text>
<text x="248.3" y="487.3" font-size="7.9" text-anchor="middle" textLength="9.33" lengthAdjust="spacingAndGlyphs">0.0</text>
<text x="264" y="487.3" font-size="7.9" text-anchor="middle" textLength="9.33" lengthAdjust="spacingAndGlyphs">0.5</text>
<text x="416.4" y="337.45" font-size="7.9" text-anchor="end" textLength="13.26" lengthAdjust="spacingAndGlyphs">−0.5</text>
<text x="414" y="353.27" font-size="7.9" text-anchor="end" textLength="9.33" lengthAdjust="spacingAndGlyphs">0.0</text>
<text x="414" y="369.09" font-size="7.9" text-anchor="end" textLength="9.33" lengthAdjust="spacingAndGlyphs">0.5</text>
<text x="414" y="384.92" font-size="7.9" text-anchor="end" textLength="9.33" lengthAdjust="spacingAndGlyphs">1.0</text>
<text x="414" y="400.74" font-size="7.9" text-anchor="end" textLength="9.33" lengthAdjust="spacingAndGlyphs">1.5</text>
<text x="414" y="416.56" font-size="7.9" text-anchor="end" textLength="9.33" lengthAdjust="spacingAndGlyphs">2.0</text>
<text x="414" y="432.38" font-size="7.9" text-anchor="end" textLength="9.33" lengthAdjust="spacingAndGlyphs">2.5</text>
<text x="414" y="448.21" font-size="7.9" text-anchor="end" textLength="9.33" lengthAdjust="spacingAndGlyphs">3.0</text>
<text x="414" y="464.03" font-size="7.9" text-anchor="end" textLength="9.33" lengthAdjust="spacingAndGlyphs">3.5</text>
<text x="414" y="479.85" font-size="7.9" text-anchor="end" textLength="9.33" lengthAdjust="spacingAndGlyphs">4.0</text>
<text x="420.3" y="488.1" font-size="7.9" text-anchor="middle" textLength="9.33" lengthAdjust="spacingAndGlyphs">0.0</text>
<text x="436.16" y="488.1" font-size="7.9" text-anchor="middle" textLength="9.33" lengthAdjust="spacingAndGlyphs">0.5</text>
<text x="452.03" y="488.1" font-size="7.9" text-anchor="middle" textLength="9.33" lengthAdjust="spacingAndGlyphs">1.0</text>
<text x="467.89" y="488.1" font-size="7.9" text-anchor="middle" textLength="9.33" lengthAdjust="spacingAndGlyphs">1.5</text>
<text x="483.75" y="488.1" font-size="7.9" text-anchor="middle" textLength="9.33" lengthAdjust="spacingAndGlyphs">2.0</text>
<text x="499.61" y="488.1" font-size="7.9" text-anchor="middle" textLength="9.33" lengthAdjust="spacingAndGlyphs">2.5</text>
<text x="515.48" y="488.1" font-size="7.9" text-anchor="middle" textLength="9.33" lengthAdjust="spacingAndGlyphs">3.0</text>
<text x="531.34" y="488.1" font-size="7.9" text-anchor="middle" textLength="9.33" lengthAdjust="spacingAndGlyphs">3.5</text>
<text x="547.2" y="488.1" font-size="7.9" text-anchor="middle" textLength="9.33" lengthAdjust="spacingAndGlyphs">4.0</text>
<text x="582.1" y="337.55" font-size="7.9" text-anchor="end" textLength="13.26" lengthAdjust="spacingAndGlyphs">−0.5</text>
<text x="579.7" y="353.36" font-size="7.9" text-anchor="end" textLength="9.33" lengthAdjust="spacingAndGlyphs">0.0</text>
<text x="579.7" y="369.17" font-size="7.9" text-anchor="end" textLength="9.33" lengthAdjust="spacingAndGlyphs">0.5</text>
<text x="579.7" y="384.98" font-size="7.9" text-anchor="end" textLength="9.33" lengthAdjust="spacingAndGlyphs">1.0</text>
<text x="579.7" y="400.79" font-size="7.9" text-anchor="end" textLength="9.33" lengthAdjust="spacingAndGlyphs">1.5</text>
<text x="579.7" y="416.61" font-size="7.9" text-anchor="end" textLength="9.33" lengthAdjust="spacingAndGlyphs">2.0</text>
<text x="579.7" y="432.42" font-size="7.9" text-anchor="end" textLength="9.33" lengthAdjust="spacingAndGlyphs">2.5</text>
<text x="579.7" y="448.23" font-size="7.9" text-anchor="end" textLength="9.33" lengthAdjust="spacingAndGlyphs">3.0</text>
<text x="579.7" y="464.04" font-size="7.9" text-anchor="end" textLength="9.33" lengthAdjust="spacingAndGlyphs">3.5</text>
<text x="579.7" y="479.85" font-size="7.9" text-anchor="end" textLength="9.33" lengthAdjust="spacingAndGlyphs">4.0</text>
<text x="586.8" y="488.1" font-size="7.9" text-anchor="middle" textLength="13.26" lengthAdjust="spacingAndGlyphs">−0.5</text>
<text x="601.65" y="488.1" font-size="7.9" text-anchor="middle" textLength="9.33" lengthAdjust="spacingAndGlyphs">0.0</text>
<text x="617.3" y="488.1" font-size="7.9" text-anchor="middle" textLength="9.33" lengthAdjust="spacingAndGlyphs">0.5</text>
<text x="58.7" y="799.65" font-size="7.9" text-anchor="end" textLength="9.33" lengthAdjust="spacingAndGlyphs">0.5</text>
<text x="58.7" y="831.37" font-size="7.9" text-anchor="end" textLength="9.33" lengthAdjust="spacingAndGlyphs">1.0</text>
<text x="58.7" y="863.09" font-size="7.9" text-anchor="end" textLength="9.33" lengthAdjust="spacingAndGlyphs">1.5</text>
<text x="58.7" y="894.81" font-size="7.9" text-anchor="end" textLength="9.33" lengthAdjust="spacingAndGlyphs">2.0</text>
<text x="58.7" y="926.53" font-size="7.9" text-anchor="end" textLength="9.33" lengthAdjust="spacingAndGlyphs">2.5</text>
<text x="58.7" y="958.25" font-size="7.9" text-anchor="end" textLength="9.33" lengthAdjust="spacingAndGlyphs">3.0</text>
<text x="65" y="966.5" font-size="7.9" text-anchor="middle" textLength="9.33" lengthAdjust="spacingAndGlyphs">0.0</text>
<text x="96.8" y="966.5" font-size="7.9" text-anchor="middle" textLength="9.33" lengthAdjust="spacingAndGlyphs">0.5</text>
<text x="128.6" y="966.5" font-size="7.9" text-anchor="middle" textLength="9.33" lengthAdjust="spacingAndGlyphs">1.0</text>
<text x="160.4" y="966.5" font-size="7.9" text-anchor="middle" textLength="9.33" lengthAdjust="spacingAndGlyphs">1.5</text>
<text x="192.2" y="966.5" font-size="7.9" text-anchor="middle" textLength="9.33" lengthAdjust="spacingAndGlyphs">2.0</text>
<text x="224.3" y="799.55" font-size="7.9" text-anchor="end" textLength="9.33" lengthAdjust="spacingAndGlyphs">0.5</text>
<text x="224.3" y="831.29" font-size="7.9" text-anchor="end" textLength="9.33" lengthAdjust="spacingAndGlyphs">1.0</text>
<text x="224.3" y="863.03" font-size="7.9" text-anchor="end" textLength="9.33" lengthAdjust="spacingAndGlyphs">1.5</text>
<text x="224.3" y="894.77" font-size="7.9" text-anchor="end" textLength="9.33" lengthAdjust="spacingAndGlyphs">2.0</text>
<text x="224.3" y="926.51" font-size="7.9" text-anchor="end" textLength="9.33" lengthAdjust="spacingAndGlyphs">2.5</text>
<text x="224.3" y="958.25" font-size="7.9" text-anchor="end" textLength="9.33" lengthAdjust="spacingAndGlyphs">3.0</text>
<text x="231.4" y="966.5" font-size="7.9" text-anchor="middle" textLength="13.26" lengthAdjust="spacingAndGlyphs">−0.5</text>
<text x="261.9" y="966.5" font-size="7.9" text-anchor="middle" textLength="9.33" lengthAdjust="spacingAndGlyphs">0.0</text>
<text x="293.2" y="966.5" font-size="7.9" text-anchor="middle" textLength="9.33" lengthAdjust="spacingAndGlyphs">0.5</text>
<text x="41.9" y="403.6" font-size="11" text-anchor="middle" textLength="52.5" lengthAdjust="spacingAndGlyphs" transform="rotate(-90 41.9 403.6)">Depth [km]</text>
<text x="208.9" y="403.7" font-size="11" text-anchor="middle" textLength="50.5" lengthAdjust="spacingAndGlyphs" transform="rotate(-90 208.9 403.7)">Depth [km]</text>
<text x="130.4" y="499.6" font-size="11" text-anchor="middle" textLength="62" lengthAdjust="spacingAndGlyphs">Distance [km]</text>
<text x="248.5" y="499.6" font-size="11" text-anchor="middle" textLength="60.5" lengthAdjust="spacingAndGlyphs">Distance [km]</text>
<text x="395.5" y="404.5" font-size="11" text-anchor="middle" textLength="52.5" lengthAdjust="spacingAndGlyphs" transform="rotate(-90 395.5 404.5)">Depth [km]</text>
<text x="562.5" y="404.5" font-size="11" text-anchor="middle" textLength="50.5" lengthAdjust="spacingAndGlyphs" transform="rotate(-90 562.5 404.5)">Depth [km]</text>
<text x="483.8" y="500.4" font-size="11" text-anchor="middle" textLength="62" lengthAdjust="spacingAndGlyphs">Distance [km]</text>
<text x="601.5" y="500.4" font-size="11" text-anchor="middle" textLength="60.5" lengthAdjust="spacingAndGlyphs">Distance [km]</text>
<text x="44.3" y="874.8" font-size="11" text-anchor="middle" textLength="52" lengthAdjust="spacingAndGlyphs" transform="rotate(-90 44.3 874.8)">Depth [km]</text>
<text x="210" y="874.6" font-size="11" text-anchor="middle" textLength="51" lengthAdjust="spacingAndGlyphs" transform="rotate(-90 210 874.6)">Depth [km]</text>
<text x="128.5" y="977.9" font-size="11" text-anchor="middle" textLength="63.3" lengthAdjust="spacingAndGlyphs">Distance [km]</text>
<text x="262.7" y="977.9" font-size="11" text-anchor="middle" textLength="63.3" lengthAdjust="spacingAndGlyphs">Distance [km]</text>
</svg>
</body></html>
